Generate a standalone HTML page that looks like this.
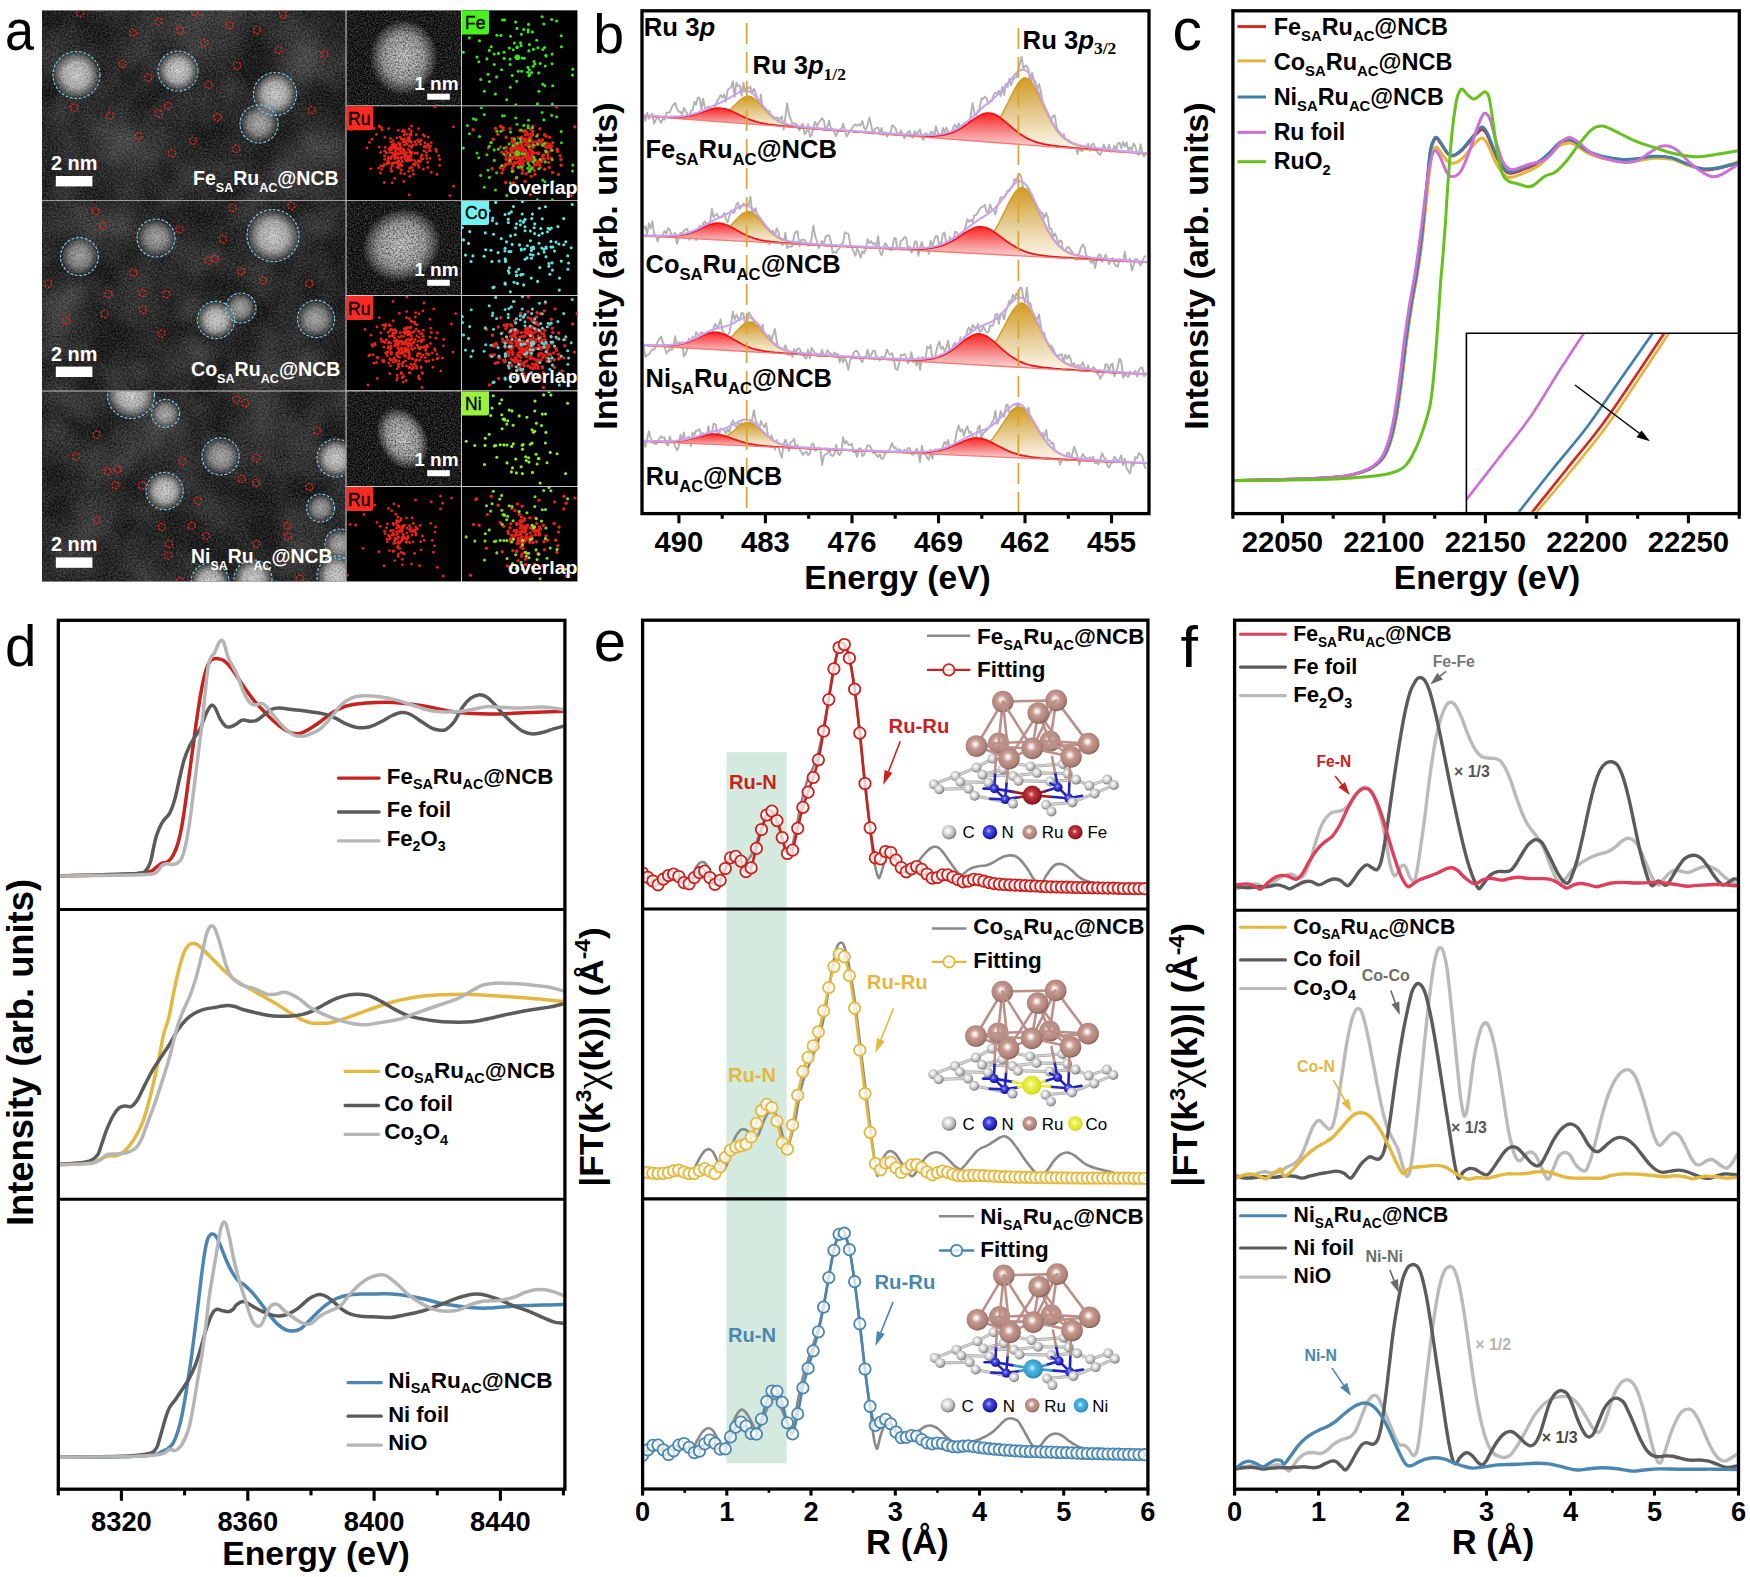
<!DOCTYPE html>
<html><head><meta charset="utf-8"><title>Figure</title>
<style>
html,body{margin:0;padding:0;background:#fff}
svg{display:block}
text{font-family:"Liberation Sans",Arial,sans-serif;white-space:pre}
.ser{font-family:"Liberation Serif","Times New Roman",serif}
</style></head><body>
<svg width="1750" height="1577" viewBox="0 0 1750 1577">
<rect width="1750" height="1577" fill="#fff"/>
<defs>
<filter id="stem" x="0" y="0" width="100%" height="100%" color-interpolation-filters="sRGB">
<feTurbulence type="fractalNoise" baseFrequency="0.55" numOctaves="2" seed="5" result="n1"/>
<feColorMatrix in="n1" type="matrix" values="0.34 0 0 0 -0.04  0.34 0 0 0 -0.04  0.34 0 0 0 -0.04  0 0 0 0 1" result="g1"/>
<feTurbulence type="fractalNoise" baseFrequency="0.025" numOctaves="2" seed="11" result="n2"/>
<feColorMatrix in="n2" type="matrix" values="0.24 0 0 0 -0.07  0.24 0 0 0 -0.07  0.24 0 0 0 -0.07  0 0 0 0 1" result="g2"/>
<feComposite in="g1" in2="g2" operator="arithmetic" k2="1" k3="1"/>
</filter>
<filter id="stem2" x="0" y="0" width="100%" height="100%" color-interpolation-filters="sRGB">
<feTurbulence type="fractalNoise" baseFrequency="0.7" numOctaves="2" seed="8" result="n1"/>
<feColorMatrix in="n1" type="matrix" values="0.6 0 0 0 -0.17  0.6 0 0 0 -0.17  0.6 0 0 0 -0.17  0 0 0 0 1"/>
</filter>
<filter id="speck" x="0" y="0" width="100%" height="100%" color-interpolation-filters="sRGB">
<feTurbulence type="fractalNoise" baseFrequency="0.6" numOctaves="1" seed="21" result="n1"/>
<feColorMatrix in="n1" type="matrix" values="0 0 0 0 0  0 0 0 0 0  0 0 0 0 0  2.4 0 0 0 -0.95"/>
</filter>
<filter id="bl1"><feGaussianBlur stdDeviation="0.45"/></filter>
<filter id="bl2"><feGaussianBlur stdDeviation="0.7"/></filter>
<filter id="bl6"><feGaussianBlur stdDeviation="5"/></filter>
<radialGradient id="blob"><stop offset="0" stop-color="#fff" stop-opacity="0.8"/><stop offset="0.55" stop-color="#fff" stop-opacity="0.64"/><stop offset="0.85" stop-color="#fff" stop-opacity="0.26"/><stop offset="1" stop-color="#fff" stop-opacity="0"/></radialGradient>
<radialGradient id="blobd"><stop offset="0" stop-color="#fff" stop-opacity="0.62"/><stop offset="0.55" stop-color="#fff" stop-opacity="0.45"/><stop offset="0.85" stop-color="#fff" stop-opacity="0.17"/><stop offset="1" stop-color="#fff" stop-opacity="0"/></radialGradient>
<radialGradient id="haze"><stop offset="0" stop-color="#fff" stop-opacity="0.13"/><stop offset="1" stop-color="#fff" stop-opacity="0"/></radialGradient>
<radialGradient id="part"><stop offset="0" stop-color="#fff" stop-opacity="0.78"/><stop offset="0.6" stop-color="#fff" stop-opacity="0.6"/><stop offset="0.85" stop-color="#fff" stop-opacity="0.25"/><stop offset="1" stop-color="#fff" stop-opacity="0"/></radialGradient>
<clipPath id="ca1"><rect x="42" y="10.4" width="303.5" height="189.8"/></clipPath>
<clipPath id="ca2"><rect x="42" y="201" width="303.5" height="189.6"/></clipPath>
<clipPath id="ca3"><rect x="42" y="391.6" width="303.5" height="189.8"/></clipPath>
</defs>
<rect x="42" y="10.4" width="535.4" height="571" fill="#c8c8c8"/>
<g clip-path="url(#ca1)">
<rect x="42" y="10.4" width="303.5" height="189.8" fill="#2c2c2c" filter="url(#stem)"/>
<circle cx="120" cy="150" r="60" fill="url(#haze)"/>
<circle cx="300" cy="60" r="40" fill="url(#haze)"/>
<circle cx="200" cy="30" r="50" fill="url(#haze)"/>
<circle cx="310" cy="170" r="50" fill="url(#haze)"/>
<circle cx="76.5" cy="75" r="23.5" fill="url(#blob)"/>
<circle cx="178" cy="71" r="20" fill="url(#blob)"/>
<circle cx="275" cy="94" r="21.5" fill="url(#blob)"/>
<circle cx="259" cy="124" r="19" fill="url(#blobd)"/>
<rect x="42" y="10.4" width="303.5" height="189.8" fill="#000" filter="url(#speck)" opacity="0.3"/>
<circle cx="76.5" cy="75" r="23.5" fill="none" stroke="#7fd0ee" stroke-width="1.15" stroke-dasharray="2.8 1.7"/>
<circle cx="178" cy="71" r="20" fill="none" stroke="#7fd0ee" stroke-width="1.15" stroke-dasharray="2.8 1.7"/>
<circle cx="275" cy="94" r="21.5" fill="none" stroke="#7fd0ee" stroke-width="1.15" stroke-dasharray="2.8 1.7"/>
<circle cx="259" cy="124" r="19" fill="none" stroke="#7fd0ee" stroke-width="1.15" stroke-dasharray="2.8 1.7"/>
<circle cx="80" cy="13" r="3.6" fill="none" stroke="#f0241c" stroke-width="1.25" stroke-dasharray="2.3 1.4"/>
<circle cx="195" cy="12.4" r="3.6" fill="none" stroke="#f0241c" stroke-width="1.25" stroke-dasharray="2.3 1.4"/>
<circle cx="283" cy="14.4" r="3.6" fill="none" stroke="#f0241c" stroke-width="1.25" stroke-dasharray="2.3 1.4"/>
<circle cx="158.4" cy="21.6" r="3.6" fill="none" stroke="#f0241c" stroke-width="1.25" stroke-dasharray="2.3 1.4"/>
<circle cx="180" cy="30.4" r="3.6" fill="none" stroke="#f0241c" stroke-width="1.25" stroke-dasharray="2.3 1.4"/>
<circle cx="229.4" cy="25.2" r="3.6" fill="none" stroke="#f0241c" stroke-width="1.25" stroke-dasharray="2.3 1.4"/>
<circle cx="257" cy="30" r="3.6" fill="none" stroke="#f0241c" stroke-width="1.25" stroke-dasharray="2.3 1.4"/>
<circle cx="133" cy="32.6" r="3.6" fill="none" stroke="#f0241c" stroke-width="1.25" stroke-dasharray="2.3 1.4"/>
<circle cx="204.4" cy="42.8" r="3.6" fill="none" stroke="#f0241c" stroke-width="1.25" stroke-dasharray="2.3 1.4"/>
<circle cx="278.6" cy="50" r="3.6" fill="none" stroke="#f0241c" stroke-width="1.25" stroke-dasharray="2.3 1.4"/>
<circle cx="324.2" cy="54.4" r="3.6" fill="none" stroke="#f0241c" stroke-width="1.25" stroke-dasharray="2.3 1.4"/>
<circle cx="122.4" cy="64" r="3.6" fill="none" stroke="#f0241c" stroke-width="1.25" stroke-dasharray="2.3 1.4"/>
<circle cx="237" cy="65.4" r="3.6" fill="none" stroke="#f0241c" stroke-width="1.25" stroke-dasharray="2.3 1.4"/>
<circle cx="148" cy="77.6" r="3.6" fill="none" stroke="#f0241c" stroke-width="1.25" stroke-dasharray="2.3 1.4"/>
<circle cx="208.6" cy="84.6" r="3.6" fill="none" stroke="#f0241c" stroke-width="1.25" stroke-dasharray="2.3 1.4"/>
<circle cx="74" cy="107.6" r="3.6" fill="none" stroke="#f0241c" stroke-width="1.25" stroke-dasharray="2.3 1.4"/>
<circle cx="110" cy="115.6" r="3.6" fill="none" stroke="#f0241c" stroke-width="1.25" stroke-dasharray="2.3 1.4"/>
<circle cx="168" cy="106" r="3.6" fill="none" stroke="#f0241c" stroke-width="1.25" stroke-dasharray="2.3 1.4"/>
<circle cx="158.2" cy="113.2" r="3.6" fill="none" stroke="#f0241c" stroke-width="1.25" stroke-dasharray="2.3 1.4"/>
<circle cx="217.4" cy="117.2" r="3.6" fill="none" stroke="#f0241c" stroke-width="1.25" stroke-dasharray="2.3 1.4"/>
<circle cx="311.6" cy="110" r="3.6" fill="none" stroke="#f0241c" stroke-width="1.25" stroke-dasharray="2.3 1.4"/>
<circle cx="138.6" cy="136" r="3.6" fill="none" stroke="#f0241c" stroke-width="1.25" stroke-dasharray="2.3 1.4"/>
<circle cx="193" cy="140.6" r="3.6" fill="none" stroke="#f0241c" stroke-width="1.25" stroke-dasharray="2.3 1.4"/>
<circle cx="172" cy="153" r="3.6" fill="none" stroke="#f0241c" stroke-width="1.25" stroke-dasharray="2.3 1.4"/>
<circle cx="236" cy="148.8" r="3.6" fill="none" stroke="#f0241c" stroke-width="1.25" stroke-dasharray="2.3 1.4"/>
</g>
<g clip-path="url(#ca2)">
<rect x="42" y="201" width="303.5" height="189.6" fill="#2c2c2c" filter="url(#stem)"/>
<circle cx="58" cy="305" r="35" fill="url(#haze)"/>
<circle cx="200" cy="355" r="25" fill="url(#haze)"/>
<circle cx="190" cy="310" r="18" fill="url(#haze)"/>
<circle cx="214" cy="255" r="14" fill="url(#haze)"/>
<circle cx="100" cy="230" r="40" fill="url(#haze)"/>
<circle cx="300" cy="370" r="40" fill="url(#haze)"/>
<circle cx="79.4" cy="256.6" r="19" fill="url(#blobd)"/>
<circle cx="156" cy="238" r="19" fill="url(#blobd)"/>
<circle cx="273" cy="235.6" r="26" fill="url(#blob)"/>
<circle cx="216" cy="320" r="18.6" fill="url(#blob)"/>
<circle cx="241" cy="308" r="15" fill="url(#blobd)"/>
<circle cx="316" cy="319" r="18.6" fill="url(#blobd)"/>
<rect x="42" y="201" width="303.5" height="189.6" fill="#000" filter="url(#speck)" opacity="0.3"/>
<circle cx="79.4" cy="256.6" r="19" fill="none" stroke="#7fd0ee" stroke-width="1.15" stroke-dasharray="2.8 1.7"/>
<circle cx="156" cy="238" r="19" fill="none" stroke="#7fd0ee" stroke-width="1.15" stroke-dasharray="2.8 1.7"/>
<circle cx="273" cy="235.6" r="26" fill="none" stroke="#7fd0ee" stroke-width="1.15" stroke-dasharray="2.8 1.7"/>
<circle cx="216" cy="320" r="18.6" fill="none" stroke="#7fd0ee" stroke-width="1.15" stroke-dasharray="2.8 1.7"/>
<circle cx="241" cy="308" r="15" fill="none" stroke="#7fd0ee" stroke-width="1.15" stroke-dasharray="2.8 1.7"/>
<circle cx="316" cy="319" r="18.6" fill="none" stroke="#7fd0ee" stroke-width="1.15" stroke-dasharray="2.8 1.7"/>
<circle cx="95.6" cy="211.4" r="3.6" fill="none" stroke="#f0241c" stroke-width="1.25" stroke-dasharray="2.3 1.4"/>
<circle cx="102.6" cy="225.4" r="3.6" fill="none" stroke="#f0241c" stroke-width="1.25" stroke-dasharray="2.3 1.4"/>
<circle cx="179.6" cy="229.4" r="3.6" fill="none" stroke="#f0241c" stroke-width="1.25" stroke-dasharray="2.3 1.4"/>
<circle cx="232.6" cy="207.8" r="3.6" fill="none" stroke="#f0241c" stroke-width="1.25" stroke-dasharray="2.3 1.4"/>
<circle cx="291.4" cy="206" r="3.6" fill="none" stroke="#f0241c" stroke-width="1.25" stroke-dasharray="2.3 1.4"/>
<circle cx="223" cy="239" r="3.6" fill="none" stroke="#f0241c" stroke-width="1.25" stroke-dasharray="2.3 1.4"/>
<circle cx="208.4" cy="260.4" r="3.6" fill="none" stroke="#f0241c" stroke-width="1.25" stroke-dasharray="2.3 1.4"/>
<circle cx="215" cy="258.6" r="3.6" fill="none" stroke="#f0241c" stroke-width="1.25" stroke-dasharray="2.3 1.4"/>
<circle cx="133.4" cy="272.6" r="3.6" fill="none" stroke="#f0241c" stroke-width="1.25" stroke-dasharray="2.3 1.4"/>
<circle cx="241.2" cy="271.2" r="3.6" fill="none" stroke="#f0241c" stroke-width="1.25" stroke-dasharray="2.3 1.4"/>
<circle cx="262.8" cy="280.4" r="3.6" fill="none" stroke="#f0241c" stroke-width="1.25" stroke-dasharray="2.3 1.4"/>
<circle cx="309.2" cy="283.4" r="3.6" fill="none" stroke="#f0241c" stroke-width="1.25" stroke-dasharray="2.3 1.4"/>
<circle cx="48.4" cy="283.4" r="3.6" fill="none" stroke="#f0241c" stroke-width="1.25" stroke-dasharray="2.3 1.4"/>
<circle cx="108.6" cy="294" r="3.6" fill="none" stroke="#f0241c" stroke-width="1.25" stroke-dasharray="2.3 1.4"/>
<circle cx="142.4" cy="293" r="3.6" fill="none" stroke="#f0241c" stroke-width="1.25" stroke-dasharray="2.3 1.4"/>
<circle cx="166.4" cy="294.2" r="3.6" fill="none" stroke="#f0241c" stroke-width="1.25" stroke-dasharray="2.3 1.4"/>
<circle cx="104.6" cy="314" r="3.6" fill="none" stroke="#f0241c" stroke-width="1.25" stroke-dasharray="2.3 1.4"/>
<circle cx="143" cy="309.6" r="3.6" fill="none" stroke="#f0241c" stroke-width="1.25" stroke-dasharray="2.3 1.4"/>
<circle cx="66.6" cy="320.8" r="3.6" fill="none" stroke="#f0241c" stroke-width="1.25" stroke-dasharray="2.3 1.4"/>
<circle cx="161.6" cy="333.6" r="3.6" fill="none" stroke="#f0241c" stroke-width="1.25" stroke-dasharray="2.3 1.4"/>
</g>
<g clip-path="url(#ca3)">
<rect x="42" y="391.6" width="303.5" height="189.8" fill="#2c2c2c" filter="url(#stem)"/>
<circle cx="150" cy="440" r="50" fill="url(#haze)"/>
<circle cx="90" cy="400" r="30" fill="url(#haze)"/>
<circle cx="260" cy="420" r="40" fill="url(#haze)"/>
<circle cx="300" cy="560" r="30" fill="url(#haze)"/>
<circle cx="80" cy="540" r="40" fill="url(#haze)"/>
<circle cx="131" cy="395" r="23.5" fill="url(#blob)"/>
<circle cx="165.6" cy="413.4" r="14" fill="url(#blobd)"/>
<circle cx="220.6" cy="456.4" r="18.6" fill="url(#blobd)"/>
<circle cx="164.6" cy="491" r="18.6" fill="url(#blob)"/>
<circle cx="336" cy="458" r="19" fill="url(#blob)"/>
<circle cx="320.6" cy="508" r="14" fill="url(#blobd)"/>
<circle cx="340" cy="544" r="15" fill="url(#blobd)"/>
<circle cx="210" cy="582" r="19" fill="url(#blob)"/>
<circle cx="253" cy="579" r="19" fill="url(#blob)"/>
<circle cx="337" cy="576" r="20" fill="url(#blob)"/>
<rect x="42" y="391.6" width="303.5" height="189.8" fill="#000" filter="url(#speck)" opacity="0.3"/>
<circle cx="131" cy="395" r="23.5" fill="none" stroke="#7fd0ee" stroke-width="1.15" stroke-dasharray="2.8 1.7"/>
<circle cx="165.6" cy="413.4" r="14" fill="none" stroke="#7fd0ee" stroke-width="1.15" stroke-dasharray="2.8 1.7"/>
<circle cx="220.6" cy="456.4" r="18.6" fill="none" stroke="#7fd0ee" stroke-width="1.15" stroke-dasharray="2.8 1.7"/>
<circle cx="164.6" cy="491" r="18.6" fill="none" stroke="#7fd0ee" stroke-width="1.15" stroke-dasharray="2.8 1.7"/>
<circle cx="336" cy="458" r="19" fill="none" stroke="#7fd0ee" stroke-width="1.15" stroke-dasharray="2.8 1.7"/>
<circle cx="320.6" cy="508" r="14" fill="none" stroke="#7fd0ee" stroke-width="1.15" stroke-dasharray="2.8 1.7"/>
<circle cx="340" cy="544" r="15" fill="none" stroke="#7fd0ee" stroke-width="1.15" stroke-dasharray="2.8 1.7"/>
<circle cx="210" cy="582" r="19" fill="none" stroke="#7fd0ee" stroke-width="1.15" stroke-dasharray="2.8 1.7"/>
<circle cx="253" cy="579" r="19" fill="none" stroke="#7fd0ee" stroke-width="1.15" stroke-dasharray="2.8 1.7"/>
<circle cx="337" cy="576" r="20" fill="none" stroke="#7fd0ee" stroke-width="1.15" stroke-dasharray="2.8 1.7"/>
<circle cx="236.4" cy="399.4" r="3.6" fill="none" stroke="#f0241c" stroke-width="1.25" stroke-dasharray="2.3 1.4"/>
<circle cx="245.2" cy="403" r="3.6" fill="none" stroke="#f0241c" stroke-width="1.25" stroke-dasharray="2.3 1.4"/>
<circle cx="96.6" cy="434.4" r="3.6" fill="none" stroke="#f0241c" stroke-width="1.25" stroke-dasharray="2.3 1.4"/>
<circle cx="316.8" cy="430.4" r="3.6" fill="none" stroke="#f0241c" stroke-width="1.25" stroke-dasharray="2.3 1.4"/>
<circle cx="76" cy="456.4" r="3.6" fill="none" stroke="#f0241c" stroke-width="1.25" stroke-dasharray="2.3 1.4"/>
<circle cx="182.4" cy="461.4" r="3.6" fill="none" stroke="#f0241c" stroke-width="1.25" stroke-dasharray="2.3 1.4"/>
<circle cx="256.2" cy="458" r="3.6" fill="none" stroke="#f0241c" stroke-width="1.25" stroke-dasharray="2.3 1.4"/>
<circle cx="107.6" cy="471" r="3.6" fill="none" stroke="#f0241c" stroke-width="1.25" stroke-dasharray="2.3 1.4"/>
<circle cx="117.2" cy="469.2" r="3.6" fill="none" stroke="#f0241c" stroke-width="1.25" stroke-dasharray="2.3 1.4"/>
<circle cx="115.4" cy="485.2" r="3.6" fill="none" stroke="#f0241c" stroke-width="1.25" stroke-dasharray="2.3 1.4"/>
<circle cx="142.2" cy="485.4" r="3.6" fill="none" stroke="#f0241c" stroke-width="1.25" stroke-dasharray="2.3 1.4"/>
<circle cx="241.6" cy="478.8" r="3.6" fill="none" stroke="#f0241c" stroke-width="1.25" stroke-dasharray="2.3 1.4"/>
<circle cx="256.2" cy="483" r="3.6" fill="none" stroke="#f0241c" stroke-width="1.25" stroke-dasharray="2.3 1.4"/>
<circle cx="309.4" cy="487" r="3.6" fill="none" stroke="#f0241c" stroke-width="1.25" stroke-dasharray="2.3 1.4"/>
<circle cx="198.2" cy="501.2" r="3.6" fill="none" stroke="#f0241c" stroke-width="1.25" stroke-dasharray="2.3 1.4"/>
<circle cx="96.6" cy="520.6" r="3.6" fill="none" stroke="#f0241c" stroke-width="1.25" stroke-dasharray="2.3 1.4"/>
<circle cx="161.8" cy="527" r="3.6" fill="none" stroke="#f0241c" stroke-width="1.25" stroke-dasharray="2.3 1.4"/>
<circle cx="191.8" cy="525.8" r="3.6" fill="none" stroke="#f0241c" stroke-width="1.25" stroke-dasharray="2.3 1.4"/>
<circle cx="206.2" cy="536" r="3.6" fill="none" stroke="#f0241c" stroke-width="1.25" stroke-dasharray="2.3 1.4"/>
<circle cx="287.6" cy="525.6" r="3.6" fill="none" stroke="#f0241c" stroke-width="1.25" stroke-dasharray="2.3 1.4"/>
<circle cx="287.6" cy="536" r="3.6" fill="none" stroke="#f0241c" stroke-width="1.25" stroke-dasharray="2.3 1.4"/>
<circle cx="168.8" cy="543.8" r="3.6" fill="none" stroke="#f0241c" stroke-width="1.25" stroke-dasharray="2.3 1.4"/>
<circle cx="256.4" cy="543.8" r="3.6" fill="none" stroke="#f0241c" stroke-width="1.25" stroke-dasharray="2.3 1.4"/>
<circle cx="168" cy="555.6" r="3.6" fill="none" stroke="#f0241c" stroke-width="1.25" stroke-dasharray="2.3 1.4"/>
<circle cx="300" cy="578.6" r="3.6" fill="none" stroke="#f0241c" stroke-width="1.25" stroke-dasharray="2.3 1.4"/>
<circle cx="180" cy="581" r="3.6" fill="none" stroke="#f0241c" stroke-width="1.25" stroke-dasharray="2.3 1.4"/>
</g>
<rect x="55.8" y="176" width="36.6" height="10.4" fill="#fff"/>
<text x="51" y="170" font-size="20" font-weight="bold" text-anchor="start" fill="#fff" textLength="46.4" lengthAdjust="spacingAndGlyphs">2 nm</text>
<text x="193" y="185" font-size="19.5" font-weight="bold" text-anchor="start" fill="#fff" textLength="145.6" lengthAdjust="spacingAndGlyphs">Fe<tspan font-size="12.5" dy="7">SA</tspan><tspan dy="-7">Ru</tspan><tspan font-size="12.5" dy="7">AC</tspan><tspan dy="-7">@NCB</tspan></text>
<rect x="55.8" y="366.6" width="36.6" height="10.4" fill="#fff"/>
<text x="51" y="360.6" font-size="20" font-weight="bold" text-anchor="start" fill="#fff" textLength="46.4" lengthAdjust="spacingAndGlyphs">2 nm</text>
<text x="191" y="375.6" font-size="19.5" font-weight="bold" text-anchor="start" fill="#fff" textLength="149.5" lengthAdjust="spacingAndGlyphs">Co<tspan font-size="12.5" dy="7">SA</tspan><tspan dy="-7">Ru</tspan><tspan font-size="12.5" dy="7">AC</tspan><tspan dy="-7">@NCB</tspan></text>
<rect x="55.8" y="557.4" width="36.6" height="10.4" fill="#fff"/>
<text x="51" y="550.6" font-size="20" font-weight="bold" text-anchor="start" fill="#fff" textLength="46.4" lengthAdjust="spacingAndGlyphs">2 nm</text>
<text x="191" y="562.7" font-size="19.5" font-weight="bold" text-anchor="start" fill="#fff" textLength="141.5" lengthAdjust="spacingAndGlyphs">Ni<tspan font-size="12.5" dy="7">SA</tspan><tspan dy="-7">Ru</tspan><tspan font-size="12.5" dy="7">AC</tspan><tspan dy="-7">@NCB</tspan></text>
<clipPath id="cs0a"><rect x="346.6" y="10.4" width="114.4" height="94.9"/></clipPath>
<clipPath id="cs0b"><rect x="462" y="10.4" width="115.4" height="94.9"/></clipPath>
<clipPath id="cs0c"><rect x="346.6" y="106.3" width="114.4" height="93.9"/></clipPath>
<clipPath id="cs0d"><rect x="462" y="106.3" width="115.4" height="93.9"/></clipPath>
<g clip-path="url(#cs0a)">
<rect x="346.6" y="10.4" width="114.4" height="94.9" fill="#222" filter="url(#stem2)"/>
<ellipse cx="403.6" cy="57.4" rx="34" ry="38" fill="url(#part)" transform="rotate(0 403.6 57.4)"/>
<rect x="346.6" y="10.4" width="114.4" height="94.9" fill="#000" filter="url(#speck)" opacity="0.6"/>
</g>
<rect x="427.2" y="93.7" width="22.6" height="6" fill="#fff"/>
<text x="414.3" y="89.8" font-size="19" font-weight="bold" text-anchor="start" fill="#fff" textLength="44.3" lengthAdjust="spacingAndGlyphs">1 nm</text>
<rect x="462" y="10.4" width="115.4" height="94.9" fill="#000"/>
<g clip-path="url(#cs0b)" fill="#38e61e" filter="url(#bl1)"><circle cx="538.8" cy="72.9" r="1.55"/><circle cx="528.5" cy="24.4" r="1.55"/><circle cx="521.3" cy="34.2" r="1.55"/><circle cx="532.4" cy="31.9" r="1.55"/><circle cx="545.3" cy="66" r="1.55"/><circle cx="572.8" cy="69.2" r="1.55"/><circle cx="542.8" cy="49.5" r="1.55"/><circle cx="510.3" cy="87.2" r="1.55"/><circle cx="527.9" cy="67.4" r="1.55"/><circle cx="531.6" cy="72.5" r="1.55"/><circle cx="484.3" cy="18.7" r="1.55"/><circle cx="537.4" cy="103.9" r="1.55"/><circle cx="479.5" cy="40.7" r="1.55"/><circle cx="529.4" cy="44.6" r="1.55"/><circle cx="517.3" cy="47.1" r="1.55"/><circle cx="546.1" cy="56.1" r="1.55"/><circle cx="528.2" cy="29.8" r="1.55"/><circle cx="538.9" cy="91.3" r="1.55"/><circle cx="537.9" cy="47.8" r="1.55"/><circle cx="494.3" cy="64.5" r="1.55"/><circle cx="533.4" cy="49.4" r="1.55"/><circle cx="469.4" cy="37.9" r="1.55"/><circle cx="496.9" cy="35.3" r="1.55"/><circle cx="528.1" cy="31.9" r="1.55"/><circle cx="516.7" cy="81.3" r="1.55"/><circle cx="504.1" cy="52.2" r="1.55"/><circle cx="536.7" cy="40.3" r="1.55"/><circle cx="486.9" cy="58.9" r="1.55"/><circle cx="542.1" cy="16.7" r="1.55"/><circle cx="514.3" cy="43" r="1.55"/><circle cx="551.7" cy="19.5" r="1.55"/><circle cx="515.7" cy="22.1" r="1.55"/><circle cx="498.4" cy="53.4" r="1.55"/><circle cx="513.2" cy="49.8" r="1.55"/><circle cx="504.4" cy="19.9" r="1.55"/><circle cx="542.8" cy="84.2" r="1.55"/><circle cx="521" cy="45.6" r="1.55"/><circle cx="552.1" cy="63.8" r="1.55"/><circle cx="527.7" cy="72.3" r="1.55"/><circle cx="500.9" cy="35.4" r="1.55"/><circle cx="523.8" cy="29.5" r="1.55"/><circle cx="522.2" cy="58.1" r="1.55"/><circle cx="534.9" cy="64" r="1.55"/><circle cx="489.3" cy="50.4" r="1.55"/><circle cx="529.6" cy="74.6" r="1.55"/><circle cx="544.5" cy="47.5" r="1.55"/><circle cx="517" cy="28.4" r="1.55"/><circle cx="510.5" cy="36.2" r="1.55"/><circle cx="491.2" cy="46.7" r="1.55"/><circle cx="544.9" cy="85.8" r="1.55"/><circle cx="528.8" cy="50.9" r="1.55"/><circle cx="529.3" cy="69.7" r="1.55"/><circle cx="534" cy="61.5" r="1.55"/><circle cx="516.9" cy="47.4" r="1.55"/><circle cx="572.5" cy="75.1" r="1.55"/><circle cx="501.6" cy="69.8" r="1.55"/><circle cx="504.1" cy="58.4" r="1.55"/><circle cx="510.1" cy="59.1" r="1.55"/><circle cx="509.3" cy="48.1" r="1.55"/><circle cx="533.2" cy="66.2" r="1.55"/><circle cx="480.7" cy="79.5" r="1.55"/><circle cx="473.5" cy="23" r="1.55"/><circle cx="510.1" cy="64.5" r="1.55"/><circle cx="520.5" cy="42.8" r="1.55"/><circle cx="545.9" cy="55.2" r="1.55"/><circle cx="521.7" cy="71.2" r="1.55"/><circle cx="506.7" cy="99.7" r="1.55"/><circle cx="552.1" cy="54.1" r="1.55"/><circle cx="524.3" cy="58.2" r="1.55"/><circle cx="540.2" cy="63.5" r="1.55"/><circle cx="467.3" cy="29.7" r="1.55"/><circle cx="543.8" cy="24" r="1.55"/><circle cx="561.2" cy="35.7" r="1.55"/><circle cx="463.3" cy="52.2" r="1.55"/><circle cx="481.3" cy="11.9" r="1.55"/><circle cx="494.1" cy="54" r="1.55"/><circle cx="484.3" cy="91.3" r="1.55"/><circle cx="496.6" cy="76.9" r="1.55"/><circle cx="502.5" cy="20" r="1.55"/><circle cx="512.2" cy="75.5" r="1.55"/><circle cx="518.2" cy="71.3" r="1.55"/><circle cx="476" cy="23.7" r="1.55"/><circle cx="477" cy="57.1" r="1.55"/><circle cx="561.4" cy="46.8" r="1.55"/><circle cx="556.7" cy="21" r="1.55"/><circle cx="488" cy="74.3" r="1.55"/><circle cx="552.7" cy="85.7" r="1.55"/><circle cx="478.8" cy="61.8" r="1.55"/><circle cx="489.4" cy="81.5" r="1.55"/><circle cx="528.9" cy="75.7" r="1.55"/><circle cx="552.4" cy="104" r="1.55"/><circle cx="515.8" cy="104.8" r="1.55"/><circle cx="495.4" cy="94.1" r="1.55"/><circle cx="517.3" cy="57.3" r="2.9"/></g>
<path d="M462 10.4 h27 v21.5 q0 2.5 -2.5 2.5 h-24.5 z" fill="#48f01e"/>
<text x="465" y="28.7" font-size="17.5" font-weight="normal" text-anchor="start" fill="#000" stroke="#000" stroke-width="0.35">Fe</text>
<rect x="346.6" y="106.3" width="114.4" height="93.9" fill="#000"/>
<g clip-path="url(#cs0c)" fill="#f0241a" filter="url(#bl1)"><circle cx="392.7" cy="146.7" r="1.4"/><circle cx="417" cy="153.4" r="1.4"/><circle cx="410.4" cy="141.5" r="1.4"/><circle cx="396" cy="149.7" r="1.4"/><circle cx="391.1" cy="158.6" r="1.4"/><circle cx="410.6" cy="160.5" r="1.4"/><circle cx="427.8" cy="167.4" r="1.4"/><circle cx="386.2" cy="153" r="1.4"/><circle cx="406.7" cy="134.3" r="1.4"/><circle cx="394.8" cy="178.3" r="1.4"/><circle cx="369.5" cy="142.4" r="1.4"/><circle cx="401.5" cy="164.8" r="1.4"/><circle cx="427.5" cy="162.4" r="1.4"/><circle cx="384.8" cy="137.3" r="1.4"/><circle cx="380.5" cy="173" r="1.4"/><circle cx="403.8" cy="130.4" r="1.4"/><circle cx="430" cy="158.3" r="1.4"/><circle cx="426.2" cy="147.6" r="1.4"/><circle cx="384.7" cy="159.3" r="1.4"/><circle cx="402.3" cy="161.5" r="1.4"/><circle cx="419.8" cy="142.1" r="1.4"/><circle cx="411.2" cy="146.8" r="1.4"/><circle cx="381" cy="165.8" r="1.4"/><circle cx="414.8" cy="165" r="1.4"/><circle cx="393.3" cy="155.9" r="1.4"/><circle cx="404" cy="135" r="1.4"/><circle cx="383.5" cy="165.6" r="1.4"/><circle cx="409.8" cy="152.5" r="1.4"/><circle cx="415.1" cy="153.1" r="1.4"/><circle cx="394.6" cy="156.9" r="1.4"/><circle cx="421.3" cy="158.5" r="1.4"/><circle cx="418" cy="164.7" r="1.4"/><circle cx="428.1" cy="144.3" r="1.4"/><circle cx="407.9" cy="160.7" r="1.4"/><circle cx="414.8" cy="141.7" r="1.4"/><circle cx="417.3" cy="152.9" r="1.4"/><circle cx="390.5" cy="147.5" r="1.4"/><circle cx="418" cy="160.9" r="1.4"/><circle cx="389.5" cy="152.3" r="1.4"/><circle cx="426.3" cy="152.4" r="1.4"/><circle cx="404.2" cy="154.5" r="1.4"/><circle cx="410.6" cy="157.1" r="1.4"/><circle cx="407.3" cy="156.3" r="1.4"/><circle cx="405.9" cy="142.7" r="1.4"/><circle cx="394.3" cy="162.9" r="1.4"/><circle cx="391.1" cy="157" r="1.4"/><circle cx="384.8" cy="151.2" r="1.4"/><circle cx="399" cy="167.6" r="1.4"/><circle cx="409.2" cy="160.3" r="1.4"/><circle cx="397.3" cy="163.3" r="1.4"/><circle cx="397.3" cy="167.3" r="1.4"/><circle cx="396.8" cy="137.9" r="1.4"/><circle cx="404.9" cy="154.4" r="1.4"/><circle cx="407" cy="160.6" r="1.4"/><circle cx="411.3" cy="130.9" r="1.4"/><circle cx="413.5" cy="174.2" r="1.4"/><circle cx="417.7" cy="139.9" r="1.4"/><circle cx="391.6" cy="148.7" r="1.4"/><circle cx="395.2" cy="146.8" r="1.4"/><circle cx="390.8" cy="168.5" r="1.4"/><circle cx="403.7" cy="181.4" r="1.4"/><circle cx="400.7" cy="158.7" r="1.4"/><circle cx="394.6" cy="147" r="1.4"/><circle cx="387.6" cy="161.1" r="1.4"/><circle cx="406.7" cy="161" r="1.4"/><circle cx="388.7" cy="128.7" r="1.4"/><circle cx="409.3" cy="156.5" r="1.4"/><circle cx="408.5" cy="157.3" r="1.4"/><circle cx="422.9" cy="158.8" r="1.4"/><circle cx="392" cy="152.8" r="1.4"/><circle cx="393.3" cy="162.8" r="1.4"/><circle cx="391.2" cy="171.2" r="1.4"/><circle cx="414.5" cy="160.6" r="1.4"/><circle cx="396.7" cy="154.8" r="1.4"/><circle cx="394.8" cy="156.8" r="1.4"/><circle cx="401.4" cy="148" r="1.4"/><circle cx="405.9" cy="159.8" r="1.4"/><circle cx="420.6" cy="161" r="1.4"/><circle cx="409.8" cy="176.4" r="1.4"/><circle cx="401" cy="153.4" r="1.4"/><circle cx="384.3" cy="182.5" r="1.4"/><circle cx="411.5" cy="126.1" r="1.4"/><circle cx="408.1" cy="158.3" r="1.4"/><circle cx="419" cy="167.4" r="1.4"/><circle cx="408.3" cy="149.5" r="1.4"/><circle cx="418.5" cy="160.8" r="1.4"/><circle cx="400.8" cy="165.5" r="1.4"/><circle cx="370.7" cy="168.8" r="1.4"/><circle cx="404.7" cy="173.8" r="1.4"/><circle cx="409.6" cy="168.2" r="1.4"/><circle cx="399.4" cy="153.8" r="1.4"/><circle cx="424.1" cy="146.9" r="1.4"/><circle cx="371.9" cy="139.2" r="1.4"/><circle cx="399.3" cy="149.4" r="1.4"/><circle cx="398.2" cy="160.8" r="1.4"/><circle cx="436.2" cy="151.4" r="1.4"/><circle cx="398.3" cy="130.3" r="1.4"/><circle cx="397.9" cy="153.5" r="1.4"/><circle cx="429.4" cy="150.6" r="1.4"/><circle cx="424.9" cy="142.9" r="1.4"/><circle cx="387.8" cy="163.3" r="1.4"/><circle cx="431.2" cy="172.4" r="1.4"/><circle cx="409.3" cy="145.8" r="1.4"/><circle cx="395.1" cy="147.9" r="1.4"/><circle cx="386.9" cy="163.7" r="1.4"/><circle cx="398.3" cy="166.6" r="1.4"/><circle cx="431.3" cy="142.6" r="1.4"/><circle cx="409.1" cy="129" r="1.4"/><circle cx="401.3" cy="170" r="1.4"/><circle cx="376.5" cy="134.3" r="1.4"/><circle cx="426.7" cy="158.4" r="1.4"/><circle cx="393" cy="140.7" r="1.4"/><circle cx="384.6" cy="156" r="1.4"/><circle cx="407.7" cy="140.4" r="1.4"/><circle cx="398.6" cy="142.8" r="1.4"/><circle cx="420.6" cy="144.3" r="1.4"/><circle cx="412.9" cy="145.3" r="1.4"/><circle cx="415.9" cy="144.2" r="1.4"/><circle cx="429.2" cy="147.7" r="1.4"/><circle cx="415.8" cy="162.8" r="1.4"/><circle cx="394.8" cy="158.7" r="1.4"/><circle cx="402.1" cy="157.4" r="1.4"/><circle cx="411.9" cy="152.5" r="1.4"/><circle cx="421.1" cy="139.9" r="1.4"/><circle cx="400.3" cy="163.4" r="1.4"/><circle cx="411.4" cy="142.3" r="1.4"/><circle cx="413.5" cy="164.1" r="1.4"/><circle cx="403.4" cy="153.1" r="1.4"/><circle cx="397.5" cy="148" r="1.4"/><circle cx="379.1" cy="147.1" r="1.4"/><circle cx="406.8" cy="144.2" r="1.4"/><circle cx="408.9" cy="141.1" r="1.4"/><circle cx="388.9" cy="162.5" r="1.4"/><circle cx="392.2" cy="164.1" r="1.4"/><circle cx="427.7" cy="145.4" r="1.4"/><circle cx="401.1" cy="157.7" r="1.4"/><circle cx="403.7" cy="150.3" r="1.4"/><circle cx="385.1" cy="147.4" r="1.4"/><circle cx="424.7" cy="146.1" r="1.4"/><circle cx="407.8" cy="138.1" r="1.4"/><circle cx="388.3" cy="157.4" r="1.4"/><circle cx="406.5" cy="152.7" r="1.4"/><circle cx="400.3" cy="145.5" r="1.4"/><circle cx="388.3" cy="158.8" r="1.4"/><circle cx="409" cy="157.8" r="1.4"/><circle cx="379.8" cy="127" r="1.4"/><circle cx="411.7" cy="159.8" r="1.4"/><circle cx="389.2" cy="149" r="1.4"/><circle cx="412.9" cy="170.5" r="1.4"/><circle cx="393.4" cy="145.3" r="1.4"/><circle cx="390" cy="150" r="1.4"/><circle cx="396.7" cy="162.4" r="1.4"/><circle cx="423.3" cy="169.2" r="1.4"/><circle cx="421.1" cy="156.1" r="1.4"/><circle cx="400.1" cy="137.2" r="1.4"/><circle cx="411.6" cy="167.5" r="1.4"/><circle cx="404.5" cy="139" r="1.4"/><circle cx="395.6" cy="146.3" r="1.4"/><circle cx="392.2" cy="182.9" r="1.4"/><circle cx="384.2" cy="164.5" r="1.4"/><circle cx="404.2" cy="151.5" r="1.4"/><circle cx="424" cy="151" r="1.4"/><circle cx="410.3" cy="168" r="1.4"/><circle cx="404.3" cy="145.1" r="1.4"/><circle cx="411.2" cy="154.8" r="1.4"/><circle cx="422.1" cy="154.9" r="1.4"/><circle cx="411.4" cy="153.2" r="1.4"/><circle cx="411.1" cy="133.5" r="1.4"/><circle cx="438.8" cy="155.7" r="1.4"/><circle cx="395.1" cy="147.7" r="1.4"/><circle cx="430.4" cy="150.6" r="1.4"/><circle cx="383" cy="166.3" r="1.4"/><circle cx="393.4" cy="144" r="1.4"/><circle cx="398.7" cy="164.7" r="1.4"/><circle cx="428.2" cy="137.2" r="1.4"/><circle cx="405.2" cy="141.7" r="1.4"/><circle cx="397.4" cy="157.8" r="1.4"/><circle cx="374" cy="128.5" r="1.4"/><circle cx="390.5" cy="138.4" r="1.4"/><circle cx="401.8" cy="165.6" r="1.4"/><circle cx="400" cy="150.5" r="1.4"/><circle cx="409.5" cy="139.8" r="1.4"/><circle cx="389.5" cy="163.1" r="1.4"/><circle cx="409.7" cy="134.4" r="1.4"/><circle cx="400" cy="148" r="1.4"/><circle cx="416.3" cy="144.5" r="1.4"/><circle cx="393.3" cy="153.6" r="1.4"/><circle cx="391.7" cy="171.1" r="1.4"/><circle cx="394.8" cy="148.6" r="1.4"/><circle cx="405.6" cy="155.3" r="1.4"/><circle cx="439.7" cy="165.3" r="1.4"/><circle cx="404.8" cy="132" r="1.4"/><circle cx="426.5" cy="155.4" r="1.4"/><circle cx="400.9" cy="173.2" r="1.4"/><circle cx="411" cy="135.1" r="1.4"/><circle cx="391.9" cy="144.8" r="1.4"/><circle cx="396" cy="145.5" r="1.4"/><circle cx="396.5" cy="157.8" r="1.4"/><circle cx="404.6" cy="156.8" r="1.4"/><circle cx="410.1" cy="151" r="1.4"/><circle cx="401.2" cy="138.8" r="1.4"/><circle cx="403.1" cy="139.7" r="1.4"/><circle cx="404" cy="150.2" r="1.4"/><circle cx="394.2" cy="143.6" r="1.4"/><circle cx="391.5" cy="149.6" r="1.4"/><circle cx="403.3" cy="139.7" r="1.4"/><circle cx="416.3" cy="134.7" r="1.4"/><circle cx="398" cy="158" r="1.4"/><circle cx="398.6" cy="143.9" r="1.4"/><circle cx="394.6" cy="155.4" r="1.4"/><circle cx="423.2" cy="134.7" r="1.4"/><circle cx="397.9" cy="154.1" r="1.4"/><circle cx="381.7" cy="169.3" r="1.4"/><circle cx="424.6" cy="136.2" r="1.4"/><circle cx="378.7" cy="167.9" r="1.4"/><circle cx="395.4" cy="153.3" r="1.4"/><circle cx="405.5" cy="158.7" r="1.4"/><circle cx="380.5" cy="152.3" r="1.4"/><circle cx="419.4" cy="161.7" r="1.4"/><circle cx="402.3" cy="131.4" r="1.4"/><circle cx="392.9" cy="147.5" r="1.4"/><circle cx="409.3" cy="137.5" r="1.4"/><circle cx="408.7" cy="141.4" r="1.4"/><circle cx="387.9" cy="161.9" r="1.4"/><circle cx="398.1" cy="148.8" r="1.4"/><circle cx="411.6" cy="147.3" r="1.4"/><circle cx="413.4" cy="164.5" r="1.4"/><circle cx="399" cy="161.1" r="1.4"/><circle cx="367" cy="147.9" r="1.4"/><circle cx="391.9" cy="165.9" r="1.4"/><circle cx="408.6" cy="171.3" r="1.4"/><circle cx="400.1" cy="143.6" r="1.4"/><circle cx="403.2" cy="142.1" r="1.4"/><circle cx="418.5" cy="128.7" r="1.4"/><circle cx="418.5" cy="141.6" r="1.4"/><circle cx="395.1" cy="151.6" r="1.4"/><circle cx="401.1" cy="151.7" r="1.4"/><circle cx="430.4" cy="146.1" r="1.4"/><circle cx="403.2" cy="149.3" r="1.4"/><circle cx="390.7" cy="141.8" r="1.4"/><circle cx="381.8" cy="130.1" r="1.4"/><circle cx="439.6" cy="159.4" r="1.4"/><circle cx="435.8" cy="149.3" r="1.4"/><circle cx="453.6" cy="186.2" r="1.4"/><circle cx="409.2" cy="194.8" r="1.4"/><circle cx="379.2" cy="126.2" r="1.4"/><circle cx="449.9" cy="195.6" r="1.4"/><circle cx="437" cy="174.4" r="1.4"/><circle cx="351.7" cy="129.7" r="1.4"/><circle cx="435.1" cy="106.9" r="1.4"/><circle cx="381.7" cy="127.8" r="1.4"/><circle cx="453.4" cy="126.9" r="1.4"/></g>
<path d="M346.6 106.3 h26.5 v21.5 q0 2.5 -2.5 2.5 h-24 z" fill="#fa2a22"/>
<text x="348.1" y="124.8" font-size="17.5" font-weight="normal" text-anchor="start" fill="#000" stroke="#000" stroke-width="0.35">Ru</text>
<rect x="462" y="106.3" width="115.4" height="93.9" fill="#000"/>
<g clip-path="url(#cs0d)" fill="#e8201a" filter="url(#bl2)"><circle cx="514.1" cy="146.7" r="1.7"/><circle cx="538.4" cy="153.4" r="1.7"/><circle cx="531.8" cy="141.5" r="1.7"/><circle cx="517.4" cy="149.7" r="1.7"/><circle cx="512.5" cy="158.6" r="1.7"/><circle cx="532" cy="160.5" r="1.7"/><circle cx="549.2" cy="167.4" r="1.7"/><circle cx="507.6" cy="153" r="1.7"/><circle cx="528.1" cy="134.3" r="1.7"/><circle cx="516.2" cy="178.3" r="1.7"/><circle cx="490.9" cy="142.4" r="1.7"/><circle cx="522.9" cy="164.8" r="1.7"/><circle cx="548.9" cy="162.4" r="1.7"/><circle cx="506.2" cy="137.3" r="1.7"/><circle cx="501.9" cy="173" r="1.7"/><circle cx="525.2" cy="130.4" r="1.7"/><circle cx="551.4" cy="158.3" r="1.7"/><circle cx="547.6" cy="147.6" r="1.7"/><circle cx="506.1" cy="159.3" r="1.7"/><circle cx="523.7" cy="161.5" r="1.7"/><circle cx="541.2" cy="142.1" r="1.7"/><circle cx="532.6" cy="146.8" r="1.7"/><circle cx="502.4" cy="165.8" r="1.7"/><circle cx="536.2" cy="165" r="1.7"/><circle cx="514.7" cy="155.9" r="1.7"/><circle cx="525.4" cy="135" r="1.7"/><circle cx="504.9" cy="165.6" r="1.7"/><circle cx="531.2" cy="152.5" r="1.7"/><circle cx="536.5" cy="153.1" r="1.7"/><circle cx="516" cy="156.9" r="1.7"/><circle cx="542.7" cy="158.5" r="1.7"/><circle cx="539.4" cy="164.7" r="1.7"/><circle cx="549.5" cy="144.3" r="1.7"/><circle cx="529.3" cy="160.7" r="1.7"/><circle cx="536.2" cy="141.7" r="1.7"/><circle cx="538.7" cy="152.9" r="1.7"/><circle cx="511.9" cy="147.5" r="1.7"/><circle cx="539.4" cy="160.9" r="1.7"/><circle cx="510.9" cy="152.3" r="1.7"/><circle cx="547.7" cy="152.4" r="1.7"/><circle cx="525.6" cy="154.5" r="1.7"/><circle cx="532" cy="157.1" r="1.7"/><circle cx="528.7" cy="156.3" r="1.7"/><circle cx="527.3" cy="142.7" r="1.7"/><circle cx="515.7" cy="162.9" r="1.7"/><circle cx="512.5" cy="157" r="1.7"/><circle cx="506.2" cy="151.2" r="1.7"/><circle cx="520.4" cy="167.6" r="1.7"/><circle cx="530.6" cy="160.3" r="1.7"/><circle cx="518.7" cy="163.3" r="1.7"/><circle cx="518.7" cy="167.3" r="1.7"/><circle cx="518.2" cy="137.9" r="1.7"/><circle cx="526.3" cy="154.4" r="1.7"/><circle cx="528.4" cy="160.6" r="1.7"/><circle cx="532.7" cy="130.9" r="1.7"/><circle cx="534.9" cy="174.2" r="1.7"/><circle cx="539.1" cy="139.9" r="1.7"/><circle cx="513" cy="148.7" r="1.7"/><circle cx="516.6" cy="146.8" r="1.7"/><circle cx="512.2" cy="168.5" r="1.7"/><circle cx="525.1" cy="181.4" r="1.7"/><circle cx="522.1" cy="158.7" r="1.7"/><circle cx="516" cy="147" r="1.7"/><circle cx="509" cy="161.1" r="1.7"/><circle cx="528.1" cy="161" r="1.7"/><circle cx="510.1" cy="128.7" r="1.7"/><circle cx="530.7" cy="156.5" r="1.7"/><circle cx="529.9" cy="157.3" r="1.7"/><circle cx="544.3" cy="158.8" r="1.7"/><circle cx="513.4" cy="152.8" r="1.7"/><circle cx="514.7" cy="162.8" r="1.7"/><circle cx="512.6" cy="171.2" r="1.7"/><circle cx="535.9" cy="160.6" r="1.7"/><circle cx="518.1" cy="154.8" r="1.7"/><circle cx="516.2" cy="156.8" r="1.7"/><circle cx="522.8" cy="148" r="1.7"/><circle cx="527.3" cy="159.8" r="1.7"/><circle cx="542" cy="161" r="1.7"/><circle cx="531.2" cy="176.4" r="1.7"/><circle cx="522.4" cy="153.4" r="1.7"/><circle cx="505.7" cy="182.5" r="1.7"/><circle cx="532.9" cy="126.1" r="1.7"/><circle cx="529.5" cy="158.3" r="1.7"/><circle cx="540.4" cy="167.4" r="1.7"/><circle cx="529.7" cy="149.5" r="1.7"/><circle cx="539.9" cy="160.8" r="1.7"/><circle cx="522.2" cy="165.5" r="1.7"/><circle cx="492.1" cy="168.8" r="1.7"/><circle cx="526.1" cy="173.8" r="1.7"/><circle cx="531" cy="168.2" r="1.7"/><circle cx="520.8" cy="153.8" r="1.7"/><circle cx="545.5" cy="146.9" r="1.7"/><circle cx="493.3" cy="139.2" r="1.7"/><circle cx="520.7" cy="149.4" r="1.7"/><circle cx="519.6" cy="160.8" r="1.7"/><circle cx="557.6" cy="151.4" r="1.7"/><circle cx="519.7" cy="130.3" r="1.7"/><circle cx="519.3" cy="153.5" r="1.7"/><circle cx="550.8" cy="150.6" r="1.7"/><circle cx="546.3" cy="142.9" r="1.7"/><circle cx="509.2" cy="163.3" r="1.7"/><circle cx="552.6" cy="172.4" r="1.7"/><circle cx="530.7" cy="145.8" r="1.7"/><circle cx="516.5" cy="147.9" r="1.7"/><circle cx="508.3" cy="163.7" r="1.7"/><circle cx="519.7" cy="166.6" r="1.7"/><circle cx="552.7" cy="142.6" r="1.7"/><circle cx="530.5" cy="129" r="1.7"/><circle cx="522.7" cy="170" r="1.7"/><circle cx="497.9" cy="134.3" r="1.7"/><circle cx="548.1" cy="158.4" r="1.7"/><circle cx="514.4" cy="140.7" r="1.7"/><circle cx="506" cy="156" r="1.7"/><circle cx="529.1" cy="140.4" r="1.7"/><circle cx="520" cy="142.8" r="1.7"/><circle cx="542" cy="144.3" r="1.7"/><circle cx="534.3" cy="145.3" r="1.7"/><circle cx="537.3" cy="144.2" r="1.7"/><circle cx="550.6" cy="147.7" r="1.7"/><circle cx="537.2" cy="162.8" r="1.7"/><circle cx="516.2" cy="158.7" r="1.7"/><circle cx="523.5" cy="157.4" r="1.7"/><circle cx="533.3" cy="152.5" r="1.7"/><circle cx="542.5" cy="139.9" r="1.7"/><circle cx="521.7" cy="163.4" r="1.7"/><circle cx="532.8" cy="142.3" r="1.7"/><circle cx="534.9" cy="164.1" r="1.7"/><circle cx="524.8" cy="153.1" r="1.7"/><circle cx="518.9" cy="148" r="1.7"/><circle cx="500.5" cy="147.1" r="1.7"/><circle cx="528.2" cy="144.2" r="1.7"/><circle cx="530.3" cy="141.1" r="1.7"/><circle cx="510.3" cy="162.5" r="1.7"/><circle cx="513.6" cy="164.1" r="1.7"/><circle cx="549.1" cy="145.4" r="1.7"/><circle cx="522.5" cy="157.7" r="1.7"/><circle cx="525.1" cy="150.3" r="1.7"/><circle cx="506.5" cy="147.4" r="1.7"/><circle cx="546.1" cy="146.1" r="1.7"/><circle cx="529.2" cy="138.1" r="1.7"/><circle cx="509.7" cy="157.4" r="1.7"/><circle cx="527.9" cy="152.7" r="1.7"/><circle cx="521.7" cy="145.5" r="1.7"/><circle cx="509.7" cy="158.8" r="1.7"/><circle cx="530.4" cy="157.8" r="1.7"/><circle cx="501.2" cy="127" r="1.7"/><circle cx="533.1" cy="159.8" r="1.7"/><circle cx="510.6" cy="149" r="1.7"/><circle cx="534.3" cy="170.5" r="1.7"/><circle cx="514.8" cy="145.3" r="1.7"/><circle cx="511.4" cy="150" r="1.7"/><circle cx="518.1" cy="162.4" r="1.7"/><circle cx="544.7" cy="169.2" r="1.7"/><circle cx="542.5" cy="156.1" r="1.7"/><circle cx="521.5" cy="137.2" r="1.7"/><circle cx="533" cy="167.5" r="1.7"/><circle cx="525.9" cy="139" r="1.7"/><circle cx="517" cy="146.3" r="1.7"/><circle cx="513.6" cy="182.9" r="1.7"/><circle cx="505.6" cy="164.5" r="1.7"/><circle cx="525.6" cy="151.5" r="1.7"/><circle cx="545.4" cy="151" r="1.7"/><circle cx="531.7" cy="168" r="1.7"/><circle cx="525.7" cy="145.1" r="1.7"/><circle cx="532.6" cy="154.8" r="1.7"/><circle cx="543.5" cy="154.9" r="1.7"/><circle cx="532.8" cy="153.2" r="1.7"/><circle cx="532.5" cy="133.5" r="1.7"/><circle cx="560.2" cy="155.7" r="1.7"/><circle cx="516.5" cy="147.7" r="1.7"/><circle cx="551.8" cy="150.6" r="1.7"/><circle cx="504.4" cy="166.3" r="1.7"/><circle cx="514.8" cy="144" r="1.7"/><circle cx="520.1" cy="164.7" r="1.7"/><circle cx="549.6" cy="137.2" r="1.7"/><circle cx="526.6" cy="141.7" r="1.7"/><circle cx="518.8" cy="157.8" r="1.7"/><circle cx="495.4" cy="128.5" r="1.7"/><circle cx="511.9" cy="138.4" r="1.7"/><circle cx="523.2" cy="165.6" r="1.7"/><circle cx="521.4" cy="150.5" r="1.7"/><circle cx="530.9" cy="139.8" r="1.7"/><circle cx="510.9" cy="163.1" r="1.7"/><circle cx="531.1" cy="134.4" r="1.7"/><circle cx="521.4" cy="148" r="1.7"/><circle cx="537.7" cy="144.5" r="1.7"/><circle cx="514.7" cy="153.6" r="1.7"/><circle cx="513.1" cy="171.1" r="1.7"/><circle cx="516.2" cy="148.6" r="1.7"/><circle cx="527" cy="155.3" r="1.7"/><circle cx="561.1" cy="165.3" r="1.7"/><circle cx="526.2" cy="132" r="1.7"/><circle cx="547.9" cy="155.4" r="1.7"/><circle cx="522.3" cy="173.2" r="1.7"/><circle cx="532.4" cy="135.1" r="1.7"/><circle cx="513.3" cy="144.8" r="1.7"/><circle cx="517.4" cy="145.5" r="1.7"/><circle cx="517.9" cy="157.8" r="1.7"/><circle cx="526" cy="156.8" r="1.7"/><circle cx="531.5" cy="151" r="1.7"/><circle cx="522.6" cy="138.8" r="1.7"/><circle cx="524.5" cy="139.7" r="1.7"/><circle cx="525.4" cy="150.2" r="1.7"/><circle cx="515.6" cy="143.6" r="1.7"/><circle cx="512.9" cy="149.6" r="1.7"/><circle cx="524.7" cy="139.7" r="1.7"/><circle cx="537.7" cy="134.7" r="1.7"/><circle cx="519.4" cy="158" r="1.7"/><circle cx="520" cy="143.9" r="1.7"/><circle cx="516" cy="155.4" r="1.7"/><circle cx="544.6" cy="134.7" r="1.7"/><circle cx="519.3" cy="154.1" r="1.7"/><circle cx="503.1" cy="169.3" r="1.7"/><circle cx="546" cy="136.2" r="1.7"/><circle cx="500.1" cy="167.9" r="1.7"/><circle cx="516.8" cy="153.3" r="1.7"/><circle cx="526.9" cy="158.7" r="1.7"/><circle cx="501.9" cy="152.3" r="1.7"/><circle cx="540.8" cy="161.7" r="1.7"/><circle cx="523.7" cy="131.4" r="1.7"/><circle cx="514.3" cy="147.5" r="1.7"/><circle cx="530.7" cy="137.5" r="1.7"/><circle cx="530.1" cy="141.4" r="1.7"/><circle cx="509.3" cy="161.9" r="1.7"/><circle cx="519.5" cy="148.8" r="1.7"/><circle cx="533" cy="147.3" r="1.7"/><circle cx="534.8" cy="164.5" r="1.7"/><circle cx="520.4" cy="161.1" r="1.7"/><circle cx="488.4" cy="147.9" r="1.7"/><circle cx="513.3" cy="165.9" r="1.7"/><circle cx="530" cy="171.3" r="1.7"/><circle cx="521.5" cy="143.6" r="1.7"/><circle cx="524.6" cy="142.1" r="1.7"/><circle cx="539.9" cy="128.7" r="1.7"/><circle cx="539.9" cy="141.6" r="1.7"/><circle cx="516.5" cy="151.6" r="1.7"/><circle cx="522.5" cy="151.7" r="1.7"/><circle cx="551.8" cy="146.1" r="1.7"/><circle cx="524.6" cy="149.3" r="1.7"/><circle cx="512.1" cy="141.8" r="1.7"/><circle cx="503.2" cy="130.1" r="1.7"/><circle cx="561" cy="159.4" r="1.7"/><circle cx="557.2" cy="149.3" r="1.7"/><circle cx="575" cy="186.2" r="1.7"/><circle cx="530.6" cy="194.8" r="1.7"/><circle cx="500.6" cy="126.2" r="1.7"/><circle cx="571.3" cy="195.6" r="1.7"/><circle cx="558.4" cy="174.4" r="1.7"/><circle cx="473.1" cy="129.7" r="1.7"/><circle cx="556.5" cy="106.9" r="1.7"/><circle cx="503.1" cy="127.8" r="1.7"/><circle cx="574.8" cy="126.9" r="1.7"/></g>
<g clip-path="url(#cs0d)" fill="#38e61e" filter="url(#bl1)" opacity="0.92"><circle cx="538.8" cy="168.8" r="1.55"/><circle cx="528.5" cy="120.3" r="1.55"/><circle cx="521.3" cy="130.1" r="1.55"/><circle cx="532.4" cy="127.8" r="1.55"/><circle cx="545.3" cy="161.9" r="1.55"/><circle cx="572.8" cy="165.1" r="1.55"/><circle cx="542.8" cy="145.4" r="1.55"/><circle cx="510.3" cy="183.1" r="1.55"/><circle cx="527.9" cy="163.3" r="1.55"/><circle cx="531.6" cy="168.4" r="1.55"/><circle cx="484.3" cy="114.6" r="1.55"/><circle cx="537.4" cy="199.8" r="1.55"/><circle cx="479.5" cy="136.6" r="1.55"/><circle cx="529.4" cy="140.5" r="1.55"/><circle cx="517.3" cy="143" r="1.55"/><circle cx="546.1" cy="152" r="1.55"/><circle cx="528.2" cy="125.7" r="1.55"/><circle cx="538.9" cy="187.2" r="1.55"/><circle cx="537.9" cy="143.7" r="1.55"/><circle cx="494.3" cy="160.4" r="1.55"/><circle cx="533.4" cy="145.3" r="1.55"/><circle cx="469.4" cy="133.8" r="1.55"/><circle cx="496.9" cy="131.2" r="1.55"/><circle cx="528.1" cy="127.8" r="1.55"/><circle cx="516.7" cy="177.2" r="1.55"/><circle cx="504.1" cy="148.1" r="1.55"/><circle cx="536.7" cy="136.2" r="1.55"/><circle cx="486.9" cy="154.8" r="1.55"/><circle cx="542.1" cy="112.6" r="1.55"/><circle cx="514.3" cy="138.9" r="1.55"/><circle cx="551.7" cy="115.4" r="1.55"/><circle cx="515.7" cy="118" r="1.55"/><circle cx="498.4" cy="149.3" r="1.55"/><circle cx="513.2" cy="145.7" r="1.55"/><circle cx="504.4" cy="115.8" r="1.55"/><circle cx="542.8" cy="180.1" r="1.55"/><circle cx="521" cy="141.5" r="1.55"/><circle cx="552.1" cy="159.7" r="1.55"/><circle cx="527.7" cy="168.2" r="1.55"/><circle cx="500.9" cy="131.3" r="1.55"/><circle cx="523.8" cy="125.4" r="1.55"/><circle cx="522.2" cy="154" r="1.55"/><circle cx="534.9" cy="159.9" r="1.55"/><circle cx="489.3" cy="146.3" r="1.55"/><circle cx="529.6" cy="170.5" r="1.55"/><circle cx="544.5" cy="143.4" r="1.55"/><circle cx="517" cy="124.3" r="1.55"/><circle cx="510.5" cy="132.1" r="1.55"/><circle cx="491.2" cy="142.6" r="1.55"/><circle cx="544.9" cy="181.7" r="1.55"/><circle cx="528.8" cy="146.8" r="1.55"/><circle cx="529.3" cy="165.6" r="1.55"/><circle cx="534" cy="157.4" r="1.55"/><circle cx="516.9" cy="143.3" r="1.55"/><circle cx="572.5" cy="171" r="1.55"/><circle cx="501.6" cy="165.7" r="1.55"/><circle cx="504.1" cy="154.3" r="1.55"/><circle cx="510.1" cy="155" r="1.55"/><circle cx="509.3" cy="144" r="1.55"/><circle cx="533.2" cy="162.1" r="1.55"/><circle cx="480.7" cy="175.4" r="1.55"/><circle cx="473.5" cy="118.9" r="1.55"/><circle cx="510.1" cy="160.4" r="1.55"/><circle cx="520.5" cy="138.7" r="1.55"/><circle cx="545.9" cy="151.1" r="1.55"/><circle cx="521.7" cy="167.1" r="1.55"/><circle cx="506.7" cy="195.6" r="1.55"/><circle cx="552.1" cy="150" r="1.55"/><circle cx="524.3" cy="154.1" r="1.55"/><circle cx="540.2" cy="159.4" r="1.55"/><circle cx="467.3" cy="125.6" r="1.55"/><circle cx="543.8" cy="119.9" r="1.55"/><circle cx="561.2" cy="131.6" r="1.55"/><circle cx="463.3" cy="148.1" r="1.55"/><circle cx="481.3" cy="107.8" r="1.55"/><circle cx="494.1" cy="149.9" r="1.55"/><circle cx="484.3" cy="187.2" r="1.55"/><circle cx="496.6" cy="172.8" r="1.55"/><circle cx="502.5" cy="115.9" r="1.55"/><circle cx="512.2" cy="171.4" r="1.55"/><circle cx="518.2" cy="167.2" r="1.55"/><circle cx="476" cy="119.6" r="1.55"/><circle cx="477" cy="153" r="1.55"/><circle cx="561.4" cy="142.7" r="1.55"/><circle cx="556.7" cy="116.9" r="1.55"/><circle cx="488" cy="170.2" r="1.55"/><circle cx="552.7" cy="181.6" r="1.55"/><circle cx="478.8" cy="157.7" r="1.55"/><circle cx="489.4" cy="177.4" r="1.55"/><circle cx="528.9" cy="171.6" r="1.55"/><circle cx="552.4" cy="199.9" r="1.55"/><circle cx="515.8" cy="200.7" r="1.55"/><circle cx="495.4" cy="190" r="1.55"/><circle cx="517.3" cy="153.2" r="2.9"/></g>
<text x="508" y="193.6" font-size="19.2" font-weight="bold" text-anchor="start" fill="#fff" textLength="69.5" lengthAdjust="spacingAndGlyphs">overlap</text>
<clipPath id="cs1a"><rect x="346.6" y="201" width="114.4" height="94"/></clipPath>
<clipPath id="cs1b"><rect x="462" y="201" width="115.4" height="94"/></clipPath>
<clipPath id="cs1c"><rect x="346.6" y="296" width="114.4" height="94.2"/></clipPath>
<clipPath id="cs1d"><rect x="462" y="296" width="115.4" height="94.2"/></clipPath>
<g clip-path="url(#cs1a)">
<rect x="346.6" y="201" width="114.4" height="94" fill="#222" filter="url(#stem2)"/>
<ellipse cx="401.6" cy="245" rx="40" ry="36" fill="url(#part)" transform="rotate(-25 401.6 245)"/>
<rect x="346.6" y="201" width="114.4" height="94" fill="#000" filter="url(#speck)" opacity="0.6"/>
</g>
<rect x="427.2" y="279.8" width="22.6" height="6" fill="#fff"/>
<text x="414.3" y="275.9" font-size="19" font-weight="bold" text-anchor="start" fill="#fff" textLength="44.3" lengthAdjust="spacingAndGlyphs">1 nm</text>
<rect x="462" y="201" width="115.4" height="94" fill="#000"/>
<g clip-path="url(#cs1b)" fill="#5fe6e0" filter="url(#bl1)"><circle cx="510.6" cy="235.9" r="1.55"/><circle cx="590.4" cy="232.2" r="1.55"/><circle cx="485.7" cy="249.7" r="1.55"/><circle cx="531.5" cy="258.2" r="1.55"/><circle cx="516.5" cy="275.8" r="1.55"/><circle cx="544.8" cy="299.9" r="1.55"/><circle cx="543.9" cy="249.2" r="1.55"/><circle cx="568.6" cy="263" r="1.55"/><circle cx="505.4" cy="261.5" r="1.55"/><circle cx="508.3" cy="270.8" r="1.55"/><circle cx="510.9" cy="251.5" r="1.55"/><circle cx="504.9" cy="251" r="1.55"/><circle cx="567.9" cy="269.3" r="1.55"/><circle cx="509" cy="213.6" r="1.55"/><circle cx="548.2" cy="228.2" r="1.55"/><circle cx="505.2" cy="258.9" r="1.55"/><circle cx="491.9" cy="261.5" r="1.55"/><circle cx="558.9" cy="244" r="1.55"/><circle cx="501.3" cy="238.6" r="1.55"/><circle cx="571.2" cy="247.7" r="1.55"/><circle cx="563.8" cy="244.7" r="1.55"/><circle cx="531.3" cy="247.8" r="1.55"/><circle cx="531.4" cy="250.4" r="1.55"/><circle cx="552.4" cy="270.1" r="1.55"/><circle cx="523.3" cy="222.3" r="1.55"/><circle cx="508.3" cy="222.6" r="1.55"/><circle cx="468.6" cy="243.4" r="1.55"/><circle cx="505.3" cy="284.2" r="1.55"/><circle cx="511.3" cy="211.9" r="1.55"/><circle cx="539" cy="243.3" r="1.55"/><circle cx="552.8" cy="247" r="1.55"/><circle cx="582.1" cy="228.1" r="1.55"/><circle cx="534.6" cy="233.6" r="1.55"/><circle cx="513.4" cy="206.5" r="1.55"/><circle cx="545.4" cy="206.7" r="1.55"/><circle cx="538.4" cy="253.7" r="1.55"/><circle cx="539.4" cy="208.3" r="1.55"/><circle cx="551.3" cy="228" r="1.55"/><circle cx="539" cy="235.3" r="1.55"/><circle cx="584.3" cy="230.8" r="1.55"/><circle cx="521.4" cy="250" r="1.55"/><circle cx="485.3" cy="232.9" r="1.55"/><circle cx="521.2" cy="249.1" r="1.55"/><circle cx="517.4" cy="283.4" r="1.55"/><circle cx="583.7" cy="270.9" r="1.55"/><circle cx="527" cy="257.9" r="1.55"/><circle cx="588.3" cy="283.1" r="1.55"/><circle cx="547.4" cy="231.8" r="1.55"/><circle cx="561.3" cy="261.1" r="1.55"/><circle cx="530.4" cy="240.8" r="1.55"/><circle cx="489.2" cy="210.8" r="1.55"/><circle cx="491.1" cy="250.3" r="1.55"/><circle cx="534.1" cy="227.7" r="1.55"/><circle cx="520.9" cy="275" r="1.55"/><circle cx="493.5" cy="234.2" r="1.55"/><circle cx="493" cy="287.6" r="1.55"/><circle cx="516.8" cy="275.2" r="1.55"/><circle cx="549.8" cy="229.3" r="1.55"/><circle cx="546" cy="248.2" r="1.55"/><circle cx="541.8" cy="248" r="1.55"/><circle cx="546" cy="256.8" r="1.55"/><circle cx="505.7" cy="260.5" r="1.55"/><circle cx="505.1" cy="214.5" r="1.55"/><circle cx="516.5" cy="223.7" r="1.55"/><circle cx="508.2" cy="219.3" r="1.55"/><circle cx="552" cy="262.9" r="1.55"/><circle cx="509.1" cy="273" r="1.55"/><circle cx="525" cy="226.7" r="1.55"/><circle cx="498.1" cy="252.6" r="1.55"/><circle cx="524.6" cy="249.1" r="1.55"/><circle cx="612.5" cy="264.2" r="1.55"/><circle cx="525.1" cy="219.4" r="1.55"/><circle cx="515.7" cy="227.9" r="1.55"/><circle cx="509.7" cy="190.7" r="1.55"/><circle cx="531.7" cy="218.6" r="1.55"/><circle cx="591.3" cy="237.9" r="1.55"/><circle cx="554.5" cy="251.1" r="1.55"/><circle cx="505.1" cy="248.2" r="1.55"/><circle cx="515.2" cy="234.8" r="1.55"/><circle cx="526" cy="199.6" r="1.55"/><circle cx="567.7" cy="255.7" r="1.55"/><circle cx="522.9" cy="274.2" r="1.55"/><circle cx="498.7" cy="186.8" r="1.55"/><circle cx="534.7" cy="223.9" r="1.55"/><circle cx="525" cy="230.7" r="1.55"/><circle cx="520.3" cy="220.7" r="1.55"/><circle cx="525" cy="259.2" r="1.55"/><circle cx="537.6" cy="281.4" r="1.55"/><circle cx="544.1" cy="252.1" r="1.55"/><circle cx="533" cy="255.1" r="1.55"/><circle cx="522.2" cy="214" r="1.55"/><circle cx="495.7" cy="202.4" r="1.55"/><circle cx="519.5" cy="244.9" r="1.55"/><circle cx="539.8" cy="267.6" r="1.55"/><circle cx="513.1" cy="194.9" r="1.55"/><circle cx="506.5" cy="241.9" r="1.55"/><circle cx="471.2" cy="214.7" r="1.55"/><circle cx="494.1" cy="287.1" r="1.55"/><circle cx="557.9" cy="226.6" r="1.55"/><circle cx="512.1" cy="244.4" r="1.55"/><circle cx="533.4" cy="247.1" r="1.55"/><circle cx="492.4" cy="220.6" r="1.55"/><circle cx="565.8" cy="241.8" r="1.55"/><circle cx="556" cy="242.1" r="1.55"/><circle cx="533.7" cy="248.7" r="1.55"/><circle cx="518.6" cy="269.3" r="1.55"/><circle cx="550.9" cy="241.4" r="1.55"/><circle cx="531.3" cy="278.1" r="1.55"/><circle cx="499.1" cy="261.1" r="1.55"/><circle cx="559.5" cy="278.1" r="1.55"/><circle cx="469.7" cy="231.6" r="1.55"/><circle cx="462.4" cy="227.6" r="1.55"/><circle cx="548.9" cy="266.2" r="1.55"/><circle cx="516.2" cy="271.8" r="1.55"/><circle cx="514" cy="282.3" r="1.55"/><circle cx="532.4" cy="214.1" r="1.55"/><circle cx="527.4" cy="245.8" r="1.55"/><circle cx="523.8" cy="221.2" r="1.55"/><circle cx="542.2" cy="218.8" r="1.55"/><circle cx="496.6" cy="223.5" r="1.55"/><circle cx="492.8" cy="218" r="1.55"/><circle cx="548.9" cy="263.6" r="1.55"/><circle cx="465.5" cy="255.1" r="1.55"/><circle cx="471" cy="261.5" r="1.55"/><circle cx="509" cy="251.6" r="1.55"/><circle cx="549.9" cy="274.2" r="1.55"/><circle cx="540.8" cy="228.6" r="1.55"/><circle cx="472.9" cy="255.9" r="1.55"/><circle cx="523.7" cy="284.9" r="1.55"/><circle cx="563.7" cy="218.6" r="1.55"/><circle cx="509.4" cy="267.8" r="1.55"/><circle cx="510.3" cy="291.8" r="1.55"/><circle cx="463.5" cy="239.9" r="1.55"/><circle cx="559.3" cy="290.1" r="1.55"/><circle cx="520.4" cy="224.7" r="1.55"/><circle cx="530.3" cy="231" r="1.55"/><circle cx="542.4" cy="233.2" r="1.55"/><circle cx="484.1" cy="256.2" r="1.55"/><circle cx="551" cy="247.1" r="1.55"/><circle cx="530.4" cy="254.6" r="1.55"/><circle cx="522.5" cy="201.6" r="1.55"/><circle cx="505" cy="283.1" r="1.55"/><circle cx="521" cy="274.6" r="1.55"/><circle cx="572.2" cy="204.5" r="1.55"/><circle cx="546" cy="247" r="1.55"/><circle cx="462.3" cy="221.6" r="1.55"/></g>
<path d="M462 201 h27 v21.5 q0 2.5 -2.5 2.5 h-24.5 z" fill="#72f2f2"/>
<text x="465" y="219.3" font-size="17.5" font-weight="normal" text-anchor="start" fill="#000" stroke="#000" stroke-width="0.35">Co</text>
<rect x="346.6" y="296" width="114.4" height="94.2" fill="#000"/>
<g clip-path="url(#cs1c)" fill="#f0241a" filter="url(#bl1)"><circle cx="383.7" cy="360.4" r="1.4"/><circle cx="388.5" cy="346.6" r="1.4"/><circle cx="406.5" cy="366" r="1.4"/><circle cx="403.4" cy="381.9" r="1.4"/><circle cx="406.2" cy="380.5" r="1.4"/><circle cx="417.6" cy="354.3" r="1.4"/><circle cx="371" cy="335.2" r="1.4"/><circle cx="411.6" cy="336.4" r="1.4"/><circle cx="385.4" cy="326.2" r="1.4"/><circle cx="416.8" cy="368.2" r="1.4"/><circle cx="418.9" cy="313.8" r="1.4"/><circle cx="409.1" cy="367.7" r="1.4"/><circle cx="369.7" cy="354.9" r="1.4"/><circle cx="404.9" cy="343.5" r="1.4"/><circle cx="429.9" cy="337.1" r="1.4"/><circle cx="396.7" cy="380.1" r="1.4"/><circle cx="422.5" cy="373.4" r="1.4"/><circle cx="402" cy="344.3" r="1.4"/><circle cx="409.3" cy="335.1" r="1.4"/><circle cx="412.4" cy="349.5" r="1.4"/><circle cx="418.2" cy="353.7" r="1.4"/><circle cx="397.1" cy="375.4" r="1.4"/><circle cx="399.5" cy="350.3" r="1.4"/><circle cx="427.3" cy="346.5" r="1.4"/><circle cx="433" cy="367.3" r="1.4"/><circle cx="404.7" cy="328.5" r="1.4"/><circle cx="394" cy="341.2" r="1.4"/><circle cx="414.9" cy="339.4" r="1.4"/><circle cx="416.3" cy="360" r="1.4"/><circle cx="430" cy="319.3" r="1.4"/><circle cx="396.8" cy="352.9" r="1.4"/><circle cx="397.9" cy="347.5" r="1.4"/><circle cx="396.3" cy="340.5" r="1.4"/><circle cx="397.2" cy="368.8" r="1.4"/><circle cx="423.6" cy="339.6" r="1.4"/><circle cx="397.5" cy="378.1" r="1.4"/><circle cx="389.4" cy="336.3" r="1.4"/><circle cx="382.3" cy="360.3" r="1.4"/><circle cx="400.8" cy="353.2" r="1.4"/><circle cx="396.7" cy="355.2" r="1.4"/><circle cx="408.5" cy="352.1" r="1.4"/><circle cx="401" cy="336.5" r="1.4"/><circle cx="418.5" cy="331.3" r="1.4"/><circle cx="416.2" cy="329.1" r="1.4"/><circle cx="429.1" cy="354.8" r="1.4"/><circle cx="419.4" cy="348.4" r="1.4"/><circle cx="414.2" cy="331.5" r="1.4"/><circle cx="419.2" cy="337.3" r="1.4"/><circle cx="406.7" cy="332.6" r="1.4"/><circle cx="393.3" cy="362.1" r="1.4"/><circle cx="391.2" cy="347.6" r="1.4"/><circle cx="408.2" cy="332.9" r="1.4"/><circle cx="420.9" cy="340.2" r="1.4"/><circle cx="373.8" cy="363.2" r="1.4"/><circle cx="390.5" cy="343.2" r="1.4"/><circle cx="391.3" cy="335.8" r="1.4"/><circle cx="414.9" cy="348.2" r="1.4"/><circle cx="399.3" cy="363.9" r="1.4"/><circle cx="390.1" cy="349.6" r="1.4"/><circle cx="390.5" cy="365.8" r="1.4"/><circle cx="398.8" cy="352.8" r="1.4"/><circle cx="411.8" cy="368.8" r="1.4"/><circle cx="399.3" cy="357.2" r="1.4"/><circle cx="407.3" cy="348.8" r="1.4"/><circle cx="408" cy="345.1" r="1.4"/><circle cx="404.6" cy="355.9" r="1.4"/><circle cx="401.3" cy="372.6" r="1.4"/><circle cx="438.3" cy="357.9" r="1.4"/><circle cx="388.2" cy="348" r="1.4"/><circle cx="374.8" cy="343.3" r="1.4"/><circle cx="413.1" cy="359.2" r="1.4"/><circle cx="413.1" cy="365.4" r="1.4"/><circle cx="409" cy="372.9" r="1.4"/><circle cx="365" cy="329.4" r="1.4"/><circle cx="423.1" cy="336.3" r="1.4"/><circle cx="418.5" cy="347.4" r="1.4"/><circle cx="396.2" cy="331.1" r="1.4"/><circle cx="398.1" cy="341.4" r="1.4"/><circle cx="417.4" cy="356" r="1.4"/><circle cx="403.6" cy="343.1" r="1.4"/><circle cx="407.6" cy="334.8" r="1.4"/><circle cx="395.9" cy="361.6" r="1.4"/><circle cx="397.3" cy="340.9" r="1.4"/><circle cx="389.1" cy="324.8" r="1.4"/><circle cx="389.7" cy="373.7" r="1.4"/><circle cx="414.8" cy="322.1" r="1.4"/><circle cx="386.4" cy="340" r="1.4"/><circle cx="421.2" cy="347.5" r="1.4"/><circle cx="443.4" cy="345.8" r="1.4"/><circle cx="442.5" cy="357.9" r="1.4"/><circle cx="411.5" cy="358.6" r="1.4"/><circle cx="409.3" cy="354.1" r="1.4"/><circle cx="384.3" cy="328.6" r="1.4"/><circle cx="388.8" cy="363" r="1.4"/><circle cx="395.6" cy="345.3" r="1.4"/><circle cx="425.7" cy="360.9" r="1.4"/><circle cx="368.9" cy="355.7" r="1.4"/><circle cx="402.4" cy="351.9" r="1.4"/><circle cx="423.3" cy="330.2" r="1.4"/><circle cx="417.3" cy="345.1" r="1.4"/><circle cx="411.2" cy="339.5" r="1.4"/><circle cx="418.8" cy="331.5" r="1.4"/><circle cx="403.1" cy="353.8" r="1.4"/><circle cx="383.6" cy="341.5" r="1.4"/><circle cx="372.6" cy="346.2" r="1.4"/><circle cx="408.6" cy="358.6" r="1.4"/><circle cx="411.5" cy="348.6" r="1.4"/><circle cx="415.1" cy="324" r="1.4"/><circle cx="403.8" cy="332.3" r="1.4"/><circle cx="395.6" cy="344.1" r="1.4"/><circle cx="426.7" cy="353.7" r="1.4"/><circle cx="416.2" cy="365.8" r="1.4"/><circle cx="408.4" cy="343.5" r="1.4"/><circle cx="402.2" cy="352.7" r="1.4"/><circle cx="418.7" cy="375.9" r="1.4"/><circle cx="393.1" cy="330" r="1.4"/><circle cx="389.8" cy="358.9" r="1.4"/><circle cx="394.7" cy="345.8" r="1.4"/><circle cx="405.4" cy="355.6" r="1.4"/><circle cx="398.8" cy="360.9" r="1.4"/><circle cx="397.9" cy="341.4" r="1.4"/><circle cx="398.6" cy="366.8" r="1.4"/><circle cx="399.2" cy="343" r="1.4"/><circle cx="385.6" cy="352.8" r="1.4"/><circle cx="411.6" cy="339.3" r="1.4"/><circle cx="415.7" cy="360.8" r="1.4"/><circle cx="406.1" cy="342.9" r="1.4"/><circle cx="398" cy="364.5" r="1.4"/><circle cx="402.3" cy="349.5" r="1.4"/><circle cx="422.1" cy="333.7" r="1.4"/><circle cx="405.2" cy="351.6" r="1.4"/><circle cx="402.2" cy="363.8" r="1.4"/><circle cx="393" cy="301.4" r="1.4"/><circle cx="423.7" cy="347.2" r="1.4"/><circle cx="407.6" cy="339.2" r="1.4"/><circle cx="403.6" cy="376.5" r="1.4"/><circle cx="382.8" cy="325.2" r="1.4"/><circle cx="410.2" cy="372.9" r="1.4"/><circle cx="416.8" cy="335.9" r="1.4"/><circle cx="434.6" cy="348.7" r="1.4"/><circle cx="412.6" cy="322" r="1.4"/><circle cx="391.1" cy="329.2" r="1.4"/><circle cx="408" cy="349.4" r="1.4"/><circle cx="420.6" cy="333.8" r="1.4"/><circle cx="388" cy="332.4" r="1.4"/><circle cx="413.6" cy="368" r="1.4"/><circle cx="431.4" cy="332.5" r="1.4"/><circle cx="398.5" cy="352.2" r="1.4"/><circle cx="396.6" cy="342.5" r="1.4"/><circle cx="433.7" cy="308.9" r="1.4"/><circle cx="387.5" cy="355.8" r="1.4"/><circle cx="421.9" cy="340.4" r="1.4"/><circle cx="385.5" cy="324.5" r="1.4"/><circle cx="375.2" cy="344.9" r="1.4"/><circle cx="425.6" cy="350.3" r="1.4"/><circle cx="412.7" cy="332.6" r="1.4"/><circle cx="401.7" cy="373.8" r="1.4"/><circle cx="403.4" cy="343.2" r="1.4"/><circle cx="432.2" cy="352.9" r="1.4"/><circle cx="425.8" cy="349.1" r="1.4"/><circle cx="377.2" cy="357.3" r="1.4"/><circle cx="421.1" cy="367.7" r="1.4"/><circle cx="385" cy="342.6" r="1.4"/><circle cx="396.8" cy="354.7" r="1.4"/><circle cx="401" cy="347.9" r="1.4"/><circle cx="391.4" cy="352.4" r="1.4"/><circle cx="373" cy="354.8" r="1.4"/><circle cx="410.3" cy="339.5" r="1.4"/><circle cx="393" cy="335.5" r="1.4"/><circle cx="405.1" cy="333.6" r="1.4"/><circle cx="395.6" cy="360.1" r="1.4"/><circle cx="398.3" cy="345" r="1.4"/><circle cx="381.1" cy="339" r="1.4"/><circle cx="390.1" cy="330.8" r="1.4"/><circle cx="391.3" cy="354.2" r="1.4"/><circle cx="378.2" cy="358" r="1.4"/><circle cx="372" cy="344.7" r="1.4"/><circle cx="419.5" cy="379.2" r="1.4"/><circle cx="411.5" cy="346" r="1.4"/><circle cx="403.2" cy="362.3" r="1.4"/><circle cx="381.6" cy="341.6" r="1.4"/><circle cx="407.7" cy="327.5" r="1.4"/><circle cx="428.9" cy="361" r="1.4"/><circle cx="402.2" cy="377.7" r="1.4"/><circle cx="400.8" cy="341.4" r="1.4"/><circle cx="376.4" cy="362.5" r="1.4"/><circle cx="389.1" cy="341.9" r="1.4"/><circle cx="435.8" cy="338.2" r="1.4"/><circle cx="405.4" cy="356.5" r="1.4"/><circle cx="410.2" cy="333.2" r="1.4"/><circle cx="405.5" cy="343.7" r="1.4"/><circle cx="408.8" cy="357.9" r="1.4"/><circle cx="399.3" cy="313.2" r="1.4"/><circle cx="405.2" cy="347.8" r="1.4"/><circle cx="406.6" cy="331.3" r="1.4"/><circle cx="395.6" cy="333.1" r="1.4"/><circle cx="405.4" cy="360.9" r="1.4"/><circle cx="409.5" cy="367.2" r="1.4"/><circle cx="406.2" cy="351.6" r="1.4"/><circle cx="430.9" cy="328.3" r="1.4"/><circle cx="426.6" cy="354.1" r="1.4"/><circle cx="397.9" cy="348.4" r="1.4"/><circle cx="407.2" cy="343.7" r="1.4"/><circle cx="409.2" cy="352.6" r="1.4"/><circle cx="408.3" cy="350.2" r="1.4"/><circle cx="393.5" cy="333.6" r="1.4"/><circle cx="396.7" cy="339.9" r="1.4"/><circle cx="413.1" cy="343" r="1.4"/><circle cx="397.9" cy="341.1" r="1.4"/><circle cx="424.9" cy="346.7" r="1.4"/><circle cx="419.4" cy="349.1" r="1.4"/><circle cx="393.6" cy="332.9" r="1.4"/><circle cx="417.1" cy="324.8" r="1.4"/><circle cx="383.9" cy="347.2" r="1.4"/><circle cx="403.8" cy="332.3" r="1.4"/><circle cx="426.4" cy="361.5" r="1.4"/><circle cx="409.4" cy="318.7" r="1.4"/><circle cx="421.3" cy="357.4" r="1.4"/><circle cx="383.3" cy="361.9" r="1.4"/><circle cx="404.5" cy="329.4" r="1.4"/><circle cx="427.4" cy="346.7" r="1.4"/><circle cx="379.3" cy="317.7" r="1.4"/><circle cx="393.3" cy="336.4" r="1.4"/><circle cx="443.7" cy="339.5" r="1.4"/><circle cx="401" cy="341.1" r="1.4"/><circle cx="376.9" cy="327" r="1.4"/><circle cx="403" cy="342.6" r="1.4"/><circle cx="402.6" cy="341.9" r="1.4"/><circle cx="415.2" cy="317" r="1.4"/><circle cx="422.8" cy="355.2" r="1.4"/><circle cx="407.2" cy="328.3" r="1.4"/><circle cx="411" cy="327.3" r="1.4"/><circle cx="386.4" cy="353.8" r="1.4"/><circle cx="422" cy="391.6" r="1.4"/><circle cx="398.1" cy="356.2" r="1.4"/><circle cx="418.7" cy="377.9" r="1.4"/><circle cx="396" cy="343.4" r="1.4"/><circle cx="390.3" cy="325.6" r="1.4"/><circle cx="380.7" cy="332.9" r="1.4"/><circle cx="435.2" cy="350.5" r="1.4"/><circle cx="410" cy="343.3" r="1.4"/><circle cx="420.2" cy="353.7" r="1.4"/><circle cx="388.5" cy="343.1" r="1.4"/><circle cx="393.8" cy="359" r="1.4"/><circle cx="394.8" cy="329.6" r="1.4"/><circle cx="388.2" cy="352.1" r="1.4"/><circle cx="410" cy="334.4" r="1.4"/><circle cx="405.1" cy="343.9" r="1.4"/><circle cx="422" cy="372.7" r="1.4"/><circle cx="393.3" cy="320.8" r="1.4"/><circle cx="387.2" cy="352.1" r="1.4"/><circle cx="392.9" cy="333.2" r="1.4"/><circle cx="410.6" cy="327.7" r="1.4"/><circle cx="394.3" cy="357.8" r="1.4"/><circle cx="401.3" cy="373.4" r="1.4"/><circle cx="409.5" cy="340.5" r="1.4"/><circle cx="430.5" cy="343.5" r="1.4"/><circle cx="421.4" cy="342" r="1.4"/><circle cx="406.4" cy="340.5" r="1.4"/><circle cx="421.1" cy="366.8" r="1.4"/><circle cx="383.7" cy="361.6" r="1.4"/><circle cx="401.8" cy="348.5" r="1.4"/><circle cx="409.5" cy="355.7" r="1.4"/><circle cx="414" cy="341.9" r="1.4"/><circle cx="405.9" cy="328.5" r="1.4"/><circle cx="411" cy="321.2" r="1.4"/><circle cx="402.7" cy="342.9" r="1.4"/><circle cx="425.2" cy="357.6" r="1.4"/><circle cx="419.5" cy="360.2" r="1.4"/><circle cx="394.6" cy="338.1" r="1.4"/><circle cx="391.3" cy="360.2" r="1.4"/><circle cx="402.7" cy="366.1" r="1.4"/><circle cx="405.6" cy="341.6" r="1.4"/><circle cx="408.7" cy="350.7" r="1.4"/><circle cx="406.6" cy="349.4" r="1.4"/><circle cx="428.2" cy="354.4" r="1.4"/><circle cx="415.7" cy="312.7" r="1.4"/><circle cx="417.8" cy="341.1" r="1.4"/><circle cx="423.8" cy="347.3" r="1.4"/><circle cx="411.2" cy="344.5" r="1.4"/><circle cx="408.6" cy="346.3" r="1.4"/><circle cx="399" cy="351.8" r="1.4"/><circle cx="410.9" cy="364.1" r="1.4"/><circle cx="391.1" cy="346.4" r="1.4"/><circle cx="404.6" cy="349.9" r="1.4"/><circle cx="398.7" cy="337.1" r="1.4"/><circle cx="414.8" cy="363.6" r="1.4"/><circle cx="408.6" cy="332.7" r="1.4"/><circle cx="409.3" cy="331.2" r="1.4"/><circle cx="426.9" cy="345.3" r="1.4"/><circle cx="403.5" cy="336.3" r="1.4"/><circle cx="440.8" cy="370.9" r="1.4"/><circle cx="437.4" cy="333" r="1.4"/><circle cx="455.7" cy="313.6" r="1.4"/><circle cx="437.1" cy="359" r="1.4"/><circle cx="368" cy="384.9" r="1.4"/><circle cx="423.9" cy="303" r="1.4"/><circle cx="432.9" cy="359.8" r="1.4"/><circle cx="406.9" cy="297.1" r="1.4"/><circle cx="422" cy="387.4" r="1.4"/><circle cx="451.3" cy="324" r="1.4"/><circle cx="422.9" cy="310.9" r="1.4"/><circle cx="406.5" cy="317.7" r="1.4"/><circle cx="406.6" cy="311.6" r="1.4"/><circle cx="400" cy="332.6" r="1.4"/><circle cx="377.2" cy="378.5" r="1.4"/><circle cx="453" cy="352.1" r="1.4"/><circle cx="437" cy="354.3" r="1.4"/></g>
<path d="M346.6 296 h26.5 v21.5 q0 2.5 -2.5 2.5 h-24 z" fill="#fa2a22"/>
<text x="348.1" y="314.5" font-size="17.5" font-weight="normal" text-anchor="start" fill="#000" stroke="#000" stroke-width="0.35">Ru</text>
<rect x="462" y="296" width="115.4" height="94.2" fill="#000"/>
<g clip-path="url(#cs1d)" fill="#e8201a" filter="url(#bl2)"><circle cx="505.1" cy="360.4" r="1.7"/><circle cx="509.9" cy="346.6" r="1.7"/><circle cx="527.9" cy="366" r="1.7"/><circle cx="524.8" cy="381.9" r="1.7"/><circle cx="527.6" cy="380.5" r="1.7"/><circle cx="539" cy="354.3" r="1.7"/><circle cx="492.4" cy="335.2" r="1.7"/><circle cx="533" cy="336.4" r="1.7"/><circle cx="506.8" cy="326.2" r="1.7"/><circle cx="538.2" cy="368.2" r="1.7"/><circle cx="540.3" cy="313.8" r="1.7"/><circle cx="530.5" cy="367.7" r="1.7"/><circle cx="491.1" cy="354.9" r="1.7"/><circle cx="526.3" cy="343.5" r="1.7"/><circle cx="551.3" cy="337.1" r="1.7"/><circle cx="518.1" cy="380.1" r="1.7"/><circle cx="543.9" cy="373.4" r="1.7"/><circle cx="523.4" cy="344.3" r="1.7"/><circle cx="530.7" cy="335.1" r="1.7"/><circle cx="533.8" cy="349.5" r="1.7"/><circle cx="539.6" cy="353.7" r="1.7"/><circle cx="518.5" cy="375.4" r="1.7"/><circle cx="520.9" cy="350.3" r="1.7"/><circle cx="548.7" cy="346.5" r="1.7"/><circle cx="554.4" cy="367.3" r="1.7"/><circle cx="526.1" cy="328.5" r="1.7"/><circle cx="515.4" cy="341.2" r="1.7"/><circle cx="536.3" cy="339.4" r="1.7"/><circle cx="537.7" cy="360" r="1.7"/><circle cx="551.4" cy="319.3" r="1.7"/><circle cx="518.2" cy="352.9" r="1.7"/><circle cx="519.3" cy="347.5" r="1.7"/><circle cx="517.7" cy="340.5" r="1.7"/><circle cx="518.6" cy="368.8" r="1.7"/><circle cx="545" cy="339.6" r="1.7"/><circle cx="518.9" cy="378.1" r="1.7"/><circle cx="510.8" cy="336.3" r="1.7"/><circle cx="503.7" cy="360.3" r="1.7"/><circle cx="522.2" cy="353.2" r="1.7"/><circle cx="518.1" cy="355.2" r="1.7"/><circle cx="529.9" cy="352.1" r="1.7"/><circle cx="522.4" cy="336.5" r="1.7"/><circle cx="539.9" cy="331.3" r="1.7"/><circle cx="537.6" cy="329.1" r="1.7"/><circle cx="550.5" cy="354.8" r="1.7"/><circle cx="540.8" cy="348.4" r="1.7"/><circle cx="535.6" cy="331.5" r="1.7"/><circle cx="540.6" cy="337.3" r="1.7"/><circle cx="528.1" cy="332.6" r="1.7"/><circle cx="514.7" cy="362.1" r="1.7"/><circle cx="512.6" cy="347.6" r="1.7"/><circle cx="529.6" cy="332.9" r="1.7"/><circle cx="542.3" cy="340.2" r="1.7"/><circle cx="495.2" cy="363.2" r="1.7"/><circle cx="511.9" cy="343.2" r="1.7"/><circle cx="512.7" cy="335.8" r="1.7"/><circle cx="536.3" cy="348.2" r="1.7"/><circle cx="520.7" cy="363.9" r="1.7"/><circle cx="511.5" cy="349.6" r="1.7"/><circle cx="511.9" cy="365.8" r="1.7"/><circle cx="520.2" cy="352.8" r="1.7"/><circle cx="533.2" cy="368.8" r="1.7"/><circle cx="520.7" cy="357.2" r="1.7"/><circle cx="528.7" cy="348.8" r="1.7"/><circle cx="529.4" cy="345.1" r="1.7"/><circle cx="526" cy="355.9" r="1.7"/><circle cx="522.7" cy="372.6" r="1.7"/><circle cx="559.7" cy="357.9" r="1.7"/><circle cx="509.6" cy="348" r="1.7"/><circle cx="496.2" cy="343.3" r="1.7"/><circle cx="534.5" cy="359.2" r="1.7"/><circle cx="534.5" cy="365.4" r="1.7"/><circle cx="530.4" cy="372.9" r="1.7"/><circle cx="486.4" cy="329.4" r="1.7"/><circle cx="544.5" cy="336.3" r="1.7"/><circle cx="539.9" cy="347.4" r="1.7"/><circle cx="517.6" cy="331.1" r="1.7"/><circle cx="519.5" cy="341.4" r="1.7"/><circle cx="538.8" cy="356" r="1.7"/><circle cx="525" cy="343.1" r="1.7"/><circle cx="529" cy="334.8" r="1.7"/><circle cx="517.3" cy="361.6" r="1.7"/><circle cx="518.7" cy="340.9" r="1.7"/><circle cx="510.5" cy="324.8" r="1.7"/><circle cx="511.1" cy="373.7" r="1.7"/><circle cx="536.2" cy="322.1" r="1.7"/><circle cx="507.8" cy="340" r="1.7"/><circle cx="542.6" cy="347.5" r="1.7"/><circle cx="564.8" cy="345.8" r="1.7"/><circle cx="563.9" cy="357.9" r="1.7"/><circle cx="532.9" cy="358.6" r="1.7"/><circle cx="530.7" cy="354.1" r="1.7"/><circle cx="505.7" cy="328.6" r="1.7"/><circle cx="510.2" cy="363" r="1.7"/><circle cx="517" cy="345.3" r="1.7"/><circle cx="547.1" cy="360.9" r="1.7"/><circle cx="490.3" cy="355.7" r="1.7"/><circle cx="523.8" cy="351.9" r="1.7"/><circle cx="544.7" cy="330.2" r="1.7"/><circle cx="538.7" cy="345.1" r="1.7"/><circle cx="532.6" cy="339.5" r="1.7"/><circle cx="540.2" cy="331.5" r="1.7"/><circle cx="524.5" cy="353.8" r="1.7"/><circle cx="505" cy="341.5" r="1.7"/><circle cx="494" cy="346.2" r="1.7"/><circle cx="530" cy="358.6" r="1.7"/><circle cx="532.9" cy="348.6" r="1.7"/><circle cx="536.5" cy="324" r="1.7"/><circle cx="525.2" cy="332.3" r="1.7"/><circle cx="517" cy="344.1" r="1.7"/><circle cx="548.1" cy="353.7" r="1.7"/><circle cx="537.6" cy="365.8" r="1.7"/><circle cx="529.8" cy="343.5" r="1.7"/><circle cx="523.6" cy="352.7" r="1.7"/><circle cx="540.1" cy="375.9" r="1.7"/><circle cx="514.5" cy="330" r="1.7"/><circle cx="511.2" cy="358.9" r="1.7"/><circle cx="516.1" cy="345.8" r="1.7"/><circle cx="526.8" cy="355.6" r="1.7"/><circle cx="520.2" cy="360.9" r="1.7"/><circle cx="519.3" cy="341.4" r="1.7"/><circle cx="520" cy="366.8" r="1.7"/><circle cx="520.6" cy="343" r="1.7"/><circle cx="507" cy="352.8" r="1.7"/><circle cx="533" cy="339.3" r="1.7"/><circle cx="537.1" cy="360.8" r="1.7"/><circle cx="527.5" cy="342.9" r="1.7"/><circle cx="519.4" cy="364.5" r="1.7"/><circle cx="523.7" cy="349.5" r="1.7"/><circle cx="543.5" cy="333.7" r="1.7"/><circle cx="526.6" cy="351.6" r="1.7"/><circle cx="523.6" cy="363.8" r="1.7"/><circle cx="514.4" cy="301.4" r="1.7"/><circle cx="545.1" cy="347.2" r="1.7"/><circle cx="529" cy="339.2" r="1.7"/><circle cx="525" cy="376.5" r="1.7"/><circle cx="504.2" cy="325.2" r="1.7"/><circle cx="531.6" cy="372.9" r="1.7"/><circle cx="538.2" cy="335.9" r="1.7"/><circle cx="556" cy="348.7" r="1.7"/><circle cx="534" cy="322" r="1.7"/><circle cx="512.5" cy="329.2" r="1.7"/><circle cx="529.4" cy="349.4" r="1.7"/><circle cx="542" cy="333.8" r="1.7"/><circle cx="509.4" cy="332.4" r="1.7"/><circle cx="535" cy="368" r="1.7"/><circle cx="552.8" cy="332.5" r="1.7"/><circle cx="519.9" cy="352.2" r="1.7"/><circle cx="518" cy="342.5" r="1.7"/><circle cx="555.1" cy="308.9" r="1.7"/><circle cx="508.9" cy="355.8" r="1.7"/><circle cx="543.3" cy="340.4" r="1.7"/><circle cx="506.9" cy="324.5" r="1.7"/><circle cx="496.6" cy="344.9" r="1.7"/><circle cx="547" cy="350.3" r="1.7"/><circle cx="534.1" cy="332.6" r="1.7"/><circle cx="523.1" cy="373.8" r="1.7"/><circle cx="524.8" cy="343.2" r="1.7"/><circle cx="553.6" cy="352.9" r="1.7"/><circle cx="547.2" cy="349.1" r="1.7"/><circle cx="498.6" cy="357.3" r="1.7"/><circle cx="542.5" cy="367.7" r="1.7"/><circle cx="506.4" cy="342.6" r="1.7"/><circle cx="518.2" cy="354.7" r="1.7"/><circle cx="522.4" cy="347.9" r="1.7"/><circle cx="512.8" cy="352.4" r="1.7"/><circle cx="494.4" cy="354.8" r="1.7"/><circle cx="531.7" cy="339.5" r="1.7"/><circle cx="514.4" cy="335.5" r="1.7"/><circle cx="526.5" cy="333.6" r="1.7"/><circle cx="517" cy="360.1" r="1.7"/><circle cx="519.7" cy="345" r="1.7"/><circle cx="502.5" cy="339" r="1.7"/><circle cx="511.5" cy="330.8" r="1.7"/><circle cx="512.7" cy="354.2" r="1.7"/><circle cx="499.6" cy="358" r="1.7"/><circle cx="493.4" cy="344.7" r="1.7"/><circle cx="540.9" cy="379.2" r="1.7"/><circle cx="532.9" cy="346" r="1.7"/><circle cx="524.6" cy="362.3" r="1.7"/><circle cx="503" cy="341.6" r="1.7"/><circle cx="529.1" cy="327.5" r="1.7"/><circle cx="550.3" cy="361" r="1.7"/><circle cx="523.6" cy="377.7" r="1.7"/><circle cx="522.2" cy="341.4" r="1.7"/><circle cx="497.8" cy="362.5" r="1.7"/><circle cx="510.5" cy="341.9" r="1.7"/><circle cx="557.2" cy="338.2" r="1.7"/><circle cx="526.8" cy="356.5" r="1.7"/><circle cx="531.6" cy="333.2" r="1.7"/><circle cx="526.9" cy="343.7" r="1.7"/><circle cx="530.2" cy="357.9" r="1.7"/><circle cx="520.7" cy="313.2" r="1.7"/><circle cx="526.6" cy="347.8" r="1.7"/><circle cx="528" cy="331.3" r="1.7"/><circle cx="517" cy="333.1" r="1.7"/><circle cx="526.8" cy="360.9" r="1.7"/><circle cx="530.9" cy="367.2" r="1.7"/><circle cx="527.6" cy="351.6" r="1.7"/><circle cx="552.3" cy="328.3" r="1.7"/><circle cx="548" cy="354.1" r="1.7"/><circle cx="519.3" cy="348.4" r="1.7"/><circle cx="528.6" cy="343.7" r="1.7"/><circle cx="530.6" cy="352.6" r="1.7"/><circle cx="529.7" cy="350.2" r="1.7"/><circle cx="514.9" cy="333.6" r="1.7"/><circle cx="518.1" cy="339.9" r="1.7"/><circle cx="534.5" cy="343" r="1.7"/><circle cx="519.3" cy="341.1" r="1.7"/><circle cx="546.3" cy="346.7" r="1.7"/><circle cx="540.8" cy="349.1" r="1.7"/><circle cx="515" cy="332.9" r="1.7"/><circle cx="538.5" cy="324.8" r="1.7"/><circle cx="505.3" cy="347.2" r="1.7"/><circle cx="525.2" cy="332.3" r="1.7"/><circle cx="547.8" cy="361.5" r="1.7"/><circle cx="530.8" cy="318.7" r="1.7"/><circle cx="542.7" cy="357.4" r="1.7"/><circle cx="504.7" cy="361.9" r="1.7"/><circle cx="525.9" cy="329.4" r="1.7"/><circle cx="548.8" cy="346.7" r="1.7"/><circle cx="500.7" cy="317.7" r="1.7"/><circle cx="514.7" cy="336.4" r="1.7"/><circle cx="565.1" cy="339.5" r="1.7"/><circle cx="522.4" cy="341.1" r="1.7"/><circle cx="498.3" cy="327" r="1.7"/><circle cx="524.4" cy="342.6" r="1.7"/><circle cx="524" cy="341.9" r="1.7"/><circle cx="536.6" cy="317" r="1.7"/><circle cx="544.2" cy="355.2" r="1.7"/><circle cx="528.6" cy="328.3" r="1.7"/><circle cx="532.4" cy="327.3" r="1.7"/><circle cx="507.8" cy="353.8" r="1.7"/><circle cx="543.4" cy="391.6" r="1.7"/><circle cx="519.5" cy="356.2" r="1.7"/><circle cx="540.1" cy="377.9" r="1.7"/><circle cx="517.4" cy="343.4" r="1.7"/><circle cx="511.7" cy="325.6" r="1.7"/><circle cx="502.1" cy="332.9" r="1.7"/><circle cx="556.6" cy="350.5" r="1.7"/><circle cx="531.4" cy="343.3" r="1.7"/><circle cx="541.6" cy="353.7" r="1.7"/><circle cx="509.9" cy="343.1" r="1.7"/><circle cx="515.2" cy="359" r="1.7"/><circle cx="516.2" cy="329.6" r="1.7"/><circle cx="509.6" cy="352.1" r="1.7"/><circle cx="531.4" cy="334.4" r="1.7"/><circle cx="526.5" cy="343.9" r="1.7"/><circle cx="543.4" cy="372.7" r="1.7"/><circle cx="514.7" cy="320.8" r="1.7"/><circle cx="508.6" cy="352.1" r="1.7"/><circle cx="514.3" cy="333.2" r="1.7"/><circle cx="532" cy="327.7" r="1.7"/><circle cx="515.7" cy="357.8" r="1.7"/><circle cx="522.7" cy="373.4" r="1.7"/><circle cx="530.9" cy="340.5" r="1.7"/><circle cx="551.9" cy="343.5" r="1.7"/><circle cx="542.8" cy="342" r="1.7"/><circle cx="527.8" cy="340.5" r="1.7"/><circle cx="542.5" cy="366.8" r="1.7"/><circle cx="505.1" cy="361.6" r="1.7"/><circle cx="523.2" cy="348.5" r="1.7"/><circle cx="530.9" cy="355.7" r="1.7"/><circle cx="535.4" cy="341.9" r="1.7"/><circle cx="527.3" cy="328.5" r="1.7"/><circle cx="532.4" cy="321.2" r="1.7"/><circle cx="524.1" cy="342.9" r="1.7"/><circle cx="546.6" cy="357.6" r="1.7"/><circle cx="540.9" cy="360.2" r="1.7"/><circle cx="516" cy="338.1" r="1.7"/><circle cx="512.7" cy="360.2" r="1.7"/><circle cx="524.1" cy="366.1" r="1.7"/><circle cx="527" cy="341.6" r="1.7"/><circle cx="530.1" cy="350.7" r="1.7"/><circle cx="528" cy="349.4" r="1.7"/><circle cx="549.6" cy="354.4" r="1.7"/><circle cx="537.1" cy="312.7" r="1.7"/><circle cx="539.2" cy="341.1" r="1.7"/><circle cx="545.2" cy="347.3" r="1.7"/><circle cx="532.6" cy="344.5" r="1.7"/><circle cx="530" cy="346.3" r="1.7"/><circle cx="520.4" cy="351.8" r="1.7"/><circle cx="532.3" cy="364.1" r="1.7"/><circle cx="512.5" cy="346.4" r="1.7"/><circle cx="526" cy="349.9" r="1.7"/><circle cx="520.1" cy="337.1" r="1.7"/><circle cx="536.2" cy="363.6" r="1.7"/><circle cx="530" cy="332.7" r="1.7"/><circle cx="530.7" cy="331.2" r="1.7"/><circle cx="548.3" cy="345.3" r="1.7"/><circle cx="524.9" cy="336.3" r="1.7"/><circle cx="562.2" cy="370.9" r="1.7"/><circle cx="558.8" cy="333" r="1.7"/><circle cx="577.1" cy="313.6" r="1.7"/><circle cx="558.5" cy="359" r="1.7"/><circle cx="489.4" cy="384.9" r="1.7"/><circle cx="545.3" cy="303" r="1.7"/><circle cx="554.3" cy="359.8" r="1.7"/><circle cx="528.3" cy="297.1" r="1.7"/><circle cx="543.4" cy="387.4" r="1.7"/><circle cx="572.7" cy="324" r="1.7"/><circle cx="544.3" cy="310.9" r="1.7"/><circle cx="527.9" cy="317.7" r="1.7"/><circle cx="528" cy="311.6" r="1.7"/><circle cx="521.4" cy="332.6" r="1.7"/><circle cx="498.6" cy="378.5" r="1.7"/><circle cx="574.4" cy="352.1" r="1.7"/><circle cx="558.4" cy="354.3" r="1.7"/></g>
<g clip-path="url(#cs1d)" fill="#5fe6e0" filter="url(#bl1)" opacity="0.92"><circle cx="510.6" cy="330.9" r="1.55"/><circle cx="590.4" cy="327.2" r="1.55"/><circle cx="485.7" cy="344.7" r="1.55"/><circle cx="531.5" cy="353.2" r="1.55"/><circle cx="516.5" cy="370.8" r="1.55"/><circle cx="544.8" cy="394.9" r="1.55"/><circle cx="543.9" cy="344.2" r="1.55"/><circle cx="568.6" cy="358" r="1.55"/><circle cx="505.4" cy="356.5" r="1.55"/><circle cx="508.3" cy="365.8" r="1.55"/><circle cx="510.9" cy="346.5" r="1.55"/><circle cx="504.9" cy="346" r="1.55"/><circle cx="567.9" cy="364.3" r="1.55"/><circle cx="509" cy="308.6" r="1.55"/><circle cx="548.2" cy="323.2" r="1.55"/><circle cx="505.2" cy="353.9" r="1.55"/><circle cx="491.9" cy="356.5" r="1.55"/><circle cx="558.9" cy="339" r="1.55"/><circle cx="501.3" cy="333.6" r="1.55"/><circle cx="571.2" cy="342.7" r="1.55"/><circle cx="563.8" cy="339.7" r="1.55"/><circle cx="531.3" cy="342.8" r="1.55"/><circle cx="531.4" cy="345.4" r="1.55"/><circle cx="552.4" cy="365.1" r="1.55"/><circle cx="523.3" cy="317.3" r="1.55"/><circle cx="508.3" cy="317.6" r="1.55"/><circle cx="468.6" cy="338.4" r="1.55"/><circle cx="505.3" cy="379.2" r="1.55"/><circle cx="511.3" cy="306.9" r="1.55"/><circle cx="539" cy="338.3" r="1.55"/><circle cx="552.8" cy="342" r="1.55"/><circle cx="582.1" cy="323.1" r="1.55"/><circle cx="534.6" cy="328.6" r="1.55"/><circle cx="513.4" cy="301.5" r="1.55"/><circle cx="545.4" cy="301.7" r="1.55"/><circle cx="538.4" cy="348.7" r="1.55"/><circle cx="539.4" cy="303.3" r="1.55"/><circle cx="551.3" cy="323" r="1.55"/><circle cx="539" cy="330.3" r="1.55"/><circle cx="584.3" cy="325.8" r="1.55"/><circle cx="521.4" cy="345" r="1.55"/><circle cx="485.3" cy="327.9" r="1.55"/><circle cx="521.2" cy="344.1" r="1.55"/><circle cx="517.4" cy="378.4" r="1.55"/><circle cx="583.7" cy="365.9" r="1.55"/><circle cx="527" cy="352.9" r="1.55"/><circle cx="588.3" cy="378.1" r="1.55"/><circle cx="547.4" cy="326.8" r="1.55"/><circle cx="561.3" cy="356.1" r="1.55"/><circle cx="530.4" cy="335.8" r="1.55"/><circle cx="489.2" cy="305.8" r="1.55"/><circle cx="491.1" cy="345.3" r="1.55"/><circle cx="534.1" cy="322.7" r="1.55"/><circle cx="520.9" cy="370" r="1.55"/><circle cx="493.5" cy="329.2" r="1.55"/><circle cx="493" cy="382.6" r="1.55"/><circle cx="516.8" cy="370.2" r="1.55"/><circle cx="549.8" cy="324.3" r="1.55"/><circle cx="546" cy="343.2" r="1.55"/><circle cx="541.8" cy="343" r="1.55"/><circle cx="546" cy="351.8" r="1.55"/><circle cx="505.7" cy="355.5" r="1.55"/><circle cx="505.1" cy="309.5" r="1.55"/><circle cx="516.5" cy="318.7" r="1.55"/><circle cx="508.2" cy="314.3" r="1.55"/><circle cx="552" cy="357.9" r="1.55"/><circle cx="509.1" cy="368" r="1.55"/><circle cx="525" cy="321.7" r="1.55"/><circle cx="498.1" cy="347.6" r="1.55"/><circle cx="524.6" cy="344.1" r="1.55"/><circle cx="612.5" cy="359.2" r="1.55"/><circle cx="525.1" cy="314.4" r="1.55"/><circle cx="515.7" cy="322.9" r="1.55"/><circle cx="509.7" cy="285.7" r="1.55"/><circle cx="531.7" cy="313.6" r="1.55"/><circle cx="591.3" cy="332.9" r="1.55"/><circle cx="554.5" cy="346.1" r="1.55"/><circle cx="505.1" cy="343.2" r="1.55"/><circle cx="515.2" cy="329.8" r="1.55"/><circle cx="526" cy="294.6" r="1.55"/><circle cx="567.7" cy="350.7" r="1.55"/><circle cx="522.9" cy="369.2" r="1.55"/><circle cx="498.7" cy="281.8" r="1.55"/><circle cx="534.7" cy="318.9" r="1.55"/><circle cx="525" cy="325.7" r="1.55"/><circle cx="520.3" cy="315.7" r="1.55"/><circle cx="525" cy="354.2" r="1.55"/><circle cx="537.6" cy="376.4" r="1.55"/><circle cx="544.1" cy="347.1" r="1.55"/><circle cx="533" cy="350.1" r="1.55"/><circle cx="522.2" cy="309" r="1.55"/><circle cx="495.7" cy="297.4" r="1.55"/><circle cx="519.5" cy="339.9" r="1.55"/><circle cx="539.8" cy="362.6" r="1.55"/><circle cx="513.1" cy="289.9" r="1.55"/><circle cx="506.5" cy="336.9" r="1.55"/><circle cx="471.2" cy="309.7" r="1.55"/><circle cx="494.1" cy="382.1" r="1.55"/><circle cx="557.9" cy="321.6" r="1.55"/><circle cx="512.1" cy="339.4" r="1.55"/><circle cx="533.4" cy="342.1" r="1.55"/><circle cx="492.4" cy="315.6" r="1.55"/><circle cx="565.8" cy="336.8" r="1.55"/><circle cx="556" cy="337.1" r="1.55"/><circle cx="533.7" cy="343.7" r="1.55"/><circle cx="518.6" cy="364.3" r="1.55"/><circle cx="550.9" cy="336.4" r="1.55"/><circle cx="531.3" cy="373.1" r="1.55"/><circle cx="499.1" cy="356.1" r="1.55"/><circle cx="559.5" cy="373.1" r="1.55"/><circle cx="469.7" cy="326.6" r="1.55"/><circle cx="462.4" cy="322.6" r="1.55"/><circle cx="548.9" cy="361.2" r="1.55"/><circle cx="516.2" cy="366.8" r="1.55"/><circle cx="514" cy="377.3" r="1.55"/><circle cx="532.4" cy="309.1" r="1.55"/><circle cx="527.4" cy="340.8" r="1.55"/><circle cx="523.8" cy="316.2" r="1.55"/><circle cx="542.2" cy="313.8" r="1.55"/><circle cx="496.6" cy="318.5" r="1.55"/><circle cx="492.8" cy="313" r="1.55"/><circle cx="548.9" cy="358.6" r="1.55"/><circle cx="465.5" cy="350.1" r="1.55"/><circle cx="471" cy="356.5" r="1.55"/><circle cx="509" cy="346.6" r="1.55"/><circle cx="549.9" cy="369.2" r="1.55"/><circle cx="540.8" cy="323.6" r="1.55"/><circle cx="472.9" cy="350.9" r="1.55"/><circle cx="523.7" cy="379.9" r="1.55"/><circle cx="563.7" cy="313.6" r="1.55"/><circle cx="509.4" cy="362.8" r="1.55"/><circle cx="510.3" cy="386.8" r="1.55"/><circle cx="463.5" cy="334.9" r="1.55"/><circle cx="559.3" cy="385.1" r="1.55"/><circle cx="520.4" cy="319.7" r="1.55"/><circle cx="530.3" cy="326" r="1.55"/><circle cx="542.4" cy="328.2" r="1.55"/><circle cx="484.1" cy="351.2" r="1.55"/><circle cx="551" cy="342.1" r="1.55"/><circle cx="530.4" cy="349.6" r="1.55"/><circle cx="522.5" cy="296.6" r="1.55"/><circle cx="505" cy="378.1" r="1.55"/><circle cx="521" cy="369.6" r="1.55"/><circle cx="572.2" cy="299.5" r="1.55"/><circle cx="546" cy="342" r="1.55"/><circle cx="462.3" cy="316.6" r="1.55"/></g>
<text x="508" y="383.3" font-size="19.2" font-weight="bold" text-anchor="start" fill="#fff" textLength="69.5" lengthAdjust="spacingAndGlyphs">overlap</text>
<clipPath id="cs2a"><rect x="346.6" y="391.4" width="114.4" height="94.6"/></clipPath>
<clipPath id="cs2b"><rect x="462" y="391.4" width="115.4" height="94.6"/></clipPath>
<clipPath id="cs2c"><rect x="346.6" y="487" width="114.4" height="94.4"/></clipPath>
<clipPath id="cs2d"><rect x="462" y="487" width="115.4" height="94.4"/></clipPath>
<g clip-path="url(#cs2a)">
<rect x="346.6" y="391.4" width="114.4" height="94.6" fill="#222" filter="url(#stem2)"/>
<ellipse cx="402.6" cy="438.4" rx="24" ry="33" fill="url(#part)" transform="rotate(-28 402.6 438.4)"/>
<rect x="346.6" y="391.4" width="114.4" height="94.6" fill="#000" filter="url(#speck)" opacity="0.6"/>
</g>
<rect x="427.2" y="470.2" width="22.6" height="6" fill="#fff"/>
<text x="414.3" y="466.3" font-size="19" font-weight="bold" text-anchor="start" fill="#fff" textLength="44.3" lengthAdjust="spacingAndGlyphs">1 nm</text>
<rect x="462" y="391.4" width="115.4" height="94.6" fill="#000"/>
<g clip-path="url(#cs2b)" fill="#8cf02a" filter="url(#bl1)"><circle cx="538.4" cy="458.6" r="1.55"/><circle cx="537.1" cy="464" r="1.55"/><circle cx="506.8" cy="424.1" r="1.55"/><circle cx="503.1" cy="419" r="1.55"/><circle cx="545.4" cy="443" r="1.55"/><circle cx="504.5" cy="419.9" r="1.55"/><circle cx="545.5" cy="414" r="1.55"/><circle cx="511.8" cy="446.4" r="1.55"/><circle cx="547" cy="462.7" r="1.55"/><circle cx="512" cy="410.9" r="1.55"/><circle cx="500.2" cy="444.8" r="1.55"/><circle cx="526.3" cy="460.6" r="1.55"/><circle cx="538.9" cy="458.5" r="1.55"/><circle cx="501.8" cy="414.7" r="1.55"/><circle cx="522.2" cy="445.2" r="1.55"/><circle cx="507" cy="462.9" r="1.55"/><circle cx="489.2" cy="434.3" r="1.55"/><circle cx="503.9" cy="444.9" r="1.55"/><circle cx="532" cy="429.8" r="1.55"/><circle cx="529" cy="462.1" r="1.55"/><circle cx="507.7" cy="420.7" r="1.55"/><circle cx="502.1" cy="428.7" r="1.55"/><circle cx="501.7" cy="399.8" r="1.55"/><circle cx="534.8" cy="411" r="1.55"/><circle cx="474.8" cy="445.5" r="1.55"/><circle cx="495.8" cy="445.5" r="1.55"/><circle cx="542.3" cy="414.1" r="1.55"/><circle cx="496.8" cy="457.3" r="1.55"/><circle cx="486.5" cy="410.2" r="1.55"/><circle cx="504.5" cy="419.1" r="1.55"/><circle cx="545.9" cy="432.4" r="1.55"/><circle cx="484.5" cy="464.5" r="1.55"/><circle cx="533.4" cy="432.2" r="1.55"/><circle cx="557.1" cy="453.8" r="1.55"/><circle cx="536.4" cy="423.2" r="1.55"/><circle cx="521.1" cy="466.8" r="1.55"/><circle cx="534.7" cy="431.3" r="1.55"/><circle cx="494.4" cy="445.9" r="1.55"/><circle cx="525.7" cy="456.8" r="1.55"/><circle cx="536.1" cy="454.3" r="1.55"/><circle cx="523" cy="444.5" r="1.55"/><circle cx="513.3" cy="443.7" r="1.55"/><circle cx="530.3" cy="444.2" r="1.55"/><circle cx="506.9" cy="445" r="1.55"/><circle cx="519.2" cy="415.9" r="1.55"/><circle cx="522.5" cy="449.3" r="1.55"/><circle cx="512.5" cy="467.9" r="1.55"/><circle cx="528.6" cy="457.7" r="1.55"/><circle cx="535" cy="401.1" r="1.55"/><circle cx="485" cy="445.4" r="1.55"/><circle cx="513.1" cy="425.2" r="1.55"/><circle cx="532.1" cy="443.1" r="1.55"/><circle cx="526.9" cy="417.2" r="1.55"/><circle cx="549.1" cy="391.8" r="1.55"/><circle cx="541.5" cy="425.5" r="1.55"/><circle cx="550.2" cy="452.4" r="1.55"/><circle cx="509.2" cy="410.1" r="1.55"/><circle cx="540.1" cy="483.1" r="1.55"/><circle cx="511.4" cy="471.9" r="1.55"/><circle cx="466.2" cy="441.3" r="1.55"/><circle cx="485.3" cy="438.2" r="1.55"/><circle cx="532.5" cy="472.4" r="1.55"/><circle cx="522.4" cy="473.6" r="1.55"/><circle cx="499.7" cy="403.5" r="1.55"/><circle cx="515.7" cy="459.1" r="1.55"/><circle cx="543.7" cy="394.9" r="1.55"/><circle cx="490.7" cy="415.5" r="1.55"/><circle cx="516.4" cy="472.9" r="1.55"/><circle cx="493.3" cy="395.7" r="1.55"/><circle cx="565.6" cy="473.6" r="1.55"/><circle cx="550.9" cy="395.1" r="1.55"/><circle cx="492.1" cy="408.1" r="1.55"/><circle cx="567.6" cy="403.2" r="1.55"/></g>
<path d="M462 391.4 h27 v21.5 q0 2.5 -2.5 2.5 h-24.5 z" fill="#9af03a"/>
<text x="465" y="409.7" font-size="17.5" font-weight="normal" text-anchor="start" fill="#000" stroke="#000" stroke-width="0.35">Ni</text>
<rect x="346.6" y="487" width="114.4" height="94.4" fill="#000"/>
<g clip-path="url(#cs2c)" fill="#f0241a" filter="url(#bl1)"><circle cx="412.9" cy="531.4" r="1.4"/><circle cx="393.5" cy="530.4" r="1.4"/><circle cx="403.5" cy="536.4" r="1.4"/><circle cx="394.5" cy="540.7" r="1.4"/><circle cx="403.8" cy="525.5" r="1.4"/><circle cx="406.7" cy="533.1" r="1.4"/><circle cx="401.5" cy="532.1" r="1.4"/><circle cx="403.4" cy="538.9" r="1.4"/><circle cx="415.3" cy="532" r="1.4"/><circle cx="386.6" cy="527.7" r="1.4"/><circle cx="410.5" cy="531.3" r="1.4"/><circle cx="407.1" cy="528" r="1.4"/><circle cx="398" cy="516.9" r="1.4"/><circle cx="393.7" cy="543.6" r="1.4"/><circle cx="402.1" cy="529.9" r="1.4"/><circle cx="403" cy="527.7" r="1.4"/><circle cx="401" cy="540.8" r="1.4"/><circle cx="398.2" cy="556.2" r="1.4"/><circle cx="387.3" cy="541.6" r="1.4"/><circle cx="406.8" cy="539.4" r="1.4"/><circle cx="412.2" cy="534.8" r="1.4"/><circle cx="412.4" cy="530.5" r="1.4"/><circle cx="401.6" cy="528.4" r="1.4"/><circle cx="408.2" cy="536.5" r="1.4"/><circle cx="415.2" cy="529.7" r="1.4"/><circle cx="415.9" cy="527" r="1.4"/><circle cx="402.2" cy="540.2" r="1.4"/><circle cx="399" cy="530.6" r="1.4"/><circle cx="392.1" cy="535.2" r="1.4"/><circle cx="402.2" cy="559.3" r="1.4"/><circle cx="420.6" cy="541.7" r="1.4"/><circle cx="424.2" cy="540.3" r="1.4"/><circle cx="398.5" cy="536.9" r="1.4"/><circle cx="393.1" cy="523.5" r="1.4"/><circle cx="394.9" cy="540.5" r="1.4"/><circle cx="399.2" cy="527.4" r="1.4"/><circle cx="397.6" cy="547.6" r="1.4"/><circle cx="387.1" cy="538.9" r="1.4"/><circle cx="389.7" cy="539.1" r="1.4"/><circle cx="396.6" cy="532" r="1.4"/><circle cx="395.4" cy="543.1" r="1.4"/><circle cx="389.5" cy="536.5" r="1.4"/><circle cx="396.6" cy="521" r="1.4"/><circle cx="403.3" cy="553.1" r="1.4"/><circle cx="409.5" cy="529.4" r="1.4"/><circle cx="410.5" cy="527.8" r="1.4"/><circle cx="402.2" cy="537.4" r="1.4"/><circle cx="397.6" cy="520.6" r="1.4"/><circle cx="397.8" cy="525.6" r="1.4"/><circle cx="403.2" cy="534.4" r="1.4"/><circle cx="393.5" cy="524.6" r="1.4"/><circle cx="417.3" cy="529" r="1.4"/><circle cx="380.2" cy="526.3" r="1.4"/><circle cx="422.5" cy="535.9" r="1.4"/><circle cx="393.1" cy="533.1" r="1.4"/><circle cx="396.7" cy="528.1" r="1.4"/><circle cx="385.1" cy="533.6" r="1.4"/><circle cx="395.8" cy="514.4" r="1.4"/><circle cx="397.2" cy="534.3" r="1.4"/><circle cx="388.5" cy="535.3" r="1.4"/><circle cx="398.1" cy="546.2" r="1.4"/><circle cx="398.8" cy="526" r="1.4"/><circle cx="416" cy="534" r="1.4"/><circle cx="394.7" cy="560.6" r="1.4"/><circle cx="415.8" cy="535.1" r="1.4"/><circle cx="387.4" cy="523.8" r="1.4"/><circle cx="412.2" cy="517.9" r="1.4"/><circle cx="400.7" cy="520.2" r="1.4"/><circle cx="401.2" cy="518.6" r="1.4"/><circle cx="394.4" cy="535.1" r="1.4"/><circle cx="406.7" cy="542.3" r="1.4"/><circle cx="384.5" cy="531.2" r="1.4"/><circle cx="403.7" cy="553.9" r="1.4"/><circle cx="404.1" cy="525.3" r="1.4"/><circle cx="391.7" cy="510.7" r="1.4"/><circle cx="413.3" cy="523.4" r="1.4"/><circle cx="398.3" cy="542" r="1.4"/><circle cx="397.2" cy="538.8" r="1.4"/><circle cx="387.2" cy="539.2" r="1.4"/><circle cx="401.9" cy="526.3" r="1.4"/><circle cx="396.5" cy="523.4" r="1.4"/><circle cx="407.7" cy="538" r="1.4"/><circle cx="402.5" cy="537.9" r="1.4"/><circle cx="398" cy="521.5" r="1.4"/><circle cx="389.4" cy="550.6" r="1.4"/><circle cx="398" cy="537.4" r="1.4"/><circle cx="394.7" cy="538.3" r="1.4"/><circle cx="406.1" cy="542" r="1.4"/><circle cx="399.1" cy="521.3" r="1.4"/><circle cx="413" cy="541.8" r="1.4"/><circle cx="399.4" cy="531.6" r="1.4"/><circle cx="399.7" cy="548.6" r="1.4"/><circle cx="406.4" cy="517.9" r="1.4"/><circle cx="393.7" cy="551" r="1.4"/><circle cx="390.5" cy="531" r="1.4"/><circle cx="400.7" cy="542.1" r="1.4"/><circle cx="405.4" cy="537.9" r="1.4"/><circle cx="401.6" cy="530.1" r="1.4"/><circle cx="397.8" cy="525.6" r="1.4"/><circle cx="398.7" cy="543.4" r="1.4"/><circle cx="440.6" cy="496.2" r="1.4"/><circle cx="420.1" cy="525.3" r="1.4"/><circle cx="409.5" cy="525.6" r="1.4"/><circle cx="393" cy="551.4" r="1.4"/><circle cx="442.7" cy="503.2" r="1.4"/><circle cx="434.5" cy="545.8" r="1.4"/><circle cx="401.2" cy="552.4" r="1.4"/><circle cx="433.4" cy="552.2" r="1.4"/><circle cx="402.2" cy="564.8" r="1.4"/><circle cx="435" cy="532.1" r="1.4"/><circle cx="363.9" cy="514.6" r="1.4"/><circle cx="376.9" cy="522.4" r="1.4"/><circle cx="451.5" cy="498.1" r="1.4"/><circle cx="432.3" cy="540.3" r="1.4"/><circle cx="378.9" cy="551.7" r="1.4"/><circle cx="388.5" cy="508.4" r="1.4"/><circle cx="421.2" cy="549.8" r="1.4"/><circle cx="435.6" cy="527" r="1.4"/><circle cx="411.4" cy="564.1" r="1.4"/><circle cx="440.4" cy="508.9" r="1.4"/><circle cx="398.7" cy="506.2" r="1.4"/><circle cx="352.5" cy="499.6" r="1.4"/><circle cx="430.7" cy="523.4" r="1.4"/><circle cx="384" cy="565.9" r="1.4"/><circle cx="443.2" cy="576" r="1.4"/><circle cx="367.9" cy="496.3" r="1.4"/><circle cx="355.7" cy="525.2" r="1.4"/><circle cx="437.3" cy="567.4" r="1.4"/><circle cx="419.6" cy="565.7" r="1.4"/><circle cx="415.5" cy="500.2" r="1.4"/><circle cx="353.1" cy="498.8" r="1.4"/><circle cx="363" cy="548.3" r="1.4"/><circle cx="409.6" cy="542.5" r="1.4"/><circle cx="398.5" cy="554" r="1.4"/><circle cx="414.6" cy="553.5" r="1.4"/><circle cx="390.3" cy="537.7" r="1.4"/><circle cx="347.2" cy="575.2" r="1.4"/><circle cx="393.9" cy="503.9" r="1.4"/><circle cx="431.2" cy="501.9" r="1.4"/><circle cx="374.7" cy="505.2" r="1.4"/><circle cx="350.1" cy="524.4" r="1.4"/><circle cx="391.2" cy="530.7" r="1.4"/></g>
<path d="M346.6 487 h26.5 v21.5 q0 2.5 -2.5 2.5 h-24 z" fill="#fa2a22"/>
<text x="348.1" y="505.5" font-size="17.5" font-weight="normal" text-anchor="start" fill="#000" stroke="#000" stroke-width="0.35">Ru</text>
<rect x="462" y="487" width="115.4" height="94.4" fill="#000"/>
<g clip-path="url(#cs2d)" fill="#e8201a" filter="url(#bl2)"><circle cx="536.3" cy="531.4" r="1.7"/><circle cx="516.9" cy="530.4" r="1.7"/><circle cx="526.9" cy="536.4" r="1.7"/><circle cx="517.9" cy="540.7" r="1.7"/><circle cx="527.2" cy="525.5" r="1.7"/><circle cx="530.1" cy="533.1" r="1.7"/><circle cx="524.9" cy="532.1" r="1.7"/><circle cx="526.8" cy="538.9" r="1.7"/><circle cx="538.7" cy="532" r="1.7"/><circle cx="510" cy="527.7" r="1.7"/><circle cx="533.9" cy="531.3" r="1.7"/><circle cx="530.5" cy="528" r="1.7"/><circle cx="521.4" cy="516.9" r="1.7"/><circle cx="517.1" cy="543.6" r="1.7"/><circle cx="525.5" cy="529.9" r="1.7"/><circle cx="526.4" cy="527.7" r="1.7"/><circle cx="524.4" cy="540.8" r="1.7"/><circle cx="521.6" cy="556.2" r="1.7"/><circle cx="510.7" cy="541.6" r="1.7"/><circle cx="530.2" cy="539.4" r="1.7"/><circle cx="535.6" cy="534.8" r="1.7"/><circle cx="535.8" cy="530.5" r="1.7"/><circle cx="525" cy="528.4" r="1.7"/><circle cx="531.6" cy="536.5" r="1.7"/><circle cx="538.6" cy="529.7" r="1.7"/><circle cx="539.3" cy="527" r="1.7"/><circle cx="525.6" cy="540.2" r="1.7"/><circle cx="522.4" cy="530.6" r="1.7"/><circle cx="515.5" cy="535.2" r="1.7"/><circle cx="525.6" cy="559.3" r="1.7"/><circle cx="544" cy="541.7" r="1.7"/><circle cx="547.6" cy="540.3" r="1.7"/><circle cx="521.9" cy="536.9" r="1.7"/><circle cx="516.5" cy="523.5" r="1.7"/><circle cx="518.3" cy="540.5" r="1.7"/><circle cx="522.6" cy="527.4" r="1.7"/><circle cx="521" cy="547.6" r="1.7"/><circle cx="510.5" cy="538.9" r="1.7"/><circle cx="513.1" cy="539.1" r="1.7"/><circle cx="520" cy="532" r="1.7"/><circle cx="518.8" cy="543.1" r="1.7"/><circle cx="512.9" cy="536.5" r="1.7"/><circle cx="520" cy="521" r="1.7"/><circle cx="526.7" cy="553.1" r="1.7"/><circle cx="532.9" cy="529.4" r="1.7"/><circle cx="533.9" cy="527.8" r="1.7"/><circle cx="525.6" cy="537.4" r="1.7"/><circle cx="521" cy="520.6" r="1.7"/><circle cx="521.2" cy="525.6" r="1.7"/><circle cx="526.6" cy="534.4" r="1.7"/><circle cx="516.9" cy="524.6" r="1.7"/><circle cx="540.7" cy="529" r="1.7"/><circle cx="503.6" cy="526.3" r="1.7"/><circle cx="545.9" cy="535.9" r="1.7"/><circle cx="516.5" cy="533.1" r="1.7"/><circle cx="520.1" cy="528.1" r="1.7"/><circle cx="508.5" cy="533.6" r="1.7"/><circle cx="519.2" cy="514.4" r="1.7"/><circle cx="520.6" cy="534.3" r="1.7"/><circle cx="511.9" cy="535.3" r="1.7"/><circle cx="521.5" cy="546.2" r="1.7"/><circle cx="522.2" cy="526" r="1.7"/><circle cx="539.4" cy="534" r="1.7"/><circle cx="518.1" cy="560.6" r="1.7"/><circle cx="539.2" cy="535.1" r="1.7"/><circle cx="510.8" cy="523.8" r="1.7"/><circle cx="535.6" cy="517.9" r="1.7"/><circle cx="524.1" cy="520.2" r="1.7"/><circle cx="524.6" cy="518.6" r="1.7"/><circle cx="517.8" cy="535.1" r="1.7"/><circle cx="530.1" cy="542.3" r="1.7"/><circle cx="507.9" cy="531.2" r="1.7"/><circle cx="527.1" cy="553.9" r="1.7"/><circle cx="527.5" cy="525.3" r="1.7"/><circle cx="515.1" cy="510.7" r="1.7"/><circle cx="536.7" cy="523.4" r="1.7"/><circle cx="521.7" cy="542" r="1.7"/><circle cx="520.6" cy="538.8" r="1.7"/><circle cx="510.6" cy="539.2" r="1.7"/><circle cx="525.3" cy="526.3" r="1.7"/><circle cx="519.9" cy="523.4" r="1.7"/><circle cx="531.1" cy="538" r="1.7"/><circle cx="525.9" cy="537.9" r="1.7"/><circle cx="521.4" cy="521.5" r="1.7"/><circle cx="512.8" cy="550.6" r="1.7"/><circle cx="521.4" cy="537.4" r="1.7"/><circle cx="518.1" cy="538.3" r="1.7"/><circle cx="529.5" cy="542" r="1.7"/><circle cx="522.5" cy="521.3" r="1.7"/><circle cx="536.4" cy="541.8" r="1.7"/><circle cx="522.8" cy="531.6" r="1.7"/><circle cx="523.1" cy="548.6" r="1.7"/><circle cx="529.8" cy="517.9" r="1.7"/><circle cx="517.1" cy="551" r="1.7"/><circle cx="513.9" cy="531" r="1.7"/><circle cx="524.1" cy="542.1" r="1.7"/><circle cx="528.8" cy="537.9" r="1.7"/><circle cx="525" cy="530.1" r="1.7"/><circle cx="521.2" cy="525.6" r="1.7"/><circle cx="522.1" cy="543.4" r="1.7"/><circle cx="564" cy="496.2" r="1.7"/><circle cx="543.5" cy="525.3" r="1.7"/><circle cx="532.9" cy="525.6" r="1.7"/><circle cx="516.4" cy="551.4" r="1.7"/><circle cx="566.1" cy="503.2" r="1.7"/><circle cx="557.9" cy="545.8" r="1.7"/><circle cx="524.6" cy="552.4" r="1.7"/><circle cx="556.8" cy="552.2" r="1.7"/><circle cx="525.6" cy="564.8" r="1.7"/><circle cx="558.4" cy="532.1" r="1.7"/><circle cx="487.3" cy="514.6" r="1.7"/><circle cx="500.3" cy="522.4" r="1.7"/><circle cx="574.9" cy="498.1" r="1.7"/><circle cx="555.7" cy="540.3" r="1.7"/><circle cx="502.3" cy="551.7" r="1.7"/><circle cx="511.9" cy="508.4" r="1.7"/><circle cx="544.6" cy="549.8" r="1.7"/><circle cx="559" cy="527" r="1.7"/><circle cx="534.8" cy="564.1" r="1.7"/><circle cx="563.8" cy="508.9" r="1.7"/><circle cx="522.1" cy="506.2" r="1.7"/><circle cx="475.9" cy="499.6" r="1.7"/><circle cx="554.1" cy="523.4" r="1.7"/><circle cx="507.4" cy="565.9" r="1.7"/><circle cx="566.6" cy="576" r="1.7"/><circle cx="491.3" cy="496.3" r="1.7"/><circle cx="479.1" cy="525.2" r="1.7"/><circle cx="560.7" cy="567.4" r="1.7"/><circle cx="543" cy="565.7" r="1.7"/><circle cx="538.9" cy="500.2" r="1.7"/><circle cx="476.5" cy="498.8" r="1.7"/><circle cx="486.4" cy="548.3" r="1.7"/><circle cx="533" cy="542.5" r="1.7"/><circle cx="521.9" cy="554" r="1.7"/><circle cx="538" cy="553.5" r="1.7"/><circle cx="513.7" cy="537.7" r="1.7"/><circle cx="470.6" cy="575.2" r="1.7"/><circle cx="517.3" cy="503.9" r="1.7"/><circle cx="554.6" cy="501.9" r="1.7"/><circle cx="498.1" cy="505.2" r="1.7"/><circle cx="473.5" cy="524.4" r="1.7"/><circle cx="514.6" cy="530.7" r="1.7"/></g>
<g clip-path="url(#cs2d)" fill="#8cf02a" filter="url(#bl1)" opacity="0.92"><circle cx="538.4" cy="554.2" r="1.55"/><circle cx="537.1" cy="559.6" r="1.55"/><circle cx="506.8" cy="519.7" r="1.55"/><circle cx="503.1" cy="514.6" r="1.55"/><circle cx="545.4" cy="538.6" r="1.55"/><circle cx="504.5" cy="515.5" r="1.55"/><circle cx="545.5" cy="509.6" r="1.55"/><circle cx="511.8" cy="542" r="1.55"/><circle cx="547" cy="558.3" r="1.55"/><circle cx="512" cy="506.5" r="1.55"/><circle cx="500.2" cy="540.4" r="1.55"/><circle cx="526.3" cy="556.2" r="1.55"/><circle cx="538.9" cy="554.1" r="1.55"/><circle cx="501.8" cy="510.3" r="1.55"/><circle cx="522.2" cy="540.8" r="1.55"/><circle cx="507" cy="558.5" r="1.55"/><circle cx="489.2" cy="529.9" r="1.55"/><circle cx="503.9" cy="540.5" r="1.55"/><circle cx="532" cy="525.4" r="1.55"/><circle cx="529" cy="557.7" r="1.55"/><circle cx="507.7" cy="516.3" r="1.55"/><circle cx="502.1" cy="524.3" r="1.55"/><circle cx="501.7" cy="495.4" r="1.55"/><circle cx="534.8" cy="506.6" r="1.55"/><circle cx="474.8" cy="541.1" r="1.55"/><circle cx="495.8" cy="541.1" r="1.55"/><circle cx="542.3" cy="509.7" r="1.55"/><circle cx="496.8" cy="552.9" r="1.55"/><circle cx="486.5" cy="505.8" r="1.55"/><circle cx="504.5" cy="514.7" r="1.55"/><circle cx="545.9" cy="528" r="1.55"/><circle cx="484.5" cy="560.1" r="1.55"/><circle cx="533.4" cy="527.8" r="1.55"/><circle cx="557.1" cy="549.4" r="1.55"/><circle cx="536.4" cy="518.8" r="1.55"/><circle cx="521.1" cy="562.4" r="1.55"/><circle cx="534.7" cy="526.9" r="1.55"/><circle cx="494.4" cy="541.5" r="1.55"/><circle cx="525.7" cy="552.4" r="1.55"/><circle cx="536.1" cy="549.9" r="1.55"/><circle cx="523" cy="540.1" r="1.55"/><circle cx="513.3" cy="539.3" r="1.55"/><circle cx="530.3" cy="539.8" r="1.55"/><circle cx="506.9" cy="540.6" r="1.55"/><circle cx="519.2" cy="511.5" r="1.55"/><circle cx="522.5" cy="544.9" r="1.55"/><circle cx="512.5" cy="563.5" r="1.55"/><circle cx="528.6" cy="553.3" r="1.55"/><circle cx="535" cy="496.7" r="1.55"/><circle cx="485" cy="541" r="1.55"/><circle cx="513.1" cy="520.8" r="1.55"/><circle cx="532.1" cy="538.7" r="1.55"/><circle cx="526.9" cy="512.8" r="1.55"/><circle cx="549.1" cy="487.4" r="1.55"/><circle cx="541.5" cy="521.1" r="1.55"/><circle cx="550.2" cy="548" r="1.55"/><circle cx="509.2" cy="505.7" r="1.55"/><circle cx="540.1" cy="578.7" r="1.55"/><circle cx="511.4" cy="567.5" r="1.55"/><circle cx="466.2" cy="536.9" r="1.55"/><circle cx="485.3" cy="533.8" r="1.55"/><circle cx="532.5" cy="568" r="1.55"/><circle cx="522.4" cy="569.2" r="1.55"/><circle cx="499.7" cy="499.1" r="1.55"/><circle cx="515.7" cy="554.7" r="1.55"/><circle cx="543.7" cy="490.5" r="1.55"/><circle cx="490.7" cy="511.1" r="1.55"/><circle cx="516.4" cy="568.5" r="1.55"/><circle cx="493.3" cy="491.3" r="1.55"/><circle cx="565.6" cy="569.2" r="1.55"/><circle cx="550.9" cy="490.7" r="1.55"/><circle cx="492.1" cy="503.7" r="1.55"/><circle cx="567.6" cy="498.8" r="1.55"/></g>
<text x="508" y="574.3" font-size="19.2" font-weight="bold" text-anchor="start" fill="#fff" textLength="69.5" lengthAdjust="spacingAndGlyphs">overlap</text>
<text x="4.9" y="49.7" font-size="57" font-weight="normal" text-anchor="start" fill="#000" textLength="29" lengthAdjust="spacingAndGlyphs">a</text>
<defs>
<linearGradient id="gR" x1="0" y1="0" x2="0" y2="1"><stop offset="0" stop-color="#ff2424"/><stop offset="0.5" stop-color="#f78e8e"/><stop offset="1" stop-color="#fdf0f0"/></linearGradient>
<linearGradient id="gG" x1="0" y1="0" x2="0" y2="1"><stop offset="0" stop-color="#d19a20"/><stop offset="0.5" stop-color="#e6cd96"/><stop offset="1" stop-color="#fffdf8"/></linearGradient>
<clipPath id="cb"><rect x="643.6" y="12.4" width="503.8" height="499.4"/></clipPath>
</defs>
<g clip-path="url(#cb)" fill="none" stroke-linejoin="round">
<path d="M643.6 114.8 L645.4 120.7 L647.1 112.9 L648.9 118.7 L650.6 115.4 L652.4 113.9 L654.1 123.7 L655.9 119.8 L657.6 117.1 L659.4 119.6 L661.1 122.7 L662.9 118.6 L664.6 119.7 L666.4 112.8 L668.1 112.6 L669.9 112.2 L671.6 107.7 L673.4 104.8 L675.1 102.9 L676.9 108.6 L678.6 111.5 L680.4 112 L682.1 113.9 L683.9 107.9 L685.6 111.1 L687.4 113.9 L689.1 117.4 L690.9 111 L692.6 110.1 L694.4 101.6 L696.1 104.7 L697.9 97.6 L699.6 97.8 L701.4 109.6 L703.1 98.6 L704.9 107.7 L706.6 109 L708.4 106.2 L710.1 108.1 L711.9 108.9 L713.6 111.2 L715.4 105.7 L717.1 101.1 L718.9 98.5 L720.6 95 L722.4 97.5 L724.1 94.6 L725.9 101.7 L727.6 90.2 L729.4 88.3 L731.1 87.5 L732.9 81.1 L734.6 96.8 L736.4 82.6 L738.1 85.9 L739.9 85.8 L741.6 95.9 L743.4 82.8 L745.1 91.5 L746.9 87 L748.6 88.2 L750.4 86.8 L752.1 93.4 L753.9 88.7 L755.6 92.9 L757.4 98 L759.1 108.7 L760.9 94.4 L762.6 108.1 L764.4 112.6 L766.1 109 L767.9 112.2 L769.6 110.9 L771.4 121.3 L773.1 119.9 L774.9 117.9 L776.6 117.6 L778.4 118.1 L780.1 118.9 L781.9 116.3 L783.6 129.6 L785.4 116.8 L787.1 103.1 L788.9 113.9 L790.6 118.9 L792.4 123.7 L794.1 123.3 L795.9 123.5 L797.6 126.1 L799.4 130.4 L801.1 125.6 L802.9 123.9 L804.6 134.4 L806.4 132.4 L808.1 124.3 L809.9 136.7 L811.6 134.9 L813.4 127.6 L815.1 121.7 L816.9 126.1 L818.6 122.8 L820.4 120.3 L822.1 118.1 L823.9 121 L825.6 130.1 L827.4 126.9 L829.1 120.6 L830.9 128.1 L832.6 128.6 L834.4 132.7 L836.1 136.3 L837.9 131.4 L839.6 129.4 L841.4 129.1 L843.1 123.7 L844.9 130.1 L846.6 136.4 L848.4 133.5 L850.1 130.4 L851.9 128.9 L853.6 125.8 L855.4 124.4 L857.1 125.7 L858.9 124.3 L860.6 125.7 L862.4 120.9 L864.1 128 L865.9 129.9 L867.6 125 L869.4 117.4 L871.1 125 L872.9 133.9 L874.6 129.1 L876.4 128.2 L878.1 127.5 L879.9 133 L881.6 128.1 L883.4 135.1 L885.1 132.1 L886.9 136.7 L888.6 134.5 L890.4 132.4 L892.1 125.4 L893.9 126.2 L895.6 128.6 L897.4 134.2 L899.1 134.8 L900.9 130.6 L902.6 134 L904.4 138.4 L906.1 135 L907.9 132.1 L909.6 131.1 L911.4 136.4 L913.1 137.6 L914.9 131.1 L916.6 134.5 L918.4 131.9 L920.1 129.5 L921.9 137.9 L923.6 139.8 L925.4 133.2 L927.1 134 L928.9 136.5 L930.6 132 L932.4 132.5 L934.1 136.4 L935.9 126.3 L937.6 131.8 L939.4 136.1 L941.1 136.7 L942.9 128 L944.6 131.8 L946.4 127.5 L948.1 132.2 L949.9 134.1 L951.6 132.7 L953.4 126.9 L955.1 124.6 L956.9 130 L958.6 123.4 L960.4 126.5 L962.1 127.3 L963.9 123.1 L965.6 133.3 L967.4 125.9 L969.1 131.7 L970.9 113.5 L972.6 103.3 L974.4 113.4 L976.1 115.3 L977.9 110.8 L979.6 109.1 L981.4 98.5 L983.1 99.1 L984.9 96.5 L986.6 98.5 L988.4 103.8 L990.1 101.5 L991.9 101.1 L993.6 95 L995.4 92.6 L997.1 93.3 L998.9 90.7 L1000.6 96 L1002.4 87 L1004.1 95.1 L1005.9 83.7 L1007.6 87.2 L1009.4 78.7 L1011.1 85.3 L1012.9 79.8 L1014.6 77.6 L1016.4 77.3 L1018.1 69.9 L1019.9 64.1 L1021.6 56.6 L1023.4 69.1 L1025.1 66 L1026.8 66 L1028.6 69.9 L1030.3 83 L1032.1 72.8 L1033.8 79.7 L1035.6 81.9 L1037.3 89.6 L1039.1 84.2 L1040.8 90.8 L1042.6 102 L1044.3 112.7 L1046.1 119.9 L1047.8 113.4 L1049.6 116.7 L1051.3 119.2 L1053.1 115.9 L1054.8 115.5 L1056.6 127.3 L1058.3 131.3 L1060.1 132.3 L1061.8 140.2 L1063.6 133.9 L1065.3 139.1 L1067.1 139.6 L1068.8 140 L1070.6 143.3 L1072.3 143.7 L1074.1 144.6 L1075.8 145.4 L1077.6 154 L1079.3 147.3 L1081.1 150.9 L1082.8 150.7 L1084.6 146.3 L1086.3 149.9 L1088.1 143.7 L1089.8 150.8 L1091.6 144.7 L1093.3 143.6 L1095.1 147.1 L1096.8 151.3 L1098.6 153.6 L1100.3 154.7 L1102.1 150 L1103.8 144.4 L1105.6 149.2 L1107.3 150.3 L1109.1 144.9 L1110.8 151.8 L1112.6 151.3 L1114.3 145.6 L1116.1 149.9 L1117.8 143.4 L1119.6 142.7 L1121.3 148.6 L1123.1 142 L1124.8 146.8 L1126.6 142.3 L1128.3 150.4 L1130.1 147.2 L1131.8 150.1 L1133.6 143.5 L1135.3 146.1 L1137.1 153.6 L1138.8 154.7 L1140.6 144.3 L1142.3 152.9 L1144.1 156.7 L1145.8 152.4" stroke="#b2b2b2" stroke-width="1.9"/>
<path d="M651.3 116.3 L653.5 116.5 L655.6 116.6 L657.8 116.8 L660 116.9 L662.1 117.1 L664.3 117.2 L666.5 117.4 L668.6 117.5 L670.8 117.7 L673 117.8 L675.1 118 L677.3 118.1 L679.5 118.2 L681.6 118.4 L683.8 118.5 L686 118.6 L688.1 118.7 L690.3 118.9 L692.5 119 L694.6 119.1 L696.8 119.2 L699 119.2 L701.1 119.3 L703.3 119.3 L705.5 119.2 L707.6 119.2 L709.8 119 L712 118.7 L714.1 118.3 L716.3 117.8 L718.5 117.1 L720.6 116.2 L722.8 115.1 L725 113.7 L727.1 112.1 L729.3 110.4 L731.5 108.4 L733.6 106.3 L735.8 104.2 L738 102 L740.1 100.1 L742.3 98.4 L744.5 97.1 L746.6 96.3 L748.8 96.1 L751 96.6 L753.1 97.7 L755.3 99.3 L757.5 101.4 L759.6 103.7 L761.8 106.1 L764 108.6 L766.1 111 L768.3 113.3 L770.5 115.4 L772.6 117.3 L774.8 119 L777 120.4 L779.1 121.7 L781.3 122.7 L783.5 123.6 L785.6 124.3 L787.8 124.9 L790 125.4 L792.1 125.8 L794.3 126.1 L796.5 126.5 L798.6 126.7 L800.8 127 L803 127.2 L805.1 127.5 L807.3 127.7 L809.5 127.9 L811.6 128.1 L813.8 128.3 L816 128.5 L818.1 128.7 L820.3 128.9 L822.5 129.1 L824.6 129.3 L826.8 129.4 L829 129.6 L831.1 129.8 L833.3 130 L835.5 130.2 L837.6 130.3 L839.8 130.5 L842 130.7 L844.1 130.9 L846.3 131 L846.3 131.3 L651.3 116.6 Z" fill="url(#gG)" stroke="none"/>
<path d="M651.3 116.3 L653.5 116.5 L655.6 116.6 L657.8 116.8 L660 116.9 L662.1 117.1 L664.3 117.2 L666.5 117.4 L668.6 117.5 L670.8 117.7 L673 117.8 L675.1 118 L677.3 118.1 L679.5 118.2 L681.6 118.4 L683.8 118.5 L686 118.6 L688.1 118.7 L690.3 118.9 L692.5 119 L694.6 119.1 L696.8 119.2 L699 119.2 L701.1 119.3 L703.3 119.3 L705.5 119.2 L707.6 119.2 L709.8 119 L712 118.7 L714.1 118.3 L716.3 117.8 L718.5 117.1 L720.6 116.2 L722.8 115.1 L725 113.7 L727.1 112.1 L729.3 110.4 L731.5 108.4 L733.6 106.3 L735.8 104.2 L738 102 L740.1 100.1 L742.3 98.4 L744.5 97.1 L746.6 96.3 L748.8 96.1 L751 96.6 L753.1 97.7 L755.3 99.3 L757.5 101.4 L759.6 103.7 L761.8 106.1 L764 108.6 L766.1 111 L768.3 113.3 L770.5 115.4 L772.6 117.3 L774.8 119 L777 120.4 L779.1 121.7 L781.3 122.7 L783.5 123.6 L785.6 124.3 L787.8 124.9 L790 125.4 L792.1 125.8 L794.3 126.1 L796.5 126.5 L798.6 126.7 L800.8 127 L803 127.2 L805.1 127.5 L807.3 127.7 L809.5 127.9 L811.6 128.1 L813.8 128.3 L816 128.5 L818.1 128.7 L820.3 128.9 L822.5 129.1 L824.6 129.3 L826.8 129.4 L829 129.6 L831.1 129.8 L833.3 130 L835.5 130.2 L837.6 130.3 L839.8 130.5 L842 130.7 L844.1 130.9 L846.3 131" stroke="#d19a20" stroke-width="1.4"/>
<path d="M908.6 135.4 L911.2 135.6 L913.8 135.7 L916.4 135.9 L919 136.1 L921.6 136.2 L924.2 136.4 L926.8 136.5 L929.4 136.7 L932 136.8 L934.6 137 L937.2 137.1 L939.8 137.3 L942.4 137.4 L945 137.5 L947.6 137.6 L950.2 137.7 L952.8 137.8 L955.4 137.9 L958 138 L960.6 138 L963.2 138 L965.8 138 L968.4 137.9 L971 137.8 L973.6 137.5 L976.2 137.1 L978.8 136.4 L981.4 135.6 L984 134.5 L986.6 133 L989.2 131.1 L991.8 128.7 L994.4 125.8 L997 122.4 L999.6 118.4 L1002.2 113.9 L1004.8 108.9 L1007.4 103.7 L1010 98.3 L1012.6 93 L1015.2 88.1 L1017.8 83.8 L1020.4 80.5 L1023 78.4 L1025.6 77.8 L1028.2 78.8 L1030.8 81.2 L1033.4 85 L1036 89.7 L1038.6 95 L1041.2 100.7 L1043.8 106.5 L1046.4 112.1 L1049 117.4 L1051.6 122.3 L1054.2 126.7 L1056.8 130.5 L1059.4 133.8 L1062 136.6 L1064.6 138.9 L1067.2 140.7 L1069.8 142.3 L1072.4 143.5 L1075 144.5 L1077.6 145.3 L1080.2 146 L1082.8 146.6 L1085.4 147 L1088 147.5 L1090.6 147.8 L1093.2 148.2 L1095.8 148.5 L1098.4 148.8 L1101 149.1 L1103.6 149.4 L1106.2 149.7 L1108.8 149.9 L1111.4 150.2 L1114 150.5 L1116.6 150.7 L1119.2 151 L1121.8 151.2 L1124.4 151.4 L1127 151.7 L1129.6 151.9 L1132.2 152.1 L1134.8 152.4 L1137.4 152.6 L1140 152.8 L1142.6 153 L1142.6 153.6 L908.6 136 Z" fill="url(#gG)" stroke="none"/>
<path d="M908.6 135.4 L911.2 135.6 L913.8 135.7 L916.4 135.9 L919 136.1 L921.6 136.2 L924.2 136.4 L926.8 136.5 L929.4 136.7 L932 136.8 L934.6 137 L937.2 137.1 L939.8 137.3 L942.4 137.4 L945 137.5 L947.6 137.6 L950.2 137.7 L952.8 137.8 L955.4 137.9 L958 138 L960.6 138 L963.2 138 L965.8 138 L968.4 137.9 L971 137.8 L973.6 137.5 L976.2 137.1 L978.8 136.4 L981.4 135.6 L984 134.5 L986.6 133 L989.2 131.1 L991.8 128.7 L994.4 125.8 L997 122.4 L999.6 118.4 L1002.2 113.9 L1004.8 108.9 L1007.4 103.7 L1010 98.3 L1012.6 93 L1015.2 88.1 L1017.8 83.8 L1020.4 80.5 L1023 78.4 L1025.6 77.8 L1028.2 78.8 L1030.8 81.2 L1033.4 85 L1036 89.7 L1038.6 95 L1041.2 100.7 L1043.8 106.5 L1046.4 112.1 L1049 117.4 L1051.6 122.3 L1054.2 126.7 L1056.8 130.5 L1059.4 133.8 L1062 136.6 L1064.6 138.9 L1067.2 140.7 L1069.8 142.3 L1072.4 143.5 L1075 144.5 L1077.6 145.3 L1080.2 146 L1082.8 146.6 L1085.4 147 L1088 147.5 L1090.6 147.8 L1093.2 148.2 L1095.8 148.5 L1098.4 148.8 L1101 149.1 L1103.6 149.4 L1106.2 149.7 L1108.8 149.9 L1111.4 150.2 L1114 150.5 L1116.6 150.7 L1119.2 151 L1121.8 151.2 L1124.4 151.4 L1127 151.7 L1129.6 151.9 L1132.2 152.1 L1134.8 152.4 L1137.4 152.6 L1140 152.8 L1142.6 153" stroke="#d19a20" stroke-width="1.4"/>
<path d="M643.6 115.7 L645.8 115.9 L648.1 116 L650.3 116.1 L652.5 116.3 L654.8 116.4 L657 116.6 L659.2 116.7 L661.4 116.8 L663.7 116.9 L665.9 117 L668.1 117.1 L670.4 117.1 L672.6 117.1 L674.8 117.1 L677 117 L679.3 116.9 L681.5 116.8 L683.7 116.5 L686 116.3 L688.2 115.9 L690.4 115.5 L692.7 115 L694.9 114.4 L697.1 113.7 L699.4 113 L701.6 112.3 L703.8 111.6 L706 110.8 L708.3 110.1 L710.5 109.5 L712.7 108.9 L715 108.5 L717.2 108.2 L719.4 108.2 L721.6 108.3 L723.9 108.7 L726.1 109.2 L728.3 109.9 L730.6 110.8 L732.8 111.7 L735 112.8 L737.3 113.9 L739.5 115 L741.7 116 L744 117.1 L746.2 118.1 L748.4 119 L750.6 119.9 L752.9 120.6 L755.1 121.4 L757.3 122 L759.6 122.6 L761.8 123.1 L764 123.5 L766.2 123.9 L768.5 124.3 L770.7 124.6 L772.9 124.9 L775.2 125.2 L777.4 125.5 L779.6 125.7 L781.9 125.9 L784.1 126.1 L786.3 126.3 L788.5 126.5 L790.8 126.7 L793 126.9 L795.2 127.1 L797.5 127.3 L799.7 127.5 L801.9 127.7 L804.2 127.9 L806.4 128 L808.6 128.2 L810.8 128.4 L813.1 128.6 L815.3 128.7 L817.5 128.9 L819.8 129.1 L822 129.3 L824.2 129.5 L826.5 129.6 L828.7 129.8 L830.9 130 L833.1 130.2 L835.4 130.3 L837.6 130.5 L839.8 130.7 L842.1 130.8 L844.3 131 L844.3 131.1 L643.6 116 Z" fill="url(#gR)" stroke="none"/>
<path d="M643.6 115.7 L645.8 115.9 L648.1 116 L650.3 116.1 L652.5 116.3 L654.8 116.4 L657 116.6 L659.2 116.7 L661.4 116.8 L663.7 116.9 L665.9 117 L668.1 117.1 L670.4 117.1 L672.6 117.1 L674.8 117.1 L677 117 L679.3 116.9 L681.5 116.8 L683.7 116.5 L686 116.3 L688.2 115.9 L690.4 115.5 L692.7 115 L694.9 114.4 L697.1 113.7 L699.4 113 L701.6 112.3 L703.8 111.6 L706 110.8 L708.3 110.1 L710.5 109.5 L712.7 108.9 L715 108.5 L717.2 108.2 L719.4 108.2 L721.6 108.3 L723.9 108.7 L726.1 109.2 L728.3 109.9 L730.6 110.8 L732.8 111.7 L735 112.8 L737.3 113.9 L739.5 115 L741.7 116 L744 117.1 L746.2 118.1 L748.4 119 L750.6 119.9 L752.9 120.6 L755.1 121.4 L757.3 122 L759.6 122.6 L761.8 123.1 L764 123.5 L766.2 123.9 L768.5 124.3 L770.7 124.6 L772.9 124.9 L775.2 125.2 L777.4 125.5 L779.6 125.7 L781.9 125.9 L784.1 126.1 L786.3 126.3 L788.5 126.5 L790.8 126.7 L793 126.9 L795.2 127.1 L797.5 127.3 L799.7 127.5 L801.9 127.7 L804.2 127.9 L806.4 128 L808.6 128.2 L810.8 128.4 L813.1 128.6 L815.3 128.7 L817.5 128.9 L819.8 129.1 L822 129.3 L824.2 129.5 L826.5 129.6 L828.7 129.8 L830.9 130 L833.1 130.2 L835.4 130.3 L837.6 130.5 L839.8 130.7 L842.1 130.8 L844.3 131" stroke="#f21414" stroke-width="1.8"/>
<path d="M853 131.5 L856 131.8 L859.1 132 L862.1 132.2 L865.1 132.4 L868.2 132.6 L871.2 132.8 L874.2 133 L877.3 133.2 L880.3 133.5 L883.3 133.7 L886.4 133.9 L889.4 134.1 L892.4 134.3 L895.5 134.5 L898.5 134.7 L901.5 134.9 L904.6 135 L907.6 135.2 L910.6 135.4 L913.7 135.6 L916.7 135.7 L919.7 135.8 L922.8 135.9 L925.8 136 L928.8 136 L931.9 136 L934.9 135.9 L937.9 135.7 L941 135.3 L944 134.8 L947 134.1 L950.1 133.2 L953.1 132.1 L956.1 130.8 L959.2 129.2 L962.2 127.4 L965.2 125.4 L968.3 123.3 L971.3 121.1 L974.3 119 L977.4 117 L980.4 115.2 L983.4 113.9 L986.5 113.2 L989.5 113.1 L992.5 113.7 L995.6 114.9 L998.6 116.6 L1001.6 118.8 L1004.7 121.2 L1007.7 123.9 L1010.7 126.5 L1013.8 129.1 L1016.8 131.5 L1019.8 133.8 L1022.9 135.8 L1025.9 137.6 L1028.9 139.2 L1032 140.5 L1035 141.7 L1038 142.6 L1041.1 143.4 L1044.1 144.1 L1047.1 144.7 L1050.2 145.2 L1053.2 145.6 L1056.2 146 L1059.3 146.4 L1062.3 146.7 L1065.3 147 L1068.4 147.3 L1071.4 147.6 L1074.4 147.9 L1077.5 148.1 L1080.5 148.4 L1083.5 148.7 L1086.6 148.9 L1089.6 149.2 L1092.6 149.4 L1095.7 149.7 L1098.7 149.9 L1101.7 150.2 L1104.8 150.4 L1107.8 150.7 L1110.8 150.9 L1113.9 151.2 L1116.9 151.4 L1119.9 151.6 L1123 151.9 L1126 152.1 L1126 152.4 L853 131.8 Z" fill="url(#gR)" stroke="none"/>
<path d="M853 131.5 L856 131.8 L859.1 132 L862.1 132.2 L865.1 132.4 L868.2 132.6 L871.2 132.8 L874.2 133 L877.3 133.2 L880.3 133.5 L883.3 133.7 L886.4 133.9 L889.4 134.1 L892.4 134.3 L895.5 134.5 L898.5 134.7 L901.5 134.9 L904.6 135 L907.6 135.2 L910.6 135.4 L913.7 135.6 L916.7 135.7 L919.7 135.8 L922.8 135.9 L925.8 136 L928.8 136 L931.9 136 L934.9 135.9 L937.9 135.7 L941 135.3 L944 134.8 L947 134.1 L950.1 133.2 L953.1 132.1 L956.1 130.8 L959.2 129.2 L962.2 127.4 L965.2 125.4 L968.3 123.3 L971.3 121.1 L974.3 119 L977.4 117 L980.4 115.2 L983.4 113.9 L986.5 113.2 L989.5 113.1 L992.5 113.7 L995.6 114.9 L998.6 116.6 L1001.6 118.8 L1004.7 121.2 L1007.7 123.9 L1010.7 126.5 L1013.8 129.1 L1016.8 131.5 L1019.8 133.8 L1022.9 135.8 L1025.9 137.6 L1028.9 139.2 L1032 140.5 L1035 141.7 L1038 142.6 L1041.1 143.4 L1044.1 144.1 L1047.1 144.7 L1050.2 145.2 L1053.2 145.6 L1056.2 146 L1059.3 146.4 L1062.3 146.7 L1065.3 147 L1068.4 147.3 L1071.4 147.6 L1074.4 147.9 L1077.5 148.1 L1080.5 148.4 L1083.5 148.7 L1086.6 148.9 L1089.6 149.2 L1092.6 149.4 L1095.7 149.7 L1098.7 149.9 L1101.7 150.2 L1104.8 150.4 L1107.8 150.7 L1110.8 150.9 L1113.9 151.2 L1116.9 151.4 L1119.9 151.6 L1123 151.9 L1126 152.1" stroke="#f21414" stroke-width="1.8"/>
<path d="M643.6 116 L1147.4 154" stroke="#f27a7a" stroke-width="1.3"/>
<path d="M643.6 115.4 L645.6 115.5 L647.6 115.6 L649.6 115.8 L651.6 115.9 L653.6 116 L655.6 116.1 L657.6 116.2 L659.6 116.3 L661.6 116.4 L663.6 116.5 L665.6 116.5 L667.6 116.6 L669.6 116.6 L671.6 116.6 L673.6 116.6 L675.6 116.5 L677.6 116.4 L679.6 116.3 L681.6 116.1 L683.6 115.9 L685.6 115.6 L687.6 115.3 L689.6 114.9 L691.6 114.4 L693.6 113.8 L695.6 113.2 L697.6 112.6 L699.6 111.8 L701.6 111.1 L703.6 110.2 L705.6 109.4 L707.6 108.5 L709.6 107.6 L711.6 106.7 L713.6 105.7 L715.6 104.8 L717.6 103.9 L719.6 102.9 L721.6 102 L723.6 101 L725.6 100 L727.6 98.9 L729.6 97.8 L731.6 96.7 L733.6 95.5 L735.6 94.3 L737.6 93.2 L739.6 92.1 L741.6 91.3 L743.6 90.7 L745.6 90.5 L747.6 90.8 L749.6 91.5 L751.6 92.7 L753.6 94.4 L755.6 96.5 L757.6 98.8 L759.6 101.3 L761.6 103.8 L763.6 106.4 L765.6 108.8 L767.6 111.2 L769.6 113.3 L771.6 115.3 L773.6 117.1 L775.6 118.6 L777.6 119.9 L779.6 121.1 L781.6 122.1 L783.6 122.9 L785.6 123.6 L787.6 124.1 L789.6 124.6 L791.6 125.1 L793.6 125.4 L795.6 125.7 L797.6 126 L799.6 126.3 L801.6 126.5 L803.6 126.7 L805.6 127 L807.6 127.2 L809.6 127.4 L811.6 127.5 L813.6 127.7 L815.6 127.9 L817.6 128.1 L819.6 128.3 L821.6 128.4 L823.6 128.6 L825.6 128.8 L827.6 128.9 L829.6 129.1 L831.6 129.3 L833.6 129.4 L835.6 129.6 L837.6 129.8 L839.6 129.9 L841.6 130.1 L843.6 130.2 L845.6 130.4 L847.6 130.5 L849.6 130.7 L851.6 130.8 L853.6 131 L855.6 131.1 L857.6 131.3 L859.6 131.4 L861.6 131.6 L863.6 131.7 L865.6 131.8 L867.6 132 L869.6 132.1 L871.6 132.3 L873.6 132.4 L875.6 132.5 L877.6 132.7 L879.6 132.8 L881.6 132.9 L883.6 133.1 L885.6 133.2 L887.6 133.3 L889.6 133.5 L891.6 133.6 L893.6 133.7 L895.6 133.8 L897.6 133.9 L899.6 134.1 L901.6 134.2 L903.6 134.3 L905.6 134.4 L907.6 134.5 L909.6 134.6 L911.6 134.7 L913.6 134.8 L915.6 134.8 L917.6 134.9 L919.6 135 L921.6 135 L923.6 135.1 L925.6 135.1 L927.6 135.1 L929.6 135 L931.6 135 L933.6 134.9 L935.6 134.7 L937.6 134.6 L939.6 134.3 L941.6 134 L943.6 133.6 L945.6 133.1 L947.6 132.6 L949.6 131.9 L951.6 131.2 L953.6 130.3 L955.6 129.3 L957.6 128.3 L959.6 127.1 L961.6 125.7 L963.6 124.3 L965.6 122.8 L967.6 121.2 L969.6 119.5 L971.6 117.8 L973.6 116 L975.6 114.1 L977.6 112.3 L979.6 110.5 L981.6 108.6 L983.6 106.8 L985.6 105.1 L987.6 103.4 L989.6 101.7 L991.6 100 L993.6 98.3 L995.6 96.5 L997.6 94.7 L999.6 92.7 L1001.6 90.7 L1003.6 88.4 L1005.6 86 L1007.6 83.5 L1009.6 81 L1011.6 78.5 L1013.6 76 L1015.6 73.8 L1017.6 72 L1019.6 70.6 L1021.6 69.8 L1023.6 69.7 L1025.6 70.4 L1027.6 71.9 L1029.6 74.3 L1031.6 77.3 L1033.6 81 L1035.6 85.1 L1037.6 89.6 L1039.6 94.3 L1041.6 99.1 L1043.6 103.8 L1045.6 108.4 L1047.6 112.8 L1049.6 117 L1051.6 120.9 L1053.6 124.4 L1055.6 127.6 L1057.6 130.5 L1059.6 133 L1061.6 135.2 L1063.6 137.1 L1065.6 138.8 L1067.6 140.2 L1069.6 141.4 L1071.6 142.4 L1073.6 143.3 L1075.6 144 L1077.6 144.7 L1079.6 145.2 L1081.6 145.7 L1083.6 146.1 L1085.6 146.5 L1087.6 146.9 L1089.6 147.2 L1091.6 147.5 L1093.6 147.8 L1095.6 148 L1097.6 148.3 L1099.6 148.5 L1101.6 148.8 L1103.6 149 L1105.6 149.2 L1107.6 149.4 L1109.6 149.7 L1111.6 149.9 L1113.6 150.1 L1115.6 150.3 L1117.6 150.5 L1119.6 150.7 L1121.6 150.9 L1123.6 151.1 L1125.6 151.3 L1127.6 151.4 L1129.6 151.6 L1131.6 151.8 L1133.6 152 L1135.6 152.2 L1137.6 152.4 L1139.6 152.5 L1141.6 152.7 L1143.6 152.9 L1145.6 153.1 L1147.4 153.2" stroke="#c9a2f2" stroke-width="2"/>
<path d="M643.6 228.6 L645.4 226.3 L647.1 234 L648.9 223.3 L650.6 228.8 L652.4 221.2 L654.1 233.9 L655.9 235.3 L657.6 241.5 L659.4 235.4 L661.1 236.9 L662.9 234.4 L664.6 231 L666.4 233.7 L668.1 228.2 L669.9 230 L671.6 235.8 L673.4 235.3 L675.1 232.7 L676.9 243.9 L678.6 238.5 L680.4 232.8 L682.1 233.7 L683.9 230.5 L685.6 229.5 L687.4 228.9 L689.1 239.7 L690.9 234.6 L692.6 232.6 L694.4 233.7 L696.1 240.2 L697.9 231.9 L699.6 225.7 L701.4 237.3 L703.1 223.1 L704.9 221.4 L706.6 225.1 L708.4 233.9 L710.1 221.9 L711.9 208.9 L713.6 217.3 L715.4 215 L717.1 214.1 L718.9 217.4 L720.6 217.3 L722.4 217.1 L724.1 213.1 L725.9 219.1 L727.6 222.3 L729.4 216.1 L731.1 210.4 L732.9 213 L734.6 212.4 L736.4 204.2 L738.1 202.8 L739.9 209 L741.6 206 L743.4 203.4 L745.1 204.8 L746.9 204.6 L748.6 205.1 L750.4 196.8 L752.1 211.6 L753.9 212 L755.6 208.2 L757.4 216.7 L759.1 218.6 L760.9 219.4 L762.6 226 L764.4 236 L766.1 233.5 L767.9 238.5 L769.6 244.4 L771.4 232.8 L773.1 230.7 L774.9 236.7 L776.6 228.1 L778.4 231.7 L780.1 241.2 L781.9 244.7 L783.6 244.4 L785.4 232.6 L787.1 248 L788.9 246.4 L790.6 246.9 L792.4 246 L794.1 235.1 L795.9 231.7 L797.6 231.3 L799.4 246.2 L801.1 239.9 L802.9 239.9 L804.6 239.9 L806.4 244 L808.1 245.6 L809.9 245.2 L811.6 237.8 L813.4 225.5 L815.1 235.9 L816.9 241.1 L818.6 248.2 L820.4 245 L822.1 241.2 L823.9 244.5 L825.6 236.6 L827.4 235.5 L829.1 235.3 L830.9 241.4 L832.6 252.9 L834.4 251.8 L836.1 253.1 L837.9 249.4 L839.6 248 L841.4 244 L843.1 243 L844.9 232.3 L846.6 233.4 L848.4 233.6 L850.1 243.9 L851.9 247.7 L853.6 251.8 L855.4 255.7 L857.1 248.5 L858.9 251.9 L860.6 257.8 L862.4 251.1 L864.1 253.3 L865.9 248.4 L867.6 239.3 L869.4 243.5 L871.1 240.9 L872.9 244.3 L874.6 243.1 L876.4 246.4 L878.1 236.1 L879.9 251.8 L881.6 255.4 L883.4 248.8 L885.1 243.2 L886.9 245.1 L888.6 249.3 L890.4 249.9 L892.1 250.2 L893.9 238.9 L895.6 237.9 L897.4 249.4 L899.1 249.3 L900.9 240.8 L902.6 240.1 L904.4 237 L906.1 237.7 L907.9 248.6 L909.6 246.8 L911.4 252.5 L913.1 250.5 L914.9 241.4 L916.6 241.4 L918.4 255.7 L920.1 247.2 L921.9 241.9 L923.6 250.6 L925.4 248.8 L927.1 247.5 L928.9 253.9 L930.6 240.9 L932.4 245.5 L934.1 240.1 L935.9 235.8 L937.6 236.4 L939.4 246 L941.1 243.6 L942.9 233.9 L944.6 232.6 L946.4 244.5 L948.1 246.8 L949.9 237 L951.6 249.2 L953.4 240.4 L955.1 231.7 L956.9 232.3 L958.6 237.1 L960.4 241.9 L962.1 240.4 L963.9 231.9 L965.6 226.6 L967.4 219.1 L969.1 221.7 L970.9 219.7 L972.6 222.1 L974.4 215.1 L976.1 215 L977.9 212.5 L979.6 209.2 L981.4 207.2 L983.1 206.5 L984.9 204.8 L986.6 212 L988.4 212.2 L990.1 204.6 L991.9 209.3 L993.6 209.5 L995.4 214.3 L997.1 207.3 L998.9 202.8 L1000.6 197.3 L1002.4 197.4 L1004.1 198 L1005.9 195.3 L1007.6 190.6 L1009.4 191.3 L1011.1 188.1 L1012.9 186.4 L1014.6 179 L1016.4 180.7 L1018.1 175.4 L1019.9 173.8 L1021.6 178.4 L1023.4 190.8 L1025.1 192.1 L1026.8 189.2 L1028.6 188.7 L1030.3 196.1 L1032.1 203.4 L1033.8 208.1 L1035.6 205.5 L1037.3 208.4 L1039.1 209.4 L1040.8 212.3 L1042.6 212.9 L1044.3 218.1 L1046.1 213 L1047.8 217.2 L1049.6 228.7 L1051.3 228.7 L1053.1 237.3 L1054.8 233.4 L1056.6 237.2 L1058.3 243.7 L1060.1 240.4 L1061.8 241.2 L1063.6 257.9 L1065.3 250.5 L1067.1 247.5 L1068.8 247.2 L1070.6 250.4 L1072.3 251.9 L1074.1 257.8 L1075.8 259.7 L1077.6 254.9 L1079.3 253.2 L1081.1 247.4 L1082.8 244.5 L1084.6 247.1 L1086.3 255.6 L1088.1 256.5 L1089.8 260.4 L1091.6 263 L1093.3 258.8 L1095.1 268.1 L1096.8 259.5 L1098.6 255.2 L1100.3 254.4 L1102.1 261.8 L1103.8 258.9 L1105.6 254.7 L1107.3 258.7 L1109.1 264 L1110.8 260.4 L1112.6 258.1 L1114.3 263.7 L1116.1 265.8 L1117.8 266.7 L1119.6 258.7 L1121.3 260.4 L1123.1 261.6 L1124.8 251.6 L1126.6 261.9 L1128.3 261.1 L1130.1 258.7 L1131.8 270.5 L1133.6 265.4 L1135.3 259 L1137.1 259.4 L1138.8 262.7 L1140.6 265.5 L1142.3 262.5 L1144.1 257.3 L1145.8 255.8" stroke="#b2b2b2" stroke-width="1.9"/>
<path d="M650.9 236.1 L653.1 236.2 L655.2 236.3 L657.4 236.4 L659.6 236.5 L661.7 236.6 L663.9 236.7 L666.1 236.8 L668.2 236.9 L670.4 237 L672.6 237.1 L674.7 237.2 L676.9 237.3 L679.1 237.4 L681.2 237.4 L683.4 237.5 L685.6 237.6 L687.7 237.7 L689.9 237.7 L692.1 237.8 L694.2 237.8 L696.4 237.9 L698.6 237.9 L700.7 237.9 L702.9 237.8 L705.1 237.7 L707.2 237.6 L709.4 237.3 L711.6 237 L713.7 236.5 L715.9 235.8 L718.1 235 L720.2 234 L722.4 232.7 L724.6 231.2 L726.7 229.4 L728.9 227.4 L731.1 225.3 L733.2 222.9 L735.4 220.6 L737.6 218.2 L739.7 216 L741.9 214.1 L744.1 212.7 L746.2 211.8 L748.4 211.5 L750.6 212 L752.7 213.1 L754.9 214.8 L757.1 216.9 L759.2 219.4 L761.4 221.9 L763.6 224.5 L765.7 227.1 L767.9 229.5 L770.1 231.7 L772.2 233.7 L774.4 235.4 L776.6 236.9 L778.7 238.2 L780.9 239.3 L783.1 240.1 L785.2 240.8 L787.4 241.4 L789.6 241.9 L791.7 242.3 L793.9 242.6 L796.1 242.9 L798.2 243.1 L800.4 243.4 L802.6 243.6 L804.7 243.7 L806.9 243.9 L809.1 244.1 L811.2 244.2 L813.4 244.4 L815.6 244.5 L817.7 244.7 L819.9 244.8 L822.1 245 L824.2 245.1 L826.4 245.2 L828.6 245.4 L830.7 245.5 L832.9 245.6 L835.1 245.8 L837.2 245.9 L839.4 246 L841.6 246.2 L843.7 246.3 L845.9 246.4 L845.9 246.7 L650.9 236.4 Z" fill="url(#gG)" stroke="none"/>
<path d="M650.9 236.1 L653.1 236.2 L655.2 236.3 L657.4 236.4 L659.6 236.5 L661.7 236.6 L663.9 236.7 L666.1 236.8 L668.2 236.9 L670.4 237 L672.6 237.1 L674.7 237.2 L676.9 237.3 L679.1 237.4 L681.2 237.4 L683.4 237.5 L685.6 237.6 L687.7 237.7 L689.9 237.7 L692.1 237.8 L694.2 237.8 L696.4 237.9 L698.6 237.9 L700.7 237.9 L702.9 237.8 L705.1 237.7 L707.2 237.6 L709.4 237.3 L711.6 237 L713.7 236.5 L715.9 235.8 L718.1 235 L720.2 234 L722.4 232.7 L724.6 231.2 L726.7 229.4 L728.9 227.4 L731.1 225.3 L733.2 222.9 L735.4 220.6 L737.6 218.2 L739.7 216 L741.9 214.1 L744.1 212.7 L746.2 211.8 L748.4 211.5 L750.6 212 L752.7 213.1 L754.9 214.8 L757.1 216.9 L759.2 219.4 L761.4 221.9 L763.6 224.5 L765.7 227.1 L767.9 229.5 L770.1 231.7 L772.2 233.7 L774.4 235.4 L776.6 236.9 L778.7 238.2 L780.9 239.3 L783.1 240.1 L785.2 240.8 L787.4 241.4 L789.6 241.9 L791.7 242.3 L793.9 242.6 L796.1 242.9 L798.2 243.1 L800.4 243.4 L802.6 243.6 L804.7 243.7 L806.9 243.9 L809.1 244.1 L811.2 244.2 L813.4 244.4 L815.6 244.5 L817.7 244.7 L819.9 244.8 L822.1 245 L824.2 245.1 L826.4 245.2 L828.6 245.4 L830.7 245.5 L832.9 245.6 L835.1 245.8 L837.2 245.9 L839.4 246 L841.6 246.2 L843.7 246.3 L845.9 246.4" stroke="#d19a20" stroke-width="1.4"/>
<path d="M901.8 249 L904.4 249.1 L907.1 249.2 L909.8 249.4 L912.4 249.5 L915.1 249.6 L917.8 249.7 L920.5 249.8 L923.1 249.9 L925.8 250 L928.5 250.1 L931.1 250.1 L933.8 250.2 L936.5 250.3 L939.2 250.4 L941.8 250.4 L944.5 250.5 L947.2 250.5 L949.9 250.5 L952.5 250.6 L955.2 250.5 L957.9 250.5 L960.5 250.4 L963.2 250.2 L965.9 250 L968.6 249.7 L971.2 249.2 L973.9 248.5 L976.6 247.6 L979.2 246.4 L981.9 244.8 L984.6 242.8 L987.3 240.3 L989.9 237.2 L992.6 233.7 L995.3 229.5 L998 224.9 L1000.6 219.8 L1003.3 214.4 L1006 208.8 L1008.6 203.3 L1011.3 198.2 L1014 193.8 L1016.7 190.3 L1019.3 188.1 L1022 187.5 L1024.7 188.4 L1027.3 190.9 L1030 194.6 L1032.7 199.3 L1035.4 204.7 L1038 210.5 L1040.7 216.3 L1043.4 222 L1046 227.4 L1048.7 232.4 L1051.4 236.8 L1054.1 240.6 L1056.7 243.9 L1059.4 246.7 L1062.1 249 L1064.8 250.9 L1067.4 252.4 L1070.1 253.6 L1072.8 254.5 L1075.4 255.3 L1078.1 255.9 L1080.8 256.5 L1083.5 256.9 L1086.1 257.3 L1088.8 257.6 L1091.5 257.9 L1094.2 258.2 L1096.8 258.4 L1099.5 258.7 L1102.2 258.9 L1104.8 259.1 L1107.5 259.3 L1110.2 259.5 L1112.9 259.7 L1115.5 259.9 L1118.2 260.1 L1120.9 260.3 L1123.5 260.5 L1126.2 260.7 L1128.9 260.9 L1131.6 261 L1134.2 261.2 L1136.9 261.4 L1139.6 261.6 L1142.2 261.7 L1142.2 262.3 L901.8 249.6 Z" fill="url(#gG)" stroke="none"/>
<path d="M901.8 249 L904.4 249.1 L907.1 249.2 L909.8 249.4 L912.4 249.5 L915.1 249.6 L917.8 249.7 L920.5 249.8 L923.1 249.9 L925.8 250 L928.5 250.1 L931.1 250.1 L933.8 250.2 L936.5 250.3 L939.2 250.4 L941.8 250.4 L944.5 250.5 L947.2 250.5 L949.9 250.5 L952.5 250.6 L955.2 250.5 L957.9 250.5 L960.5 250.4 L963.2 250.2 L965.9 250 L968.6 249.7 L971.2 249.2 L973.9 248.5 L976.6 247.6 L979.2 246.4 L981.9 244.8 L984.6 242.8 L987.3 240.3 L989.9 237.2 L992.6 233.7 L995.3 229.5 L998 224.9 L1000.6 219.8 L1003.3 214.4 L1006 208.8 L1008.6 203.3 L1011.3 198.2 L1014 193.8 L1016.7 190.3 L1019.3 188.1 L1022 187.5 L1024.7 188.4 L1027.3 190.9 L1030 194.6 L1032.7 199.3 L1035.4 204.7 L1038 210.5 L1040.7 216.3 L1043.4 222 L1046 227.4 L1048.7 232.4 L1051.4 236.8 L1054.1 240.6 L1056.7 243.9 L1059.4 246.7 L1062.1 249 L1064.8 250.9 L1067.4 252.4 L1070.1 253.6 L1072.8 254.5 L1075.4 255.3 L1078.1 255.9 L1080.8 256.5 L1083.5 256.9 L1086.1 257.3 L1088.8 257.6 L1091.5 257.9 L1094.2 258.2 L1096.8 258.4 L1099.5 258.7 L1102.2 258.9 L1104.8 259.1 L1107.5 259.3 L1110.2 259.5 L1112.9 259.7 L1115.5 259.9 L1118.2 260.1 L1120.9 260.3 L1123.5 260.5 L1126.2 260.7 L1128.9 260.9 L1131.6 261 L1134.2 261.2 L1136.9 261.4 L1139.6 261.6 L1142.2 261.7" stroke="#d19a20" stroke-width="1.4"/>
<path d="M643.6 235.6 L645.8 235.7 L648 235.8 L650.2 235.9 L652.4 236 L654.6 236 L656.9 236.1 L659.1 236.2 L661.3 236.2 L663.5 236.2 L665.7 236.2 L667.9 236.2 L670.1 236.1 L672.3 236 L674.5 235.9 L676.7 235.7 L678.9 235.4 L681.2 235.1 L683.4 234.7 L685.6 234.2 L687.8 233.6 L690 232.9 L692.2 232.1 L694.4 231.3 L696.6 230.4 L698.8 229.4 L701 228.4 L703.2 227.4 L705.4 226.4 L707.7 225.5 L709.9 224.7 L712.1 224 L714.3 223.5 L716.5 223.2 L718.7 223.2 L720.9 223.4 L723.1 223.9 L725.3 224.5 L727.5 225.4 L729.7 226.5 L732 227.6 L734.2 228.8 L736.4 230.1 L738.6 231.3 L740.8 232.5 L743 233.7 L745.2 234.8 L747.4 235.8 L749.6 236.7 L751.8 237.5 L754 238.3 L756.3 239 L758.5 239.5 L760.7 240.1 L762.9 240.5 L765.1 240.9 L767.3 241.2 L769.5 241.5 L771.7 241.8 L773.9 242 L776.1 242.2 L778.3 242.4 L780.6 242.6 L782.8 242.8 L785 243 L787.2 243.1 L789.4 243.3 L791.6 243.4 L793.8 243.5 L796 243.7 L798.2 243.8 L800.4 243.9 L802.6 244.1 L804.8 244.2 L807.1 244.3 L809.3 244.5 L811.5 244.6 L813.7 244.7 L815.9 244.9 L818.1 245 L820.3 245.1 L822.5 245.2 L824.7 245.4 L826.9 245.5 L829.1 245.6 L831.4 245.7 L833.6 245.9 L835.8 246 L838 246.1 L840.2 246.2 L842.4 246.3 L842.4 246.5 L643.6 236 Z" fill="url(#gR)" stroke="none"/>
<path d="M643.6 235.6 L645.8 235.7 L648 235.8 L650.2 235.9 L652.4 236 L654.6 236 L656.9 236.1 L659.1 236.2 L661.3 236.2 L663.5 236.2 L665.7 236.2 L667.9 236.2 L670.1 236.1 L672.3 236 L674.5 235.9 L676.7 235.7 L678.9 235.4 L681.2 235.1 L683.4 234.7 L685.6 234.2 L687.8 233.6 L690 232.9 L692.2 232.1 L694.4 231.3 L696.6 230.4 L698.8 229.4 L701 228.4 L703.2 227.4 L705.4 226.4 L707.7 225.5 L709.9 224.7 L712.1 224 L714.3 223.5 L716.5 223.2 L718.7 223.2 L720.9 223.4 L723.1 223.9 L725.3 224.5 L727.5 225.4 L729.7 226.5 L732 227.6 L734.2 228.8 L736.4 230.1 L738.6 231.3 L740.8 232.5 L743 233.7 L745.2 234.8 L747.4 235.8 L749.6 236.7 L751.8 237.5 L754 238.3 L756.3 239 L758.5 239.5 L760.7 240.1 L762.9 240.5 L765.1 240.9 L767.3 241.2 L769.5 241.5 L771.7 241.8 L773.9 242 L776.1 242.2 L778.3 242.4 L780.6 242.6 L782.8 242.8 L785 243 L787.2 243.1 L789.4 243.3 L791.6 243.4 L793.8 243.5 L796 243.7 L798.2 243.8 L800.4 243.9 L802.6 244.1 L804.8 244.2 L807.1 244.3 L809.3 244.5 L811.5 244.6 L813.7 244.7 L815.9 244.9 L818.1 245 L820.3 245.1 L822.5 245.2 L824.7 245.4 L826.9 245.5 L829.1 245.6 L831.4 245.7 L833.6 245.9 L835.8 246 L838 246.1 L840.2 246.2 L842.4 246.3" stroke="#f21414" stroke-width="1.8"/>
<path d="M838.4 246 L841.6 246.2 L844.8 246.4 L847.9 246.5 L851.1 246.7 L854.3 246.8 L857.5 247 L860.6 247.1 L863.8 247.3 L867 247.4 L870.2 247.6 L873.4 247.7 L876.5 247.9 L879.7 248 L882.9 248.1 L886.1 248.3 L889.2 248.4 L892.4 248.5 L895.6 248.7 L898.8 248.8 L902 248.9 L905.1 249 L908.3 249.1 L911.5 249.1 L914.7 249.1 L917.8 249.1 L921 249 L924.2 248.9 L927.4 248.6 L930.6 248.2 L933.7 247.7 L936.9 247.1 L940.1 246.2 L943.3 245.1 L946.4 243.8 L949.6 242.3 L952.8 240.6 L956 238.7 L959.2 236.6 L962.3 234.6 L965.5 232.5 L968.7 230.6 L971.9 229 L975 227.7 L978.2 227 L981.4 226.8 L984.6 227.3 L987.8 228.4 L990.9 230 L994.1 232 L997.3 234.2 L1000.5 236.6 L1003.6 239 L1006.8 241.4 L1010 243.6 L1013.2 245.6 L1016.4 247.5 L1019.5 249.1 L1022.7 250.5 L1025.9 251.8 L1029.1 252.8 L1032.2 253.6 L1035.4 254.3 L1038.6 254.9 L1041.8 255.4 L1045 255.8 L1048.1 256.2 L1051.3 256.5 L1054.5 256.8 L1057.7 257 L1060.8 257.3 L1064 257.5 L1067.2 257.7 L1070.4 257.9 L1073.6 258.1 L1076.7 258.3 L1079.9 258.5 L1083.1 258.7 L1086.3 258.9 L1089.4 259.1 L1092.6 259.3 L1095.8 259.5 L1099 259.7 L1102.2 259.9 L1105.3 260.1 L1108.5 260.2 L1111.7 260.4 L1114.9 260.6 L1118 260.8 L1121.2 261 L1124.4 261.1 L1124.4 261.4 L838.4 246.3 Z" fill="url(#gR)" stroke="none"/>
<path d="M838.4 246 L841.6 246.2 L844.8 246.4 L847.9 246.5 L851.1 246.7 L854.3 246.8 L857.5 247 L860.6 247.1 L863.8 247.3 L867 247.4 L870.2 247.6 L873.4 247.7 L876.5 247.9 L879.7 248 L882.9 248.1 L886.1 248.3 L889.2 248.4 L892.4 248.5 L895.6 248.7 L898.8 248.8 L902 248.9 L905.1 249 L908.3 249.1 L911.5 249.1 L914.7 249.1 L917.8 249.1 L921 249 L924.2 248.9 L927.4 248.6 L930.6 248.2 L933.7 247.7 L936.9 247.1 L940.1 246.2 L943.3 245.1 L946.4 243.8 L949.6 242.3 L952.8 240.6 L956 238.7 L959.2 236.6 L962.3 234.6 L965.5 232.5 L968.7 230.6 L971.9 229 L975 227.7 L978.2 227 L981.4 226.8 L984.6 227.3 L987.8 228.4 L990.9 230 L994.1 232 L997.3 234.2 L1000.5 236.6 L1003.6 239 L1006.8 241.4 L1010 243.6 L1013.2 245.6 L1016.4 247.5 L1019.5 249.1 L1022.7 250.5 L1025.9 251.8 L1029.1 252.8 L1032.2 253.6 L1035.4 254.3 L1038.6 254.9 L1041.8 255.4 L1045 255.8 L1048.1 256.2 L1051.3 256.5 L1054.5 256.8 L1057.7 257 L1060.8 257.3 L1064 257.5 L1067.2 257.7 L1070.4 257.9 L1073.6 258.1 L1076.7 258.3 L1079.9 258.5 L1083.1 258.7 L1086.3 258.9 L1089.4 259.1 L1092.6 259.3 L1095.8 259.5 L1099 259.7 L1102.2 259.9 L1105.3 260.1 L1108.5 260.2 L1111.7 260.4 L1114.9 260.6 L1118 260.8 L1121.2 261 L1124.4 261.1" stroke="#f21414" stroke-width="1.8"/>
<path d="M643.6 236 L1147.4 262.6" stroke="#f27a7a" stroke-width="1.3"/>
<path d="M643.6 235.3 L645.6 235.3 L647.6 235.4 L649.6 235.5 L651.6 235.5 L653.6 235.6 L655.6 235.7 L657.6 235.7 L659.6 235.7 L661.6 235.7 L663.6 235.7 L665.6 235.7 L667.6 235.7 L669.6 235.6 L671.6 235.5 L673.6 235.4 L675.6 235.2 L677.6 235 L679.6 234.7 L681.6 234.3 L683.6 233.9 L685.6 233.4 L687.6 232.8 L689.6 232.2 L691.6 231.4 L693.6 230.6 L695.6 229.8 L697.6 228.8 L699.6 227.8 L701.6 226.8 L703.6 225.7 L705.6 224.6 L707.6 223.5 L709.6 222.4 L711.6 221.3 L713.6 220.3 L715.6 219.2 L717.6 218.3 L719.6 217.3 L721.6 216.4 L723.6 215.5 L725.6 214.5 L727.6 213.5 L729.6 212.4 L731.6 211.3 L733.6 210.1 L735.6 208.9 L737.6 207.8 L739.6 206.7 L741.6 205.9 L743.6 205.4 L745.6 205.3 L747.6 205.7 L749.6 206.6 L751.6 208 L753.6 209.9 L755.6 212.1 L757.6 214.6 L759.6 217.2 L761.6 220 L763.6 222.6 L765.6 225.2 L767.6 227.7 L769.6 229.9 L771.6 231.9 L773.6 233.7 L775.6 235.3 L777.6 236.6 L779.6 237.7 L781.6 238.7 L783.6 239.5 L785.6 240.2 L787.6 240.7 L789.6 241.2 L791.6 241.5 L793.6 241.9 L795.6 242.1 L797.6 242.4 L799.6 242.6 L801.6 242.8 L803.6 243 L805.6 243.2 L807.6 243.3 L809.6 243.5 L811.6 243.6 L813.6 243.8 L815.6 243.9 L817.6 244 L819.6 244.2 L821.6 244.3 L823.6 244.4 L825.6 244.6 L827.6 244.7 L829.6 244.8 L831.6 244.9 L833.6 245 L835.6 245.1 L837.6 245.3 L839.6 245.4 L841.6 245.5 L843.6 245.6 L845.6 245.7 L847.6 245.8 L849.6 245.9 L851.6 246 L853.6 246.1 L855.6 246.2 L857.6 246.3 L859.6 246.4 L861.6 246.5 L863.6 246.6 L865.6 246.7 L867.6 246.8 L869.6 246.9 L871.6 247 L873.6 247.1 L875.6 247.2 L877.6 247.2 L879.6 247.3 L881.6 247.4 L883.6 247.5 L885.6 247.6 L887.6 247.6 L889.6 247.7 L891.6 247.8 L893.6 247.9 L895.6 247.9 L897.6 248 L899.6 248 L901.6 248.1 L903.6 248.1 L905.6 248.2 L907.6 248.2 L909.6 248.2 L911.6 248.2 L913.6 248.2 L915.6 248.2 L917.6 248.2 L919.6 248.1 L921.6 248 L923.6 247.9 L925.6 247.7 L927.6 247.5 L929.6 247.2 L931.6 246.9 L933.6 246.5 L935.6 246.1 L937.6 245.6 L939.6 245 L941.6 244.3 L943.6 243.5 L945.6 242.6 L947.6 241.6 L949.6 240.6 L951.6 239.4 L953.6 238.2 L955.6 236.9 L957.6 235.5 L959.6 234 L961.6 232.5 L963.6 231 L965.6 229.4 L967.6 227.9 L969.6 226.3 L971.6 224.8 L973.6 223.3 L975.6 221.9 L977.6 220.5 L979.6 219.2 L981.6 217.9 L983.6 216.6 L985.6 215.3 L987.6 214 L989.6 212.6 L991.6 211 L993.6 209.3 L995.6 207.3 L997.6 205.2 L999.6 202.8 L1001.6 200.3 L1003.6 197.6 L1005.6 194.9 L1007.6 192.1 L1009.6 189.4 L1011.6 186.9 L1013.6 184.7 L1015.6 182.9 L1017.6 181.7 L1019.6 181.2 L1021.6 181.5 L1023.6 182.6 L1025.6 184.5 L1027.6 187.2 L1029.6 190.4 L1031.6 194.2 L1033.6 198.4 L1035.6 202.9 L1037.6 207.4 L1039.6 212 L1041.6 216.6 L1043.6 221 L1045.6 225.2 L1047.6 229.1 L1049.6 232.7 L1051.6 236 L1053.6 239 L1055.6 241.7 L1057.6 244 L1059.6 246.1 L1061.6 247.8 L1063.6 249.4 L1065.6 250.7 L1067.6 251.8 L1069.6 252.7 L1071.6 253.5 L1073.6 254.2 L1075.6 254.8 L1077.6 255.3 L1079.6 255.7 L1081.6 256.1 L1083.6 256.4 L1085.6 256.7 L1087.6 257 L1089.6 257.2 L1091.6 257.5 L1093.6 257.7 L1095.6 257.9 L1097.6 258.1 L1099.6 258.3 L1101.6 258.5 L1103.6 258.6 L1105.6 258.8 L1107.6 259 L1109.6 259.2 L1111.6 259.3 L1113.6 259.5 L1115.6 259.6 L1117.6 259.8 L1119.6 259.9 L1121.6 260.1 L1123.6 260.2 L1125.6 260.4 L1127.6 260.5 L1129.6 260.6 L1131.6 260.8 L1133.6 260.9 L1135.6 261.1 L1137.6 261.2 L1139.6 261.3 L1141.6 261.5 L1143.6 261.6 L1145.6 261.7 L1147.4 261.8" stroke="#c9a2f2" stroke-width="2"/>
<path d="M643.6 345.5 L645.4 356.8 L647.1 355 L648.9 354.3 L650.6 351.8 L652.4 349.4 L654.1 349.8 L655.9 346.7 L657.6 342 L659.4 339.1 L661.1 336.5 L662.9 342.4 L664.6 346.6 L666.4 353.7 L668.1 351.3 L669.9 349.1 L671.6 349.9 L673.4 346.9 L675.1 336.2 L676.9 345.6 L678.6 342.3 L680.4 343.9 L682.1 341.9 L683.9 356.4 L685.6 353.9 L687.4 348.8 L689.1 338.5 L690.9 343.5 L692.6 336.4 L694.4 342.9 L696.1 332.2 L697.9 333.9 L699.6 339.2 L701.4 332.3 L703.1 333.4 L704.9 333.7 L706.6 337.3 L708.4 331.4 L710.1 334.2 L711.9 341.9 L713.6 327.4 L715.4 323.8 L717.1 328.4 L718.9 324.8 L720.6 319.4 L722.4 330.7 L724.1 333.1 L725.9 334.7 L727.6 334.9 L729.4 332.8 L731.1 323.7 L732.9 311.4 L734.6 319.7 L736.4 314.9 L738.1 317.9 L739.9 320.4 L741.6 312.8 L743.4 313.7 L745.1 324.3 L746.9 324.2 L748.6 312.4 L750.4 314.7 L752.1 317.4 L753.9 322.3 L755.6 326.5 L757.4 325.4 L759.1 325.3 L760.9 332.1 L762.6 324.9 L764.4 335.8 L766.1 337.9 L767.9 335.8 L769.6 335.5 L771.4 340.4 L773.1 334.9 L774.9 328.9 L776.6 340.4 L778.4 351.6 L780.1 349.1 L781.9 349.4 L783.6 349.5 L785.4 345.2 L787.1 350.3 L788.9 354.9 L790.6 353.2 L792.4 356.9 L794.1 349.2 L795.9 352.2 L797.6 348.6 L799.4 348.4 L801.1 352.2 L802.9 353.4 L804.6 357.5 L806.4 358.5 L808.1 349.8 L809.9 358.3 L811.6 347.9 L813.4 350.6 L815.1 353.9 L816.9 353.4 L818.6 356.2 L820.4 355.1 L822.1 349.7 L823.9 356.2 L825.6 354.9 L827.4 350.1 L829.1 352.8 L830.9 353.6 L832.6 355.8 L834.4 352.4 L836.1 354.6 L837.9 353.9 L839.6 362.4 L841.4 356.6 L843.1 362.2 L844.9 358 L846.6 362.2 L848.4 369.9 L850.1 360.2 L851.9 358.4 L853.6 352.6 L855.4 350.9 L857.1 351 L858.9 354.3 L860.6 359.9 L862.4 362.3 L864.1 356.7 L865.9 357.3 L867.6 349.7 L869.4 356.4 L871.1 355.4 L872.9 350.9 L874.6 350.6 L876.4 356.9 L878.1 357.5 L879.9 360.5 L881.6 356.5 L883.4 357.7 L885.1 356.4 L886.9 349.5 L888.6 353.1 L890.4 354.9 L892.1 353.1 L893.9 359.5 L895.6 369 L897.4 369.8 L899.1 363.5 L900.9 354.8 L902.6 355.7 L904.4 353.9 L906.1 356.9 L907.9 363.4 L909.6 360.2 L911.4 352.1 L913.1 362 L914.9 360.1 L916.6 365.6 L918.4 357.1 L920.1 369.8 L921.9 357.2 L923.6 358.1 L925.4 361.7 L927.1 346.6 L928.9 348.4 L930.6 345.1 L932.4 359.6 L934.1 360.9 L935.9 353.1 L937.6 345.4 L939.4 341.6 L941.1 348.8 L942.9 346.8 L944.6 351.1 L946.4 348 L948.1 340.4 L949.9 353.4 L951.6 352 L953.4 344.9 L955.1 342.6 L956.9 348.9 L958.6 348.4 L960.4 337.3 L962.1 344.6 L963.9 336.9 L965.6 338.4 L967.4 329.6 L969.1 327.4 L970.9 332.8 L972.6 324.9 L974.4 326.9 L976.1 328.8 L977.9 324 L979.6 331.7 L981.4 330.9 L983.1 326.3 L984.9 329.4 L986.6 332.2 L988.4 332.4 L990.1 325.4 L991.9 326.2 L993.6 323.9 L995.4 314.9 L997.1 313.7 L998.9 323.9 L1000.6 313.7 L1002.4 314.3 L1004.1 319.3 L1005.9 310.3 L1007.6 306.8 L1009.4 300.6 L1011.1 302.9 L1012.9 294.6 L1014.6 298.3 L1016.4 293.2 L1018.1 296.4 L1019.9 287.9 L1021.6 287.6 L1023.4 298 L1025.1 302.1 L1026.8 287.5 L1028.6 304.8 L1030.3 303 L1032.1 312.4 L1033.8 319.3 L1035.6 318.8 L1037.3 319.5 L1039.1 314.5 L1040.8 325.9 L1042.6 339.8 L1044.3 332.8 L1046.1 343 L1047.8 347.4 L1049.6 351.9 L1051.3 345.5 L1053.1 348.6 L1054.8 352.9 L1056.6 363 L1058.3 355.5 L1060.1 355 L1061.8 354.2 L1063.6 362.5 L1065.3 354.8 L1067.1 358.5 L1068.8 355.2 L1070.6 358.8 L1072.3 366 L1074.1 363.2 L1075.8 368.2 L1077.6 365 L1079.3 365.8 L1081.1 365.8 L1082.8 362.4 L1084.6 367.3 L1086.3 370.8 L1088.1 365.5 L1089.8 370.4 L1091.6 369.9 L1093.3 367.1 L1095.1 368.8 L1096.8 373 L1098.6 374.5 L1100.3 378.9 L1102.1 375 L1103.8 373.2 L1105.6 364.1 L1107.3 364.7 L1109.1 370.6 L1110.8 365 L1112.6 363.5 L1114.3 376.3 L1116.1 372.8 L1117.8 366.4 L1119.6 358.6 L1121.3 361.2 L1123.1 377.9 L1124.8 374.2 L1126.6 375.7 L1128.3 376.7 L1130.1 371.6 L1131.8 373.5 L1133.6 372.9 L1135.3 370.9 L1137.1 376.6 L1138.8 370.2 L1140.6 367.8 L1142.3 367.3 L1144.1 376.2 L1145.8 372" stroke="#b2b2b2" stroke-width="1.9"/>
<path d="M652.5 345.8 L654.7 345.9 L656.8 346 L659 346.1 L661.2 346.2 L663.3 346.3 L665.5 346.4 L667.7 346.5 L669.8 346.6 L672 346.7 L674.2 346.8 L676.3 346.9 L678.5 347 L680.7 347.1 L682.8 347.2 L685 347.3 L687.2 347.4 L689.3 347.5 L691.5 347.6 L693.7 347.6 L695.8 347.7 L698 347.7 L700.2 347.8 L702.3 347.8 L704.5 347.7 L706.7 347.6 L708.8 347.5 L711 347.3 L713.2 346.9 L715.3 346.5 L717.5 345.8 L719.7 345 L721.8 344 L724 342.8 L726.2 341.3 L728.3 339.5 L730.5 337.6 L732.7 335.4 L734.8 333.1 L737 330.8 L739.2 328.5 L741.3 326.3 L743.5 324.4 L745.7 323 L747.8 322.1 L750 321.9 L752.2 322.4 L754.3 323.5 L756.5 325.2 L758.7 327.3 L760.8 329.7 L763 332.3 L765.2 334.9 L767.3 337.4 L769.5 339.8 L771.7 342.1 L773.8 344 L776 345.8 L778.2 347.3 L780.3 348.6 L782.5 349.6 L784.7 350.5 L786.8 351.2 L789 351.8 L791.2 352.3 L793.3 352.7 L795.5 353 L797.7 353.3 L799.8 353.6 L802 353.8 L804.2 354 L806.3 354.2 L808.5 354.4 L810.7 354.6 L812.8 354.7 L815 354.9 L817.2 355.1 L819.3 355.2 L821.5 355.4 L823.7 355.5 L825.8 355.7 L828 355.8 L830.2 356 L832.3 356.1 L834.5 356.3 L836.7 356.4 L838.8 356.5 L841 356.7 L843.2 356.8 L845.3 357 L847.5 357.1 L847.5 357.4 L652.5 346 Z" fill="url(#gG)" stroke="none"/>
<path d="M652.5 345.8 L654.7 345.9 L656.8 346 L659 346.1 L661.2 346.2 L663.3 346.3 L665.5 346.4 L667.7 346.5 L669.8 346.6 L672 346.7 L674.2 346.8 L676.3 346.9 L678.5 347 L680.7 347.1 L682.8 347.2 L685 347.3 L687.2 347.4 L689.3 347.5 L691.5 347.6 L693.7 347.6 L695.8 347.7 L698 347.7 L700.2 347.8 L702.3 347.8 L704.5 347.7 L706.7 347.6 L708.8 347.5 L711 347.3 L713.2 346.9 L715.3 346.5 L717.5 345.8 L719.7 345 L721.8 344 L724 342.8 L726.2 341.3 L728.3 339.5 L730.5 337.6 L732.7 335.4 L734.8 333.1 L737 330.8 L739.2 328.5 L741.3 326.3 L743.5 324.4 L745.7 323 L747.8 322.1 L750 321.9 L752.2 322.4 L754.3 323.5 L756.5 325.2 L758.7 327.3 L760.8 329.7 L763 332.3 L765.2 334.9 L767.3 337.4 L769.5 339.8 L771.7 342.1 L773.8 344 L776 345.8 L778.2 347.3 L780.3 348.6 L782.5 349.6 L784.7 350.5 L786.8 351.2 L789 351.8 L791.2 352.3 L793.3 352.7 L795.5 353 L797.7 353.3 L799.8 353.6 L802 353.8 L804.2 354 L806.3 354.2 L808.5 354.4 L810.7 354.6 L812.8 354.7 L815 354.9 L817.2 355.1 L819.3 355.2 L821.5 355.4 L823.7 355.5 L825.8 355.7 L828 355.8 L830.2 356 L832.3 356.1 L834.5 356.3 L836.7 356.4 L838.8 356.5 L841 356.7 L843.2 356.8 L845.3 357 L847.5 357.1" stroke="#d19a20" stroke-width="1.4"/>
<path d="M901.8 359.9 L904.4 360.1 L907.1 360.2 L909.8 360.3 L912.4 360.4 L915.1 360.6 L917.8 360.7 L920.5 360.8 L923.1 360.9 L925.8 361 L928.5 361.1 L931.1 361.2 L933.8 361.3 L936.5 361.4 L939.2 361.5 L941.8 361.6 L944.5 361.7 L947.2 361.7 L949.9 361.8 L952.5 361.8 L955.2 361.8 L957.9 361.8 L960.5 361.7 L963.2 361.6 L965.9 361.4 L968.6 361.1 L971.2 360.7 L973.9 360.1 L976.6 359.2 L979.2 358.1 L981.9 356.6 L984.6 354.7 L987.3 352.4 L989.9 349.6 L992.6 346.3 L995.3 342.4 L998 338 L1000.6 333.2 L1003.3 328.2 L1006 323 L1008.6 317.8 L1011.3 313 L1014 308.9 L1016.7 305.6 L1019.3 303.6 L1022 303 L1024.7 303.9 L1027.3 306.2 L1030 309.8 L1032.7 314.3 L1035.4 319.4 L1038 324.8 L1040.7 330.3 L1043.4 335.7 L1046 340.8 L1048.7 345.5 L1051.4 349.7 L1054.1 353.3 L1056.7 356.5 L1059.4 359.1 L1062.1 361.3 L1064.8 363.1 L1067.4 364.5 L1070.1 365.6 L1072.8 366.6 L1075.4 367.3 L1078.1 367.9 L1080.8 368.4 L1083.5 368.9 L1086.1 369.3 L1088.8 369.6 L1091.5 369.9 L1094.2 370.2 L1096.8 370.4 L1099.5 370.7 L1102.2 370.9 L1104.8 371.2 L1107.5 371.4 L1110.2 371.6 L1112.9 371.8 L1115.5 372 L1118.2 372.2 L1120.9 372.4 L1123.5 372.6 L1126.2 372.8 L1128.9 373 L1131.6 373.2 L1134.2 373.4 L1136.9 373.6 L1139.6 373.7 L1142.2 373.9 L1142.2 374.5 L901.8 360.5 Z" fill="url(#gG)" stroke="none"/>
<path d="M901.8 359.9 L904.4 360.1 L907.1 360.2 L909.8 360.3 L912.4 360.4 L915.1 360.6 L917.8 360.7 L920.5 360.8 L923.1 360.9 L925.8 361 L928.5 361.1 L931.1 361.2 L933.8 361.3 L936.5 361.4 L939.2 361.5 L941.8 361.6 L944.5 361.7 L947.2 361.7 L949.9 361.8 L952.5 361.8 L955.2 361.8 L957.9 361.8 L960.5 361.7 L963.2 361.6 L965.9 361.4 L968.6 361.1 L971.2 360.7 L973.9 360.1 L976.6 359.2 L979.2 358.1 L981.9 356.6 L984.6 354.7 L987.3 352.4 L989.9 349.6 L992.6 346.3 L995.3 342.4 L998 338 L1000.6 333.2 L1003.3 328.2 L1006 323 L1008.6 317.8 L1011.3 313 L1014 308.9 L1016.7 305.6 L1019.3 303.6 L1022 303 L1024.7 303.9 L1027.3 306.2 L1030 309.8 L1032.7 314.3 L1035.4 319.4 L1038 324.8 L1040.7 330.3 L1043.4 335.7 L1046 340.8 L1048.7 345.5 L1051.4 349.7 L1054.1 353.3 L1056.7 356.5 L1059.4 359.1 L1062.1 361.3 L1064.8 363.1 L1067.4 364.5 L1070.1 365.6 L1072.8 366.6 L1075.4 367.3 L1078.1 367.9 L1080.8 368.4 L1083.5 368.9 L1086.1 369.3 L1088.8 369.6 L1091.5 369.9 L1094.2 370.2 L1096.8 370.4 L1099.5 370.7 L1102.2 370.9 L1104.8 371.2 L1107.5 371.4 L1110.2 371.6 L1112.9 371.8 L1115.5 372 L1118.2 372.2 L1120.9 372.4 L1123.5 372.6 L1126.2 372.8 L1128.9 373 L1131.6 373.2 L1134.2 373.4 L1136.9 373.6 L1139.6 373.7 L1142.2 373.9" stroke="#d19a20" stroke-width="1.4"/>
<path d="M643.6 345.1 L645.8 345.2 L648 345.3 L650.1 345.3 L652.3 345.4 L654.5 345.5 L656.7 345.6 L658.9 345.6 L661 345.6 L663.2 345.6 L665.4 345.6 L667.6 345.6 L669.7 345.5 L671.9 345.3 L674.1 345.1 L676.3 344.9 L678.5 344.5 L680.6 344.1 L682.8 343.6 L685 343 L687.2 342.3 L689.4 341.5 L691.5 340.7 L693.7 339.8 L695.9 338.8 L698.1 337.8 L700.3 336.8 L702.4 335.8 L704.6 334.8 L706.8 334 L709 333.2 L711.1 332.7 L713.3 332.4 L715.5 332.3 L717.7 332.5 L719.9 332.9 L722 333.6 L724.2 334.4 L726.4 335.4 L728.6 336.6 L730.8 337.8 L732.9 339.1 L735.1 340.3 L737.3 341.6 L739.5 342.8 L741.7 344 L743.8 345 L746 346 L748.2 346.9 L750.4 347.8 L752.5 348.5 L754.7 349.1 L756.9 349.7 L759.1 350.2 L761.3 350.6 L763.4 351 L765.6 351.3 L767.8 351.6 L770 351.9 L772.2 352.1 L774.3 352.4 L776.5 352.6 L778.7 352.7 L780.9 352.9 L783 353.1 L785.2 353.3 L787.4 353.4 L789.6 353.6 L791.8 353.7 L793.9 353.9 L796.1 354 L798.3 354.2 L800.5 354.3 L802.7 354.4 L804.8 354.6 L807 354.7 L809.2 354.9 L811.4 355 L813.6 355.1 L815.7 355.3 L817.9 355.4 L820.1 355.5 L822.3 355.7 L824.4 355.8 L826.6 356 L828.8 356.1 L831 356.2 L833.2 356.4 L835.3 356.5 L837.5 356.6 L839.7 356.7 L839.7 356.9 L643.6 345.5 Z" fill="url(#gR)" stroke="none"/>
<path d="M643.6 345.1 L645.8 345.2 L648 345.3 L650.1 345.3 L652.3 345.4 L654.5 345.5 L656.7 345.6 L658.9 345.6 L661 345.6 L663.2 345.6 L665.4 345.6 L667.6 345.6 L669.7 345.5 L671.9 345.3 L674.1 345.1 L676.3 344.9 L678.5 344.5 L680.6 344.1 L682.8 343.6 L685 343 L687.2 342.3 L689.4 341.5 L691.5 340.7 L693.7 339.8 L695.9 338.8 L698.1 337.8 L700.3 336.8 L702.4 335.8 L704.6 334.8 L706.8 334 L709 333.2 L711.1 332.7 L713.3 332.4 L715.5 332.3 L717.7 332.5 L719.9 332.9 L722 333.6 L724.2 334.4 L726.4 335.4 L728.6 336.6 L730.8 337.8 L732.9 339.1 L735.1 340.3 L737.3 341.6 L739.5 342.8 L741.7 344 L743.8 345 L746 346 L748.2 346.9 L750.4 347.8 L752.5 348.5 L754.7 349.1 L756.9 349.7 L759.1 350.2 L761.3 350.6 L763.4 351 L765.6 351.3 L767.8 351.6 L770 351.9 L772.2 352.1 L774.3 352.4 L776.5 352.6 L778.7 352.7 L780.9 352.9 L783 353.1 L785.2 353.3 L787.4 353.4 L789.6 353.6 L791.8 353.7 L793.9 353.9 L796.1 354 L798.3 354.2 L800.5 354.3 L802.7 354.4 L804.8 354.6 L807 354.7 L809.2 354.9 L811.4 355 L813.6 355.1 L815.7 355.3 L817.9 355.4 L820.1 355.5 L822.3 355.7 L824.4 355.8 L826.6 356 L828.8 356.1 L831 356.2 L833.2 356.4 L835.3 356.5 L837.5 356.6 L839.7 356.7" stroke="#f21414" stroke-width="1.8"/>
<path d="M843 356.8 L846 357 L849.1 357.1 L852.1 357.3 L855.1 357.5 L858.2 357.6 L861.2 357.8 L864.2 357.9 L867.3 358.1 L870.3 358.3 L873.3 358.4 L876.4 358.6 L879.4 358.7 L882.4 358.9 L885.5 359 L888.5 359.1 L891.5 359.3 L894.6 359.4 L897.6 359.5 L900.6 359.7 L903.7 359.8 L906.7 359.8 L909.7 359.9 L912.8 360 L915.8 360 L918.8 359.9 L921.9 359.8 L924.9 359.6 L927.9 359.3 L931 358.9 L934 358.3 L937 357.5 L940.1 356.5 L943.1 355.2 L946.1 353.7 L949.2 351.9 L952.2 349.9 L955.2 347.8 L958.3 345.4 L961.3 343 L964.3 340.6 L967.4 338.4 L970.4 336.5 L973.4 335.1 L976.5 334.2 L979.5 334 L982.5 334.6 L985.6 335.8 L988.6 337.6 L991.6 339.9 L994.7 342.4 L997.7 345.1 L1000.7 347.9 L1003.8 350.6 L1006.8 353.1 L1009.8 355.5 L1012.9 357.6 L1015.9 359.4 L1018.9 361.1 L1022 362.4 L1025 363.6 L1028 364.5 L1031.1 365.3 L1034.1 366 L1037.1 366.5 L1040.2 367 L1043.2 367.4 L1046.2 367.7 L1049.3 368 L1052.3 368.3 L1055.3 368.6 L1058.4 368.8 L1061.4 369.1 L1064.4 369.3 L1067.5 369.5 L1070.5 369.7 L1073.5 369.9 L1076.6 370.2 L1079.6 370.4 L1082.6 370.6 L1085.7 370.8 L1088.7 371 L1091.7 371.2 L1094.8 371.4 L1097.8 371.6 L1100.8 371.7 L1103.9 371.9 L1106.9 372.1 L1109.9 372.3 L1113 372.5 L1116 372.7 L1116 373 L843 357.1 Z" fill="url(#gR)" stroke="none"/>
<path d="M843 356.8 L846 357 L849.1 357.1 L852.1 357.3 L855.1 357.5 L858.2 357.6 L861.2 357.8 L864.2 357.9 L867.3 358.1 L870.3 358.3 L873.3 358.4 L876.4 358.6 L879.4 358.7 L882.4 358.9 L885.5 359 L888.5 359.1 L891.5 359.3 L894.6 359.4 L897.6 359.5 L900.6 359.7 L903.7 359.8 L906.7 359.8 L909.7 359.9 L912.8 360 L915.8 360 L918.8 359.9 L921.9 359.8 L924.9 359.6 L927.9 359.3 L931 358.9 L934 358.3 L937 357.5 L940.1 356.5 L943.1 355.2 L946.1 353.7 L949.2 351.9 L952.2 349.9 L955.2 347.8 L958.3 345.4 L961.3 343 L964.3 340.6 L967.4 338.4 L970.4 336.5 L973.4 335.1 L976.5 334.2 L979.5 334 L982.5 334.6 L985.6 335.8 L988.6 337.6 L991.6 339.9 L994.7 342.4 L997.7 345.1 L1000.7 347.9 L1003.8 350.6 L1006.8 353.1 L1009.8 355.5 L1012.9 357.6 L1015.9 359.4 L1018.9 361.1 L1022 362.4 L1025 363.6 L1028 364.5 L1031.1 365.3 L1034.1 366 L1037.1 366.5 L1040.2 367 L1043.2 367.4 L1046.2 367.7 L1049.3 368 L1052.3 368.3 L1055.3 368.6 L1058.4 368.8 L1061.4 369.1 L1064.4 369.3 L1067.5 369.5 L1070.5 369.7 L1073.5 369.9 L1076.6 370.2 L1079.6 370.4 L1082.6 370.6 L1085.7 370.8 L1088.7 371 L1091.7 371.2 L1094.8 371.4 L1097.8 371.6 L1100.8 371.7 L1103.9 371.9 L1106.9 372.1 L1109.9 372.3 L1113 372.5 L1116 372.7" stroke="#f21414" stroke-width="1.8"/>
<path d="M643.6 345.5 L1147.4 374.8" stroke="#f27a7a" stroke-width="1.3"/>
<path d="M643.6 344.7 L645.6 344.8 L647.6 344.9 L649.6 345 L651.6 345 L653.6 345.1 L655.6 345.1 L657.6 345.2 L659.6 345.2 L661.6 345.2 L663.6 345.2 L665.6 345.2 L667.6 345.1 L669.6 345 L671.6 344.8 L673.6 344.6 L675.6 344.4 L677.6 344.1 L679.6 343.7 L681.6 343.2 L683.6 342.7 L685.6 342.1 L687.6 341.4 L689.6 340.7 L691.6 339.8 L693.6 338.9 L695.6 338 L697.6 337 L699.6 335.9 L701.6 334.9 L703.6 333.8 L705.6 332.8 L707.6 331.9 L709.6 331 L711.6 330.2 L713.6 329.5 L715.6 328.8 L717.6 328.3 L719.6 327.8 L721.6 327.3 L723.6 326.8 L725.6 326.3 L727.6 325.6 L729.6 324.9 L731.6 324 L733.6 323 L735.6 321.9 L737.6 320.7 L739.6 319.6 L741.6 318.6 L743.6 317.8 L745.6 317.2 L747.6 317.1 L749.6 317.5 L751.6 318.4 L753.6 319.7 L755.6 321.5 L757.6 323.7 L759.6 326.1 L761.6 328.7 L763.6 331.3 L765.6 333.9 L767.6 336.4 L769.6 338.7 L771.6 340.9 L773.6 342.8 L775.6 344.5 L777.6 346 L779.6 347.3 L781.6 348.4 L783.6 349.3 L785.6 350.1 L787.6 350.7 L789.6 351.2 L791.6 351.7 L793.6 352 L795.6 352.4 L797.6 352.6 L799.6 352.9 L801.6 353.1 L803.6 353.3 L805.6 353.5 L807.6 353.7 L809.6 353.8 L811.6 354 L813.6 354.2 L815.6 354.3 L817.6 354.5 L819.6 354.6 L821.6 354.7 L823.6 354.9 L825.6 355 L827.6 355.2 L829.6 355.3 L831.6 355.4 L833.6 355.5 L835.6 355.7 L837.6 355.8 L839.6 355.9 L841.6 356 L843.6 356.2 L845.6 356.3 L847.6 356.4 L849.6 356.5 L851.6 356.6 L853.6 356.7 L855.6 356.8 L857.6 357 L859.6 357.1 L861.6 357.2 L863.6 357.3 L865.6 357.4 L867.6 357.5 L869.6 357.6 L871.6 357.7 L873.6 357.8 L875.6 357.9 L877.6 358 L879.6 358.1 L881.6 358.2 L883.6 358.3 L885.6 358.3 L887.6 358.4 L889.6 358.5 L891.6 358.6 L893.6 358.7 L895.6 358.7 L897.6 358.8 L899.6 358.9 L901.6 358.9 L903.6 359 L905.6 359 L907.6 359.1 L909.6 359.1 L911.6 359.1 L913.6 359.1 L915.6 359.1 L917.6 359 L919.6 359 L921.6 358.9 L923.6 358.7 L925.6 358.5 L927.6 358.3 L929.6 358 L931.6 357.6 L933.6 357.2 L935.6 356.7 L937.6 356.1 L939.6 355.3 L941.6 354.5 L943.6 353.6 L945.6 352.5 L947.6 351.3 L949.6 350 L951.6 348.6 L953.6 347.1 L955.6 345.5 L957.6 343.9 L959.6 342.1 L961.6 340.4 L963.6 338.6 L965.6 336.8 L967.6 335.1 L969.6 333.4 L971.6 331.8 L973.6 330.4 L975.6 329.1 L977.6 327.9 L979.6 326.8 L981.6 325.9 L983.6 325.1 L985.6 324.3 L987.6 323.5 L989.6 322.6 L991.6 321.6 L993.6 320.4 L995.6 319.1 L997.6 317.5 L999.6 315.7 L1001.6 313.7 L1003.6 311.5 L1005.6 309.2 L1007.6 306.8 L1009.6 304.5 L1011.6 302.3 L1013.6 300.4 L1015.6 298.8 L1017.6 297.8 L1019.6 297.4 L1021.6 297.7 L1023.6 298.8 L1025.6 300.6 L1027.6 303 L1029.6 306.1 L1031.6 309.7 L1033.6 313.6 L1035.6 317.8 L1037.6 322.1 L1039.6 326.4 L1041.6 330.6 L1043.6 334.8 L1045.6 338.7 L1047.6 342.4 L1049.6 345.8 L1051.6 348.9 L1053.6 351.8 L1055.6 354.3 L1057.6 356.5 L1059.6 358.4 L1061.6 360.1 L1063.6 361.6 L1065.6 362.8 L1067.6 363.9 L1069.6 364.8 L1071.6 365.6 L1073.6 366.2 L1075.6 366.8 L1077.6 367.3 L1079.6 367.7 L1081.6 368.1 L1083.6 368.4 L1085.6 368.7 L1087.6 369 L1089.6 369.2 L1091.6 369.5 L1093.6 369.7 L1095.6 369.9 L1097.6 370.1 L1099.6 370.3 L1101.6 370.5 L1103.6 370.7 L1105.6 370.9 L1107.6 371 L1109.6 371.2 L1111.6 371.4 L1113.6 371.5 L1115.6 371.7 L1117.6 371.9 L1119.6 372 L1121.6 372.2 L1123.6 372.3 L1125.6 372.5 L1127.6 372.6 L1129.6 372.8 L1131.6 372.9 L1133.6 373.1 L1135.6 373.2 L1137.6 373.4 L1139.6 373.5 L1141.6 373.7 L1143.6 373.8 L1145.6 373.9 L1147.4 374.1" stroke="#c9a2f2" stroke-width="2"/>
<path d="M643.6 439.5 L645.4 447 L647.1 439.4 L648.9 431.2 L650.6 437.5 L652.4 442.2 L654.1 443.1 L655.9 444.3 L657.6 441.8 L659.4 438.4 L661.1 436.2 L662.9 437.8 L664.6 437.7 L666.4 444 L668.1 445.3 L669.9 436.8 L671.6 442.4 L673.4 441.4 L675.1 446.3 L676.9 450.3 L678.6 447.4 L680.4 434.7 L682.1 440.6 L683.9 432.4 L685.6 443.6 L687.4 437.7 L689.1 437 L690.9 446.2 L692.6 432.7 L694.4 435 L696.1 430.4 L697.9 430.8 L699.6 429.2 L701.4 435.4 L703.1 433.1 L704.9 435 L706.6 436.9 L708.4 426.1 L710.1 436.1 L711.9 432.4 L713.6 423.6 L715.4 424.3 L717.1 431.8 L718.9 435.6 L720.6 428.8 L722.4 429.3 L724.1 429.8 L725.9 433.6 L727.6 429.2 L729.4 432.1 L731.1 423.9 L732.9 420.4 L734.6 425.1 L736.4 427 L738.1 423.5 L739.9 424.7 L741.6 423 L743.4 424.8 L745.1 427.4 L746.9 425.6 L748.6 426.6 L750.4 421.6 L752.1 419.2 L753.9 410.1 L755.6 420.4 L757.4 424.2 L759.1 429.3 L760.9 420.9 L762.6 424.8 L764.4 427.2 L766.1 423.1 L767.9 435.3 L769.6 443.1 L771.4 435.1 L773.1 440.5 L774.9 449.7 L776.6 440 L778.4 446.8 L780.1 453.1 L781.9 457.6 L783.6 444.1 L785.4 439.7 L787.1 444.1 L788.9 451.1 L790.6 442.3 L792.4 441 L794.1 438.7 L795.9 448.6 L797.6 445 L799.4 449 L801.1 451.3 L802.9 454.9 L804.6 452.9 L806.4 451.7 L808.1 455.2 L809.9 453.5 L811.6 444.3 L813.4 443.7 L815.1 450.6 L816.9 450 L818.6 447.4 L820.4 449.2 L822.1 465.1 L823.9 455.8 L825.6 454.3 L827.4 453.5 L829.1 449.7 L830.9 455.2 L832.6 456 L834.4 454.2 L836.1 444.8 L837.9 453.5 L839.6 455 L841.4 451.6 L843.1 437.2 L844.9 443.8 L846.6 441.1 L848.4 444.7 L850.1 445 L851.9 443.7 L853.6 452.1 L855.4 451.6 L857.1 456.9 L858.9 448.5 L860.6 448.5 L862.4 456.3 L864.1 454.7 L865.9 448.8 L867.6 445.4 L869.4 445.4 L871.1 447.9 L872.9 452.9 L874.6 452.5 L876.4 455.3 L878.1 457.1 L879.9 454.3 L881.6 458.9 L883.4 458.3 L885.1 453.5 L886.9 451.5 L888.6 451.3 L890.4 447.7 L892.1 443.1 L893.9 447.9 L895.6 447.4 L897.4 452.6 L899.1 449.1 L900.9 451 L902.6 452.4 L904.4 449.7 L906.1 451.8 L907.9 448.2 L909.6 448.1 L911.4 454.1 L913.1 454.7 L914.9 453.1 L916.6 448.5 L918.4 453.7 L920.1 462.4 L921.9 445.7 L923.6 454.1 L925.4 453.6 L927.1 457.7 L928.9 459.8 L930.6 449.8 L932.4 458.8 L934.1 451.2 L935.9 449.2 L937.6 452.4 L939.4 450.1 L941.1 450.6 L942.9 446.6 L944.6 441.9 L946.4 444.6 L948.1 440 L949.9 449.5 L951.6 447.9 L953.4 452.5 L955.1 441 L956.9 431.2 L958.6 425.3 L960.4 431.5 L962.1 429.3 L963.9 435.9 L965.6 429.4 L967.4 426.4 L969.1 432.7 L970.9 431.8 L972.6 436.3 L974.4 438.5 L976.1 436.9 L977.9 428 L979.6 425.4 L981.4 439.3 L983.1 432.8 L984.9 432 L986.6 430.4 L988.4 428.3 L990.1 426 L991.9 422.3 L993.6 420.1 L995.4 410.9 L997.1 423.9 L998.9 420 L1000.6 411.2 L1002.4 415.2 L1004.1 416.6 L1005.9 405.8 L1007.6 404.5 L1009.4 412.9 L1011.1 411.2 L1012.9 409.4 L1014.6 411 L1016.4 406.1 L1018.1 403.2 L1019.9 411.7 L1021.6 407.6 L1023.4 407.2 L1025.1 411.8 L1026.8 412.2 L1028.6 407.7 L1030.3 422.7 L1032.1 421.4 L1033.8 431.8 L1035.6 431.7 L1037.3 426.4 L1039.1 437.7 L1040.8 435.8 L1042.6 433 L1044.3 437.2 L1046.1 429.9 L1047.8 440.2 L1049.6 440.3 L1051.3 443.6 L1053.1 442.8 L1054.8 450.8 L1056.6 453.5 L1058.3 458.7 L1060.1 464.5 L1061.8 460.6 L1063.6 458.3 L1065.3 458.6 L1067.1 453.5 L1068.8 452.8 L1070.6 459 L1072.3 454.1 L1074.1 446.7 L1075.8 451.3 L1077.6 456.5 L1079.3 464.9 L1081.1 458 L1082.8 453.9 L1084.6 457.3 L1086.3 457.6 L1088.1 459.8 L1089.8 457.2 L1091.6 459.5 L1093.3 456.8 L1095.1 463.4 L1096.8 462.9 L1098.6 464.2 L1100.3 459.9 L1102.1 453.2 L1103.8 457.3 L1105.6 458.9 L1107.3 465.3 L1109.1 467.6 L1110.8 463.8 L1112.6 462.1 L1114.3 456.7 L1116.1 459 L1117.8 461.4 L1119.6 459.4 L1121.3 455.3 L1123.1 465.1 L1124.8 458.7 L1126.6 468.5 L1128.3 470.7 L1130.1 473.5 L1131.8 463.1 L1133.6 465.7 L1135.3 457 L1137.1 458.2 L1138.8 453.1 L1140.6 454.7 L1142.3 456.6 L1144.1 464.7 L1145.8 469" stroke="#b2b2b2" stroke-width="1.9"/>
<path d="M650.7 441.5 L652.9 441.6 L655 441.7 L657.2 441.8 L659.4 441.8 L661.5 441.9 L663.7 442 L665.9 442.1 L668 442.2 L670.2 442.2 L672.4 442.3 L674.5 442.4 L676.7 442.5 L678.9 442.5 L681 442.6 L683.2 442.7 L685.4 442.7 L687.5 442.8 L689.7 442.9 L691.9 442.9 L694 443 L696.2 443 L698.4 443 L700.5 443 L702.7 443 L704.9 442.9 L707 442.8 L709.2 442.6 L711.4 442.3 L713.5 441.9 L715.7 441.4 L717.9 440.8 L720 440 L722.2 439 L724.4 437.8 L726.5 436.4 L728.7 434.9 L730.9 433.1 L733 431.3 L735.2 429.5 L737.4 427.6 L739.5 425.9 L741.7 424.4 L743.9 423.3 L746 422.6 L748.2 422.4 L750.4 422.8 L752.5 423.6 L754.7 425 L756.9 426.7 L759 428.6 L761.2 430.6 L763.4 432.7 L765.5 434.7 L767.7 436.6 L769.9 438.3 L772 439.9 L774.2 441.3 L776.4 442.4 L778.5 443.4 L780.7 444.3 L782.9 445 L785 445.5 L787.2 446 L789.4 446.4 L791.5 446.7 L793.7 446.9 L795.9 447.2 L798 447.4 L800.2 447.5 L802.4 447.7 L804.5 447.9 L806.7 448 L808.9 448.1 L811 448.3 L813.2 448.4 L815.4 448.5 L817.5 448.6 L819.7 448.7 L821.9 448.9 L824 449 L826.2 449.1 L828.4 449.2 L830.5 449.3 L832.7 449.4 L834.9 449.5 L837 449.6 L839.2 449.7 L841.4 449.8 L843.5 450 L845.7 450.1 L845.7 450.3 L650.7 441.7 Z" fill="url(#gG)" stroke="none"/>
<path d="M650.7 441.5 L652.9 441.6 L655 441.7 L657.2 441.8 L659.4 441.8 L661.5 441.9 L663.7 442 L665.9 442.1 L668 442.2 L670.2 442.2 L672.4 442.3 L674.5 442.4 L676.7 442.5 L678.9 442.5 L681 442.6 L683.2 442.7 L685.4 442.7 L687.5 442.8 L689.7 442.9 L691.9 442.9 L694 443 L696.2 443 L698.4 443 L700.5 443 L702.7 443 L704.9 442.9 L707 442.8 L709.2 442.6 L711.4 442.3 L713.5 441.9 L715.7 441.4 L717.9 440.8 L720 440 L722.2 439 L724.4 437.8 L726.5 436.4 L728.7 434.9 L730.9 433.1 L733 431.3 L735.2 429.5 L737.4 427.6 L739.5 425.9 L741.7 424.4 L743.9 423.3 L746 422.6 L748.2 422.4 L750.4 422.8 L752.5 423.6 L754.7 425 L756.9 426.7 L759 428.6 L761.2 430.6 L763.4 432.7 L765.5 434.7 L767.7 436.6 L769.9 438.3 L772 439.9 L774.2 441.3 L776.4 442.4 L778.5 443.4 L780.7 444.3 L782.9 445 L785 445.5 L787.2 446 L789.4 446.4 L791.5 446.7 L793.7 446.9 L795.9 447.2 L798 447.4 L800.2 447.5 L802.4 447.7 L804.5 447.9 L806.7 448 L808.9 448.1 L811 448.3 L813.2 448.4 L815.4 448.5 L817.5 448.6 L819.7 448.7 L821.9 448.9 L824 449 L826.2 449.1 L828.4 449.2 L830.5 449.3 L832.7 449.4 L834.9 449.5 L837 449.6 L839.2 449.7 L841.4 449.8 L843.5 450 L845.7 450.1" stroke="#d19a20" stroke-width="1.4"/>
<path d="M902 452.3 L904.6 452.4 L907.2 452.5 L909.8 452.6 L912.4 452.7 L915 452.7 L917.6 452.8 L920.2 452.9 L922.8 453 L925.4 453.1 L928 453.1 L930.6 453.2 L933.2 453.3 L935.8 453.4 L938.4 453.4 L941 453.5 L943.6 453.5 L946.2 453.6 L948.8 453.6 L951.4 453.6 L954 453.6 L956.6 453.6 L959.2 453.5 L961.8 453.4 L964.4 453.2 L967 453 L969.6 452.6 L972.2 452.1 L974.8 451.5 L977.4 450.6 L980 449.4 L982.6 447.9 L985.2 446.1 L987.8 443.9 L990.4 441.2 L993 438.2 L995.6 434.7 L998.2 430.9 L1000.8 426.9 L1003.4 422.8 L1006 418.8 L1008.6 415 L1011.2 411.7 L1013.8 409.1 L1016.4 407.5 L1019 407.1 L1021.6 407.8 L1024.2 409.6 L1026.8 412.4 L1029.4 415.9 L1032 419.9 L1034.6 424.2 L1037.2 428.5 L1039.8 432.8 L1042.4 436.8 L1045 440.4 L1047.6 443.7 L1050.2 446.6 L1052.8 449.1 L1055.4 451.1 L1058 452.8 L1060.6 454.2 L1063.2 455.4 L1065.8 456.3 L1068.4 457 L1071 457.6 L1073.6 458 L1076.2 458.4 L1078.8 458.8 L1081.4 459 L1084 459.3 L1086.6 459.5 L1089.2 459.7 L1091.8 459.9 L1094.4 460.1 L1097 460.3 L1099.6 460.5 L1102.2 460.6 L1104.8 460.8 L1107.4 461 L1110 461.1 L1112.6 461.3 L1115.2 461.4 L1117.8 461.6 L1120.4 461.7 L1123 461.9 L1125.6 462 L1128.2 462.1 L1130.8 462.3 L1133.4 462.4 L1136 462.5 L1136 463 L902 452.7 Z" fill="url(#gG)" stroke="none"/>
<path d="M902 452.3 L904.6 452.4 L907.2 452.5 L909.8 452.6 L912.4 452.7 L915 452.7 L917.6 452.8 L920.2 452.9 L922.8 453 L925.4 453.1 L928 453.1 L930.6 453.2 L933.2 453.3 L935.8 453.4 L938.4 453.4 L941 453.5 L943.6 453.5 L946.2 453.6 L948.8 453.6 L951.4 453.6 L954 453.6 L956.6 453.6 L959.2 453.5 L961.8 453.4 L964.4 453.2 L967 453 L969.6 452.6 L972.2 452.1 L974.8 451.5 L977.4 450.6 L980 449.4 L982.6 447.9 L985.2 446.1 L987.8 443.9 L990.4 441.2 L993 438.2 L995.6 434.7 L998.2 430.9 L1000.8 426.9 L1003.4 422.8 L1006 418.8 L1008.6 415 L1011.2 411.7 L1013.8 409.1 L1016.4 407.5 L1019 407.1 L1021.6 407.8 L1024.2 409.6 L1026.8 412.4 L1029.4 415.9 L1032 419.9 L1034.6 424.2 L1037.2 428.5 L1039.8 432.8 L1042.4 436.8 L1045 440.4 L1047.6 443.7 L1050.2 446.6 L1052.8 449.1 L1055.4 451.1 L1058 452.8 L1060.6 454.2 L1063.2 455.4 L1065.8 456.3 L1068.4 457 L1071 457.6 L1073.6 458 L1076.2 458.4 L1078.8 458.8 L1081.4 459 L1084 459.3 L1086.6 459.5 L1089.2 459.7 L1091.8 459.9 L1094.4 460.1 L1097 460.3 L1099.6 460.5 L1102.2 460.6 L1104.8 460.8 L1107.4 461 L1110 461.1 L1112.6 461.3 L1115.2 461.4 L1117.8 461.6 L1120.4 461.7 L1123 461.9 L1125.6 462 L1128.2 462.1 L1130.8 462.3 L1133.4 462.4 L1136 462.5" stroke="#d19a20" stroke-width="1.4"/>
<path d="M643.6 441.1 L645.8 441.2 L647.9 441.3 L650.1 441.4 L652.3 441.4 L654.4 441.5 L656.6 441.5 L658.8 441.6 L660.9 441.6 L663.1 441.6 L665.3 441.6 L667.4 441.6 L669.6 441.5 L671.8 441.5 L673.9 441.3 L676.1 441.2 L678.2 441 L680.4 440.7 L682.6 440.4 L684.7 440.1 L686.9 439.7 L689.1 439.2 L691.2 438.7 L693.4 438.2 L695.6 437.6 L697.7 437 L699.9 436.4 L702.1 435.8 L704.2 435.3 L706.4 434.9 L708.6 434.5 L710.7 434.2 L712.9 434.1 L715.1 434.1 L717.2 434.3 L719.4 434.6 L721.6 435.1 L723.7 435.6 L725.9 436.3 L728.1 437 L730.2 437.8 L732.4 438.6 L734.6 439.3 L736.7 440.1 L738.9 440.8 L741 441.5 L743.2 442.2 L745.4 442.8 L747.5 443.3 L749.7 443.8 L751.9 444.2 L754 444.6 L756.2 445 L758.4 445.3 L760.5 445.5 L762.7 445.8 L764.9 446 L767 446.2 L769.2 446.4 L771.4 446.5 L773.5 446.7 L775.7 446.8 L777.9 446.9 L780 447.1 L782.2 447.2 L784.4 447.3 L786.5 447.4 L788.7 447.5 L790.9 447.6 L793 447.7 L795.2 447.8 L797.4 447.9 L799.5 448 L801.7 448.2 L803.9 448.3 L806 448.4 L808.2 448.5 L810.3 448.6 L812.5 448.7 L814.7 448.8 L816.8 448.9 L819 449 L821.2 449.1 L823.3 449.2 L825.5 449.3 L827.7 449.4 L829.8 449.5 L832 449.6 L834.2 449.7 L836.3 449.8 L838.5 449.9 L838.5 449.9 L643.6 441.4 Z" fill="url(#gR)" stroke="none"/>
<path d="M643.6 441.1 L645.8 441.2 L647.9 441.3 L650.1 441.4 L652.3 441.4 L654.4 441.5 L656.6 441.5 L658.8 441.6 L660.9 441.6 L663.1 441.6 L665.3 441.6 L667.4 441.6 L669.6 441.5 L671.8 441.5 L673.9 441.3 L676.1 441.2 L678.2 441 L680.4 440.7 L682.6 440.4 L684.7 440.1 L686.9 439.7 L689.1 439.2 L691.2 438.7 L693.4 438.2 L695.6 437.6 L697.7 437 L699.9 436.4 L702.1 435.8 L704.2 435.3 L706.4 434.9 L708.6 434.5 L710.7 434.2 L712.9 434.1 L715.1 434.1 L717.2 434.3 L719.4 434.6 L721.6 435.1 L723.7 435.6 L725.9 436.3 L728.1 437 L730.2 437.8 L732.4 438.6 L734.6 439.3 L736.7 440.1 L738.9 440.8 L741 441.5 L743.2 442.2 L745.4 442.8 L747.5 443.3 L749.7 443.8 L751.9 444.2 L754 444.6 L756.2 445 L758.4 445.3 L760.5 445.5 L762.7 445.8 L764.9 446 L767 446.2 L769.2 446.4 L771.4 446.5 L773.5 446.7 L775.7 446.8 L777.9 446.9 L780 447.1 L782.2 447.2 L784.4 447.3 L786.5 447.4 L788.7 447.5 L790.9 447.6 L793 447.7 L795.2 447.8 L797.4 447.9 L799.5 448 L801.7 448.2 L803.9 448.3 L806 448.4 L808.2 448.5 L810.3 448.6 L812.5 448.7 L814.7 448.8 L816.8 448.9 L819 449 L821.2 449.1 L823.3 449.2 L825.5 449.3 L827.7 449.4 L829.8 449.5 L832 449.6 L834.2 449.7 L836.3 449.8 L838.5 449.9" stroke="#f21414" stroke-width="1.8"/>
<path d="M841.1 449.9 L844.1 450 L847.2 450.2 L850.2 450.3 L853.2 450.4 L856.3 450.5 L859.3 450.7 L862.3 450.8 L865.4 450.9 L868.4 451 L871.4 451.1 L874.5 451.3 L877.5 451.4 L880.5 451.5 L883.6 451.6 L886.6 451.7 L889.6 451.8 L892.7 451.9 L895.7 452 L898.7 452.1 L901.8 452.2 L904.8 452.3 L907.8 452.4 L910.9 452.4 L913.9 452.5 L916.9 452.5 L920 452.4 L923 452.4 L926 452.2 L929.1 452 L932.1 451.7 L935.1 451.2 L938.2 450.7 L941.2 450 L944.2 449.1 L947.3 448.1 L950.3 447 L953.3 445.8 L956.4 444.4 L959.4 443.1 L962.4 441.7 L965.5 440.5 L968.5 439.4 L971.5 438.6 L974.6 438.1 L977.6 438.1 L980.6 438.4 L983.7 439.1 L986.7 440.2 L989.7 441.6 L992.8 443.1 L995.8 444.7 L998.8 446.3 L1001.9 447.9 L1004.9 449.4 L1007.9 450.8 L1011 452.1 L1014 453.2 L1017 454.1 L1020.1 455 L1023.1 455.7 L1026.1 456.2 L1029.2 456.7 L1032.2 457.1 L1035.2 457.5 L1038.3 457.8 L1041.3 458.1 L1044.3 458.3 L1047.4 458.5 L1050.4 458.7 L1053.4 458.9 L1056.5 459 L1059.5 459.2 L1062.5 459.4 L1065.6 459.5 L1068.6 459.7 L1071.6 459.8 L1074.7 460 L1077.7 460.2 L1080.7 460.3 L1083.8 460.4 L1086.8 460.6 L1089.8 460.7 L1092.9 460.9 L1095.9 461 L1098.9 461.2 L1102 461.3 L1105 461.5 L1108 461.6 L1111.1 461.7 L1114.1 461.9 L1114.1 462 L841.1 450.1 Z" fill="url(#gR)" stroke="none"/>
<path d="M841.1 449.9 L844.1 450 L847.2 450.2 L850.2 450.3 L853.2 450.4 L856.3 450.5 L859.3 450.7 L862.3 450.8 L865.4 450.9 L868.4 451 L871.4 451.1 L874.5 451.3 L877.5 451.4 L880.5 451.5 L883.6 451.6 L886.6 451.7 L889.6 451.8 L892.7 451.9 L895.7 452 L898.7 452.1 L901.8 452.2 L904.8 452.3 L907.8 452.4 L910.9 452.4 L913.9 452.5 L916.9 452.5 L920 452.4 L923 452.4 L926 452.2 L929.1 452 L932.1 451.7 L935.1 451.2 L938.2 450.7 L941.2 450 L944.2 449.1 L947.3 448.1 L950.3 447 L953.3 445.8 L956.4 444.4 L959.4 443.1 L962.4 441.7 L965.5 440.5 L968.5 439.4 L971.5 438.6 L974.6 438.1 L977.6 438.1 L980.6 438.4 L983.7 439.1 L986.7 440.2 L989.7 441.6 L992.8 443.1 L995.8 444.7 L998.8 446.3 L1001.9 447.9 L1004.9 449.4 L1007.9 450.8 L1011 452.1 L1014 453.2 L1017 454.1 L1020.1 455 L1023.1 455.7 L1026.1 456.2 L1029.2 456.7 L1032.2 457.1 L1035.2 457.5 L1038.3 457.8 L1041.3 458.1 L1044.3 458.3 L1047.4 458.5 L1050.4 458.7 L1053.4 458.9 L1056.5 459 L1059.5 459.2 L1062.5 459.4 L1065.6 459.5 L1068.6 459.7 L1071.6 459.8 L1074.7 460 L1077.7 460.2 L1080.7 460.3 L1083.8 460.4 L1086.8 460.6 L1089.8 460.7 L1092.9 460.9 L1095.9 461 L1098.9 461.2 L1102 461.3 L1105 461.5 L1108 461.6 L1111.1 461.7 L1114.1 461.9" stroke="#f21414" stroke-width="1.8"/>
<path d="M643.6 441.4 L1147.4 463.5" stroke="#f27a7a" stroke-width="1.3"/>
<path d="M643.6 440.9 L645.6 440.9 L647.6 441 L649.6 441.1 L651.6 441.1 L653.6 441.2 L655.6 441.2 L657.6 441.2 L659.6 441.3 L661.6 441.3 L663.6 441.3 L665.6 441.2 L667.6 441.2 L669.6 441.1 L671.6 441 L673.6 440.9 L675.6 440.8 L677.6 440.6 L679.6 440.3 L681.6 440 L683.6 439.7 L685.6 439.3 L687.6 438.9 L689.6 438.4 L691.6 437.9 L693.6 437.4 L695.6 436.8 L697.6 436.2 L699.6 435.5 L701.6 434.9 L703.6 434.3 L705.6 433.6 L707.6 433 L709.6 432.5 L711.6 431.9 L713.6 431.4 L715.6 430.9 L717.6 430.5 L719.6 430 L721.6 429.4 L723.6 428.8 L725.6 428.1 L727.6 427.3 L729.6 426.4 L731.6 425.4 L733.6 424.4 L735.6 423.2 L737.6 422.2 L739.6 421.2 L741.6 420.3 L743.6 419.7 L745.6 419.5 L747.6 419.6 L749.6 420.1 L751.6 421.1 L753.6 422.4 L755.6 424.1 L757.6 425.9 L759.6 427.9 L761.6 429.9 L763.6 431.9 L765.6 433.9 L767.6 435.7 L769.6 437.4 L771.6 438.9 L773.6 440.3 L775.6 441.5 L777.6 442.5 L779.6 443.4 L781.6 444.1 L783.6 444.7 L785.6 445.2 L787.6 445.6 L789.6 446 L791.6 446.3 L793.6 446.5 L795.6 446.7 L797.6 446.9 L799.6 447.1 L801.6 447.2 L803.6 447.4 L805.6 447.5 L807.6 447.6 L809.6 447.8 L811.6 447.9 L813.6 448 L815.6 448.1 L817.6 448.2 L819.6 448.3 L821.6 448.4 L823.6 448.5 L825.6 448.6 L827.6 448.7 L829.6 448.8 L831.6 448.9 L833.6 449 L835.6 449.1 L837.6 449.2 L839.6 449.3 L841.6 449.4 L843.6 449.5 L845.6 449.6 L847.6 449.7 L849.6 449.8 L851.6 449.8 L853.6 449.9 L855.6 450 L857.6 450.1 L859.6 450.2 L861.6 450.3 L863.6 450.3 L865.6 450.4 L867.6 450.5 L869.6 450.6 L871.6 450.7 L873.6 450.7 L875.6 450.8 L877.6 450.9 L879.6 451 L881.6 451 L883.6 451.1 L885.6 451.2 L887.6 451.2 L889.6 451.3 L891.6 451.4 L893.6 451.4 L895.6 451.5 L897.6 451.5 L899.6 451.6 L901.6 451.6 L903.6 451.7 L905.6 451.7 L907.6 451.8 L909.6 451.8 L911.6 451.8 L913.6 451.8 L915.6 451.8 L917.6 451.8 L919.6 451.7 L921.6 451.7 L923.6 451.6 L925.6 451.4 L927.6 451.3 L929.6 451.1 L931.6 450.8 L933.6 450.6 L935.6 450.2 L937.6 449.8 L939.6 449.3 L941.6 448.8 L943.6 448.2 L945.6 447.5 L947.6 446.8 L949.6 446 L951.6 445.1 L953.6 444.2 L955.6 443.2 L957.6 442.2 L959.6 441.2 L961.6 440.1 L963.6 439 L965.6 438 L967.6 437 L969.6 436 L971.6 435 L973.6 434.1 L975.6 433.3 L977.6 432.4 L979.6 431.6 L981.6 430.8 L983.6 430 L985.6 429.1 L987.6 428.1 L989.6 426.9 L991.6 425.6 L993.6 424.1 L995.6 422.4 L997.6 420.5 L999.6 418.5 L1001.6 416.3 L1003.6 414.1 L1005.6 411.8 L1007.6 409.6 L1009.6 407.7 L1011.6 406 L1013.6 404.7 L1015.6 403.9 L1017.6 403.6 L1019.6 404 L1021.6 405.1 L1023.6 406.7 L1025.6 408.9 L1027.6 411.6 L1029.6 414.6 L1031.6 417.9 L1033.6 421.3 L1035.6 424.8 L1037.6 428.2 L1039.6 431.6 L1041.6 434.8 L1043.6 437.8 L1045.6 440.5 L1047.6 443.1 L1049.6 445.4 L1051.6 447.4 L1053.6 449.2 L1055.6 450.8 L1057.6 452.1 L1059.6 453.3 L1061.6 454.3 L1063.6 455.1 L1065.6 455.8 L1067.6 456.4 L1069.6 456.9 L1071.6 457.3 L1073.6 457.7 L1075.6 458 L1077.6 458.3 L1079.6 458.5 L1081.6 458.8 L1083.6 459 L1085.6 459.2 L1087.6 459.3 L1089.6 459.5 L1091.6 459.7 L1093.6 459.8 L1095.6 460 L1097.6 460.1 L1099.6 460.3 L1101.6 460.4 L1103.6 460.5 L1105.6 460.7 L1107.6 460.8 L1109.6 460.9 L1111.6 461 L1113.6 461.2 L1115.6 461.3 L1117.6 461.4 L1119.6 461.5 L1121.6 461.6 L1123.6 461.7 L1125.6 461.8 L1127.6 462 L1129.6 462.1 L1131.6 462.2 L1133.6 462.3 L1135.6 462.4 L1137.6 462.5 L1139.6 462.6 L1141.6 462.7 L1143.6 462.8 L1145.6 462.9 L1147.4 463" stroke="#c9a2f2" stroke-width="2"/>
</g>
<path d="M746.7 23 V512" stroke="#d9a336" stroke-width="1.7" stroke-dasharray="21 8" fill="none"/>
<path d="M1018.4 28 V512" stroke="#d9a336" stroke-width="1.7" stroke-dasharray="21 8" fill="none"/>
<rect x="642" y="10.8" width="507" height="502.8" fill="none" stroke="#000" stroke-width="3.3"/>
<path d="M678.9 513 V523.3" stroke="#000" stroke-width="3.1"/>
<text x="678.9" y="552.3" font-size="29.3" font-weight="bold" text-anchor="middle" fill="#000" >490</text>
<path d="M765.4 513 V523.3" stroke="#000" stroke-width="3.1"/>
<text x="765.4" y="552.3" font-size="29.3" font-weight="bold" text-anchor="middle" fill="#000" >483</text>
<path d="M852 513 V523.3" stroke="#000" stroke-width="3.1"/>
<text x="852" y="552.3" font-size="29.3" font-weight="bold" text-anchor="middle" fill="#000" >476</text>
<path d="M938.5 513 V523.3" stroke="#000" stroke-width="3.1"/>
<text x="938.5" y="552.3" font-size="29.3" font-weight="bold" text-anchor="middle" fill="#000" >469</text>
<path d="M1025 513 V523.3" stroke="#000" stroke-width="3.1"/>
<text x="1025" y="552.3" font-size="29.3" font-weight="bold" text-anchor="middle" fill="#000" >462</text>
<path d="M1111.5 513 V523.3" stroke="#000" stroke-width="3.1"/>
<text x="1111.5" y="552.3" font-size="29.3" font-weight="bold" text-anchor="middle" fill="#000" >455</text>
<path d="M722.2 513 V518.8" stroke="#000" stroke-width="3.1"/>
<path d="M808.7 513 V518.8" stroke="#000" stroke-width="3.1"/>
<path d="M895.2 513 V518.8" stroke="#000" stroke-width="3.1"/>
<path d="M981.8 513 V518.8" stroke="#000" stroke-width="3.1"/>
<path d="M1068.3 513 V518.8" stroke="#000" stroke-width="3.1"/>
<text x="897.5" y="588.5" font-size="33.6" font-weight="bold" text-anchor="middle" fill="#000" textLength="186.5" lengthAdjust="spacingAndGlyphs">Energy (eV)</text>
<text transform="translate(617.3 266.1) rotate(-90)" font-size="33.6" font-weight="bold" text-anchor="middle" textLength="327.5" lengthAdjust="spacingAndGlyphs">Intensity (arb. units)</text>
<text x="643.8" y="35.5" font-size="25.7" font-weight="bold" text-anchor="start" fill="#000" >Ru 3<tspan font-style="italic">p</tspan></text>
<text x="752.5" y="74" font-size="25.6" font-weight="bold" text-anchor="start" fill="#000" >Ru 3<tspan font-style="italic">p</tspan><tspan class="ser" font-size="17.5" dy="5.5">1/2</tspan></text>
<text x="1022.6" y="48.6" font-size="25.7" font-weight="bold" text-anchor="start" fill="#000" >Ru 3<tspan font-style="italic">p</tspan><tspan class="ser" font-size="17.5" dy="5.5">3/2</tspan></text>
<text x="645.5" y="158" font-size="26" font-weight="bold" text-anchor="start" fill="#000" textLength="191.4" lengthAdjust="spacingAndGlyphs">Fe<tspan font-size="17" dy="6.5">SA</tspan><tspan dy="-6.5">Ru</tspan><tspan font-size="17" dy="6.5">AC</tspan><tspan dy="-6.5">@NCB</tspan></text>
<text x="645.5" y="273.2" font-size="26" font-weight="bold" text-anchor="start" fill="#000" textLength="195.2" lengthAdjust="spacingAndGlyphs">Co<tspan font-size="17" dy="6.5">SA</tspan><tspan dy="-6.5">Ru</tspan><tspan font-size="17" dy="6.5">AC</tspan><tspan dy="-6.5">@NCB</tspan></text>
<text x="645.5" y="387.4" font-size="26" font-weight="bold" text-anchor="start" fill="#000" textLength="186.5" lengthAdjust="spacingAndGlyphs">Ni<tspan font-size="17" dy="6.5">SA</tspan><tspan dy="-6.5">Ru</tspan><tspan font-size="17" dy="6.5">AC</tspan><tspan dy="-6.5">@NCB</tspan></text>
<text x="645.8" y="485.4" font-size="26" font-weight="bold" text-anchor="start" fill="#000" textLength="136.3" lengthAdjust="spacingAndGlyphs">Ru<tspan font-size="17" dy="6.5">AC</tspan><tspan dy="-6.5">@NCB</tspan></text>
<text x="593.2" y="52.8" font-size="55.5" font-weight="normal" text-anchor="start" fill="#000" >b</text>
<defs><clipPath id="cc"><rect x="1234.6" y="12.4" width="503" height="499.4"/></clipPath><clipPath id="cci"><rect x="1466.4" y="333.2" width="271.2" height="178.6"/></clipPath></defs>
<g clip-path="url(#cc)" fill="none" stroke-width="3" stroke-linejoin="round" stroke-linecap="round">
<path d="M1234.2 480.6 C1246.7 480.3 1290.5 479.5 1308.9 478.8 C1327.4 478.1 1335.7 477.4 1344.7 476.2 C1353.6 475 1357.8 473.3 1362.7 471.7 C1367.6 470.1 1370.4 468.8 1373.8 466.4 C1377.3 464 1380.6 461.8 1383.4 457.5 C1386.3 453.2 1388.6 447.2 1390.7 440.6 C1392.8 434 1394.2 427.4 1396 417.6 C1397.8 407.8 1399.5 395.3 1401.3 382 C1403.1 368.7 1404.9 351 1406.7 337.7 C1408.5 324.4 1410.2 313.1 1412 302.1 C1413.8 291.2 1415.7 282.4 1417.3 272 C1418.9 261.6 1420.5 250.7 1421.8 240 C1423.1 229.3 1423.6 222.1 1425 208 C1426.4 193.9 1428.7 166.6 1430 155.6 C1431.3 144.6 1432 145.1 1433.1 142.2 C1434.2 139.3 1435.2 137.9 1436.6 138.2 C1438 138.5 1439.4 141.6 1441.3 144.2 C1443.2 146.8 1445.6 151.7 1447.7 153.6 C1449.8 155.5 1451.5 156.3 1454 155.6 C1456.5 154.9 1459.3 152.6 1462.5 149.6 C1465.7 146.6 1470.2 140.8 1473 137.6 C1475.8 134.4 1477.7 132 1479.4 130.7 C1481.1 129.4 1481.6 128.7 1483 129.6 C1484.4 130.5 1485.6 131.5 1487.8 136 C1490 140.5 1493.5 150.8 1496.3 156.4 C1499.1 162.1 1502.2 167.1 1504.7 169.9 C1507.2 172.7 1507.8 173.3 1511 173.2 C1514.2 173.1 1519.2 171 1523.8 169.2 C1528.4 167.4 1534.4 165.2 1538.6 162.6 C1542.8 160 1545.6 157 1549.1 153.8 C1552.6 150.6 1556.5 145.5 1559.7 143.2 C1562.9 140.9 1565.7 140.3 1568.2 140.1 C1570.7 139.9 1571.3 140.1 1574.5 142 C1577.7 143.9 1582.6 148.9 1587.2 151.3 C1591.8 153.7 1596 155.2 1602 156.6 C1608 158 1616.8 159.5 1623.1 159.8 C1629.4 160.2 1634.7 159.2 1640 158.7 C1645.3 158.2 1649.5 156.7 1654.8 156.6 C1660.1 156.5 1666.4 157 1671.7 158.3 C1677 159.6 1681.2 162.5 1686.5 164.4 C1691.8 166.3 1698.2 169 1703.5 169.7 C1708.8 170.4 1712.3 169.6 1718.3 168.4 C1724.3 167.2 1735.9 163.7 1739.4 162.8" stroke="#d42a1e"/>
<path d="M1234.2 480.6 C1246.7 480.3 1290.6 479.5 1309 478.8 C1327.4 478.1 1335.7 477.4 1344.7 476.2 C1353.7 475 1358 473.3 1362.9 471.7 C1367.7 470.1 1370.6 468.8 1374.1 466.4 C1377.6 464 1381 461.8 1383.8 457.5 C1386.7 453.2 1389 447.2 1391.1 440.6 C1393.2 434 1394.6 427.4 1396.4 417.6 C1398.2 407.8 1399.9 395.3 1401.7 382 C1403.5 368.7 1405.3 351 1407.1 337.7 C1408.9 324.4 1410.6 313.1 1412.4 302.1 C1414.2 291.2 1416.1 282.4 1417.7 272 C1419.3 261.6 1420.9 250.7 1422.2 240 C1423.5 229.3 1424.1 221.6 1425.6 208 C1427.1 194.4 1429.8 168.2 1431.2 158.5 C1432.6 148.8 1432.9 151.4 1433.8 149.5 C1434.7 147.6 1435.3 146.5 1436.6 147.1 C1437.8 147.7 1439.4 150.6 1441.3 153 C1443.2 155.4 1445.6 159.8 1447.7 161.5 C1449.8 163.2 1451.5 163.7 1454 163.2 C1456.5 162.7 1459.3 161.2 1462.5 158.3 C1465.7 155.4 1470.2 148.8 1473 145.6 C1475.8 142.4 1477.7 140.5 1479.4 139.3 C1481.1 138.1 1481.6 137.3 1483 138.2 C1484.4 139.1 1485.6 140.4 1487.8 144.6 C1490 148.8 1493.5 158.5 1496.3 163.6 C1499.1 168.7 1502.2 172.9 1504.7 175.2 C1507.2 177.5 1507.8 177.7 1511 177.3 C1514.2 177 1519.2 175 1523.8 173.1 C1528.4 171.2 1534.4 168.5 1538.6 165.7 C1542.8 162.9 1545.6 159.5 1549.1 156.2 C1552.6 152.8 1556.5 147.8 1559.7 145.6 C1562.9 143.4 1565.7 143.3 1568.2 143.1 C1570.7 142.9 1571.3 142.9 1574.5 144.6 C1577.7 146.2 1582.6 150.7 1587.2 153 C1591.8 155.3 1596 156.9 1602 158.3 C1608 159.7 1616.8 161.2 1623.1 161.5 C1629.4 161.8 1634.7 160.9 1640 160.4 C1645.3 159.9 1649.5 158.5 1654.8 158.3 C1660.1 158.1 1666.4 158.3 1671.7 159.4 C1677 160.5 1681.2 163.1 1686.5 164.7 C1691.8 166.3 1698.2 168.4 1703.5 168.9 C1708.8 169.4 1712.3 168.6 1718.3 167.4 C1724.3 166.2 1735.9 162.5 1739.4 161.5" stroke="#e6b43e"/>
<path d="M1234.2 480.6 C1246.7 480.3 1290.5 479.5 1308.9 478.8 C1327.3 478.1 1335.6 477.4 1344.6 476.2 C1353.5 475 1357.7 473.3 1362.6 471.7 C1367.4 470.1 1370.2 468.8 1373.6 466.4 C1377 464 1380.3 461.8 1383.1 457.5 C1385.9 453.2 1388.2 447.2 1390.3 440.6 C1392.4 434 1393.8 427.4 1395.6 417.6 C1397.4 407.8 1399.1 395.3 1400.9 382 C1402.7 368.7 1404.5 351 1406.3 337.7 C1408.1 324.4 1409.8 313.1 1411.6 302.1 C1413.4 291.2 1415.3 282.4 1416.9 272 C1418.5 261.6 1420.1 250.7 1421.4 240 C1422.7 229.3 1423.2 222.2 1424.6 208 C1426 193.8 1428.3 166.2 1429.7 155.1 C1431.1 144 1431.8 144.4 1432.9 141.4 C1434 138.4 1435 136.8 1436.4 137.2 C1437.8 137.5 1439.4 140.9 1441.3 143.5 C1443.2 146.1 1445.6 151.1 1447.7 153 C1449.8 154.9 1451.5 155.8 1454 155.1 C1456.5 154.4 1459.3 152 1462.5 148.8 C1465.7 145.6 1470.2 139.4 1473 136.1 C1475.8 132.8 1477.7 130.2 1479.4 128.7 C1481.1 127.2 1481.6 126.3 1483 127.2 C1484.4 128.1 1485.6 129.3 1487.8 134 C1490 138.7 1493.5 149.3 1496.3 155.1 C1499.1 160.9 1502.2 166.1 1504.7 168.9 C1507.2 171.7 1507.8 172.2 1511 172 C1514.2 171.8 1519.2 169.6 1523.8 167.8 C1528.4 166.1 1534.4 164 1538.6 161.5 C1542.8 159 1545.6 156.2 1549.1 153 C1552.6 149.8 1556.5 144.8 1559.7 142.5 C1562.9 140.2 1565.7 139.5 1568.2 139.3 C1570.7 139.1 1571.3 139.5 1574.5 141.4 C1577.7 143.3 1582.6 148.4 1587.2 150.9 C1591.8 153.4 1596 154.8 1602 156.2 C1608 157.6 1616.8 159.1 1623.1 159.4 C1629.4 159.8 1634.7 158.8 1640 158.3 C1645.3 157.8 1649.5 156.3 1654.8 156.2 C1660.1 156.1 1666.4 156.5 1671.7 157.7 C1677 158.9 1681.2 161.7 1686.5 163.6 C1691.8 165.5 1698.2 168.2 1703.5 168.9 C1708.8 169.6 1712.3 168.9 1718.3 167.8 C1724.3 166.7 1735.9 163.4 1739.4 162.5" stroke="#3f7fa8"/>
<path d="M1234.2 480.6 C1246.6 480.3 1290.5 479.5 1308.8 478.8 C1327.1 478.1 1335.4 477.4 1344.3 476.2 C1353.2 475 1357.3 473.3 1362 471.7 C1366.7 470.1 1369.4 468.8 1372.7 466.4 C1376 464 1378.9 461.8 1381.6 457.5 C1384.3 453.2 1386.6 447.2 1388.7 440.6 C1390.8 434 1392.2 427.4 1394 417.6 C1395.8 407.8 1397.5 395.3 1399.3 382 C1401.1 368.7 1402.9 351 1404.7 337.7 C1406.5 324.4 1408.2 313.1 1410 302.1 C1411.8 291.2 1413.7 282.4 1415.3 272 C1416.9 261.6 1418.6 248.6 1419.8 240 C1421 231.4 1421 231 1422.3 220.7 C1423.6 210.4 1426 189.2 1427.6 178.4 C1429.2 167.7 1430.5 160.8 1431.8 156.2 C1433.1 151.5 1434 150.3 1435.4 150.5 C1436.8 150.7 1438.4 153.7 1440.3 157.3 C1442.2 160.9 1444.7 168.8 1446.6 172 C1448.5 175.2 1449.6 176.7 1451.9 176.7 C1454.2 176.7 1457.5 175.9 1460.3 172 C1463.1 168.1 1466 160.4 1468.8 153 C1471.6 145.6 1475 134 1477.3 127.7 C1479.6 121.4 1481.1 117.8 1482.5 115.4 C1483.9 113 1484.5 112.7 1485.7 113.3 C1487 113.9 1488.2 114.3 1490 119.2 C1491.8 124.1 1494.2 135.4 1496.3 142.5 C1498.4 149.6 1500.5 157.1 1502.6 161.5 C1504.7 165.9 1506.9 167.6 1509 168.9 C1511.1 170.2 1512.1 170 1515.3 169.3 C1518.5 168.6 1523.8 166 1528 164.7 C1532.2 163.4 1537.2 162.9 1540.7 161.5 C1544.2 160.1 1545.9 159.2 1549.1 156.2 C1552.3 153.2 1556.9 146.4 1559.7 143.5 C1562.5 140.6 1564.1 139.5 1566 138.6 C1567.9 137.7 1569.2 137.2 1571.3 137.8 C1573.4 138.5 1575.3 140 1578.7 142.5 C1582.1 145 1586.5 150.2 1591.4 153 C1596.3 155.8 1602.7 157.8 1608.3 159.4 C1613.9 161 1620.3 162.3 1625.2 162.5 C1630.1 162.7 1633.7 162.2 1637.9 160.4 C1642.1 158.7 1646.7 154.3 1650.6 152 C1654.5 149.7 1658 147.2 1661.2 146.3 C1664.4 145.4 1666.8 145.5 1669.6 146.3 C1672.4 147.1 1674.5 148 1678 150.9 C1681.5 153.8 1686.2 159.7 1690.8 163.6 C1695.4 167.5 1701.7 172 1705.6 174.2 C1709.5 176.4 1711.2 176.7 1714 176.7 C1716.8 176.7 1718.3 176.4 1722.5 174.2 C1726.7 172 1736.6 165.4 1739.4 163.6" stroke="#cc70d6"/>
<path d="M1234.2 480.6 C1243.7 480.5 1272.7 480.4 1291 480 C1309.3 479.6 1329.5 479.3 1344.3 478.5 C1359.1 477.7 1370.9 476.6 1379.8 475.3 C1388.7 474 1393.2 472.6 1397.6 470.8 C1402 469 1403.5 468.2 1406.4 464.6 C1409.4 461.1 1412.3 455.9 1415.3 449.5 C1418.3 443.1 1421.7 434.1 1424.2 426.4 C1426.7 418.7 1428.8 412.3 1430.4 403.4 C1432 394.5 1432.8 385.6 1434 373.2 C1435.2 360.8 1436.4 343.7 1437.5 328.8 C1438.6 313.9 1439.6 296.3 1440.5 284 C1441.4 271.7 1442.2 265.3 1443 255 C1443.8 244.7 1444.7 233.3 1445.5 222 C1446.3 210.7 1446.6 201.7 1447.7 187 C1448.8 172.3 1450.5 148.1 1451.9 134 C1453.3 119.9 1454.9 109.3 1456.1 102.3 C1457.3 95.2 1458.2 93.9 1459.3 91.7 C1460.4 89.5 1461.1 88.7 1462.5 89.2 C1463.9 89.7 1465.8 93.2 1467.7 94.9 C1469.6 96.6 1472 99.1 1474.1 99.1 C1476.2 99.1 1478.6 96.1 1480.4 94.9 C1482.2 93.7 1483.7 91.4 1485.1 91.7 C1486.5 92 1487.8 93.1 1488.9 97 C1490.1 100.9 1490.6 106 1492 115 C1493.4 124 1495.5 141 1497.3 150.9 C1499.1 160.8 1500.6 169.1 1502.6 174.2 C1504.5 179.3 1506.5 180 1509 181.6 C1511.5 183.2 1514.2 182.8 1517.4 183.7 C1520.6 184.6 1525.2 186.6 1528 186.8 C1530.8 187 1531.5 186.4 1534.3 184.7 C1537.1 182.9 1541.4 178.4 1544.9 176.3 C1548.4 174.2 1552 174.5 1555.5 172 C1559 169.5 1562.1 166.1 1566 161.5 C1569.9 156.9 1574.5 149.9 1578.7 144.6 C1582.9 139.3 1587.5 132.9 1591.4 129.8 C1595.3 126.7 1598.5 126 1602 126 C1605.5 126 1607.3 127.4 1612.6 129.8 C1617.9 132.2 1626.7 137.3 1633.7 140.3 C1640.7 143.3 1647.8 145.4 1654.8 147.7 C1661.8 150 1669 152.5 1676 154 C1683 155.5 1690 156.8 1697 156.8 C1704 156.8 1711.2 155.1 1718.3 154 C1725.4 152.9 1735.9 151.1 1739.4 150.5" stroke="#65c21c"/>
</g>
<rect x="1466.4" y="333.2" width="280" height="190" fill="#fff" stroke="none" clip-path="url(#cc)"/>
<g clip-path="url(#cci)" fill="none" stroke-width="2.7">
<path d="M1465 501.5 C1470.5 494.4 1487.1 473.1 1498 459 C1508.9 444.9 1520.5 431 1530.5 416.7 C1540.5 402.4 1548.8 387.4 1558 373 C1567.2 358.6 1581.3 337.2 1586 330" stroke="#cc70d6"/>
<path d="M1516.8 514.6 C1522.7 507.2 1540.2 484.7 1552 470 C1563.8 455.3 1576.3 441.2 1587.6 426.2 C1598.9 411.2 1608.9 395.9 1620 380 C1631.1 364.1 1648.6 339.2 1654.3 331" stroke="#3f7fa8"/>
<path d="M1530.2 514.6 C1536.2 507.2 1554.2 484.7 1566 470 C1577.8 455.3 1589.8 441.2 1601 426.2 C1612.2 411.2 1622.2 395.9 1633 380 C1643.8 364.1 1660.2 339.2 1665.7 331" stroke="#d42a1e"/>
<path d="M1534.7 514.6 C1540.8 507.3 1559 485.7 1571 471 C1583 456.3 1595.4 441.4 1606.6 426.2 C1617.8 411 1627.4 395.9 1638 380 C1648.6 364.1 1664.9 339.2 1670.3 331" stroke="#e6b43e"/>
</g>
<path d="M1466.4 512 V333.2 H1738" fill="none" stroke="#000" stroke-width="1.6"/>
<path d="M1575 385 L1643 436" stroke="#000" stroke-width="1.5" fill="none"/>
<path d="M1650 441.2 L1636.5 437.2 L1641.6 430.4 Z" fill="#000"/>
<rect x="1232.9" y="10.8" width="506.4" height="502.8" fill="none" stroke="#000" stroke-width="3.3"/>
<path d="M1282.4 513 V523.3" stroke="#000" stroke-width="3.1"/>
<text x="1282.4" y="552.3" font-size="29.3" font-weight="bold" text-anchor="middle" fill="#000" >22050</text>
<path d="M1383.9 513 V523.3" stroke="#000" stroke-width="3.1"/>
<text x="1383.9" y="552.3" font-size="29.3" font-weight="bold" text-anchor="middle" fill="#000" >22100</text>
<path d="M1485.4 513 V523.3" stroke="#000" stroke-width="3.1"/>
<text x="1485.4" y="552.3" font-size="29.3" font-weight="bold" text-anchor="middle" fill="#000" >22150</text>
<path d="M1586.9 513 V523.3" stroke="#000" stroke-width="3.1"/>
<text x="1586.9" y="552.3" font-size="29.3" font-weight="bold" text-anchor="middle" fill="#000" >22200</text>
<path d="M1688.4 513 V523.3" stroke="#000" stroke-width="3.1"/>
<text x="1688.4" y="552.3" font-size="29.3" font-weight="bold" text-anchor="middle" fill="#000" >22250</text>
<path d="M1232.9 513 V518.8" stroke="#000" stroke-width="3.1"/>
<path d="M1333.2 513 V518.8" stroke="#000" stroke-width="3.1"/>
<path d="M1434.7 513 V518.8" stroke="#000" stroke-width="3.1"/>
<path d="M1536.2 513 V518.8" stroke="#000" stroke-width="3.1"/>
<path d="M1637.7 513 V518.8" stroke="#000" stroke-width="3.1"/>
<path d="M1739.2 513 V518.8" stroke="#000" stroke-width="3.1"/>
<text x="1487" y="588.5" font-size="33.6" font-weight="bold" text-anchor="middle" fill="#000" textLength="186.5" lengthAdjust="spacingAndGlyphs">Energy (eV)</text>
<text transform="translate(1207.8 266.1) rotate(-90)" font-size="33.6" font-weight="bold" text-anchor="middle" textLength="327.5" lengthAdjust="spacingAndGlyphs">Intensity (arb. units)</text>
<path d="M1237.5 26.6 H1266" stroke="#d42a1e" stroke-width="3" fill="none"/>
<text x="1273.7" y="35" font-size="23.7" font-weight="bold" text-anchor="start" fill="#000" textLength="174.3" lengthAdjust="spacingAndGlyphs">Fe<tspan font-size="15" dy="6">SA</tspan><tspan dy="-6">Ru</tspan><tspan font-size="15" dy="6">AC</tspan><tspan dy="-6">@NCB</tspan></text>
<path d="M1237.5 60.9 H1266" stroke="#e6b43e" stroke-width="3" fill="none"/>
<text x="1273.7" y="69.6" font-size="23.7" font-weight="bold" text-anchor="start" fill="#000" textLength="178.8" lengthAdjust="spacingAndGlyphs">Co<tspan font-size="15" dy="6">SA</tspan><tspan dy="-6">Ru</tspan><tspan font-size="15" dy="6">AC</tspan><tspan dy="-6">@NCB</tspan></text>
<path d="M1237.5 97 H1266" stroke="#3f7fa8" stroke-width="3" fill="none"/>
<text x="1273.7" y="104.6" font-size="23.7" font-weight="bold" text-anchor="start" fill="#000" textLength="170.1" lengthAdjust="spacingAndGlyphs">Ni<tspan font-size="15" dy="6">SA</tspan><tspan dy="-6">Ru</tspan><tspan font-size="15" dy="6">AC</tspan><tspan dy="-6">@NCB</tspan></text>
<path d="M1237.5 132.4 H1266" stroke="#cc70d6" stroke-width="3" fill="none"/>
<text x="1273.7" y="140" font-size="23.7" font-weight="bold" text-anchor="start" fill="#000" textLength="71.5" lengthAdjust="spacingAndGlyphs">Ru foil</text>
<path d="M1237.5 161.7 H1266" stroke="#65c21c" stroke-width="3" fill="none"/>
<text x="1273.7" y="169.3" font-size="23.7" font-weight="bold" text-anchor="start" fill="#000" textLength="57" lengthAdjust="spacingAndGlyphs">RuO<tspan font-size="15" dy="6">2</tspan></text>
<text x="1172.4" y="50.4" font-size="59" font-weight="normal" text-anchor="start" fill="#000" >c</text>
<defs><clipPath id="cd"><rect x="59.9" y="621.9" width="403.4" height="866"/><rect x="59.9" y="621.9" width="503.4" height="866"/></clipPath></defs>
<g clip-path="url(#cd)" fill="none" stroke-width="3.5" stroke-linejoin="round" stroke-linecap="round">
<path d="M59.9 875.9 C71.1 875.6 112.3 874.9 127.2 874.2 C142.1 873.5 144.8 872.9 149.5 871.8 C154.2 870.7 153.6 869.1 155.6 867.7 C157.6 866.3 159.7 864.3 161.7 863.3 C163.7 862.3 165.9 863 167.8 861.7 C169.7 860.4 171.2 858.7 172.9 855.6 C174.6 852.5 176.4 848.5 177.9 843.4 C179.4 838.3 180.7 832.6 182 825.2 C183.3 817.8 184.7 808.3 186 798.8 C187.3 789.3 188.7 778.5 190.1 768.4 C191.5 758.2 192.8 747.7 194.2 737.9 C195.5 728.1 196.8 718.3 198.2 709.5 C199.5 700.7 201 692 202.3 685.2 C203.7 678.5 205 673 206.3 669 C207.7 665 209.1 662.6 210.4 660.9 C211.8 659.2 213.1 659.1 214.4 658.8 C215.8 658.4 217 658.5 218.5 658.8 C220 659.1 221.9 659.4 223.6 660.4 C225.3 661.4 226.8 662.8 228.6 664.9 C230.4 667 232.3 669.6 234.7 673 C237.1 676.4 239.8 680.8 242.8 685.2 C245.9 689.6 249.6 695.2 253 699.4 C256.4 703.6 259.7 707 263.1 710.5 C266.5 714 269.9 717.7 273.3 720.7 C276.7 723.8 280.4 726.8 283.4 728.8 C286.4 730.8 288.8 732.1 291.5 732.9 C294.2 733.7 296.8 734 299.6 733.5 C302.4 733 304.7 731.8 308.1 729.8 C311.6 727.8 316.2 724.6 320.3 721.7 C324.4 718.8 328.4 715.1 332.5 712.6 C336.6 710.1 340.6 708 344.6 706.5 C348.7 705 351.4 704.6 356.8 703.9 C362.2 703.2 371 702.6 377.1 702.4 C383.2 702.1 387.2 702 393.3 702.4 C399.4 702.8 407.2 703.6 413.6 704.5 C420 705.4 425.4 706.3 431.8 707.5 C438.2 708.7 445.3 710.6 452.1 711.6 C458.9 712.6 465.3 713.2 472.4 713.6 C479.5 714 486.2 714.1 494.7 714 C503.1 713.9 515 713.1 523.1 712.8 C531.2 712.5 536.7 712.3 543.4 712 C550.1 711.7 560 711.3 563.3 711.2" stroke="#c9211d"/>
<path d="M59.9 875.9 C72.8 875.5 123.1 874.2 137.4 873.4 C145.5 872.5 143.3 872.8 145.5 870.8 C147.7 868.8 149.2 865.6 150.5 861.7 C151.8 857.8 152.6 851.9 153.6 847.5 C154.6 843.1 155.4 839 156.6 835.3 C157.8 831.6 159.3 827.9 160.7 825.2 C162 822.5 163.2 821.1 164.7 819.1 C166.2 817.1 168.1 816.4 169.8 813 C171.5 809.6 173.2 804.9 174.9 798.8 C176.6 792.7 178.5 782.9 180 776.5 C181.5 770.1 182.5 765.1 184 760.2 C185.5 755.3 187.4 750.8 189.1 747.1 C190.8 743.4 192.3 741 194.2 737.9 C196 734.8 198.3 732.5 200.2 728.8 C202 725.1 203.8 719.1 205.3 715.6 C206.8 712.1 208.2 709.2 209.4 707.5 C210.6 705.8 211.4 704.9 212.4 705.1 C213.4 705.3 214.2 706.1 215.5 708.5 C216.8 710.9 218.8 716.8 220.5 719.7 C222.2 722.7 223.9 725 225.6 726.2 C227.3 727.4 228.8 727.2 230.7 726.8 C232.6 726.4 234.8 724.8 236.8 723.7 C238.8 722.6 240.4 720.5 242.8 720.1 C245.2 719.7 248.6 721.3 251 721.3 C253.4 721.3 255 721 257 720.1 C259 719.2 260.7 717.4 263.1 715.6 C265.5 713.8 268.5 710.8 271.2 709.5 C273.9 708.2 276 708.1 279.4 708.1 C282.8 708.1 287.8 709.1 291.5 709.5 C295.2 709.9 298.2 710.1 301.7 710.5 C305.1 710.9 308.1 711.3 312.2 712 C316.3 712.7 322.3 713.5 326.4 714.6 C330.4 715.7 333.1 717.1 336.5 718.7 C339.9 720.3 343.3 722.7 346.7 724.1 C350.1 725.5 353.1 726.9 356.8 727.4 C360.5 727.9 364.9 728 369 727 C373.1 726 377.4 723.5 381.1 721.7 C384.8 719.9 387.9 717.5 391.3 716 C394.7 714.5 398.4 712.9 401.4 712.6 C404.4 712.3 406.1 712.5 409.5 714 C412.9 715.5 418 719.3 421.7 721.7 C425.4 724.1 428.8 726.8 431.8 728.2 C434.9 729.6 437.6 730 440 730.2 C442.4 730.4 443.6 730.8 446 729.4 C448.4 728 451.5 725.4 454.2 721.7 C456.9 718.1 459.6 711.4 462.3 707.5 C465 703.6 467.7 700.5 470.4 698.4 C473.1 696.3 475.8 695.1 478.5 694.9 C481.2 694.7 483.9 695.4 486.6 697 C489.3 698.6 492 701.7 494.7 704.5 C497.4 707.3 499.8 710.4 502.8 713.6 C505.9 716.8 509.6 720.7 513 723.7 C516.4 726.7 519.7 729.7 523.1 731.4 C526.5 733.1 529.9 733.8 533.3 733.9 C536.7 734 540 733.1 543.4 732.3 C546.8 731.4 550.2 729.8 553.5 728.8 C556.8 727.8 561.7 726.6 563.3 726.2" stroke="#5b5b5b"/>
<path d="M59.9 875.9 C73.5 875.7 125.5 875.3 141.4 874.8 C155.6 874.3 152.2 874.3 155.6 872.8 C159 871.3 159.8 867.2 161.7 865.7 C163.6 864.2 165.1 863.9 166.8 863.7 C168.5 863.5 170 864.9 171.8 864.7 C173.7 864.5 176.2 863.9 177.9 862.7 C179.6 861.5 180.7 860.8 182 857.6 C183.3 854.4 184.7 849.8 186 843.4 C187.3 837 188.7 828.6 190.1 819.1 C191.5 809.6 192.8 797.4 194.2 786.6 C195.5 775.8 196.8 765 198.2 754.2 C199.5 743.4 201.1 732.2 202.3 721.7 C203.5 711.2 204.3 700.8 205.3 691.3 C206.3 681.8 207.4 670.6 208.4 664.9 C209.4 659.1 210.4 658.8 211.4 656.8 C212.4 654.8 213.2 655.3 214.4 653.1 C215.6 650.9 217.3 645.8 218.5 643.6 C219.7 641.5 220.6 640.2 221.5 640.2 C222.4 640.2 223.2 641 224.2 643.6 C225.2 646.2 226.3 652.3 227.6 655.8 C228.8 659.3 230.2 661.5 231.7 664.5 C233.2 667.5 235 669.7 236.8 674 C238.7 678.3 240.8 685.7 242.8 690.3 C244.8 694.9 246.9 698.9 248.9 701.4 C250.9 703.9 252.8 704.8 255 705.1 C257.2 705.4 260.1 703 262.1 703.4 C264.1 703.8 265 705.1 267.2 707.5 C269.4 709.9 272.3 714.1 275.3 717.6 C278.3 721.1 282.3 725.9 285.4 728.8 C288.4 731.7 290.9 733.6 293.6 734.9 C296.3 736.1 299.3 736.3 301.7 736.3 C304.1 736.3 305 736.1 308.1 734.9 C311.2 733.6 316.2 732 320.3 728.8 C324.4 725.6 329.1 719.5 332.5 715.6 C335.9 711.7 337.6 708.4 340.6 705.5 C343.6 702.6 347 700 350.7 698.4 C354.4 696.8 357.8 695.9 362.9 695.7 C368 695.5 375.4 696.2 381.1 697 C386.9 697.8 392 699 397.4 700.4 C402.8 701.8 408.2 703.8 413.6 705.5 C419 707.2 424.4 709.4 429.8 710.5 C435.2 711.6 440.6 711.9 446 712 C451.4 712.1 457.2 711.8 462.3 711.2 C467.4 710.6 472.1 709.3 476.5 708.5 C480.9 707.7 484.2 706.7 488.6 706.5 C493 706.3 497.1 707.3 502.8 707.5 C508.6 707.7 516.3 708 523.1 707.9 C529.9 707.8 536.7 706.8 543.4 707.1 C550.1 707.4 560 709.1 563.3 709.5" stroke="#b5b5b5"/>
<path d="M59.9 1164.7 C65 1164.5 83.9 1164.3 90.7 1163.3 C97.5 1162.3 97.9 1159.8 100.9 1158.6 C104 1157.4 106.3 1156.5 109 1156 C111.7 1155.5 114.4 1156.5 117.1 1155.6 C119.8 1154.7 122.5 1153 125.2 1150.5 C127.9 1148 130.6 1144.6 133.3 1140.4 C136 1136.2 139 1130.8 141.4 1125.2 C143.8 1119.6 145.5 1114 147.5 1106.9 C149.5 1099.8 151.6 1091.4 153.6 1082.6 C155.6 1073.8 158 1062.3 159.7 1054.2 C161.4 1046.1 162.2 1040 163.7 1033.9 C165.2 1027.8 167.1 1024.7 168.8 1017.6 C170.5 1010.5 172.2 999.4 173.9 991.3 C175.6 983.2 177.3 975.4 179 969 C180.7 962.6 182.5 956.6 184 952.7 C185.5 948.8 186.8 947.1 188.1 945.6 C189.4 944.1 190.6 943.8 192.1 943.6 C193.6 943.4 195.5 943.8 197.2 944.6 C198.9 945.5 200.4 947 202.3 948.7 C204.2 950.4 206 952.4 208.4 954.8 C210.8 957.2 213.5 959.9 216.5 962.9 C219.5 965.9 223.2 970 226.6 973 C230 976 233.1 978.6 236.8 981.1 C240.5 983.6 244.5 985.7 248.9 988.2 C253.3 990.7 258.4 993.6 263.1 996.3 C267.8 999 272.6 1001.6 277.3 1004.5 C282 1007.4 287.4 1011.1 291.5 1013.6 C295.6 1016.1 298.6 1018.2 301.7 1019.7 C304.8 1021.2 307 1022.1 310.1 1022.7 C313.2 1023.3 316.9 1023.3 320.3 1023.3 C323.7 1023.3 326.3 1023.5 330.4 1022.7 C334.4 1021.9 339.5 1020.4 344.6 1018.7 C349.7 1017 354.8 1014.8 360.9 1012.6 C367 1010.4 374.4 1007.6 381.1 1005.5 C387.9 1003.4 394.6 1001.3 401.4 999.8 C408.2 998.3 414.9 997.1 421.7 996.3 C428.5 995.4 435.2 995 442 994.7 C448.8 994.4 455.5 994.3 462.3 994.3 C469.1 994.3 475.9 994.6 482.6 994.9 C489.4 995.2 496.1 995.8 502.8 996.3 C509.6 996.8 516.3 997.3 523.1 997.8 C529.9 998.3 536.7 998.8 543.4 999.4 C550.1 1000 560 1001.1 563.3 1001.4" stroke="#e3b83f"/>
<path d="M59.9 1164.1 C63.3 1163.9 75.5 1163.3 80.6 1162.7 C85.7 1162.1 87.8 1161.9 90.7 1160.6 C93.6 1159.2 95.9 1157.5 97.8 1154.6 C99.7 1151.7 100.4 1147.6 101.9 1143.4 C103.4 1139.2 105.1 1133.8 106.9 1129.2 C108.8 1124.6 111 1119.5 113 1116 C115 1112.5 117.1 1109.6 119.1 1107.9 C121.1 1106.2 123.2 1106.1 125.2 1105.9 C127.2 1105.7 129.3 1107.5 131.3 1106.5 C133.3 1105.5 135 1103.6 137.4 1099.8 C139.8 1096 142.8 1088.8 145.5 1083.6 C148.2 1078.4 150.9 1073 153.6 1068.4 C156.3 1063.8 159 1060.3 161.7 1056.2 C164.4 1052.1 167.1 1048.4 169.8 1044 C172.5 1039.6 175.2 1033.8 177.9 1029.8 C180.6 1025.8 183.3 1022.4 186 1019.7 C188.7 1017 191.5 1015.2 194.2 1013.6 C196.9 1012 198.9 1010.9 202.3 1009.9 C205.7 1008.9 210.4 1008.2 214.4 1007.5 C218.4 1006.8 223.2 1005.7 226.6 1005.5 C230 1005.3 232 1005.8 234.7 1006.5 C237.4 1007.2 239.4 1008.5 242.8 1009.5 C246.2 1010.5 250.9 1011.6 255 1012.6 C259.1 1013.6 263.1 1014.6 267.2 1015.2 C271.3 1015.8 275.3 1016.1 279.4 1016.2 C283.4 1016.3 287.8 1016.3 291.5 1016 C295.2 1015.7 298.2 1015.4 301.7 1014.6 C305.1 1013.8 308.4 1012.9 312.2 1011.2 C316 1009.5 320.2 1006.6 324.3 1004.5 C328.4 1002.4 332.4 1000 336.5 998.4 C340.6 996.8 345 995.6 348.7 994.9 C352.4 994.2 355.4 994.2 358.8 994.3 C362.2 994.4 365.3 994.5 369 995.7 C372.7 996.9 377.1 999.3 381.1 1001.4 C385.2 1003.5 389.2 1006.3 393.3 1008.5 C397.4 1010.7 401.4 1013 405.5 1014.6 C409.6 1016.2 412.9 1017.1 417.6 1018.1 C422.3 1019.1 428.5 1020 433.9 1020.7 C439.3 1021.4 444.7 1021.9 450.1 1022.1 C455.5 1022.3 461.6 1022.3 466.3 1022.1 C471 1021.9 473.8 1021.5 478.5 1020.7 C483.2 1019.9 488.9 1018.5 494.7 1017.2 C500.4 1016 506.6 1014.5 513 1013.2 C519.4 1011.9 527.2 1010.5 533.3 1009.5 C539.4 1008.5 544.5 1008 549.5 1007.1 C554.5 1006.2 561 1004.4 563.3 1003.9" stroke="#5b5b5b"/>
<path d="M59.9 1164.7 C65 1164.5 83.9 1164.2 90.7 1163.3 C97.5 1162.4 98.2 1161 100.9 1159.6 C103.6 1158.1 104.2 1155.5 106.9 1154.6 C109.6 1153.7 113.7 1154.3 117.1 1154 C120.5 1153.7 124.2 1153.4 127.2 1152.5 C130.2 1151.6 132.9 1150.7 135.3 1148.5 C137.7 1146.3 139.4 1143.6 141.4 1139.4 C143.4 1135.2 145.5 1128.5 147.5 1123.1 C149.5 1117.7 151.2 1113.7 153.6 1106.9 C156 1100.2 159 1091 161.7 1082.6 C164.4 1074.1 167.4 1064.7 169.8 1056.2 C172.2 1047.7 173.9 1038.9 175.9 1031.8 C177.9 1024.7 179.6 1019.7 182 1013.6 C184.4 1007.5 187.7 1001.4 190.1 995.3 C192.5 989.2 194.2 984.2 196.2 977.1 C198.2 970 200.6 959.8 202.3 952.7 C204 945.6 205.1 938.7 206.3 934.5 C207.5 930.3 208.5 928.8 209.4 927.4 C210.3 926 211.1 925.8 212 926 C212.9 926.2 213.7 926.3 214.8 928.4 C215.9 930.5 217.2 934.5 218.5 938.5 C219.8 942.5 221.2 948 222.6 952.7 C223.9 957.4 225.1 962.8 226.6 966.9 C228.1 971 229.7 974.4 231.7 977.1 C233.7 979.8 236.6 981.7 238.8 983.2 C241 984.7 242.5 985.4 244.9 986.2 C247.3 987 250.3 987.3 253 988.2 C255.7 989.1 258.7 990.7 261.1 991.7 C263.5 992.7 264.8 993.9 267.2 994.3 C269.6 994.7 272.6 994.6 275.3 994.3 C278 994 280.7 992.3 283.4 992.3 C286.1 992.3 288.7 993.1 291.5 994.3 C294.3 995.5 296.9 997.2 300 999.4 C303.1 1001.6 306.1 1005 310.1 1007.5 C314.2 1010 319.2 1012.4 324.3 1014.6 C329.4 1016.8 335.5 1019.1 340.6 1020.7 C345.7 1022.3 350.4 1023.4 354.8 1024.1 C359.2 1024.8 361.8 1025.1 366.9 1024.7 C372 1024.3 379.4 1022.7 385.2 1021.7 C390.9 1020.7 396 1020.2 401.4 1018.7 C406.8 1017.2 411.5 1014.8 417.6 1012.6 C423.7 1010.4 431.1 1007.9 437.9 1005.5 C444.7 1003.1 452.4 1000.9 458.2 998.4 C463.9 995.9 468.3 992.5 472.4 990.3 C476.5 988.1 478.9 986.4 482.6 985.2 C486.3 984 489.6 983.5 494.7 983.2 C499.8 982.9 506.6 983.3 513 983.6 C519.4 983.9 527.2 984.6 533.3 985.2 C539.4 985.8 544.5 986.2 549.5 987.2 C554.5 988.2 561 990.3 563.3 990.9" stroke="#b5b5b5"/>
<path d="M59.9 1457.3 C70.1 1457.2 105.5 1457.1 121.1 1456.7 C136.7 1456.3 146.8 1455.5 153.6 1454.7 C160.4 1453.9 159.3 1452.7 161.7 1451.7 C164.1 1450.7 165.9 1450 167.8 1448.6 C169.7 1447.2 171.2 1446.4 172.9 1443.5 C174.6 1440.6 176.4 1436.1 177.9 1431.4 C179.4 1426.7 180.7 1421.6 182 1415.2 C183.3 1408.8 184.7 1400.9 186 1392.8 C187.3 1384.7 188.7 1376 190.1 1366.5 C191.5 1357 192.8 1346.5 194.2 1336 C195.5 1325.5 197 1313.4 198.2 1303.6 C199.4 1293.8 200.3 1285.3 201.3 1277.2 C202.3 1269.1 203.3 1261.2 204.3 1254.9 C205.3 1248.7 206.4 1243.1 207.4 1239.7 C208.4 1236.3 209.4 1235.5 210.4 1234.6 C211.4 1233.7 212.4 1233.8 213.4 1234.2 C214.4 1234.6 215.3 1235.2 216.5 1237.1 C217.7 1239 218.8 1241.8 220.5 1245.8 C222.2 1249.8 224.6 1256.4 226.6 1261 C228.6 1265.6 230.7 1269.8 232.7 1273.2 C234.7 1276.6 236.8 1279.3 238.8 1281.3 C240.8 1283.3 242.5 1283.3 244.9 1285.3 C247.3 1287.3 250.3 1290.4 253 1293.4 C255.7 1296.5 258.4 1300 261.1 1303.6 C263.8 1307.1 266.5 1311.3 269.2 1314.7 C271.9 1318.1 274.6 1321.4 277.3 1323.9 C280 1326.4 282.9 1328.4 285.4 1329.6 C287.9 1330.8 290 1331.1 292.5 1331 C295 1330.9 297.7 1330.4 300.3 1328.9 C302.9 1327.4 305.5 1324.3 308.1 1321.8 C310.8 1319.3 313.1 1316.6 316.2 1313.7 C319.2 1310.8 323 1307.1 326.4 1304.6 C329.8 1302.1 333.1 1300 336.5 1298.5 C339.9 1297 342.6 1296.2 346.7 1295.5 C350.8 1294.8 355.8 1294.4 360.9 1294.1 C366 1293.8 372 1293.9 377.1 1293.9 C382.2 1293.9 386.6 1293.6 391.3 1293.9 C396 1294.2 400.4 1294.7 405.5 1295.5 C410.6 1296.3 416.3 1297.3 421.7 1298.5 C427.1 1299.7 432.5 1301.4 437.9 1302.6 C443.3 1303.8 448.8 1304.8 454.2 1305.6 C459.6 1306.4 465 1307.2 470.4 1307.6 C475.8 1308 481.2 1308.2 486.6 1308.1 C492 1308 496.7 1307.4 502.8 1307 C508.9 1306.6 516.3 1305.9 523.1 1305.6 C529.9 1305.3 536.7 1305.2 543.4 1305 C550.1 1304.8 560 1304.7 563.3 1304.6" stroke="#4a86b0"/>
<path d="M59.9 1457.3 C70.1 1457.1 106.8 1456.8 121.1 1456.3 C135.4 1455.8 140.1 1455.1 145.5 1454.3 C150.9 1453.5 151.6 1453.2 153.6 1451.7 C155.6 1450.2 156.2 1449 157.6 1445.6 C158.9 1442.2 160.3 1436.1 161.7 1431.4 C163.1 1426.7 164.5 1421.3 165.8 1417.2 C167.2 1413.1 168.1 1410 169.8 1407 C171.5 1404 173.9 1401.8 175.9 1398.9 C177.9 1396 179.8 1393.2 182 1389.8 C184.2 1386.4 186.9 1382.6 189.1 1378.6 C191.3 1374.5 193.3 1370.2 195.2 1365.5 C197 1360.8 198.5 1355.8 200.2 1350.2 C201.9 1344.6 203.8 1337.1 205.3 1332 C206.8 1326.9 208.1 1323.2 209.4 1319.8 C210.8 1316.4 212.1 1313.5 213.4 1311.7 C214.8 1310 216 1309.5 217.5 1309.3 C219 1309.1 220.8 1310.3 222.6 1310.7 C224.4 1311.1 226.9 1311.9 228.6 1311.7 C230.3 1311.5 231.3 1310.9 232.7 1309.7 C234.1 1308.5 235.1 1305.9 236.8 1304.6 C238.5 1303.2 240.8 1301.7 242.8 1301.6 C244.8 1301.5 246.5 1302.8 248.9 1304 C251.3 1305.2 254.3 1307.2 257 1308.7 C259.7 1310.2 262.5 1311.6 265.2 1312.7 C267.9 1313.8 270.6 1314.9 273.3 1315.4 C276 1315.9 278.7 1316.2 281.4 1315.8 C284.1 1315.4 286.8 1314.5 289.5 1313.3 C292.2 1312.1 294.5 1311 297.6 1308.7 C300.7 1306.4 305.2 1301.7 308.1 1299.5 C311 1297.3 313.2 1296.3 315.2 1295.5 C317.2 1294.7 318.4 1294.3 320.3 1294.5 C322.2 1294.7 324 1295.2 326.4 1296.5 C328.8 1297.8 331.8 1300.4 334.5 1302.6 C337.2 1304.8 339.9 1307.8 342.6 1309.7 C345.3 1311.6 347.6 1313 350.7 1314.1 C353.8 1315.2 356.5 1315.7 360.9 1316.2 C365.3 1316.7 372 1316.8 377.1 1317 C382.2 1317.2 386.6 1317.8 391.3 1317.4 C396 1317 400.4 1315.7 405.5 1314.7 C410.6 1313.7 416.3 1312.8 421.7 1311.3 C427.1 1309.8 432.5 1307.6 437.9 1305.6 C443.3 1303.6 449.5 1300.8 454.2 1299.1 C458.9 1297.4 462.6 1296.3 466.3 1295.5 C470 1294.7 473.1 1294.1 476.5 1294.1 C479.9 1294.1 482.9 1294.6 486.6 1295.5 C490.3 1296.4 494.4 1297.8 498.8 1299.5 C503.2 1301.2 508.3 1303.7 513 1305.6 C517.7 1307.5 522.5 1308.8 527.2 1310.7 C531.9 1312.6 537 1315 541.4 1316.8 C545.8 1318.6 549.9 1320.7 553.5 1321.8 C557.1 1322.9 561.7 1323 563.3 1323.3" stroke="#5b5b5b"/>
<path d="M59.9 1457.3 C70.1 1457.2 105.5 1457 121.1 1456.7 C136.7 1456.4 146.5 1455.9 153.6 1455.3 C160.7 1454.7 161 1454.3 163.7 1453.3 C166.4 1452.3 167.9 1449.7 169.8 1449.2 C171.7 1448.8 173.2 1450.9 174.9 1450.6 C176.6 1450.3 178.3 1449.2 180 1447.2 C181.7 1445.2 183.5 1441.8 185 1438.5 C186.5 1435.2 187.7 1432.5 189.1 1427.3 C190.5 1422 191.8 1414.4 193.2 1407 C194.5 1399.6 195.7 1391.8 197.2 1382.7 C198.7 1373.6 200.8 1362.5 202.3 1352.3 C203.8 1342.1 205.1 1331.3 206.3 1321.8 C207.5 1312.3 208.2 1304 209.4 1295.5 C210.6 1287 212.1 1279.2 213.4 1271.1 C214.8 1263 216.3 1253.7 217.5 1246.8 C218.7 1239.9 219.7 1233.5 220.5 1229.6 C221.3 1225.7 222 1224.8 222.6 1223.5 C223.2 1222.2 223.6 1221.6 224.2 1221.8 C224.8 1222 225.3 1221.7 226.2 1224.5 C227.1 1227.3 228.4 1233 229.7 1238.7 C230.9 1244.5 232.2 1252.2 233.7 1259 C235.2 1265.8 237.1 1273.1 238.8 1279.2 C240.5 1285.3 242.2 1290.1 243.9 1295.5 C245.6 1300.9 247.4 1307.3 248.9 1311.7 C250.4 1316.1 251.7 1319.4 253 1321.8 C254.3 1324.2 255.7 1325.4 257 1325.9 C258.4 1326.4 259.7 1326.4 261.1 1324.9 C262.5 1323.4 263.7 1319.8 265.2 1316.8 C266.7 1313.8 268.6 1308.7 270.2 1306.6 C271.8 1304.5 273.4 1304.2 274.9 1304 C276.4 1303.8 277.6 1304.3 279.4 1305.6 C281.1 1306.9 283 1309.7 285.4 1311.7 C287.8 1313.7 291.2 1316.1 293.6 1317.8 C296 1319.5 297.9 1320.7 300 1321.8 C302.1 1322.9 304.1 1324.1 306.1 1324.3 C308.1 1324.5 309.8 1324.3 312.2 1322.9 C314.6 1321.5 317.3 1317.8 320.3 1315.8 C323.3 1313.8 327 1312.4 330.4 1310.7 C333.8 1309 337.2 1308.5 340.6 1305.6 C344 1302.7 347.3 1297.1 350.7 1293.4 C354.1 1289.7 357.5 1286 360.9 1283.3 C364.3 1280.6 367.6 1278.6 371 1277.2 C374.4 1275.8 378.4 1275 381.1 1274.8 C383.8 1274.6 384.5 1274.6 387.2 1276.2 C389.9 1277.8 393.7 1281.1 397.4 1284.3 C401.1 1287.5 405.4 1292.3 409.5 1295.5 C413.6 1298.7 417.6 1301.3 421.7 1303.6 C425.8 1305.9 429.8 1308 433.9 1309.3 C437.9 1310.6 441.9 1311.2 446 1311.3 C450.1 1311.4 454.1 1311.2 458.2 1310.1 C462.3 1309 466.3 1306.1 470.4 1304.6 C474.5 1303.1 477.9 1301.9 482.6 1301.2 C487.3 1300.5 493.7 1301.1 498.8 1300.5 C503.9 1299.9 508.6 1298.8 513 1297.5 C517.4 1296.2 521.5 1293.7 525.2 1292.4 C528.9 1291.1 531.9 1290.2 535.3 1289.8 C538.7 1289.4 542 1289.4 545.4 1289.8 C548.8 1290.2 552.6 1291.5 555.6 1292.4 C558.6 1293.4 562 1295 563.3 1295.5" stroke="#b5b5b5"/>
</g>
<rect x="58.3" y="620.3" width="506.6" height="868.9" fill="none" stroke="#000" stroke-width="3.3"/>
<path d="M58.3 909.5 H564.9 M58.3 1199.3 H564.9" stroke="#000" stroke-width="3.1" fill="none"/>
<path d="M121.4 1489 V1500.8" stroke="#000" stroke-width="3.1"/>
<text x="121.4" y="1530.5" font-size="27.3" font-weight="bold" text-anchor="middle" fill="#000" >8320</text>
<path d="M247.8 1489 V1500.8" stroke="#000" stroke-width="3.1"/>
<text x="247.8" y="1530.5" font-size="27.3" font-weight="bold" text-anchor="middle" fill="#000" >8360</text>
<path d="M374.1 1489 V1500.8" stroke="#000" stroke-width="3.1"/>
<text x="374.1" y="1530.5" font-size="27.3" font-weight="bold" text-anchor="middle" fill="#000" >8400</text>
<path d="M500.4 1489 V1500.8" stroke="#000" stroke-width="3.1"/>
<text x="500.4" y="1530.5" font-size="27.3" font-weight="bold" text-anchor="middle" fill="#000" >8440</text>
<path d="M58.3 1489 V1495.4" stroke="#000" stroke-width="3.1"/>
<path d="M184.6 1489 V1495.4" stroke="#000" stroke-width="3.1"/>
<path d="M311 1489 V1495.4" stroke="#000" stroke-width="3.1"/>
<path d="M437.3 1489 V1495.4" stroke="#000" stroke-width="3.1"/>
<path d="M563.4 1489 V1495.4" stroke="#000" stroke-width="3.1"/>
<text x="316" y="1564.8" font-size="33.7" font-weight="bold" text-anchor="middle" fill="#000" textLength="187.5" lengthAdjust="spacingAndGlyphs">Energy (eV)</text>
<text transform="translate(33.3 1052.5) rotate(-90)" font-size="36" font-weight="bold" text-anchor="middle" textLength="347" lengthAdjust="spacingAndGlyphs">Intensity (arb. units)</text>
<path d="M338.5 778.1 H379.1" stroke="#c9211d" stroke-width="3.3" stroke-linecap="round" fill="none"/>
<text x="386.8" y="783.6" font-size="22.6" font-weight="bold" text-anchor="start" fill="#000" textLength="166.7" lengthAdjust="spacingAndGlyphs">Fe<tspan font-size="14.5" dy="5.6">SA</tspan><tspan dy="-5.6">Ru</tspan><tspan font-size="14.5" dy="5.6">AC</tspan><tspan dy="-5.6">@NCB</tspan></text>
<path d="M338.5 812 H379.1" stroke="#5b5b5b" stroke-width="3.3" stroke-linecap="round" fill="none"/>
<text x="386.8" y="817" font-size="22.6" font-weight="bold" text-anchor="start" fill="#000" textLength="64.3" lengthAdjust="spacingAndGlyphs">Fe foil</text>
<path d="M338.5 840.8 H379.1" stroke="#b5b5b5" stroke-width="3.3" stroke-linecap="round" fill="none"/>
<text x="386.8" y="845.8" font-size="22.6" font-weight="bold" text-anchor="start" fill="#000" textLength="58.8" lengthAdjust="spacingAndGlyphs">Fe<tspan font-size="14.5" dy="5.6">2</tspan><tspan dy="-5.6">O</tspan><tspan font-size="14.5" dy="5.6">3</tspan></text>
<path d="M345.2 1071.4 H378.5" stroke="#e3b83f" stroke-width="3.3" stroke-linecap="round" fill="none"/>
<text x="384.2" y="1077.5" font-size="22.6" font-weight="bold" text-anchor="start" fill="#000" textLength="171" lengthAdjust="spacingAndGlyphs">Co<tspan font-size="14.5" dy="5.6">SA</tspan><tspan dy="-5.6">Ru</tspan><tspan font-size="14.5" dy="5.6">AC</tspan><tspan dy="-5.6">@NCB</tspan></text>
<path d="M345.2 1105.5 H378.5" stroke="#5b5b5b" stroke-width="3.3" stroke-linecap="round" fill="none"/>
<text x="384.2" y="1111" font-size="22.6" font-weight="bold" text-anchor="start" fill="#000" textLength="68.6" lengthAdjust="spacingAndGlyphs">Co foil</text>
<path d="M345.2 1134.3 H378.5" stroke="#b5b5b5" stroke-width="3.3" stroke-linecap="round" fill="none"/>
<text x="384.2" y="1139.4" font-size="22.6" font-weight="bold" text-anchor="start" fill="#000" textLength="63.9" lengthAdjust="spacingAndGlyphs">Co<tspan font-size="14.5" dy="5.6">3</tspan><tspan dy="-5.6">O</tspan><tspan font-size="14.5" dy="5.6">4</tspan></text>
<path d="M348.1 1382.7 H381.2" stroke="#4a86b0" stroke-width="3.3" stroke-linecap="round" fill="none"/>
<text x="388.2" y="1387.8" font-size="22.6" font-weight="bold" text-anchor="start" fill="#000" textLength="164.3" lengthAdjust="spacingAndGlyphs">Ni<tspan font-size="14.5" dy="5.6">SA</tspan><tspan dy="-5.6">Ru</tspan><tspan font-size="14.5" dy="5.6">AC</tspan><tspan dy="-5.6">@NCB</tspan></text>
<path d="M348.1 1416.2 H381.2" stroke="#5b5b5b" stroke-width="3.3" stroke-linecap="round" fill="none"/>
<text x="388.2" y="1421.6" font-size="22.6" font-weight="bold" text-anchor="start" fill="#000" textLength="60.9" lengthAdjust="spacingAndGlyphs">Ni foil</text>
<path d="M348.1 1445.2 H381.2" stroke="#b5b5b5" stroke-width="3.3" stroke-linecap="round" fill="none"/>
<text x="388.2" y="1450.2" font-size="22.6" font-weight="bold" text-anchor="start" fill="#000" textLength="39.1" lengthAdjust="spacingAndGlyphs">NiO</text>
<text x="5" y="666.4" font-size="56.5" font-weight="normal" text-anchor="start" fill="#000" >d</text>
<defs>
<radialGradient id="gC" cx="0.42" cy="0.4" r="0.62"><stop offset="0" stop-color="#fff"/><stop offset="0.3" stop-color="#e6e6e6"/><stop offset="0.7" stop-color="#b4b4b4"/><stop offset="1" stop-color="#6a6a6a"/></radialGradient>
<radialGradient id="gN" cx="0.42" cy="0.4" r="0.62"><stop offset="0" stop-color="#b4b4ff"/><stop offset="0.3" stop-color="#4a4ae6"/><stop offset="0.75" stop-color="#2020b8"/><stop offset="1" stop-color="#0c0c6a"/></radialGradient>
<radialGradient id="gRu" cx="0.45" cy="0.42" r="0.62"><stop offset="0" stop-color="#fff"/><stop offset="0.12" stop-color="#f6e8e4"/><stop offset="0.35" stop-color="#c69a90"/><stop offset="0.8" stop-color="#a97e74"/><stop offset="1" stop-color="#6e4c44"/></radialGradient>
<radialGradient id="gFe" cx="0.45" cy="0.45" r="0.62"><stop offset="0" stop-color="#ffd6d6"/><stop offset="0.25" stop-color="#c63a42"/><stop offset="0.75" stop-color="#941a22"/><stop offset="1" stop-color="#520a10"/></radialGradient>
<radialGradient id="gCo" cx="0.45" cy="0.45" r="0.62"><stop offset="0" stop-color="#ffffd8"/><stop offset="0.3" stop-color="#eef24a"/><stop offset="0.8" stop-color="#d8de26"/><stop offset="1" stop-color="#9aa010"/></radialGradient>
<radialGradient id="gNi" cx="0.45" cy="0.45" r="0.62"><stop offset="0" stop-color="#c8f6ff"/><stop offset="0.3" stop-color="#4ab8e6"/><stop offset="0.8" stop-color="#3494c2"/><stop offset="1" stop-color="#1c5a80"/></radialGradient>
<clipPath id="ce"><rect x="644.2" y="621.8" width="502.1" height="865.4"/></clipPath></defs>
<rect x="726.4" y="752.1" width="60.2" height="711.2" fill="#d4eadf"/>
<g clip-path="url(#ce)">
<path d="M642.6 873 C643.2 873.5 644.7 875.1 646.2 876.3 C647.8 877.5 650 878.7 651.9 880.1 C653.8 881.5 655.9 884.9 657.6 884.9 C659.3 884.9 660.7 881.5 662.3 880.1 C663.9 878.7 665.4 877.3 667.1 876.3 C668.9 875.3 670.9 874 672.8 874 C674.7 874 676.8 875 678.5 876.3 C680.2 877.6 681.7 880.6 683.3 882 C684.9 883.4 686.4 885.5 688 884.5 C689.6 883.5 691.5 879.1 693 876 C694.5 872.9 695.6 868.3 697 866 C698.4 863.7 699.8 862.3 701.3 862 C702.8 861.7 704.4 861.7 706 864 C707.6 866.3 709.3 872.7 711 876 C712.7 879.3 714.4 883.5 716 884 C717.6 884.5 719 881.5 720.5 879 C722 876.5 723.6 872.4 725.1 869.1 C726.6 865.8 727.6 861.3 729.3 859.2 C730.9 857.1 733.2 856.1 735 856.3 C736.8 856.4 738.6 859 740.3 860.1 C742 861.2 743.6 863.1 745 863 C746.4 862.9 747.2 861 748.5 859.2 C749.8 857.4 751.4 855.5 753 852 C754.6 848.5 756.3 842.7 758 838 C759.7 833.3 761.3 827.8 763 824 C764.7 820.2 766.4 816.9 768 815 C769.6 813.1 770.9 811.3 772.5 812.5 C774.1 813.7 775.8 817.4 777.5 822 C779.2 826.6 780.9 834.8 782.5 840 C784.1 845.2 785.6 851.2 787 853 C788.4 854.8 789.5 855 791 851 C792.5 847 794.3 836.8 796 829 C797.7 821.2 799.2 811.7 801 804 C802.8 796.3 804.7 788.7 806.5 783 C808.3 777.3 810.1 774.8 812 770 C813.9 765.2 816.1 761 818 754 C819.9 747 821.7 737.5 823.5 728 C825.3 718.5 827.1 707.2 828.8 697 C830.5 686.8 832.2 675.3 833.9 667 C835.6 658.7 837.2 650.8 838.9 647 C840.6 643.2 842.3 642.4 844 644.2 C845.7 646 847.5 650.2 849.3 657.6 C851 665 852.8 676.1 854.5 688.4 C856.2 700.7 857.9 716.2 859.6 731.4 C861.3 746.5 862.8 763.8 864.5 779.3 C866.2 794.8 868.2 811.8 869.7 824.6 C871.2 837.4 872.2 848.4 873.3 856.3 C874.4 864.2 875.5 868.4 876.5 872 C877.5 875.6 878.2 878.2 879 878.2 C879.8 878.2 880.5 874.9 881.5 872 C882.5 869.1 883.5 864.2 884.7 861 C886 857.8 887.5 853.5 889 853 C890.5 852.5 892.1 855.7 894 858 C895.9 860.3 898.5 864.6 900.5 866.8 C902.5 869 904 870.6 905.8 871 C907.6 871.4 909.5 870.1 911.2 869.1 C912.9 868.1 914.4 866.9 916 865 C917.6 863.1 919.2 860.2 921 858 C922.8 855.8 924.9 853.3 926.6 851.6 C928.3 849.9 929.6 848.8 931 848 C932.4 847.2 933.8 846.8 935.1 846.8 C936.4 846.8 937.5 846.9 939 848 C940.5 849.1 942 850.8 944 853.5 C946 856.2 949.2 861.1 951.3 864 C953.4 866.9 954.9 869.2 956.5 871 C958.1 872.8 959.5 874.6 960.8 875 C962 875.4 962.8 874.3 964 873.5 C965.2 872.7 966.3 871 968 870 C969.7 869 972.1 867.9 974.1 867.2 C976.1 866.5 978.1 866.3 980 866 C981.9 865.7 983.7 865.9 985.5 865.5 C987.3 865.1 989.1 864.4 991 863.5 C992.9 862.6 994.8 861.3 997 860.1 C999.2 858.9 1001.8 857.3 1004 856.5 C1006.2 855.7 1008.5 855.5 1010.3 855.4 C1012.1 855.3 1013.4 855.3 1015 856 C1016.6 856.7 1017.9 857.4 1020 859.5 C1022.1 861.6 1025.2 865.6 1027.4 868.7 C1029.6 871.8 1031.4 875.6 1033 878 C1034.6 880.4 1035.5 882.2 1037 883 C1038.5 883.8 1040.5 884.2 1042 883 C1043.5 881.8 1044.3 878.5 1046 876 C1047.7 873.5 1050.4 869.6 1052.1 867.7 C1053.8 865.8 1054.7 865.1 1056 864.5 C1057.3 863.9 1058.5 863.9 1059.7 863.9 C1061 863.9 1062.2 864.3 1063.5 864.8 C1064.8 865.3 1065.9 865.8 1067.3 866.8 C1068.7 867.8 1070.4 869.1 1072 870.5 C1073.6 871.9 1074.8 873.8 1076.9 875.4 C1079 877 1081 878.7 1084.5 880.1 C1088 881.5 1093.2 882.8 1097.8 883.9 C1102.4 885 1106.6 885.8 1112 886.5 C1117.4 887.2 1124 887.6 1130 888 C1136 888.4 1144.9 888.6 1147.9 888.7" fill="none" stroke="#8a8a8a" stroke-width="2.6" stroke-linejoin="round"/>
<path d="M642.6 1172 C643.2 1172.1 643.9 1172.2 646.2 1172.4 C648.5 1172.7 653.1 1173.4 656.6 1173.5 C660.1 1173.6 663.6 1173.6 667.1 1173 C670.6 1172.4 674.6 1170.2 677.6 1170.1 C680.6 1170 682.8 1172 685.2 1172.4 C687.6 1172.8 690.2 1173.7 692 1172.5 C693.8 1171.3 694.6 1167.6 696 1165 C697.4 1162.4 699 1159.1 700.4 1156.8 C701.8 1154.5 703.2 1152.3 704.5 1151 C705.8 1149.7 706.9 1149.4 708 1149.2 C709.1 1149 710 1149.4 711 1150 C712 1150.6 712.7 1151.3 713.7 1153 C714.7 1154.7 715.9 1157.7 717 1160 C718.1 1162.3 719.3 1165.4 720.5 1167 C721.7 1168.6 722.8 1170.2 724 1169.5 C725.2 1168.8 726 1167.3 727.5 1163 C729 1158.7 731.3 1148 732.7 1143.5 C734.1 1139 734.9 1138.1 736 1136 C737.1 1133.9 738.4 1132.2 739.4 1131.1 C740.4 1130 741.2 1129.8 742 1129.5 C742.8 1129.2 743.3 1129 744.1 1129.2 C744.9 1129.4 746 1129.9 747 1130.5 C748 1131.1 748.8 1132.2 749.8 1133 C750.8 1133.8 751.7 1135 753 1135.5 C754.3 1136 756.3 1136.7 757.5 1135.9 C758.7 1135.2 759 1133.2 760 1131 C761 1128.8 762.2 1125.1 763.2 1122.6 C764.2 1120.1 765 1117.8 766 1116 C767 1114.2 768 1113 768.9 1112.1 C769.8 1111.2 770.7 1110.9 771.5 1110.8 C772.3 1110.7 772.8 1110.4 773.6 1111.2 C774.4 1112 775.5 1113.6 776.5 1115.5 C777.5 1117.4 778.4 1119.7 779.3 1122.6 C780.2 1125.5 781 1129.2 782 1133 C783 1136.8 784.2 1143 785 1145.4 C785.8 1147.8 786.4 1147.5 787 1147.5 C787.6 1147.5 788 1147.8 788.8 1145.4 C789.6 1143 790.9 1137.4 792 1133 C793.1 1128.6 794.4 1124 795.5 1118.8 C796.6 1113.6 797.5 1107.1 798.5 1102 C799.5 1096.9 800.1 1092.8 801.2 1088.3 C802.3 1083.8 803.7 1078.8 805 1075 C806.3 1071.2 807.4 1069 808.8 1065.5 C810.2 1062 811.9 1058.1 813.5 1054 C815.1 1049.9 816.9 1045.5 818.3 1040.8 C819.7 1036.1 820.7 1031.7 822 1026 C823.3 1020.3 824.3 1015.5 825.9 1006.5 C827.5 997.5 829.9 982 831.6 972.3 C833.4 962.6 835 953.4 836.4 948.5 C837.8 943.6 838.9 943.3 840.2 942.8 C841.5 942.3 842.6 942.1 844 945.7 C845.4 949.4 847 955.8 848.8 964.7 C850.5 973.6 852.6 985.6 854.5 998.9 C856.4 1012.2 858.3 1029.1 860.2 1044.6 C862.1 1060.1 864 1076.6 865.9 1092.1 C867.8 1107.6 870.1 1126 871.6 1137.8 C873.1 1149.6 874 1156.7 875 1163 C876 1169.3 876.5 1175 877.3 1175.8 C878.1 1176.6 879 1170.8 880 1168 C881 1165.2 881.9 1161.2 883 1158.7 C884.1 1156.2 885.4 1154.3 886.5 1153 C887.6 1151.7 888.6 1151.3 889.7 1151.1 C890.8 1150.9 891.9 1151.4 893 1152 C894.1 1152.6 895.1 1153.5 896.3 1154.9 C897.5 1156.3 898.7 1158.6 900 1160.5 C901.3 1162.4 902.6 1164.4 903.9 1166.3 C905.1 1168.2 906.2 1170.3 907.5 1172 C908.8 1173.7 910.2 1175.8 911.4 1176.2 C912.6 1176.6 913.5 1175.5 914.5 1174.5 C915.5 1173.5 916 1171.8 917.1 1170.1 C918.2 1168.3 919.7 1165.9 921 1164 C922.3 1162.1 923.5 1160.2 924.7 1158.7 C926 1157.2 927.2 1156 928.5 1155 C929.8 1154 931 1153.5 932.3 1153 C933.5 1152.5 934.7 1152.3 936 1152.3 C937.3 1152.3 938.6 1152.5 939.9 1153 C941.1 1153.5 942.2 1154 943.5 1155 C944.8 1156 946.2 1157.5 947.5 1158.7 C948.8 1160 950 1161.2 951.3 1162.5 C952.6 1163.8 953.7 1165.2 955.1 1166.3 C956.5 1167.4 958.6 1169 959.9 1169.2 C961.2 1169.4 961.9 1168.5 963 1167.5 C964.1 1166.5 965.2 1165.1 966.5 1163.5 C967.8 1161.9 969.4 1159.9 971 1158 C972.6 1156.1 974.4 1153.6 976 1152 C977.6 1150.4 978.9 1149.5 980.5 1148.5 C982.1 1147.5 983.9 1147.1 985.5 1146.3 C987.1 1145.5 988.4 1144.8 990 1143.8 C991.6 1142.8 993.4 1141.6 995.1 1140.6 C996.8 1139.5 998.6 1138.2 1000 1137.5 C1001.4 1136.8 1002.4 1136.4 1003.6 1136.3 C1004.8 1136.2 1005.9 1136.4 1007 1137 C1008.1 1137.6 1009.1 1138.5 1010.3 1139.7 C1011.5 1140.9 1012.7 1142.4 1014 1144 C1015.3 1145.6 1016 1146.4 1017.9 1149.2 C1019.8 1152 1023 1157.1 1025.5 1160.6 C1028 1164.1 1031.2 1167.9 1033.1 1170.1 C1035 1172.3 1035.7 1173.1 1037 1174 C1038.3 1174.9 1039.8 1175.6 1041 1175.5 C1042.2 1175.4 1043.4 1174.4 1044.5 1173.5 C1045.6 1172.6 1046.3 1171.5 1047.4 1170.1 C1048.5 1168.7 1049.9 1166.6 1051 1165 C1052.1 1163.4 1052.8 1162 1054 1160.6 C1055.2 1159.2 1056.7 1157.6 1058 1156.5 C1059.3 1155.4 1060.5 1154.6 1061.6 1154 C1062.7 1153.4 1063.5 1153.1 1064.5 1152.9 C1065.5 1152.7 1066.2 1152.5 1067.3 1152.6 C1068.4 1152.7 1069.7 1153 1071 1153.6 C1072.3 1154.1 1073.6 1154.9 1075 1155.9 C1076.4 1156.9 1077.9 1158.2 1079.5 1159.5 C1081.1 1160.8 1082.8 1162.4 1084.5 1163.5 C1086.2 1164.6 1088.1 1165.5 1090 1166.3 C1091.9 1167.1 1093 1167.4 1095.9 1168.2 C1098.8 1169 1103.3 1170 1107.3 1171.1 C1111.3 1172.1 1115.4 1173.4 1120 1174.5 C1124.6 1175.6 1130.3 1176.9 1135 1177.5 C1139.7 1178.1 1145.8 1178.2 1147.9 1178.3" fill="none" stroke="#8a8a8a" stroke-width="2.6" stroke-linejoin="round"/>
<path d="M642.6 1455.4 C643.4 1454.6 645.6 1452.2 647.1 1450.6 C648.6 1449 650.1 1446.8 651.9 1445.8 C653.6 1444.8 655.9 1444.4 657.6 1444.9 C659.3 1445.4 660.6 1447.1 662.3 1448.7 C663.9 1450.3 665.8 1453.9 667.5 1454.4 C669.2 1454.9 671.1 1453 672.8 1451.6 C674.5 1450.2 676.1 1447.2 677.9 1445.8 C679.6 1444.4 681.5 1443.2 683.3 1443.4 C685.1 1443.6 686.9 1446.2 688.6 1446.8 C690.3 1447.4 692 1448.1 693.5 1447 C695 1445.9 696.2 1442.2 697.5 1440 C698.8 1437.8 700 1435.2 701.3 1433.5 C702.5 1431.8 703.9 1430.4 705 1429.5 C706.1 1428.6 707 1428.3 708 1428.2 C709 1428.1 710 1428.4 711 1429 C712 1429.6 712.7 1430.2 713.7 1431.6 C714.7 1433 715.9 1435.4 717 1437.5 C718.1 1439.6 719.3 1442.5 720.5 1444 C721.7 1445.5 722.8 1447.2 724 1446.5 C725.2 1445.8 726.4 1443.1 727.5 1440 C728.6 1436.9 729.6 1431.3 730.8 1427.8 C732 1424.3 733.4 1421.4 734.5 1419 C735.6 1416.6 736.6 1414.9 737.5 1413.5 C738.4 1412.1 739.2 1411.1 740 1410.5 C740.8 1409.9 741.4 1409.5 742.2 1409.7 C743 1409.9 744 1410.5 745 1411.5 C746 1412.5 746.8 1413.7 747.9 1415.4 C749 1417.2 750.4 1419.9 751.5 1422 C752.6 1424.1 753.6 1426.6 754.6 1427.8 C755.6 1429 756.4 1429.6 757.5 1429 C758.6 1428.4 760.2 1426 761.3 1424 C762.4 1422 763 1419.5 764 1417 C765 1414.5 766 1411.2 767 1408.8 C768 1406.4 769 1404.1 770 1402.5 C771 1400.9 771.9 1399.8 772.7 1399.2 C773.5 1398.6 774.2 1398.8 775 1399 C775.8 1399.2 776.6 1399.2 777.4 1400.2 C778.2 1401.2 779 1402.9 780 1405 C781 1407.1 782.1 1410.1 783.1 1412.6 C784.1 1415.1 785 1417.8 786 1420 C787 1422.2 788 1424.5 788.8 1425.9 C789.6 1427.3 790.3 1428.2 791 1428.5 C791.7 1428.8 792.5 1429.9 793.2 1427.8 C794 1425.7 794.8 1420.1 795.5 1416 C796.2 1411.9 796.3 1409 797.4 1403 C798.5 1397 800.2 1387.8 802.1 1380.2 C804 1372.6 806.9 1363.5 808.8 1357.4 C810.7 1351.3 811.9 1348.2 813.5 1343.5 C815.1 1338.8 816.6 1335.2 818.3 1328.9 C820 1322.6 821.8 1314.2 823.5 1305.6 C825.2 1297 826.9 1286.7 828.6 1277.5 C830.3 1268.3 832 1257.6 833.7 1250.3 C835.4 1243 837.2 1236.6 838.9 1233.7 C840.6 1230.8 842.3 1230.2 844 1232.8 C845.7 1235.3 847.5 1241 849.3 1249 C851 1257 852.8 1268.7 854.5 1280.9 C856.2 1293.1 857.9 1307.9 859.6 1322.2 C861.3 1336.5 863.3 1354.9 864.7 1366.9 C866.1 1378.9 867 1386.7 868 1394 C869 1401.3 869.9 1405 870.6 1410.7 C871.4 1416.4 871.9 1422.9 872.5 1428 C873.1 1433.1 873.7 1437.6 874.4 1441.1 C875.1 1444.5 876.2 1448.2 876.9 1448.7 C877.6 1449.2 878 1445.9 878.5 1444 C879 1442.1 879.4 1439.6 880.1 1437.3 C880.8 1435 881.7 1432.1 882.5 1430 C883.3 1427.9 883.6 1426.1 884.9 1424.9 C886.2 1423.7 888.5 1422 890.2 1423 C892 1424 893.7 1428.8 895.4 1431.2 C897.1 1433.6 898.8 1435.9 900.5 1437.3 C902.2 1438.7 904 1439.2 905.8 1439.5 C907.6 1439.8 909.9 1439.7 911.5 1439 C913.1 1438.3 914 1436.7 915.2 1435.4 C916.5 1434.1 917.7 1432.3 919 1431 C920.3 1429.7 921.5 1428.6 922.8 1427.8 C924 1427 925.2 1426.4 926.5 1426 C927.8 1425.6 929.1 1425.4 930.4 1425.5 C931.6 1425.6 932.7 1426 934 1426.5 C935.3 1427 936.7 1427.7 938 1428.7 C939.3 1429.7 940.7 1431.2 942 1432.5 C943.3 1433.8 944.4 1435.1 945.6 1436.3 C946.9 1437.5 948.2 1438.5 949.5 1439.5 C950.8 1440.5 951.5 1441.2 953.2 1442 C955 1442.8 957.7 1444.2 960 1444.5 C962.3 1444.8 964.6 1444.1 967 1443.5 C969.4 1442.9 972.1 1441.8 974.1 1441.1 C976.1 1440.4 977.4 1440.1 979 1439.5 C980.6 1438.9 982.1 1438 983.6 1437.3 C985.1 1436.5 986.4 1436 988 1435 C989.6 1434 991.5 1432.9 993.2 1431.6 C994.9 1430.3 996.4 1428.6 998 1427 C999.6 1425.4 1001.3 1423.4 1002.7 1422.1 C1004.1 1420.8 1005.2 1419.9 1006.5 1419.3 C1007.8 1418.7 1009 1418.3 1010.3 1418.3 C1011.5 1418.2 1012.7 1418.5 1014 1419 C1015.3 1419.5 1016.6 1419.8 1017.9 1421.1 C1019.1 1422.3 1020.2 1424.4 1021.5 1426.5 C1022.8 1428.6 1024.2 1431.2 1025.5 1433.5 C1026.8 1435.8 1027.9 1438.1 1029 1440 C1030.1 1441.9 1030.9 1443.6 1032.1 1444.9 C1033.3 1446.2 1034.6 1447.9 1036 1448 C1037.4 1448.1 1039.4 1446.7 1040.7 1445.5 C1042 1444.3 1042.9 1442.4 1044 1441 C1045.1 1439.6 1046.2 1438.3 1047.4 1437.3 C1048.6 1436.3 1049.7 1435.4 1051 1434.8 C1052.3 1434.2 1053.8 1433.7 1055 1433.5 C1056.2 1433.3 1057.4 1433.6 1058.5 1433.9 C1059.6 1434.2 1060.4 1434.7 1061.6 1435.4 C1062.8 1436.1 1064.2 1437 1065.5 1438 C1066.8 1439 1067.3 1439.8 1069.2 1441.1 C1071.1 1442.4 1074.3 1444.5 1076.9 1445.8 C1079.5 1447.1 1081.2 1447.9 1085 1449 C1088.8 1450.1 1094.2 1451.7 1100 1452.5 C1105.8 1453.3 1112 1453.6 1120 1454 C1128 1454.4 1143.2 1454.7 1147.9 1454.8" fill="none" stroke="#8a8a8a" stroke-width="2.6" stroke-linejoin="round"/>
<path d="M642.6 873 C643.2 873.5 644.7 875.1 646.2 876.3 C647.8 877.5 650 878.7 651.9 880.1 C653.8 881.5 655.9 884.9 657.6 884.9 C659.3 884.9 660.7 881.5 662.3 880.1 C663.9 878.7 665.4 877.3 667.1 876.3 C668.9 875.3 670.9 874 672.8 874 C674.7 874 676.8 875 678.5 876.3 C680.2 877.6 681.7 880.6 683.3 882 C684.9 883.4 686.3 885.1 688 884.5 C689.7 883.9 692 880 693.7 878.2 C695.5 876.4 696.9 874.8 698.5 873.5 C700.1 872.2 701.6 870.5 703.2 870.6 C704.8 870.8 706.2 872.2 708 874.4 C709.8 876.6 711.8 882.7 713.7 883.9 C715.6 885.1 717.5 884.1 719.4 881.6 C721.3 879.1 723.5 872.8 725.1 869.1 C726.8 865.4 727.6 861.3 729.3 859.2 C730.9 857.1 733.2 856.1 735 856.3 C736.8 856.4 738.7 857.7 740.3 860.1 C741.9 862.5 743.1 868.9 744.7 870.6 C746.4 872.3 748.4 873.4 750.2 870.2 C752 867 753.7 858 755.5 851.6 C757.3 845.2 759.1 837.5 760.9 831.6 C762.6 825.7 764.3 819.9 766 816.4 C767.7 812.9 769.4 810.2 771.1 810.7 C772.9 811.2 774.8 815.1 776.5 819.2 C778.2 823.3 779.9 829.9 781.6 835.4 C783.3 840.9 784.9 849.9 786.6 852.5 C788.4 855.1 790.3 855 792.1 851.2 C793.9 847.4 795.7 836.8 797.4 829.7 C799.1 822.6 800.8 815 802.5 808.8 C804.2 802.6 806.1 797.7 807.9 792.6 C809.6 787.5 811.3 783.7 813 778.3 C814.7 772.9 816.5 768.1 818.3 760.3 C820 752.5 821.8 741.9 823.5 731.7 C825.2 721.6 827.1 709.9 828.8 699.4 C830.5 688.9 832.2 677.6 833.9 669 C835.6 660.4 837.2 652.1 838.9 648 C840.6 643.9 842.3 642.6 844 644.2 C845.7 645.8 847.5 650.2 849.3 657.6 C851 665 852.8 676.1 854.5 688.4 C856.2 700.7 857.9 716.2 859.6 731.4 C861.3 746.5 862.8 763.8 864.5 779.3 C866.2 794.8 868 811.8 869.7 824.6 C871.4 837.4 873.1 850.5 874.8 856.3 C876.4 862.1 877.9 860.3 879.6 859.6 C881.3 858.9 883.1 853.3 884.9 852 C886.7 850.7 888.5 850.8 890.2 852 C892 853.2 893.7 856.7 895.4 859.2 C897.1 861.7 898.8 864.7 900.5 866.8 C902.2 868.9 904 871.4 905.8 871.8 C907.6 872.2 909.5 870 911.2 869.1 C913 868.2 914.7 866.6 916.3 866.5 C917.9 866.4 919.3 867.5 921 868.7 C922.7 869.9 924.5 871.9 926.4 873.5 C928.3 875.1 930.4 877.6 932.3 878.2 C934.2 878.8 936.1 877.9 938 877.3 C939.9 876.7 941.8 874.7 943.7 874.4 C945.6 874.1 947.5 874.8 949.4 875.4 C951.3 876 952.6 877.1 955.1 878.2 C957.6 879.3 961.4 881.8 964.6 882 C967.8 882.2 970.9 879.4 974.1 879.2 C977.3 879.1 980.4 880.4 983.6 881.1 C986.8 881.8 988.4 882.9 993.2 883.5 C998 884.1 1005.9 884.5 1012.2 884.9 C1018.5 885.3 1024.9 885.5 1031.2 885.8 C1037.5 886.1 1043.9 886.5 1050.2 886.8 C1056.5 887 1062.9 887.1 1069.2 887.3 C1075.5 887.4 1082 887.6 1088.3 887.7 C1094.6 887.8 1101 888 1107.3 888.1 C1113.6 888.2 1119.5 888.4 1126.3 888.5 C1133.1 888.6 1144.3 888.7 1147.9 888.7" fill="none" stroke="#c9211d" stroke-width="2.6" stroke-linejoin="round"/>
<g fill="#fff" fill-opacity="0.74" stroke="#c9211d" stroke-width="1.8"><circle cx="642.6" cy="873" r="5.7"/><circle cx="647.8" cy="877.4" r="5.7"/><circle cx="652.9" cy="881" r="5.7"/><circle cx="658.1" cy="884.8" r="5.7"/><circle cx="663.3" cy="879.2" r="5.7"/><circle cx="668.5" cy="875.5" r="5.7"/><circle cx="673.6" cy="874.1" r="5.7"/><circle cx="678.8" cy="876.5" r="5.7"/><circle cx="684" cy="882.6" r="5.7"/><circle cx="689.1" cy="883.8" r="5.7"/><circle cx="694.3" cy="877.6" r="5.7"/><circle cx="699.5" cy="872.7" r="5.7"/><circle cx="704.7" cy="871.1" r="5.7"/><circle cx="709.8" cy="877.5" r="5.7"/><circle cx="715" cy="884.4" r="5.7"/><circle cx="720.2" cy="880.4" r="5.7"/><circle cx="725.3" cy="868.5" r="5.7"/><circle cx="730.5" cy="857.9" r="5.7"/><circle cx="735.7" cy="856.4" r="5.7"/><circle cx="740.9" cy="861.1" r="5.7"/><circle cx="746" cy="871.7" r="5.7"/><circle cx="751.2" cy="867.9" r="5.7"/><circle cx="756.4" cy="848.4" r="5.7"/><circle cx="761.5" cy="829.5" r="5.7"/><circle cx="766.7" cy="815" r="5.7"/><circle cx="771.9" cy="811.1" r="5.7"/><circle cx="777" cy="820.6" r="5.7"/><circle cx="782.2" cy="837.6" r="5.7"/><circle cx="787.4" cy="853.5" r="5.7"/><circle cx="792.6" cy="850.1" r="5.7"/><circle cx="797.7" cy="828.3" r="5.7"/><circle cx="802.9" cy="807.4" r="5.7"/><circle cx="808.1" cy="792.1" r="5.7"/><circle cx="813.2" cy="777.5" r="5.7"/><circle cx="818.4" cy="759.8" r="5.7"/><circle cx="823.6" cy="731.2" r="5.7"/><circle cx="828.8" cy="699.6" r="5.7"/><circle cx="833.9" cy="668.8" r="5.7"/><circle cx="839.1" cy="647.5" r="5.7"/><circle cx="844.3" cy="644.5" r="5.7"/><circle cx="849.4" cy="658.2" r="5.7"/><circle cx="854.6" cy="689.2" r="5.7"/><circle cx="859.8" cy="733.1" r="5.7"/><circle cx="865" cy="783.5" r="5.7"/><circle cx="870.1" cy="827.8" r="5.7"/><circle cx="875.3" cy="857.8" r="5.7"/><circle cx="880.5" cy="858.9" r="5.7"/><circle cx="885.6" cy="851.5" r="5.7"/><circle cx="890.8" cy="852.5" r="5.7"/><circle cx="896" cy="860.1" r="5.7"/><circle cx="901.2" cy="867.6" r="5.7"/><circle cx="906.3" cy="871.8" r="5.7"/><circle cx="911.5" cy="868.9" r="5.7"/><circle cx="916.7" cy="866.5" r="5.7"/><circle cx="921.8" cy="869.3" r="5.7"/><circle cx="927" cy="874" r="5.7"/><circle cx="932.2" cy="878.2" r="5.7"/><circle cx="937.4" cy="877.5" r="5.7"/><circle cx="942.5" cy="874.8" r="5.7"/><circle cx="947.7" cy="874.8" r="5.7"/><circle cx="952.9" cy="877.1" r="5.7"/><circle cx="958" cy="879.6" r="5.7"/><circle cx="963.2" cy="881.8" r="5.7"/><circle cx="968.4" cy="881.1" r="5.7"/><circle cx="973.6" cy="879.3" r="5.7"/><circle cx="978.7" cy="879.8" r="5.7"/><circle cx="983.9" cy="881.2" r="5.7"/><circle cx="989.1" cy="882.6" r="5.7"/><circle cx="994.2" cy="883.6" r="5.7"/><circle cx="999.4" cy="884.1" r="5.7"/><circle cx="1004.6" cy="884.5" r="5.7"/><circle cx="1009.7" cy="884.8" r="5.7"/><circle cx="1014.9" cy="885.1" r="5.7"/><circle cx="1020.1" cy="885.3" r="5.7"/><circle cx="1025.3" cy="885.5" r="5.7"/><circle cx="1030.4" cy="885.8" r="5.7"/><circle cx="1035.6" cy="886" r="5.7"/><circle cx="1040.8" cy="886.3" r="5.7"/><circle cx="1045.9" cy="886.6" r="5.7"/><circle cx="1051.1" cy="886.8" r="5.7"/><circle cx="1056.3" cy="887" r="5.7"/><circle cx="1061.5" cy="887.1" r="5.7"/><circle cx="1066.6" cy="887.2" r="5.7"/><circle cx="1071.8" cy="887.4" r="5.7"/><circle cx="1077" cy="887.5" r="5.7"/><circle cx="1082.1" cy="887.6" r="5.7"/><circle cx="1087.3" cy="887.7" r="5.7"/><circle cx="1092.5" cy="887.8" r="5.7"/><circle cx="1097.7" cy="887.9" r="5.7"/><circle cx="1102.8" cy="888" r="5.7"/><circle cx="1108" cy="888.1" r="5.7"/><circle cx="1113.2" cy="888.2" r="5.7"/><circle cx="1118.3" cy="888.3" r="5.7"/><circle cx="1123.5" cy="888.5" r="5.7"/><circle cx="1128.7" cy="888.5" r="5.7"/><circle cx="1133.9" cy="888.6" r="5.7"/><circle cx="1139" cy="888.6" r="5.7"/><circle cx="1144.2" cy="888.7" r="5.7"/></g>
<path d="M642.6 1172 C643.2 1172.1 643.9 1172.2 646.2 1172.4 C648.5 1172.7 653.1 1173.4 656.6 1173.5 C660.1 1173.6 663.6 1173.6 667.1 1173 C670.6 1172.4 674.6 1170.2 677.6 1170.1 C680.6 1170 682.7 1171.8 685.2 1172.4 C687.7 1173 690.6 1174.1 692.8 1173.9 C695 1173.7 696.6 1172 698.5 1171.1 C700.4 1170.2 702.3 1168.6 704.2 1168.6 C706.1 1168.6 708.2 1170.2 709.9 1171.1 C711.6 1172 713 1174.4 714.6 1173.9 C716.2 1173.4 717.8 1170.7 719.4 1168.2 C721 1165.7 722.8 1161.6 724.5 1158.7 C726.2 1155.8 728.1 1152.6 729.9 1150.7 C731.7 1148.8 733.5 1148.1 735.2 1147.3 C736.9 1146.5 738.5 1146.5 740.3 1146 C742 1145.5 744 1145.8 745.7 1144.4 C747.5 1143 749.1 1141.1 750.8 1137.8 C752.5 1134.5 754.1 1128.9 755.9 1124.5 C757.6 1120.1 759.6 1114.5 761.3 1111.2 C763 1107.9 764.5 1105.2 766.2 1104.5 C767.9 1103.8 769.9 1104.6 771.7 1107.3 C773.5 1110 775.2 1115 776.9 1120.7 C778.6 1126.4 780.1 1136.7 781.8 1141.6 C783.5 1146.5 785.1 1152.6 786.9 1150.1 C788.6 1147.6 790.5 1135.3 792.3 1126.4 C794 1117.5 795.7 1105.8 797.4 1096.9 C799.1 1088 800.8 1079.6 802.5 1073.1 C804.2 1066.6 806.1 1062.3 807.9 1057.9 C809.6 1053.5 811.3 1050.8 813 1046.5 C814.7 1042.2 816.5 1038.1 818.3 1032.2 C820 1026.3 821.8 1018.8 823.5 1011.3 C825.2 1003.8 827.1 995 828.8 987.5 C830.5 980 832.2 972.1 833.9 966.6 C835.6 961.1 837.5 955.8 839.2 954.2 C841 952.6 842.6 953.3 844.4 957.1 C846.1 960.9 848 968.3 849.7 977 C851.4 985.7 853.1 997.2 854.8 1009.4 C856.5 1021.6 858.1 1036.3 859.8 1050.3 C861.5 1064.2 863.2 1079.5 864.9 1093.1 C866.6 1106.7 868.4 1120.5 870.1 1132.1 C871.8 1143.7 873.4 1156.2 875 1162.5 C876.6 1168.8 878 1169.9 879.6 1170.1 C881.2 1170.3 883.1 1164.8 884.9 1163.5 C886.7 1162.2 888.5 1161.4 890.2 1162 C892 1162.6 893.7 1165.5 895.4 1167.3 C897.1 1169 898.8 1172.2 900.5 1172.5 C902.2 1172.8 904 1170.5 905.8 1169.2 C907.6 1168 909.5 1165.8 911.2 1165 C913 1164.2 914.6 1164.1 916.3 1164.5 C918 1164.9 919.6 1166.1 921.3 1167.3 C923 1168.5 924.8 1170.3 926.6 1171.6 C928.4 1172.9 930 1174.8 931.9 1174.9 C933.8 1175 936 1173 938 1172.4 C940 1171.8 941.8 1171 943.7 1171.1 C945.6 1171.2 946.9 1172.2 949.4 1173 C951.9 1173.8 954.8 1175.4 958.9 1175.8 C963 1176.2 968.4 1175.3 974.1 1175.4 C979.8 1175.5 986.9 1175.9 993.2 1176.2 C999.6 1176.5 1002.7 1176.8 1012.2 1177 C1021.7 1177.2 1037.5 1177.5 1050.2 1177.7 C1062.9 1177.9 1072 1178 1088.3 1178.1 C1104.6 1178.2 1138 1178.3 1147.9 1178.3" fill="none" stroke="#e3b83f" stroke-width="2.6" stroke-linejoin="round"/>
<g fill="#fff" fill-opacity="0.74" stroke="#e3b83f" stroke-width="1.8"><circle cx="642.6" cy="1172" r="5.7"/><circle cx="647.8" cy="1172.6" r="5.7"/><circle cx="652.9" cy="1173.2" r="5.7"/><circle cx="658.1" cy="1173.5" r="5.7"/><circle cx="663.3" cy="1173.4" r="5.7"/><circle cx="668.5" cy="1172.7" r="5.7"/><circle cx="673.6" cy="1170.9" r="5.7"/><circle cx="678.8" cy="1170.2" r="5.7"/><circle cx="684" cy="1172" r="5.7"/><circle cx="689.1" cy="1173.5" r="5.7"/><circle cx="694.3" cy="1173.5" r="5.7"/><circle cx="699.5" cy="1170.6" r="5.7"/><circle cx="704.7" cy="1168.6" r="5.7"/><circle cx="709.8" cy="1171.1" r="5.7"/><circle cx="715" cy="1173.7" r="5.7"/><circle cx="720.2" cy="1166.9" r="5.7"/><circle cx="725.3" cy="1157.3" r="5.7"/><circle cx="730.5" cy="1150.1" r="5.7"/><circle cx="735.7" cy="1147.1" r="5.7"/><circle cx="740.9" cy="1145.9" r="5.7"/><circle cx="746" cy="1144.1" r="5.7"/><circle cx="751.2" cy="1137" r="5.7"/><circle cx="756.4" cy="1123.3" r="5.7"/><circle cx="761.5" cy="1110.7" r="5.7"/><circle cx="766.7" cy="1104.3" r="5.7"/><circle cx="771.9" cy="1107.6" r="5.7"/><circle cx="777" cy="1121.2" r="5.7"/><circle cx="782.2" cy="1142.8" r="5.7"/><circle cx="787.4" cy="1149.2" r="5.7"/><circle cx="792.6" cy="1125" r="5.7"/><circle cx="797.7" cy="1095.2" r="5.7"/><circle cx="802.9" cy="1071.6" r="5.7"/><circle cx="808.1" cy="1057.5" r="5.7"/><circle cx="813.2" cy="1045.9" r="5.7"/><circle cx="818.4" cy="1031.8" r="5.7"/><circle cx="823.6" cy="1010.9" r="5.7"/><circle cx="828.8" cy="987.7" r="5.7"/><circle cx="833.9" cy="966.5" r="5.7"/><circle cx="839.1" cy="954.3" r="5.7"/><circle cx="844.3" cy="956.8" r="5.7"/><circle cx="849.4" cy="975.7" r="5.7"/><circle cx="854.6" cy="1008.1" r="5.7"/><circle cx="859.8" cy="1050.2" r="5.7"/><circle cx="865" cy="1093.6" r="5.7"/><circle cx="870.1" cy="1132.3" r="5.7"/><circle cx="875.3" cy="1163.6" r="5.7"/><circle cx="880.5" cy="1169.8" r="5.7"/><circle cx="885.6" cy="1163" r="5.7"/><circle cx="890.8" cy="1162.3" r="5.7"/><circle cx="896" cy="1167.9" r="5.7"/><circle cx="901.2" cy="1172.5" r="5.7"/><circle cx="906.3" cy="1168.8" r="5.7"/><circle cx="911.5" cy="1164.9" r="5.7"/><circle cx="916.7" cy="1164.6" r="5.7"/><circle cx="921.8" cy="1167.7" r="5.7"/><circle cx="927" cy="1171.9" r="5.7"/><circle cx="932.2" cy="1174.9" r="5.7"/><circle cx="937.4" cy="1172.6" r="5.7"/><circle cx="942.5" cy="1171.1" r="5.7"/><circle cx="947.7" cy="1172.4" r="5.7"/><circle cx="952.9" cy="1174.2" r="5.7"/><circle cx="958" cy="1175.7" r="5.7"/><circle cx="963.2" cy="1175.9" r="5.7"/><circle cx="968.4" cy="1175.6" r="5.7"/><circle cx="973.6" cy="1175.4" r="5.7"/><circle cx="978.7" cy="1175.5" r="5.7"/><circle cx="983.9" cy="1175.7" r="5.7"/><circle cx="989.1" cy="1176" r="5.7"/><circle cx="994.2" cy="1176.2" r="5.7"/><circle cx="999.4" cy="1176.5" r="5.7"/><circle cx="1004.6" cy="1176.7" r="5.7"/><circle cx="1009.7" cy="1176.9" r="5.7"/><circle cx="1014.9" cy="1177.1" r="5.7"/><circle cx="1020.1" cy="1177.2" r="5.7"/><circle cx="1025.3" cy="1177.3" r="5.7"/><circle cx="1030.4" cy="1177.4" r="5.7"/><circle cx="1035.6" cy="1177.5" r="5.7"/><circle cx="1040.8" cy="1177.6" r="5.7"/><circle cx="1045.9" cy="1177.6" r="5.7"/><circle cx="1051.1" cy="1177.7" r="5.7"/><circle cx="1056.3" cy="1177.8" r="5.7"/><circle cx="1061.5" cy="1177.9" r="5.7"/><circle cx="1066.6" cy="1177.9" r="5.7"/><circle cx="1071.8" cy="1178" r="5.7"/><circle cx="1077" cy="1178" r="5.7"/><circle cx="1082.1" cy="1178.1" r="5.7"/><circle cx="1087.3" cy="1178.1" r="5.7"/><circle cx="1092.5" cy="1178.1" r="5.7"/><circle cx="1097.7" cy="1178.1" r="5.7"/><circle cx="1102.8" cy="1178.2" r="5.7"/><circle cx="1108" cy="1178.2" r="5.7"/><circle cx="1113.2" cy="1178.2" r="5.7"/><circle cx="1118.3" cy="1178.2" r="5.7"/><circle cx="1123.5" cy="1178.2" r="5.7"/><circle cx="1128.7" cy="1178.2" r="5.7"/><circle cx="1133.9" cy="1178.3" r="5.7"/><circle cx="1139" cy="1178.3" r="5.7"/><circle cx="1144.2" cy="1178.3" r="5.7"/></g>
<path d="M642.6 1455.4 C643.4 1454.6 645.6 1452.2 647.1 1450.6 C648.6 1449 650.1 1446.8 651.9 1445.8 C653.6 1444.8 655.9 1444.4 657.6 1444.9 C659.3 1445.4 660.6 1447.1 662.3 1448.7 C663.9 1450.3 665.8 1453.9 667.5 1454.4 C669.2 1454.9 671.1 1453 672.8 1451.6 C674.5 1450.2 676.1 1447.2 677.9 1445.8 C679.6 1444.4 681.5 1443.2 683.3 1443.4 C685.1 1443.6 686.9 1445.3 688.6 1446.8 C690.3 1448.3 692 1451.7 693.7 1452.5 C695.4 1453.3 697.2 1452.9 698.9 1451.6 C700.6 1450.3 702.1 1446.8 703.8 1444.9 C705.5 1443 707.2 1440.6 708.9 1440.1 C710.5 1439.6 712 1440.6 713.7 1442 C715.5 1443.4 717.6 1447.4 719.4 1448.7 C721.2 1450 723 1451.5 724.7 1449.7 C726.5 1448 728.1 1441.9 729.9 1438.2 C731.6 1434.5 733.5 1430.5 735.2 1427.8 C736.9 1425.1 738.6 1422.6 740.3 1422.1 C741.9 1421.6 743.5 1423.2 745.1 1424.9 C746.8 1426.6 748.5 1430.8 750.2 1432.5 C751.9 1434.2 753.7 1437.3 755.5 1435.4 C757.3 1433.5 759.1 1426.5 760.9 1421.1 C762.7 1415.7 764.5 1407.9 766.2 1403 C767.9 1398.1 769.6 1393.6 771.3 1391.6 C773 1389.5 774.8 1389.1 776.5 1390.7 C778.2 1392.3 780.1 1396 781.8 1401.1 C783.5 1406.2 785.2 1415.5 786.9 1421.1 C788.6 1426.6 790.4 1435.4 792.1 1434.4 C793.9 1433.5 795.7 1422.9 797.4 1415.4 C799.1 1408 800.8 1397.5 802.5 1389.7 C804.2 1381.9 806.1 1375.1 807.9 1368.8 C809.6 1362.5 811.3 1357.8 813 1351.7 C814.7 1345.6 816.5 1339.7 818.3 1332.3 C820 1324.9 821.8 1316.6 823.5 1307.6 C825.2 1298.6 826.9 1287.9 828.6 1278.5 C830.3 1269.1 832 1258.6 833.7 1251.3 C835.4 1244 837.2 1237.8 838.9 1234.7 C840.6 1231.6 842.3 1230.4 844 1232.8 C845.7 1235.2 847.5 1241 849.3 1249 C851 1257 852.8 1268.7 854.5 1280.9 C856.2 1293.1 857.9 1307.9 859.6 1322.2 C861.3 1336.5 863 1353.1 864.7 1366.9 C866.4 1380.7 868.2 1395.3 869.9 1405 C871.6 1414.7 873.4 1421.9 875 1424.9 C876.6 1427.9 878.1 1423.8 879.8 1422.8 C881.4 1421.8 883.2 1419.2 884.9 1419.2 C886.6 1419.2 888.5 1421 890.2 1423 C892 1425 893.7 1428.8 895.4 1431.2 C897.1 1433.6 898.8 1436.2 900.5 1437.3 C902.2 1438.3 904 1437.8 905.8 1437.5 C907.6 1437.2 909.5 1435.8 911.2 1435.6 C913 1435.3 914.6 1435.4 916.3 1436 C918 1436.6 919.6 1438.1 921.3 1439.2 C923 1440.3 924.8 1441.8 926.6 1442.6 C928.4 1443.4 930.4 1443.8 932.3 1443.9 C934.2 1444 936.1 1443 938 1443 C939.9 1443 941.5 1443.3 943.7 1443.9 C945.9 1444.5 948.8 1445.9 951.3 1446.4 C953.8 1446.9 956.4 1446.9 958.9 1446.8 C961.4 1446.7 964 1445.8 966.5 1445.8 C969 1445.8 969.6 1446.2 974.1 1446.8 C978.6 1447.3 986.9 1448.5 993.2 1449.1 C999.6 1449.7 1005.9 1450.2 1012.2 1450.6 C1018.5 1451 1024.9 1451.3 1031.2 1451.6 C1037.5 1451.8 1040.7 1451.8 1050.2 1452.1 C1059.7 1452.4 1072 1453 1088.3 1453.5 C1104.6 1454 1138 1454.6 1147.9 1454.8" fill="none" stroke="#4a86b0" stroke-width="2.6" stroke-linejoin="round"/>
<g fill="#fff" fill-opacity="0.74" stroke="#4a86b0" stroke-width="1.8"><circle cx="642.6" cy="1455.4" r="5.7"/><circle cx="647.8" cy="1449.9" r="5.7"/><circle cx="652.9" cy="1445.3" r="5.7"/><circle cx="658.1" cy="1445.1" r="5.7"/><circle cx="663.3" cy="1449.8" r="5.7"/><circle cx="668.5" cy="1454.5" r="5.7"/><circle cx="673.6" cy="1450.8" r="5.7"/><circle cx="678.8" cy="1445.1" r="5.7"/><circle cx="684" cy="1443.5" r="5.7"/><circle cx="689.1" cy="1447.3" r="5.7"/><circle cx="694.3" cy="1452.7" r="5.7"/><circle cx="699.5" cy="1451.1" r="5.7"/><circle cx="704.7" cy="1443.9" r="5.7"/><circle cx="709.8" cy="1440" r="5.7"/><circle cx="715" cy="1443.4" r="5.7"/><circle cx="720.2" cy="1449.2" r="5.7"/><circle cx="725.3" cy="1448.9" r="5.7"/><circle cx="730.5" cy="1436.9" r="5.7"/><circle cx="735.7" cy="1427.1" r="5.7"/><circle cx="740.9" cy="1422" r="5.7"/><circle cx="746" cy="1426.1" r="5.7"/><circle cx="751.2" cy="1433.6" r="5.7"/><circle cx="756.4" cy="1434.1" r="5.7"/><circle cx="761.5" cy="1419.1" r="5.7"/><circle cx="766.7" cy="1401.6" r="5.7"/><circle cx="771.9" cy="1391" r="5.7"/><circle cx="777" cy="1391.3" r="5.7"/><circle cx="782.2" cy="1402.4" r="5.7"/><circle cx="787.4" cy="1422.8" r="5.7"/><circle cx="792.6" cy="1433.9" r="5.7"/><circle cx="797.7" cy="1413.9" r="5.7"/><circle cx="802.9" cy="1387.9" r="5.7"/><circle cx="808.1" cy="1368.2" r="5.7"/><circle cx="813.2" cy="1350.8" r="5.7"/><circle cx="818.4" cy="1331.8" r="5.7"/><circle cx="823.6" cy="1307.1" r="5.7"/><circle cx="828.8" cy="1277.6" r="5.7"/><circle cx="833.9" cy="1250.3" r="5.7"/><circle cx="839.1" cy="1234.3" r="5.7"/><circle cx="844.3" cy="1233.2" r="5.7"/><circle cx="849.4" cy="1249.7" r="5.7"/><circle cx="854.6" cy="1281.7" r="5.7"/><circle cx="859.8" cy="1323.8" r="5.7"/><circle cx="865" cy="1369" r="5.7"/><circle cx="870.1" cy="1406.3" r="5.7"/><circle cx="875.3" cy="1425.4" r="5.7"/><circle cx="880.5" cy="1422.3" r="5.7"/><circle cx="885.6" cy="1419.3" r="5.7"/><circle cx="890.8" cy="1423.8" r="5.7"/><circle cx="896" cy="1432" r="5.7"/><circle cx="901.2" cy="1437.6" r="5.7"/><circle cx="906.3" cy="1437.4" r="5.7"/><circle cx="911.5" cy="1435.6" r="5.7"/><circle cx="916.7" cy="1436.1" r="5.7"/><circle cx="921.8" cy="1439.6" r="5.7"/><circle cx="927" cy="1442.8" r="5.7"/><circle cx="932.2" cy="1443.9" r="5.7"/><circle cx="937.4" cy="1443" r="5.7"/><circle cx="942.5" cy="1443.6" r="5.7"/><circle cx="947.7" cy="1445.3" r="5.7"/><circle cx="952.9" cy="1446.6" r="5.7"/><circle cx="958" cy="1446.8" r="5.7"/><circle cx="963.2" cy="1446.2" r="5.7"/><circle cx="968.4" cy="1445.9" r="5.7"/><circle cx="973.6" cy="1446.7" r="5.7"/><circle cx="978.7" cy="1447.4" r="5.7"/><circle cx="983.9" cy="1448" r="5.7"/><circle cx="989.1" cy="1448.7" r="5.7"/><circle cx="994.2" cy="1449.2" r="5.7"/><circle cx="999.4" cy="1449.7" r="5.7"/><circle cx="1004.6" cy="1450.1" r="5.7"/><circle cx="1009.7" cy="1450.4" r="5.7"/><circle cx="1014.9" cy="1450.8" r="5.7"/><circle cx="1020.1" cy="1451.1" r="5.7"/><circle cx="1025.3" cy="1451.3" r="5.7"/><circle cx="1030.4" cy="1451.6" r="5.7"/><circle cx="1035.6" cy="1451.7" r="5.7"/><circle cx="1040.8" cy="1451.9" r="5.7"/><circle cx="1045.9" cy="1452" r="5.7"/><circle cx="1051.1" cy="1452.1" r="5.7"/><circle cx="1056.3" cy="1452.3" r="5.7"/><circle cx="1061.5" cy="1452.5" r="5.7"/><circle cx="1066.6" cy="1452.7" r="5.7"/><circle cx="1071.8" cy="1452.9" r="5.7"/><circle cx="1077" cy="1453.1" r="5.7"/><circle cx="1082.1" cy="1453.3" r="5.7"/><circle cx="1087.3" cy="1453.5" r="5.7"/><circle cx="1092.5" cy="1453.6" r="5.7"/><circle cx="1097.7" cy="1453.7" r="5.7"/><circle cx="1102.8" cy="1453.9" r="5.7"/><circle cx="1108" cy="1454" r="5.7"/><circle cx="1113.2" cy="1454.1" r="5.7"/><circle cx="1118.3" cy="1454.2" r="5.7"/><circle cx="1123.5" cy="1454.3" r="5.7"/><circle cx="1128.7" cy="1454.4" r="5.7"/><circle cx="1133.9" cy="1454.5" r="5.7"/><circle cx="1139" cy="1454.6" r="5.7"/><circle cx="1144.2" cy="1454.7" r="5.7"/></g>
</g>
<rect x="642.6" y="620.2" width="505.3" height="868.8" fill="none" stroke="#000" stroke-width="3.3"/>
<path d="M642.6 909 H1147.9 M642.6 1198.9 H1147.9" stroke="#000" stroke-width="3.1" fill="none"/>
<path d="M642.6 1489 V1495.6" stroke="#000" stroke-width="3.1"/>
<text x="642.6" y="1521.2" font-size="27.2" font-weight="bold" text-anchor="middle" fill="#000" >0</text>
<path d="M684.7 1489 V1492.8" stroke="#000" stroke-width="2.6"/>
<path d="M726.8 1489 V1495.6" stroke="#000" stroke-width="3.1"/>
<text x="726.8" y="1521.2" font-size="27.2" font-weight="bold" text-anchor="middle" fill="#000" >1</text>
<path d="M768.9 1489 V1492.8" stroke="#000" stroke-width="2.6"/>
<path d="M811 1489 V1495.6" stroke="#000" stroke-width="3.1"/>
<text x="811" y="1521.2" font-size="27.2" font-weight="bold" text-anchor="middle" fill="#000" >2</text>
<path d="M853.1 1489 V1492.8" stroke="#000" stroke-width="2.6"/>
<path d="M895.3 1489 V1495.6" stroke="#000" stroke-width="3.1"/>
<text x="895.3" y="1521.2" font-size="27.2" font-weight="bold" text-anchor="middle" fill="#000" >3</text>
<path d="M937.4 1489 V1492.8" stroke="#000" stroke-width="2.6"/>
<path d="M979.5 1489 V1495.6" stroke="#000" stroke-width="3.1"/>
<text x="979.5" y="1521.2" font-size="27.2" font-weight="bold" text-anchor="middle" fill="#000" >4</text>
<path d="M1021.6 1489 V1492.8" stroke="#000" stroke-width="2.6"/>
<path d="M1063.7 1489 V1495.6" stroke="#000" stroke-width="3.1"/>
<text x="1063.7" y="1521.2" font-size="27.2" font-weight="bold" text-anchor="middle" fill="#000" >5</text>
<path d="M1105.8 1489 V1492.8" stroke="#000" stroke-width="2.6"/>
<path d="M1147.9 1489 V1495.6" stroke="#000" stroke-width="3.1"/>
<text x="1147.9" y="1521.2" font-size="27.2" font-weight="bold" text-anchor="middle" fill="#000" >6</text>
<text x="907.4" y="1553.7" font-size="34.6" font-weight="bold" text-anchor="middle" fill="#000" >R (Å)</text>
<text transform="translate(603.2 1057) rotate(-90)" font-size="34" font-weight="bold" text-anchor="middle" textLength="259.5" lengthAdjust="spacingAndGlyphs">|FT(k<tspan font-size="22" dy="-12.5">3</tspan><tspan dy="12.5" font-weight="normal" font-size="40" class="ser">χ</tspan>(k))| (Å<tspan font-size="22" dy="-13.5">-4</tspan><tspan dy="13.5">)</tspan></text>
<path d="M927 635.7 H970.3" stroke="#8a8a8a" stroke-width="2.6" fill="none"/>
<path d="M927 669.9 H970.3" stroke="#c9211d" stroke-width="2.3" fill="none"/>
<circle cx="948.8" cy="669.9" r="5.7" fill="#fff" fill-opacity="0.8" stroke="#c9211d" stroke-width="1.8"/>
<text x="977" y="643.9" font-size="22.6" font-weight="bold" text-anchor="start" fill="#000" textLength="167.4" lengthAdjust="spacingAndGlyphs">Fe<tspan font-size="14.5" dy="5.6">SA</tspan><tspan dy="-5.6">Ru</tspan><tspan font-size="14.5" dy="5.6">AC</tspan><tspan dy="-5.6">@NCB</tspan></text>
<text x="977" y="677" font-size="22.6" font-weight="bold" text-anchor="start" fill="#000" textLength="68.5" lengthAdjust="spacingAndGlyphs">Fitting</text>
<path d="M931.9 928.5 H966.5" stroke="#8a8a8a" stroke-width="2.6" fill="none"/>
<path d="M931.9 961.8 H966.5" stroke="#e3b83f" stroke-width="2.3" fill="none"/>
<circle cx="949" cy="961.8" r="5.7" fill="#fff" fill-opacity="0.8" stroke="#e3b83f" stroke-width="1.8"/>
<text x="973.2" y="933.9" font-size="22.6" font-weight="bold" text-anchor="start" fill="#000" textLength="171.2" lengthAdjust="spacingAndGlyphs">Co<tspan font-size="14.5" dy="5.6">SA</tspan><tspan dy="-5.6">Ru</tspan><tspan font-size="14.5" dy="5.6">AC</tspan><tspan dy="-5.6">@NCB</tspan></text>
<text x="973.2" y="967.5" font-size="22.6" font-weight="bold" text-anchor="start" fill="#000" textLength="68.5" lengthAdjust="spacingAndGlyphs">Fitting</text>
<path d="M938.9 1216.3 H974.1" stroke="#8a8a8a" stroke-width="2.6" fill="none"/>
<path d="M938.9 1250.5 H974.1" stroke="#4a86b0" stroke-width="2.3" fill="none"/>
<circle cx="956.6" cy="1250.5" r="5.7" fill="#fff" fill-opacity="0.8" stroke="#4a86b0" stroke-width="1.8"/>
<text x="980.2" y="1223.9" font-size="22.6" font-weight="bold" text-anchor="start" fill="#000" textLength="163.6" lengthAdjust="spacingAndGlyphs">Ni<tspan font-size="14.5" dy="5.6">SA</tspan><tspan dy="-5.6">Ru</tspan><tspan font-size="14.5" dy="5.6">AC</tspan><tspan dy="-5.6">@NCB</tspan></text>
<text x="980.2" y="1256.6" font-size="22.6" font-weight="bold" text-anchor="start" fill="#000" textLength="68.5" lengthAdjust="spacingAndGlyphs">Fitting</text>
<text x="888.5" y="733.3" font-size="20.3" font-weight="bold" text-anchor="start" fill="#c9211d" textLength="60.9" lengthAdjust="spacingAndGlyphs">Ru-Ru</text>
<text x="728.9" y="788.8" font-size="20.2" font-weight="bold" text-anchor="start" fill="#c9211d" textLength="48" lengthAdjust="spacingAndGlyphs">Ru-N</text>
<path d="M900.3 741.3 L888.5 771.5" stroke="#c9211d" stroke-width="1.6" fill="none"/>
<path d="M883.2 785 L884.6 770 L892.4 773 Z" fill="#c9211d"/>
<text x="866.8" y="988.5" font-size="20.3" font-weight="bold" text-anchor="start" fill="#e3b83f" textLength="60.9" lengthAdjust="spacingAndGlyphs">Ru-Ru</text>
<text x="728" y="1081.7" font-size="20.2" font-weight="bold" text-anchor="start" fill="#e3b83f" textLength="48" lengthAdjust="spacingAndGlyphs">Ru-N</text>
<path d="M893.5 1008.4 L880.8 1039.7" stroke="#e3b83f" stroke-width="1.6" fill="none"/>
<path d="M875.4 1053.1 L876.9 1038.1 L884.7 1041.2 Z" fill="#e3b83f"/>
<text x="874.4" y="1288.9" font-size="20.3" font-weight="bold" text-anchor="start" fill="#4a86b0" textLength="60.9" lengthAdjust="spacingAndGlyphs">Ru-Ru</text>
<text x="728" y="1342.2" font-size="20.2" font-weight="bold" text-anchor="start" fill="#4a86b0" textLength="48" lengthAdjust="spacingAndGlyphs">Ru-N</text>
<path d="M893.1 1301.9 L880.8 1332.5" stroke="#4a86b0" stroke-width="1.6" fill="none"/>
<path d="M875.4 1346 L876.9 1331 L884.7 1334.1 Z" fill="#4a86b0"/>
<g fill="none">
<path d="M933.8 784.2 L939.2 789.2" stroke="#9a9a9a" stroke-width="3" stroke-linecap="round"/>
<path d="M955.4 776 L960.2 781.8" stroke="#9a9a9a" stroke-width="3" stroke-linecap="round"/>
<path d="M976.4 767.6 L982.4 774.8" stroke="#9a9a9a" stroke-width="3" stroke-linecap="round"/>
<path d="M968.6 788.6 L974.6 795.8" stroke="#9a9a9a" stroke-width="3" stroke-linecap="round"/>
<path d="M1013 776 L1018.4 780.8" stroke="#9a9a9a" stroke-width="3" stroke-linecap="round"/>
<path d="M1030.4 766.4 L1037 773" stroke="#9a9a9a" stroke-width="3" stroke-linecap="round"/>
<path d="M1067.6 773.6 L1076 779.6" stroke="#9a9a9a" stroke-width="3" stroke-linecap="round"/>
<path d="M1089.2 785.6 L1094.6 793.4" stroke="#9a9a9a" stroke-width="3" stroke-linecap="round"/>
<path d="M1107.2 779.6 L1113.8 785" stroke="#9a9a9a" stroke-width="3" stroke-linecap="round"/>
<path d="M1046 804.8 L1051.4 811.4" stroke="#9a9a9a" stroke-width="3" stroke-linecap="round"/>
<path d="M933.8 784.2 L955.4 776" stroke="#9a9a9a" stroke-width="3" stroke-linecap="round"/>
<path d="M955.4 776 L976.4 767.6" stroke="#9a9a9a" stroke-width="3" stroke-linecap="round"/>
<path d="M976.4 767.6 L992.6 758.6" stroke="#9a9a9a" stroke-width="3" stroke-linecap="round"/>
<path d="M939.2 789.2 L968.6 788.6" stroke="#9a9a9a" stroke-width="3" stroke-linecap="round"/>
<path d="M960.2 781.8 L968.6 788.6" stroke="#9a9a9a" stroke-width="3" stroke-linecap="round"/>
<path d="M960.2 781.8 L988.4 782.6" stroke="#9a9a9a" stroke-width="3" stroke-linecap="round"/>
<path d="M982.4 774.8 L988.4 782.6" stroke="#9a9a9a" stroke-width="3" stroke-linecap="round"/>
<path d="M982.4 774.8 L1013 776" stroke="#9a9a9a" stroke-width="3" stroke-linecap="round"/>
<path d="M992.6 758.6 L1030.4 766.4" stroke="#9a9a9a" stroke-width="3" stroke-linecap="round"/>
<path d="M1013 776 L1037 773" stroke="#9a9a9a" stroke-width="3" stroke-linecap="round"/>
<path d="M1018.4 780.8 L1050.2 781.4" stroke="#9a9a9a" stroke-width="3" stroke-linecap="round"/>
<path d="M1037 773 L1067.6 773.6" stroke="#9a9a9a" stroke-width="3" stroke-linecap="round"/>
<path d="M1050.2 781.4 L1076 779.6" stroke="#9a9a9a" stroke-width="3" stroke-linecap="round"/>
<path d="M1076 779.6 L1089.2 785.6" stroke="#9a9a9a" stroke-width="3" stroke-linecap="round"/>
<path d="M1067.6 773.6 L1062.8 764" stroke="#9a9a9a" stroke-width="3" stroke-linecap="round"/>
<path d="M1030.4 766.4 L1062.8 764" stroke="#9a9a9a" stroke-width="3" stroke-linecap="round"/>
<path d="M1089.2 785.6 L1107.2 779.6" stroke="#9a9a9a" stroke-width="3" stroke-linecap="round"/>
<path d="M1094.6 793.4 L1113.8 785" stroke="#9a9a9a" stroke-width="3" stroke-linecap="round"/>
<path d="M1094.6 793.4 L1072.4 802.4" stroke="#9a9a9a" stroke-width="3" stroke-linecap="round"/>
<path d="M1072.4 802.4 L1046 804.8" stroke="#9a9a9a" stroke-width="3" stroke-linecap="round"/>
<path d="M1002.8 769.4 L1013 776" stroke="#9a9a9a" stroke-width="3" stroke-linecap="round"/>
<path d="M1002.8 769.4 L982.4 774.8" stroke="#9a9a9a" stroke-width="3" stroke-linecap="round"/>
<path d="M974.6 795.8 L1013 803.6" stroke="#9a9a9a" stroke-width="3" stroke-linecap="round"/>
<path d="M933.8 784.2 L939.2 789.2" stroke="#d2d2d2" stroke-width="1.9" stroke-linecap="round"/>
<path d="M955.4 776 L960.2 781.8" stroke="#d2d2d2" stroke-width="1.9" stroke-linecap="round"/>
<path d="M976.4 767.6 L982.4 774.8" stroke="#d2d2d2" stroke-width="1.9" stroke-linecap="round"/>
<path d="M968.6 788.6 L974.6 795.8" stroke="#d2d2d2" stroke-width="1.9" stroke-linecap="round"/>
<path d="M1013 776 L1018.4 780.8" stroke="#d2d2d2" stroke-width="1.9" stroke-linecap="round"/>
<path d="M1030.4 766.4 L1037 773" stroke="#d2d2d2" stroke-width="1.9" stroke-linecap="round"/>
<path d="M1067.6 773.6 L1076 779.6" stroke="#d2d2d2" stroke-width="1.9" stroke-linecap="round"/>
<path d="M1089.2 785.6 L1094.6 793.4" stroke="#d2d2d2" stroke-width="1.9" stroke-linecap="round"/>
<path d="M1107.2 779.6 L1113.8 785" stroke="#d2d2d2" stroke-width="1.9" stroke-linecap="round"/>
<path d="M1046 804.8 L1051.4 811.4" stroke="#d2d2d2" stroke-width="1.9" stroke-linecap="round"/>
<path d="M933.8 784.2 L955.4 776" stroke="#d2d2d2" stroke-width="1.9" stroke-linecap="round"/>
<path d="M955.4 776 L976.4 767.6" stroke="#d2d2d2" stroke-width="1.9" stroke-linecap="round"/>
<path d="M976.4 767.6 L992.6 758.6" stroke="#d2d2d2" stroke-width="1.9" stroke-linecap="round"/>
<path d="M939.2 789.2 L968.6 788.6" stroke="#d2d2d2" stroke-width="1.9" stroke-linecap="round"/>
<path d="M960.2 781.8 L968.6 788.6" stroke="#d2d2d2" stroke-width="1.9" stroke-linecap="round"/>
<path d="M960.2 781.8 L988.4 782.6" stroke="#d2d2d2" stroke-width="1.9" stroke-linecap="round"/>
<path d="M982.4 774.8 L988.4 782.6" stroke="#d2d2d2" stroke-width="1.9" stroke-linecap="round"/>
<path d="M982.4 774.8 L1013 776" stroke="#d2d2d2" stroke-width="1.9" stroke-linecap="round"/>
<path d="M992.6 758.6 L1030.4 766.4" stroke="#d2d2d2" stroke-width="1.9" stroke-linecap="round"/>
<path d="M1013 776 L1037 773" stroke="#d2d2d2" stroke-width="1.9" stroke-linecap="round"/>
<path d="M1018.4 780.8 L1050.2 781.4" stroke="#d2d2d2" stroke-width="1.9" stroke-linecap="round"/>
<path d="M1037 773 L1067.6 773.6" stroke="#d2d2d2" stroke-width="1.9" stroke-linecap="round"/>
<path d="M1050.2 781.4 L1076 779.6" stroke="#d2d2d2" stroke-width="1.9" stroke-linecap="round"/>
<path d="M1076 779.6 L1089.2 785.6" stroke="#d2d2d2" stroke-width="1.9" stroke-linecap="round"/>
<path d="M1067.6 773.6 L1062.8 764" stroke="#d2d2d2" stroke-width="1.9" stroke-linecap="round"/>
<path d="M1030.4 766.4 L1062.8 764" stroke="#d2d2d2" stroke-width="1.9" stroke-linecap="round"/>
<path d="M1089.2 785.6 L1107.2 779.6" stroke="#d2d2d2" stroke-width="1.9" stroke-linecap="round"/>
<path d="M1094.6 793.4 L1113.8 785" stroke="#d2d2d2" stroke-width="1.9" stroke-linecap="round"/>
<path d="M1094.6 793.4 L1072.4 802.4" stroke="#d2d2d2" stroke-width="1.9" stroke-linecap="round"/>
<path d="M1072.4 802.4 L1046 804.8" stroke="#d2d2d2" stroke-width="1.9" stroke-linecap="round"/>
<path d="M1002.8 769.4 L1013 776" stroke="#d2d2d2" stroke-width="1.9" stroke-linecap="round"/>
<path d="M1002.8 769.4 L982.4 774.8" stroke="#d2d2d2" stroke-width="1.9" stroke-linecap="round"/>
<path d="M974.6 795.8 L1013 803.6" stroke="#d2d2d2" stroke-width="1.9" stroke-linecap="round"/>
</g>
<circle cx="992.6" cy="758.6" r="5" fill="url(#gC)"/>
<circle cx="1062.8" cy="764" r="5" fill="url(#gC)"/>
<circle cx="1030.4" cy="766.4" r="5" fill="url(#gC)"/>
<circle cx="976.4" cy="767.6" r="5" fill="url(#gC)"/>
<circle cx="1002.8" cy="769.4" r="5" fill="url(#gC)"/>
<circle cx="1037" cy="773" r="5" fill="url(#gC)"/>
<circle cx="1067.6" cy="773.6" r="5" fill="url(#gC)"/>
<circle cx="982.4" cy="774.8" r="5" fill="url(#gC)"/>
<circle cx="955.4" cy="776" r="5" fill="url(#gC)"/>
<circle cx="1013" cy="776" r="5" fill="url(#gC)"/>
<circle cx="1076" cy="779.6" r="5" fill="url(#gC)"/>
<circle cx="1107.2" cy="779.6" r="5" fill="url(#gC)"/>
<circle cx="1018.4" cy="780.8" r="5" fill="url(#gC)"/>
<circle cx="1050.2" cy="781.4" r="5" fill="url(#gC)"/>
<circle cx="960.2" cy="781.8" r="5" fill="url(#gC)"/>
<circle cx="988.4" cy="782.6" r="5" fill="url(#gC)"/>
<g fill="none">
<path d="M994.4 788.6 L995.1 772.7" stroke="#2222c4" stroke-width="2.6" stroke-linecap="round"/>
<path d="M995.1 772.7 L995.8 756.8" stroke="#bb9088" stroke-width="2.6" stroke-linecap="round"/>
<path d="M1058 787.2 L1055 772" stroke="#2222c4" stroke-width="2.6" stroke-linecap="round"/>
<path d="M1055 772 L1052 756.8" stroke="#bb9088" stroke-width="2.6" stroke-linecap="round"/>
</g>
<circle cx="998.6" cy="743" r="10.6" fill="url(#gRu)"/>
<circle cx="1050.2" cy="741.2" r="10.6" fill="url(#gRu)"/>
<g fill="none">
<path d="M1002.8 701.6 L1056.2 700.4" stroke="#bb9088" stroke-width="2.6" stroke-linecap="round"/>
<path d="M1002.8 701.6 L998.6 743" stroke="#bb9088" stroke-width="2.6" stroke-linecap="round"/>
<path d="M1056.2 700.4 L1050.2 741.2" stroke="#bb9088" stroke-width="2.6" stroke-linecap="round"/>
<path d="M1056.2 700.4 L1088.6 743.6" stroke="#bb9088" stroke-width="2.6" stroke-linecap="round"/>
<path d="M1002.8 701.6 L976.4 746" stroke="#bb9088" stroke-width="2.6" stroke-linecap="round"/>
<path d="M998.6 743 L976.4 746" stroke="#bb9088" stroke-width="2.6" stroke-linecap="round"/>
<path d="M1050.2 741.2 L1088.6 743.6" stroke="#bb9088" stroke-width="2.6" stroke-linecap="round"/>
<path d="M998.6 743 L1050.2 741.2" stroke="#bb9088" stroke-width="2.6" stroke-linecap="round"/>
<path d="M1056.2 700.4 L1032.2 748.4" stroke="#bb9088" stroke-width="2.6" stroke-linecap="round"/>
<path d="M1038.2 713 L1050.2 741.2" stroke="#bb9088" stroke-width="2.6" stroke-linecap="round"/>
</g>
<circle cx="1002.8" cy="701.6" r="10.8" fill="url(#gRu)"/>
<circle cx="1056.2" cy="700.4" r="10.8" fill="url(#gRu)"/>
<g fill="none">
<path d="M1002.8 701.6 L1032.2 748.4" stroke="#bb9088" stroke-width="2.6" stroke-linecap="round"/>
<path d="M1002.8 701.6 L1009 758.6" stroke="#bb9088" stroke-width="2.6" stroke-linecap="round"/>
<path d="M1038.2 713 L1032.2 748.4" stroke="#bb9088" stroke-width="2.6" stroke-linecap="round"/>
<path d="M1038.2 713 L1009 758.6" stroke="#bb9088" stroke-width="2.6" stroke-linecap="round"/>
<path d="M1038.2 713 L1071 756.8" stroke="#bb9088" stroke-width="2.6" stroke-linecap="round"/>
<path d="M976.4 746 L1009 758.6" stroke="#bb9088" stroke-width="2.6" stroke-linecap="round"/>
<path d="M976.4 746 L1032.2 748.4" stroke="#bb9088" stroke-width="2.6" stroke-linecap="round"/>
<path d="M1032.2 748.4 L1088.6 743.6" stroke="#bb9088" stroke-width="2.6" stroke-linecap="round"/>
<path d="M998.6 743 L1009 758.6" stroke="#bb9088" stroke-width="2.6" stroke-linecap="round"/>
<path d="M1050.2 741.2 L1071 756.8" stroke="#bb9088" stroke-width="2.6" stroke-linecap="round"/>
<path d="M1032.2 748.4 L1009 758.6" stroke="#bb9088" stroke-width="2.6" stroke-linecap="round"/>
<path d="M1032.2 748.4 L1071 756.8" stroke="#bb9088" stroke-width="2.6" stroke-linecap="round"/>
<path d="M1071 756.8 L1088.6 743.6" stroke="#bb9088" stroke-width="2.6" stroke-linecap="round"/>
<path d="M1038.2 713 L1056.2 700.4" stroke="#bb9088" stroke-width="2.6" stroke-linecap="round"/>
</g>
<circle cx="976.4" cy="746" r="10.8" fill="url(#gRu)"/>
<circle cx="1088.6" cy="743.6" r="10.8" fill="url(#gRu)"/>
<circle cx="1032.2" cy="748.4" r="10.8" fill="url(#gRu)"/>
<circle cx="1038.2" cy="713" r="10.8" fill="url(#gRu)"/>
<g fill="none">
<path d="M1005.2 799.4 L1006.7 781.7" stroke="#2222c4" stroke-width="2.6" stroke-linecap="round"/>
<path d="M1006.7 781.7 L1008.2 764" stroke="#bb9088" stroke-width="2.6" stroke-linecap="round"/>
<path d="M1068.8 798.2 L1069.4 781.1" stroke="#2222c4" stroke-width="2.6" stroke-linecap="round"/>
<path d="M1069.4 781.1 L1070 764" stroke="#bb9088" stroke-width="2.6" stroke-linecap="round"/>
<path d="M994.4 788.6 L1013.3 791.9" stroke="#2222c4" stroke-width="2.6" stroke-linecap="round"/>
<path d="M1013.3 791.9 L1032.2 795.2" stroke="#a01c24" stroke-width="2.6" stroke-linecap="round"/>
<path d="M1005.2 799.4 L1018.7 797.3" stroke="#2222c4" stroke-width="2.6" stroke-linecap="round"/>
<path d="M1018.7 797.3 L1032.2 795.2" stroke="#a01c24" stroke-width="2.6" stroke-linecap="round"/>
<path d="M1058 787.2 L1045.1 791.2" stroke="#2222c4" stroke-width="2.6" stroke-linecap="round"/>
<path d="M1045.1 791.2 L1032.2 795.2" stroke="#a01c24" stroke-width="2.6" stroke-linecap="round"/>
<path d="M1068.8 798.2 L1050.5 796.7" stroke="#2222c4" stroke-width="2.6" stroke-linecap="round"/>
<path d="M1050.5 796.7 L1032.2 795.2" stroke="#a01c24" stroke-width="2.6" stroke-linecap="round"/>
<path d="M994.4 788.6 L983.6 788.6" stroke="#2222c4" stroke-width="2.6" stroke-linecap="round"/>
<path d="M994.4 788.6 L1005.2 799.4" stroke="#2222c4" stroke-width="2.6" stroke-linecap="round"/>
<path d="M1005.2 799.4 L990.2 798.8" stroke="#2222c4" stroke-width="2.6" stroke-linecap="round"/>
<path d="M1005.2 799.4 L1013 803.6" stroke="#2222c4" stroke-width="2.2" stroke-linecap="round"/>
<path d="M1058 787.2 L1068.8 798.2" stroke="#2222c4" stroke-width="2.6" stroke-linecap="round"/>
<path d="M1058 787.2 L1050.2 783.2" stroke="#2222c4" stroke-width="2.2" stroke-linecap="round"/>
<path d="M1068.8 798.2 L1082 795.8" stroke="#2222c4" stroke-width="2.6" stroke-linecap="round"/>
<path d="M1068.8 798.2 L1072.4 802.4" stroke="#2222c4" stroke-width="2.2" stroke-linecap="round"/>
</g>
<circle cx="1009" cy="758.6" r="10.8" fill="url(#gRu)"/>
<circle cx="1071" cy="756.8" r="10.8" fill="url(#gRu)"/>
<circle cx="994.4" cy="788.6" r="4.6" fill="url(#gN)"/>
<circle cx="1058" cy="787.2" r="4.6" fill="url(#gN)"/>
<circle cx="1032.2" cy="795.2" r="9.6" fill="url(#gFe)"/>
<circle cx="1005.2" cy="799.4" r="4.6" fill="url(#gN)"/>
<circle cx="1068.8" cy="798.2" r="4.6" fill="url(#gN)"/>
<circle cx="933.8" cy="784.2" r="5" fill="url(#gC)"/>
<circle cx="1113.8" cy="785" r="5" fill="url(#gC)"/>
<circle cx="1089.2" cy="785.6" r="5" fill="url(#gC)"/>
<circle cx="968.6" cy="788.6" r="5" fill="url(#gC)"/>
<circle cx="939.2" cy="789.2" r="5" fill="url(#gC)"/>
<circle cx="1094.6" cy="793.4" r="5" fill="url(#gC)"/>
<circle cx="974.6" cy="795.8" r="5" fill="url(#gC)"/>
<circle cx="1072.4" cy="802.4" r="5" fill="url(#gC)"/>
<circle cx="1013" cy="803.6" r="5" fill="url(#gC)"/>
<circle cx="1046" cy="804.8" r="5" fill="url(#gC)"/>
<circle cx="1051.4" cy="811.4" r="5" fill="url(#gC)"/>
<g fill="none">
<path d="M933.3 1074.2 L938.7 1079.2" stroke="#9a9a9a" stroke-width="3" stroke-linecap="round"/>
<path d="M954.9 1066 L959.7 1071.8" stroke="#9a9a9a" stroke-width="3" stroke-linecap="round"/>
<path d="M975.9 1057.6 L981.9 1064.8" stroke="#9a9a9a" stroke-width="3" stroke-linecap="round"/>
<path d="M968.1 1078.6 L974.1 1085.8" stroke="#9a9a9a" stroke-width="3" stroke-linecap="round"/>
<path d="M1012.5 1066 L1017.9 1070.8" stroke="#9a9a9a" stroke-width="3" stroke-linecap="round"/>
<path d="M1029.9 1056.4 L1036.5 1063" stroke="#9a9a9a" stroke-width="3" stroke-linecap="round"/>
<path d="M1067.1 1063.6 L1075.5 1069.6" stroke="#9a9a9a" stroke-width="3" stroke-linecap="round"/>
<path d="M1088.7 1075.6 L1094.1 1083.4" stroke="#9a9a9a" stroke-width="3" stroke-linecap="round"/>
<path d="M1106.7 1069.6 L1113.3 1075" stroke="#9a9a9a" stroke-width="3" stroke-linecap="round"/>
<path d="M1045.5 1094.8 L1050.9 1101.4" stroke="#9a9a9a" stroke-width="3" stroke-linecap="round"/>
<path d="M933.3 1074.2 L954.9 1066" stroke="#9a9a9a" stroke-width="3" stroke-linecap="round"/>
<path d="M954.9 1066 L975.9 1057.6" stroke="#9a9a9a" stroke-width="3" stroke-linecap="round"/>
<path d="M975.9 1057.6 L992.1 1048.6" stroke="#9a9a9a" stroke-width="3" stroke-linecap="round"/>
<path d="M938.7 1079.2 L968.1 1078.6" stroke="#9a9a9a" stroke-width="3" stroke-linecap="round"/>
<path d="M959.7 1071.8 L968.1 1078.6" stroke="#9a9a9a" stroke-width="3" stroke-linecap="round"/>
<path d="M959.7 1071.8 L987.9 1072.6" stroke="#9a9a9a" stroke-width="3" stroke-linecap="round"/>
<path d="M981.9 1064.8 L987.9 1072.6" stroke="#9a9a9a" stroke-width="3" stroke-linecap="round"/>
<path d="M981.9 1064.8 L1012.5 1066" stroke="#9a9a9a" stroke-width="3" stroke-linecap="round"/>
<path d="M992.1 1048.6 L1029.9 1056.4" stroke="#9a9a9a" stroke-width="3" stroke-linecap="round"/>
<path d="M1012.5 1066 L1036.5 1063" stroke="#9a9a9a" stroke-width="3" stroke-linecap="round"/>
<path d="M1017.9 1070.8 L1049.7 1071.4" stroke="#9a9a9a" stroke-width="3" stroke-linecap="round"/>
<path d="M1036.5 1063 L1067.1 1063.6" stroke="#9a9a9a" stroke-width="3" stroke-linecap="round"/>
<path d="M1049.7 1071.4 L1075.5 1069.6" stroke="#9a9a9a" stroke-width="3" stroke-linecap="round"/>
<path d="M1075.5 1069.6 L1088.7 1075.6" stroke="#9a9a9a" stroke-width="3" stroke-linecap="round"/>
<path d="M1067.1 1063.6 L1062.3 1054" stroke="#9a9a9a" stroke-width="3" stroke-linecap="round"/>
<path d="M1029.9 1056.4 L1062.3 1054" stroke="#9a9a9a" stroke-width="3" stroke-linecap="round"/>
<path d="M1088.7 1075.6 L1106.7 1069.6" stroke="#9a9a9a" stroke-width="3" stroke-linecap="round"/>
<path d="M1094.1 1083.4 L1113.3 1075" stroke="#9a9a9a" stroke-width="3" stroke-linecap="round"/>
<path d="M1094.1 1083.4 L1071.9 1092.4" stroke="#9a9a9a" stroke-width="3" stroke-linecap="round"/>
<path d="M1071.9 1092.4 L1045.5 1094.8" stroke="#9a9a9a" stroke-width="3" stroke-linecap="round"/>
<path d="M1002.3 1059.4 L1012.5 1066" stroke="#9a9a9a" stroke-width="3" stroke-linecap="round"/>
<path d="M1002.3 1059.4 L981.9 1064.8" stroke="#9a9a9a" stroke-width="3" stroke-linecap="round"/>
<path d="M974.1 1085.8 L1012.5 1093.6" stroke="#9a9a9a" stroke-width="3" stroke-linecap="round"/>
<path d="M933.3 1074.2 L938.7 1079.2" stroke="#d2d2d2" stroke-width="1.9" stroke-linecap="round"/>
<path d="M954.9 1066 L959.7 1071.8" stroke="#d2d2d2" stroke-width="1.9" stroke-linecap="round"/>
<path d="M975.9 1057.6 L981.9 1064.8" stroke="#d2d2d2" stroke-width="1.9" stroke-linecap="round"/>
<path d="M968.1 1078.6 L974.1 1085.8" stroke="#d2d2d2" stroke-width="1.9" stroke-linecap="round"/>
<path d="M1012.5 1066 L1017.9 1070.8" stroke="#d2d2d2" stroke-width="1.9" stroke-linecap="round"/>
<path d="M1029.9 1056.4 L1036.5 1063" stroke="#d2d2d2" stroke-width="1.9" stroke-linecap="round"/>
<path d="M1067.1 1063.6 L1075.5 1069.6" stroke="#d2d2d2" stroke-width="1.9" stroke-linecap="round"/>
<path d="M1088.7 1075.6 L1094.1 1083.4" stroke="#d2d2d2" stroke-width="1.9" stroke-linecap="round"/>
<path d="M1106.7 1069.6 L1113.3 1075" stroke="#d2d2d2" stroke-width="1.9" stroke-linecap="round"/>
<path d="M1045.5 1094.8 L1050.9 1101.4" stroke="#d2d2d2" stroke-width="1.9" stroke-linecap="round"/>
<path d="M933.3 1074.2 L954.9 1066" stroke="#d2d2d2" stroke-width="1.9" stroke-linecap="round"/>
<path d="M954.9 1066 L975.9 1057.6" stroke="#d2d2d2" stroke-width="1.9" stroke-linecap="round"/>
<path d="M975.9 1057.6 L992.1 1048.6" stroke="#d2d2d2" stroke-width="1.9" stroke-linecap="round"/>
<path d="M938.7 1079.2 L968.1 1078.6" stroke="#d2d2d2" stroke-width="1.9" stroke-linecap="round"/>
<path d="M959.7 1071.8 L968.1 1078.6" stroke="#d2d2d2" stroke-width="1.9" stroke-linecap="round"/>
<path d="M959.7 1071.8 L987.9 1072.6" stroke="#d2d2d2" stroke-width="1.9" stroke-linecap="round"/>
<path d="M981.9 1064.8 L987.9 1072.6" stroke="#d2d2d2" stroke-width="1.9" stroke-linecap="round"/>
<path d="M981.9 1064.8 L1012.5 1066" stroke="#d2d2d2" stroke-width="1.9" stroke-linecap="round"/>
<path d="M992.1 1048.6 L1029.9 1056.4" stroke="#d2d2d2" stroke-width="1.9" stroke-linecap="round"/>
<path d="M1012.5 1066 L1036.5 1063" stroke="#d2d2d2" stroke-width="1.9" stroke-linecap="round"/>
<path d="M1017.9 1070.8 L1049.7 1071.4" stroke="#d2d2d2" stroke-width="1.9" stroke-linecap="round"/>
<path d="M1036.5 1063 L1067.1 1063.6" stroke="#d2d2d2" stroke-width="1.9" stroke-linecap="round"/>
<path d="M1049.7 1071.4 L1075.5 1069.6" stroke="#d2d2d2" stroke-width="1.9" stroke-linecap="round"/>
<path d="M1075.5 1069.6 L1088.7 1075.6" stroke="#d2d2d2" stroke-width="1.9" stroke-linecap="round"/>
<path d="M1067.1 1063.6 L1062.3 1054" stroke="#d2d2d2" stroke-width="1.9" stroke-linecap="round"/>
<path d="M1029.9 1056.4 L1062.3 1054" stroke="#d2d2d2" stroke-width="1.9" stroke-linecap="round"/>
<path d="M1088.7 1075.6 L1106.7 1069.6" stroke="#d2d2d2" stroke-width="1.9" stroke-linecap="round"/>
<path d="M1094.1 1083.4 L1113.3 1075" stroke="#d2d2d2" stroke-width="1.9" stroke-linecap="round"/>
<path d="M1094.1 1083.4 L1071.9 1092.4" stroke="#d2d2d2" stroke-width="1.9" stroke-linecap="round"/>
<path d="M1071.9 1092.4 L1045.5 1094.8" stroke="#d2d2d2" stroke-width="1.9" stroke-linecap="round"/>
<path d="M1002.3 1059.4 L1012.5 1066" stroke="#d2d2d2" stroke-width="1.9" stroke-linecap="round"/>
<path d="M1002.3 1059.4 L981.9 1064.8" stroke="#d2d2d2" stroke-width="1.9" stroke-linecap="round"/>
<path d="M974.1 1085.8 L1012.5 1093.6" stroke="#d2d2d2" stroke-width="1.9" stroke-linecap="round"/>
</g>
<circle cx="992.1" cy="1048.6" r="5" fill="url(#gC)"/>
<circle cx="1062.3" cy="1054" r="5" fill="url(#gC)"/>
<circle cx="1029.9" cy="1056.4" r="5" fill="url(#gC)"/>
<circle cx="975.9" cy="1057.6" r="5" fill="url(#gC)"/>
<circle cx="1002.3" cy="1059.4" r="5" fill="url(#gC)"/>
<circle cx="1036.5" cy="1063" r="5" fill="url(#gC)"/>
<circle cx="1067.1" cy="1063.6" r="5" fill="url(#gC)"/>
<circle cx="981.9" cy="1064.8" r="5" fill="url(#gC)"/>
<circle cx="954.9" cy="1066" r="5" fill="url(#gC)"/>
<circle cx="1012.5" cy="1066" r="5" fill="url(#gC)"/>
<circle cx="1075.5" cy="1069.6" r="5" fill="url(#gC)"/>
<circle cx="1106.7" cy="1069.6" r="5" fill="url(#gC)"/>
<circle cx="1017.9" cy="1070.8" r="5" fill="url(#gC)"/>
<circle cx="1049.7" cy="1071.4" r="5" fill="url(#gC)"/>
<circle cx="959.7" cy="1071.8" r="5" fill="url(#gC)"/>
<circle cx="987.9" cy="1072.6" r="5" fill="url(#gC)"/>
<g fill="none">
<path d="M993.9 1078.6 L994.6 1062.7" stroke="#2222c4" stroke-width="2.6" stroke-linecap="round"/>
<path d="M994.6 1062.7 L995.3 1046.8" stroke="#bb9088" stroke-width="2.6" stroke-linecap="round"/>
<path d="M1057.5 1077.2 L1054.5 1062" stroke="#2222c4" stroke-width="2.6" stroke-linecap="round"/>
<path d="M1054.5 1062 L1051.5 1046.8" stroke="#bb9088" stroke-width="2.6" stroke-linecap="round"/>
</g>
<circle cx="998.1" cy="1033" r="10.6" fill="url(#gRu)"/>
<circle cx="1049.7" cy="1031.2" r="10.6" fill="url(#gRu)"/>
<g fill="none">
<path d="M1002.3 991.6 L1055.7 990.4" stroke="#bb9088" stroke-width="2.6" stroke-linecap="round"/>
<path d="M1002.3 991.6 L998.1 1033" stroke="#bb9088" stroke-width="2.6" stroke-linecap="round"/>
<path d="M1055.7 990.4 L1049.7 1031.2" stroke="#bb9088" stroke-width="2.6" stroke-linecap="round"/>
<path d="M1055.7 990.4 L1088.1 1033.6" stroke="#bb9088" stroke-width="2.6" stroke-linecap="round"/>
<path d="M1002.3 991.6 L975.9 1036" stroke="#bb9088" stroke-width="2.6" stroke-linecap="round"/>
<path d="M998.1 1033 L975.9 1036" stroke="#bb9088" stroke-width="2.6" stroke-linecap="round"/>
<path d="M1049.7 1031.2 L1088.1 1033.6" stroke="#bb9088" stroke-width="2.6" stroke-linecap="round"/>
<path d="M998.1 1033 L1049.7 1031.2" stroke="#bb9088" stroke-width="2.6" stroke-linecap="round"/>
<path d="M1055.7 990.4 L1031.7 1038.4" stroke="#bb9088" stroke-width="2.6" stroke-linecap="round"/>
<path d="M1037.7 1003 L1049.7 1031.2" stroke="#bb9088" stroke-width="2.6" stroke-linecap="round"/>
</g>
<circle cx="1002.3" cy="991.6" r="10.8" fill="url(#gRu)"/>
<circle cx="1055.7" cy="990.4" r="10.8" fill="url(#gRu)"/>
<g fill="none">
<path d="M1002.3 991.6 L1031.7 1038.4" stroke="#bb9088" stroke-width="2.6" stroke-linecap="round"/>
<path d="M1002.3 991.6 L1008.5 1048.6" stroke="#bb9088" stroke-width="2.6" stroke-linecap="round"/>
<path d="M1037.7 1003 L1031.7 1038.4" stroke="#bb9088" stroke-width="2.6" stroke-linecap="round"/>
<path d="M1037.7 1003 L1008.5 1048.6" stroke="#bb9088" stroke-width="2.6" stroke-linecap="round"/>
<path d="M1037.7 1003 L1070.5 1046.8" stroke="#bb9088" stroke-width="2.6" stroke-linecap="round"/>
<path d="M975.9 1036 L1008.5 1048.6" stroke="#bb9088" stroke-width="2.6" stroke-linecap="round"/>
<path d="M975.9 1036 L1031.7 1038.4" stroke="#bb9088" stroke-width="2.6" stroke-linecap="round"/>
<path d="M1031.7 1038.4 L1088.1 1033.6" stroke="#bb9088" stroke-width="2.6" stroke-linecap="round"/>
<path d="M998.1 1033 L1008.5 1048.6" stroke="#bb9088" stroke-width="2.6" stroke-linecap="round"/>
<path d="M1049.7 1031.2 L1070.5 1046.8" stroke="#bb9088" stroke-width="2.6" stroke-linecap="round"/>
<path d="M1031.7 1038.4 L1008.5 1048.6" stroke="#bb9088" stroke-width="2.6" stroke-linecap="round"/>
<path d="M1031.7 1038.4 L1070.5 1046.8" stroke="#bb9088" stroke-width="2.6" stroke-linecap="round"/>
<path d="M1070.5 1046.8 L1088.1 1033.6" stroke="#bb9088" stroke-width="2.6" stroke-linecap="round"/>
<path d="M1037.7 1003 L1055.7 990.4" stroke="#bb9088" stroke-width="2.6" stroke-linecap="round"/>
</g>
<circle cx="975.9" cy="1036" r="10.8" fill="url(#gRu)"/>
<circle cx="1088.1" cy="1033.6" r="10.8" fill="url(#gRu)"/>
<circle cx="1031.7" cy="1038.4" r="10.8" fill="url(#gRu)"/>
<circle cx="1037.7" cy="1003" r="10.8" fill="url(#gRu)"/>
<g fill="none">
<path d="M1004.7 1089.4 L1006.2 1071.7" stroke="#2222c4" stroke-width="2.6" stroke-linecap="round"/>
<path d="M1006.2 1071.7 L1007.7 1054" stroke="#bb9088" stroke-width="2.6" stroke-linecap="round"/>
<path d="M1068.3 1088.2 L1068.9 1071.1" stroke="#2222c4" stroke-width="2.6" stroke-linecap="round"/>
<path d="M1068.9 1071.1 L1069.5 1054" stroke="#bb9088" stroke-width="2.6" stroke-linecap="round"/>
<path d="M993.9 1078.6 L1012.8 1081.9" stroke="#2222c4" stroke-width="2.6" stroke-linecap="round"/>
<path d="M1012.8 1081.9 L1031.7 1085.2" stroke="#e6ec30" stroke-width="2.6" stroke-linecap="round"/>
<path d="M1004.7 1089.4 L1018.2 1087.3" stroke="#2222c4" stroke-width="2.6" stroke-linecap="round"/>
<path d="M1018.2 1087.3 L1031.7 1085.2" stroke="#e6ec30" stroke-width="2.6" stroke-linecap="round"/>
<path d="M1057.5 1077.2 L1044.6 1081.2" stroke="#2222c4" stroke-width="2.6" stroke-linecap="round"/>
<path d="M1044.6 1081.2 L1031.7 1085.2" stroke="#e6ec30" stroke-width="2.6" stroke-linecap="round"/>
<path d="M1068.3 1088.2 L1050 1086.7" stroke="#2222c4" stroke-width="2.6" stroke-linecap="round"/>
<path d="M1050 1086.7 L1031.7 1085.2" stroke="#e6ec30" stroke-width="2.6" stroke-linecap="round"/>
<path d="M993.9 1078.6 L983.1 1078.6" stroke="#2222c4" stroke-width="2.6" stroke-linecap="round"/>
<path d="M993.9 1078.6 L1004.7 1089.4" stroke="#2222c4" stroke-width="2.6" stroke-linecap="round"/>
<path d="M1004.7 1089.4 L989.7 1088.8" stroke="#2222c4" stroke-width="2.6" stroke-linecap="round"/>
<path d="M1004.7 1089.4 L1012.5 1093.6" stroke="#2222c4" stroke-width="2.2" stroke-linecap="round"/>
<path d="M1057.5 1077.2 L1068.3 1088.2" stroke="#2222c4" stroke-width="2.6" stroke-linecap="round"/>
<path d="M1057.5 1077.2 L1049.7 1073.2" stroke="#2222c4" stroke-width="2.2" stroke-linecap="round"/>
<path d="M1068.3 1088.2 L1081.5 1085.8" stroke="#2222c4" stroke-width="2.6" stroke-linecap="round"/>
<path d="M1068.3 1088.2 L1071.9 1092.4" stroke="#2222c4" stroke-width="2.2" stroke-linecap="round"/>
</g>
<circle cx="1008.5" cy="1048.6" r="10.8" fill="url(#gRu)"/>
<circle cx="1070.5" cy="1046.8" r="10.8" fill="url(#gRu)"/>
<circle cx="993.9" cy="1078.6" r="4.6" fill="url(#gN)"/>
<circle cx="1057.5" cy="1077.2" r="4.6" fill="url(#gN)"/>
<circle cx="1031.7" cy="1085.2" r="9.6" fill="url(#gCo)"/>
<circle cx="1004.7" cy="1089.4" r="4.6" fill="url(#gN)"/>
<circle cx="1068.3" cy="1088.2" r="4.6" fill="url(#gN)"/>
<circle cx="933.3" cy="1074.2" r="5" fill="url(#gC)"/>
<circle cx="1113.3" cy="1075" r="5" fill="url(#gC)"/>
<circle cx="1088.7" cy="1075.6" r="5" fill="url(#gC)"/>
<circle cx="968.1" cy="1078.6" r="5" fill="url(#gC)"/>
<circle cx="938.7" cy="1079.2" r="5" fill="url(#gC)"/>
<circle cx="1094.1" cy="1083.4" r="5" fill="url(#gC)"/>
<circle cx="974.1" cy="1085.8" r="5" fill="url(#gC)"/>
<circle cx="1071.9" cy="1092.4" r="5" fill="url(#gC)"/>
<circle cx="1012.5" cy="1093.6" r="5" fill="url(#gC)"/>
<circle cx="1045.5" cy="1094.8" r="5" fill="url(#gC)"/>
<circle cx="1050.9" cy="1101.4" r="5" fill="url(#gC)"/>
<g fill="none">
<path d="M934.8 1357.9 L940.2 1362.9" stroke="#9a9a9a" stroke-width="3" stroke-linecap="round"/>
<path d="M956.4 1349.7 L961.2 1355.5" stroke="#9a9a9a" stroke-width="3" stroke-linecap="round"/>
<path d="M977.4 1341.3 L983.4 1348.5" stroke="#9a9a9a" stroke-width="3" stroke-linecap="round"/>
<path d="M969.6 1362.3 L975.6 1369.5" stroke="#9a9a9a" stroke-width="3" stroke-linecap="round"/>
<path d="M1014 1349.7 L1019.4 1354.5" stroke="#9a9a9a" stroke-width="3" stroke-linecap="round"/>
<path d="M1031.4 1340.1 L1038 1346.7" stroke="#9a9a9a" stroke-width="3" stroke-linecap="round"/>
<path d="M1068.6 1347.3 L1077 1353.3" stroke="#9a9a9a" stroke-width="3" stroke-linecap="round"/>
<path d="M1090.2 1359.3 L1095.6 1367.1" stroke="#9a9a9a" stroke-width="3" stroke-linecap="round"/>
<path d="M1108.2 1353.3 L1114.8 1358.7" stroke="#9a9a9a" stroke-width="3" stroke-linecap="round"/>
<path d="M1047 1378.5 L1052.4 1385.1" stroke="#9a9a9a" stroke-width="3" stroke-linecap="round"/>
<path d="M934.8 1357.9 L956.4 1349.7" stroke="#9a9a9a" stroke-width="3" stroke-linecap="round"/>
<path d="M956.4 1349.7 L977.4 1341.3" stroke="#9a9a9a" stroke-width="3" stroke-linecap="round"/>
<path d="M977.4 1341.3 L993.6 1332.3" stroke="#9a9a9a" stroke-width="3" stroke-linecap="round"/>
<path d="M940.2 1362.9 L969.6 1362.3" stroke="#9a9a9a" stroke-width="3" stroke-linecap="round"/>
<path d="M961.2 1355.5 L969.6 1362.3" stroke="#9a9a9a" stroke-width="3" stroke-linecap="round"/>
<path d="M961.2 1355.5 L989.4 1356.3" stroke="#9a9a9a" stroke-width="3" stroke-linecap="round"/>
<path d="M983.4 1348.5 L989.4 1356.3" stroke="#9a9a9a" stroke-width="3" stroke-linecap="round"/>
<path d="M983.4 1348.5 L1014 1349.7" stroke="#9a9a9a" stroke-width="3" stroke-linecap="round"/>
<path d="M993.6 1332.3 L1031.4 1340.1" stroke="#9a9a9a" stroke-width="3" stroke-linecap="round"/>
<path d="M1014 1349.7 L1038 1346.7" stroke="#9a9a9a" stroke-width="3" stroke-linecap="round"/>
<path d="M1019.4 1354.5 L1051.2 1355.1" stroke="#9a9a9a" stroke-width="3" stroke-linecap="round"/>
<path d="M1038 1346.7 L1068.6 1347.3" stroke="#9a9a9a" stroke-width="3" stroke-linecap="round"/>
<path d="M1051.2 1355.1 L1077 1353.3" stroke="#9a9a9a" stroke-width="3" stroke-linecap="round"/>
<path d="M1077 1353.3 L1090.2 1359.3" stroke="#9a9a9a" stroke-width="3" stroke-linecap="round"/>
<path d="M1068.6 1347.3 L1063.8 1337.7" stroke="#9a9a9a" stroke-width="3" stroke-linecap="round"/>
<path d="M1031.4 1340.1 L1063.8 1337.7" stroke="#9a9a9a" stroke-width="3" stroke-linecap="round"/>
<path d="M1090.2 1359.3 L1108.2 1353.3" stroke="#9a9a9a" stroke-width="3" stroke-linecap="round"/>
<path d="M1095.6 1367.1 L1114.8 1358.7" stroke="#9a9a9a" stroke-width="3" stroke-linecap="round"/>
<path d="M1095.6 1367.1 L1073.4 1376.1" stroke="#9a9a9a" stroke-width="3" stroke-linecap="round"/>
<path d="M1073.4 1376.1 L1047 1378.5" stroke="#9a9a9a" stroke-width="3" stroke-linecap="round"/>
<path d="M1003.8 1343.1 L1014 1349.7" stroke="#9a9a9a" stroke-width="3" stroke-linecap="round"/>
<path d="M1003.8 1343.1 L983.4 1348.5" stroke="#9a9a9a" stroke-width="3" stroke-linecap="round"/>
<path d="M975.6 1369.5 L1014 1377.3" stroke="#9a9a9a" stroke-width="3" stroke-linecap="round"/>
<path d="M934.8 1357.9 L940.2 1362.9" stroke="#d2d2d2" stroke-width="1.9" stroke-linecap="round"/>
<path d="M956.4 1349.7 L961.2 1355.5" stroke="#d2d2d2" stroke-width="1.9" stroke-linecap="round"/>
<path d="M977.4 1341.3 L983.4 1348.5" stroke="#d2d2d2" stroke-width="1.9" stroke-linecap="round"/>
<path d="M969.6 1362.3 L975.6 1369.5" stroke="#d2d2d2" stroke-width="1.9" stroke-linecap="round"/>
<path d="M1014 1349.7 L1019.4 1354.5" stroke="#d2d2d2" stroke-width="1.9" stroke-linecap="round"/>
<path d="M1031.4 1340.1 L1038 1346.7" stroke="#d2d2d2" stroke-width="1.9" stroke-linecap="round"/>
<path d="M1068.6 1347.3 L1077 1353.3" stroke="#d2d2d2" stroke-width="1.9" stroke-linecap="round"/>
<path d="M1090.2 1359.3 L1095.6 1367.1" stroke="#d2d2d2" stroke-width="1.9" stroke-linecap="round"/>
<path d="M1108.2 1353.3 L1114.8 1358.7" stroke="#d2d2d2" stroke-width="1.9" stroke-linecap="round"/>
<path d="M1047 1378.5 L1052.4 1385.1" stroke="#d2d2d2" stroke-width="1.9" stroke-linecap="round"/>
<path d="M934.8 1357.9 L956.4 1349.7" stroke="#d2d2d2" stroke-width="1.9" stroke-linecap="round"/>
<path d="M956.4 1349.7 L977.4 1341.3" stroke="#d2d2d2" stroke-width="1.9" stroke-linecap="round"/>
<path d="M977.4 1341.3 L993.6 1332.3" stroke="#d2d2d2" stroke-width="1.9" stroke-linecap="round"/>
<path d="M940.2 1362.9 L969.6 1362.3" stroke="#d2d2d2" stroke-width="1.9" stroke-linecap="round"/>
<path d="M961.2 1355.5 L969.6 1362.3" stroke="#d2d2d2" stroke-width="1.9" stroke-linecap="round"/>
<path d="M961.2 1355.5 L989.4 1356.3" stroke="#d2d2d2" stroke-width="1.9" stroke-linecap="round"/>
<path d="M983.4 1348.5 L989.4 1356.3" stroke="#d2d2d2" stroke-width="1.9" stroke-linecap="round"/>
<path d="M983.4 1348.5 L1014 1349.7" stroke="#d2d2d2" stroke-width="1.9" stroke-linecap="round"/>
<path d="M993.6 1332.3 L1031.4 1340.1" stroke="#d2d2d2" stroke-width="1.9" stroke-linecap="round"/>
<path d="M1014 1349.7 L1038 1346.7" stroke="#d2d2d2" stroke-width="1.9" stroke-linecap="round"/>
<path d="M1019.4 1354.5 L1051.2 1355.1" stroke="#d2d2d2" stroke-width="1.9" stroke-linecap="round"/>
<path d="M1038 1346.7 L1068.6 1347.3" stroke="#d2d2d2" stroke-width="1.9" stroke-linecap="round"/>
<path d="M1051.2 1355.1 L1077 1353.3" stroke="#d2d2d2" stroke-width="1.9" stroke-linecap="round"/>
<path d="M1077 1353.3 L1090.2 1359.3" stroke="#d2d2d2" stroke-width="1.9" stroke-linecap="round"/>
<path d="M1068.6 1347.3 L1063.8 1337.7" stroke="#d2d2d2" stroke-width="1.9" stroke-linecap="round"/>
<path d="M1031.4 1340.1 L1063.8 1337.7" stroke="#d2d2d2" stroke-width="1.9" stroke-linecap="round"/>
<path d="M1090.2 1359.3 L1108.2 1353.3" stroke="#d2d2d2" stroke-width="1.9" stroke-linecap="round"/>
<path d="M1095.6 1367.1 L1114.8 1358.7" stroke="#d2d2d2" stroke-width="1.9" stroke-linecap="round"/>
<path d="M1095.6 1367.1 L1073.4 1376.1" stroke="#d2d2d2" stroke-width="1.9" stroke-linecap="round"/>
<path d="M1073.4 1376.1 L1047 1378.5" stroke="#d2d2d2" stroke-width="1.9" stroke-linecap="round"/>
<path d="M1003.8 1343.1 L1014 1349.7" stroke="#d2d2d2" stroke-width="1.9" stroke-linecap="round"/>
<path d="M1003.8 1343.1 L983.4 1348.5" stroke="#d2d2d2" stroke-width="1.9" stroke-linecap="round"/>
<path d="M975.6 1369.5 L1014 1377.3" stroke="#d2d2d2" stroke-width="1.9" stroke-linecap="round"/>
</g>
<circle cx="993.6" cy="1332.3" r="5" fill="url(#gC)"/>
<circle cx="1063.8" cy="1337.7" r="5" fill="url(#gC)"/>
<circle cx="1031.4" cy="1340.1" r="5" fill="url(#gC)"/>
<circle cx="977.4" cy="1341.3" r="5" fill="url(#gC)"/>
<circle cx="1003.8" cy="1343.1" r="5" fill="url(#gC)"/>
<circle cx="1038" cy="1346.7" r="5" fill="url(#gC)"/>
<circle cx="1068.6" cy="1347.3" r="5" fill="url(#gC)"/>
<circle cx="983.4" cy="1348.5" r="5" fill="url(#gC)"/>
<circle cx="956.4" cy="1349.7" r="5" fill="url(#gC)"/>
<circle cx="1014" cy="1349.7" r="5" fill="url(#gC)"/>
<circle cx="1077" cy="1353.3" r="5" fill="url(#gC)"/>
<circle cx="1108.2" cy="1353.3" r="5" fill="url(#gC)"/>
<circle cx="1019.4" cy="1354.5" r="5" fill="url(#gC)"/>
<circle cx="1051.2" cy="1355.1" r="5" fill="url(#gC)"/>
<circle cx="961.2" cy="1355.5" r="5" fill="url(#gC)"/>
<circle cx="989.4" cy="1356.3" r="5" fill="url(#gC)"/>
<g fill="none">
<path d="M995.4 1362.3 L996.1 1346.4" stroke="#2222c4" stroke-width="2.6" stroke-linecap="round"/>
<path d="M996.1 1346.4 L996.8 1330.5" stroke="#bb9088" stroke-width="2.6" stroke-linecap="round"/>
<path d="M1059 1360.9 L1056 1345.7" stroke="#2222c4" stroke-width="2.6" stroke-linecap="round"/>
<path d="M1056 1345.7 L1053 1330.5" stroke="#bb9088" stroke-width="2.6" stroke-linecap="round"/>
</g>
<circle cx="999.6" cy="1316.7" r="10.6" fill="url(#gRu)"/>
<circle cx="1051.2" cy="1314.9" r="10.6" fill="url(#gRu)"/>
<g fill="none">
<path d="M1003.8 1275.3 L1057.2 1274.1" stroke="#bb9088" stroke-width="2.6" stroke-linecap="round"/>
<path d="M1003.8 1275.3 L999.6 1316.7" stroke="#bb9088" stroke-width="2.6" stroke-linecap="round"/>
<path d="M1057.2 1274.1 L1051.2 1314.9" stroke="#bb9088" stroke-width="2.6" stroke-linecap="round"/>
<path d="M1057.2 1274.1 L1089.6 1317.3" stroke="#bb9088" stroke-width="2.6" stroke-linecap="round"/>
<path d="M1003.8 1275.3 L977.4 1319.7" stroke="#bb9088" stroke-width="2.6" stroke-linecap="round"/>
<path d="M999.6 1316.7 L977.4 1319.7" stroke="#bb9088" stroke-width="2.6" stroke-linecap="round"/>
<path d="M1051.2 1314.9 L1089.6 1317.3" stroke="#bb9088" stroke-width="2.6" stroke-linecap="round"/>
<path d="M999.6 1316.7 L1051.2 1314.9" stroke="#bb9088" stroke-width="2.6" stroke-linecap="round"/>
<path d="M1057.2 1274.1 L1033.2 1322.1" stroke="#bb9088" stroke-width="2.6" stroke-linecap="round"/>
<path d="M1039.2 1286.7 L1051.2 1314.9" stroke="#bb9088" stroke-width="2.6" stroke-linecap="round"/>
</g>
<circle cx="1003.8" cy="1275.3" r="10.8" fill="url(#gRu)"/>
<circle cx="1057.2" cy="1274.1" r="10.8" fill="url(#gRu)"/>
<g fill="none">
<path d="M1003.8 1275.3 L1033.2 1322.1" stroke="#bb9088" stroke-width="2.6" stroke-linecap="round"/>
<path d="M1003.8 1275.3 L1010 1332.3" stroke="#bb9088" stroke-width="2.6" stroke-linecap="round"/>
<path d="M1039.2 1286.7 L1033.2 1322.1" stroke="#bb9088" stroke-width="2.6" stroke-linecap="round"/>
<path d="M1039.2 1286.7 L1010 1332.3" stroke="#bb9088" stroke-width="2.6" stroke-linecap="round"/>
<path d="M1039.2 1286.7 L1072 1330.5" stroke="#bb9088" stroke-width="2.6" stroke-linecap="round"/>
<path d="M977.4 1319.7 L1010 1332.3" stroke="#bb9088" stroke-width="2.6" stroke-linecap="round"/>
<path d="M977.4 1319.7 L1033.2 1322.1" stroke="#bb9088" stroke-width="2.6" stroke-linecap="round"/>
<path d="M1033.2 1322.1 L1089.6 1317.3" stroke="#bb9088" stroke-width="2.6" stroke-linecap="round"/>
<path d="M999.6 1316.7 L1010 1332.3" stroke="#bb9088" stroke-width="2.6" stroke-linecap="round"/>
<path d="M1051.2 1314.9 L1072 1330.5" stroke="#bb9088" stroke-width="2.6" stroke-linecap="round"/>
<path d="M1033.2 1322.1 L1010 1332.3" stroke="#bb9088" stroke-width="2.6" stroke-linecap="round"/>
<path d="M1033.2 1322.1 L1072 1330.5" stroke="#bb9088" stroke-width="2.6" stroke-linecap="round"/>
<path d="M1072 1330.5 L1089.6 1317.3" stroke="#bb9088" stroke-width="2.6" stroke-linecap="round"/>
<path d="M1039.2 1286.7 L1057.2 1274.1" stroke="#bb9088" stroke-width="2.6" stroke-linecap="round"/>
</g>
<circle cx="977.4" cy="1319.7" r="10.8" fill="url(#gRu)"/>
<circle cx="1089.6" cy="1317.3" r="10.8" fill="url(#gRu)"/>
<circle cx="1033.2" cy="1322.1" r="10.8" fill="url(#gRu)"/>
<circle cx="1039.2" cy="1286.7" r="10.8" fill="url(#gRu)"/>
<g fill="none">
<path d="M1006.2 1373.1 L1007.7 1355.4" stroke="#2222c4" stroke-width="2.6" stroke-linecap="round"/>
<path d="M1007.7 1355.4 L1009.2 1337.7" stroke="#bb9088" stroke-width="2.6" stroke-linecap="round"/>
<path d="M1069.8 1371.9 L1070.4 1354.8" stroke="#2222c4" stroke-width="2.6" stroke-linecap="round"/>
<path d="M1070.4 1354.8 L1071 1337.7" stroke="#bb9088" stroke-width="2.6" stroke-linecap="round"/>
<path d="M995.4 1362.3 L1014.3 1365.6" stroke="#2222c4" stroke-width="2.6" stroke-linecap="round"/>
<path d="M1014.3 1365.6 L1033.2 1368.9" stroke="#3c9cca" stroke-width="2.6" stroke-linecap="round"/>
<path d="M1006.2 1373.1 L1019.7 1371" stroke="#2222c4" stroke-width="2.6" stroke-linecap="round"/>
<path d="M1019.7 1371 L1033.2 1368.9" stroke="#3c9cca" stroke-width="2.6" stroke-linecap="round"/>
<path d="M1059 1360.9 L1046.1 1364.9" stroke="#2222c4" stroke-width="2.6" stroke-linecap="round"/>
<path d="M1046.1 1364.9 L1033.2 1368.9" stroke="#3c9cca" stroke-width="2.6" stroke-linecap="round"/>
<path d="M1069.8 1371.9 L1051.5 1370.4" stroke="#2222c4" stroke-width="2.6" stroke-linecap="round"/>
<path d="M1051.5 1370.4 L1033.2 1368.9" stroke="#3c9cca" stroke-width="2.6" stroke-linecap="round"/>
<path d="M995.4 1362.3 L984.6 1362.3" stroke="#2222c4" stroke-width="2.6" stroke-linecap="round"/>
<path d="M995.4 1362.3 L1006.2 1373.1" stroke="#2222c4" stroke-width="2.6" stroke-linecap="round"/>
<path d="M1006.2 1373.1 L991.2 1372.5" stroke="#2222c4" stroke-width="2.6" stroke-linecap="round"/>
<path d="M1006.2 1373.1 L1014 1377.3" stroke="#2222c4" stroke-width="2.2" stroke-linecap="round"/>
<path d="M1059 1360.9 L1069.8 1371.9" stroke="#2222c4" stroke-width="2.6" stroke-linecap="round"/>
<path d="M1059 1360.9 L1051.2 1356.9" stroke="#2222c4" stroke-width="2.2" stroke-linecap="round"/>
<path d="M1069.8 1371.9 L1083 1369.5" stroke="#2222c4" stroke-width="2.6" stroke-linecap="round"/>
<path d="M1069.8 1371.9 L1073.4 1376.1" stroke="#2222c4" stroke-width="2.2" stroke-linecap="round"/>
</g>
<circle cx="1010" cy="1332.3" r="10.8" fill="url(#gRu)"/>
<circle cx="1072" cy="1330.5" r="10.8" fill="url(#gRu)"/>
<circle cx="995.4" cy="1362.3" r="4.6" fill="url(#gN)"/>
<circle cx="1059" cy="1360.9" r="4.6" fill="url(#gN)"/>
<circle cx="1033.2" cy="1368.9" r="9.6" fill="url(#gNi)"/>
<circle cx="1006.2" cy="1373.1" r="4.6" fill="url(#gN)"/>
<circle cx="1069.8" cy="1371.9" r="4.6" fill="url(#gN)"/>
<circle cx="934.8" cy="1357.9" r="5" fill="url(#gC)"/>
<circle cx="1114.8" cy="1358.7" r="5" fill="url(#gC)"/>
<circle cx="1090.2" cy="1359.3" r="5" fill="url(#gC)"/>
<circle cx="969.6" cy="1362.3" r="5" fill="url(#gC)"/>
<circle cx="940.2" cy="1362.9" r="5" fill="url(#gC)"/>
<circle cx="1095.6" cy="1367.1" r="5" fill="url(#gC)"/>
<circle cx="975.6" cy="1369.5" r="5" fill="url(#gC)"/>
<circle cx="1073.4" cy="1376.1" r="5" fill="url(#gC)"/>
<circle cx="1014" cy="1377.3" r="5" fill="url(#gC)"/>
<circle cx="1047" cy="1378.5" r="5" fill="url(#gC)"/>
<circle cx="1052.4" cy="1385.1" r="5" fill="url(#gC)"/>
<circle cx="949" cy="832.2" r="7.3" fill="url(#gC)"/>
<text x="962.4" y="838.4" font-size="16.9" font-weight="normal" text-anchor="start" fill="#000" >C</text>
<circle cx="989.9" cy="832.2" r="7.3" fill="url(#gN)"/>
<text x="1001.4" y="838.4" font-size="16.9" font-weight="normal" text-anchor="start" fill="#000" >N</text>
<circle cx="1029.7" cy="832.2" r="7.3" fill="url(#gRu)"/>
<text x="1041.7" y="838.4" font-size="16.9" font-weight="normal" text-anchor="start" fill="#000" >Ru</text>
<circle cx="1075.3" cy="832.2" r="7.3" fill="url(#gFe)"/>
<text x="1087.4" y="838.4" font-size="16.9" font-weight="normal" text-anchor="start" fill="#000" >Fe</text>
<circle cx="949" cy="1123.5" r="7.3" fill="url(#gC)"/>
<text x="962.4" y="1130" font-size="16.9" font-weight="normal" text-anchor="start" fill="#000" >C</text>
<circle cx="989.9" cy="1123.5" r="7.3" fill="url(#gN)"/>
<text x="1001.4" y="1130" font-size="16.9" font-weight="normal" text-anchor="start" fill="#000" >N</text>
<circle cx="1029.7" cy="1123.5" r="7.3" fill="url(#gRu)"/>
<text x="1041.7" y="1130" font-size="16.9" font-weight="normal" text-anchor="start" fill="#000" >Ru</text>
<circle cx="1075.3" cy="1123.5" r="7.3" fill="url(#gCo)"/>
<text x="1085.5" y="1130" font-size="16.9" font-weight="normal" text-anchor="start" fill="#000" >Co</text>
<circle cx="947.9" cy="1405.3" r="7.3" fill="url(#gC)"/>
<text x="961.5" y="1411.8" font-size="16.9" font-weight="normal" text-anchor="start" fill="#000" >C</text>
<circle cx="989.9" cy="1405.3" r="7.3" fill="url(#gN)"/>
<text x="1002.7" y="1411.8" font-size="16.9" font-weight="normal" text-anchor="start" fill="#000" >N</text>
<circle cx="1032.2" cy="1405.3" r="7.3" fill="url(#gRu)"/>
<text x="1044.2" y="1411.8" font-size="16.9" font-weight="normal" text-anchor="start" fill="#000" >Ru</text>
<circle cx="1081" cy="1405.3" r="7.3" fill="url(#gNi)"/>
<text x="1092.2" y="1411.8" font-size="16.9" font-weight="normal" text-anchor="start" fill="#000" >Ni</text>
<text x="593.8" y="661" font-size="58" font-weight="normal" text-anchor="start" fill="#000" >e</text>
<defs><clipPath id="cf"><rect x="1236.2" y="621.8" width="500.7" height="866"/></clipPath></defs>
<g clip-path="url(#cf)" fill="none" stroke-width="3.4" stroke-linejoin="round" stroke-linecap="round">
<path d="M1236.2 888.7 C1238.2 888.2 1245.2 886.6 1248.5 885.8 C1251.8 885 1253.5 883.7 1256.1 883.9 C1258.6 884.1 1261.2 886.8 1263.8 886.8 C1266.3 886.8 1268.9 885.3 1271.4 883.9 C1273.9 882.5 1276.5 879.7 1279 878.2 C1281.5 876.7 1284.4 875.4 1286.6 874.8 C1288.8 874.2 1290.4 874 1292.3 874.4 C1294.2 874.8 1296.1 877.1 1298 877.3 C1299.9 877.5 1301.8 877.8 1303.7 875.4 C1305.6 873 1307.5 868.2 1309.4 863 C1311.3 857.8 1313.2 850 1315.1 844 C1317 838 1318.9 831.2 1320.8 826.8 C1322.7 822.3 1324.6 819.7 1326.5 817.3 C1328.4 814.9 1330.3 813.6 1332.2 812.6 C1334.1 811.6 1336 811.8 1337.9 811.3 C1339.8 810.8 1341.7 810.9 1343.6 809.7 C1345.5 808.5 1347.5 806.4 1349.4 804 C1351.3 801.6 1353.2 798 1355.1 795.5 C1357 793 1359.1 790.2 1360.8 788.8 C1362.5 787.4 1363.9 786.7 1365.5 786.9 C1367.1 787.1 1368.5 787.3 1370.3 789.8 C1372 792.3 1374.1 796.9 1376 802.1 C1377.9 807.3 1380 814.1 1381.7 821.1 C1383.4 828.1 1385 836.7 1386.4 844 C1387.8 851.3 1388.9 859.7 1390.2 864.9 C1391.5 870.1 1392.8 874.1 1394.1 875.4 C1395.4 876.7 1396.6 874.1 1397.9 872.5 C1399.2 870.9 1400.4 866.8 1401.7 865.8 C1403 864.8 1404.2 865 1405.5 866.8 C1406.8 868.5 1408 873.9 1409.3 876.3 C1410.6 878.7 1412 881.1 1413.1 881.1 C1414.2 881.1 1414.8 880.9 1415.9 876.3 C1417 871.7 1418.3 863 1419.7 853.5 C1421.1 844 1422.9 831.2 1424.5 819.2 C1426.1 807.2 1427.5 793.9 1429.2 781.2 C1430.9 768.5 1433 753.7 1434.9 743.2 C1436.8 732.7 1438.8 724.8 1440.7 718.4 C1442.6 712 1444.7 707.8 1446.4 705.1 C1448.1 702.4 1449.5 702.1 1451.1 702.3 C1452.7 702.4 1454.2 703.5 1455.9 706 C1457.6 708.5 1459.6 713.1 1461.5 717.5 C1463.4 721.9 1465.3 727.9 1467.2 732.6 C1469.1 737.3 1471 741.9 1472.9 745.5 C1474.8 749.1 1476.7 752 1478.6 754 C1480.5 756 1481.8 757 1484.3 757.7 C1486.8 758.4 1491.3 758 1493.8 758.4 C1496.3 758.8 1497.6 758.7 1499.5 760.3 C1501.4 761.9 1503.3 764.4 1505.2 767.9 C1507.1 771.4 1509 776.1 1510.9 781.2 C1512.8 786.3 1514.7 792.9 1516.6 798.3 C1518.5 803.7 1520.4 809 1522.3 813.5 C1524.2 818 1526.1 821.8 1528 825 C1529.9 828.2 1531.8 830.1 1533.7 832.6 C1535.6 835.1 1537.5 837 1539.4 840.2 C1541.3 843.4 1543.2 847.2 1545.1 851.6 C1547 856 1548.9 862.2 1550.8 866.8 C1552.7 871.4 1554.8 876.5 1556.5 879.2 C1558.2 881.9 1559.7 883.2 1561.3 883 C1562.9 882.8 1564.3 880.3 1566 878.2 C1567.7 876.1 1569.5 873 1571.7 870.6 C1573.9 868.2 1576.5 866.1 1579.4 864 C1582.3 861.9 1585.7 859.8 1588.9 858.2 C1592.1 856.6 1595.2 855.5 1598.4 854.4 C1601.6 853.3 1605.1 852.9 1607.9 851.6 C1610.8 850.3 1613 848.7 1615.5 846.8 C1618 844.9 1620.9 841.6 1623.1 840.2 C1625.3 838.8 1626.9 838.1 1628.8 838.3 C1630.7 838.4 1632.6 839.2 1634.5 841.1 C1636.4 843 1638.3 846.1 1640.2 849.7 C1642.1 853.4 1644 858.6 1645.9 863 C1647.8 867.4 1649.8 872.8 1651.6 876.3 C1653.3 879.8 1655.1 882.5 1656.4 883.9 C1657.7 885.3 1658.1 885.5 1659.2 884.9 C1660.3 884.3 1661.4 882 1663 880.1 C1664.6 878.2 1666.9 875.1 1668.8 873.5 C1670.7 871.9 1672.6 870.6 1674.5 870.2 C1676.4 869.8 1678 870.6 1680.2 871 C1682.4 871.4 1685.3 872.7 1687.8 872.5 C1690.3 872.3 1692.9 870.7 1695.4 869.7 C1697.9 868.8 1700.8 867.3 1703 866.8 C1705.2 866.2 1706.5 865.9 1708.7 866.4 C1710.9 866.9 1713.8 868.1 1716.3 869.7 C1718.8 871.4 1721.4 874.2 1723.9 876.3 C1726.4 878.3 1729.3 880.7 1731.5 882 C1733.7 883.3 1736 883.6 1736.9 883.9" stroke="#bababa"/>
<path d="M1236.2 886.8 C1238.2 886.9 1244.9 887.7 1248.5 887.7 C1252.1 887.7 1254.8 886.9 1258 886.8 C1261.2 886.6 1264.4 887.1 1267.6 886.8 C1270.8 886.5 1274.2 884.9 1277.1 884.9 C1279.9 884.9 1282.7 886.2 1284.7 886.8 C1286.8 887.4 1287.5 888.9 1289.4 888.7 C1291.3 888.5 1293.7 886.9 1296.1 885.8 C1298.5 884.7 1301.2 882.7 1303.7 882 C1306.2 881.3 1308.8 881.1 1311.3 881.6 C1313.8 882.1 1316.5 884.8 1318.9 884.9 C1321.3 885 1323.4 883 1325.6 882 C1327.8 881 1329.8 879.5 1332.2 879.2 C1334.6 878.9 1337.2 879 1339.8 880.1 C1342.3 881.2 1345.3 885.8 1347.5 885.8 C1349.7 885.8 1351.2 882.6 1353.2 880.1 C1355.2 877.6 1357.6 873.1 1359.8 870.6 C1362 868.1 1364.4 865.4 1366.5 864.9 C1368.6 864.4 1370.5 867 1372.2 867.8 C1373.9 868.6 1375.5 870.5 1376.9 869.7 C1378.3 868.9 1379.4 867.3 1380.7 863 C1382 858.7 1383.2 851.3 1384.5 844 C1385.8 836.7 1386.9 829 1388.3 819.2 C1389.7 809.4 1391.3 797 1393.1 785 C1394.8 773 1396.9 758.7 1398.8 747 C1400.7 735.3 1402.6 723.8 1404.5 714.6 C1406.4 705.4 1408.3 697.5 1410.2 691.8 C1412.1 686.1 1414.3 682.8 1415.9 680.4 C1417.5 678 1418.3 677.6 1419.7 677.5 C1421.1 677.4 1422.9 677.9 1424.5 680 C1426.1 682.1 1427.5 684.8 1429.2 689.9 C1430.9 695 1433 702.9 1434.9 710.8 C1436.8 718.7 1438.8 728.2 1440.7 737.4 C1442.6 746.6 1444.5 756.5 1446.4 766 C1448.3 775.5 1450.2 785.3 1452.1 794.5 C1454 803.7 1455.9 812.5 1457.8 821.1 C1459.7 829.7 1461.6 838.3 1463.5 845.9 C1465.4 853.5 1467.3 860.8 1469.2 866.8 C1471.1 872.8 1473.3 878.4 1474.9 882 C1476.5 885.6 1477.4 888.4 1478.8 888.7 C1480.2 889 1481.4 886.1 1483.3 883.9 C1485.2 881.7 1487.5 877.4 1489.9 875.4 C1492.3 873.4 1495 872.2 1497.6 871.6 C1500.1 871 1503 871.8 1505.2 871.6 C1507.4 871.4 1509 871.6 1510.9 870.2 C1512.8 868.8 1514.7 865.8 1516.6 863 C1518.5 860.2 1520.4 856.5 1522.3 853.5 C1524.2 850.5 1526.1 847.1 1528 844.9 C1529.9 842.7 1532.1 841.1 1533.7 840.2 C1535.3 839.4 1536.1 839.3 1537.5 839.8 C1538.9 840.3 1540.7 841 1542.3 843 C1543.9 845 1545.3 848.3 1547 851.6 C1548.7 854.9 1550.8 859.2 1552.7 863 C1554.6 866.8 1556.5 871.2 1558.4 874.4 C1560.3 877.6 1562.5 880.6 1564.1 882 C1565.7 883.4 1566.6 884 1567.9 883 C1569.2 882 1570.1 880.3 1571.7 876.3 C1573.3 872.3 1575.5 866.2 1577.4 859.2 C1579.3 852.2 1581.3 843.1 1583.2 834.5 C1585.1 825.9 1587 816 1588.9 807.8 C1590.8 799.5 1592.7 791.3 1594.6 785 C1596.5 778.7 1598.4 773.4 1600.3 769.8 C1602.2 766.1 1604.1 764.4 1606 763.1 C1607.9 761.8 1609.8 761.5 1611.7 761.8 C1613.6 762.1 1615.5 762.4 1617.4 765 C1619.3 767.6 1621.2 771.9 1623.1 777.4 C1625 782.9 1626.9 790.4 1628.8 798.3 C1630.7 806.2 1632.6 816.1 1634.5 825 C1636.4 833.9 1638.3 843.7 1640.2 851.6 C1642.1 859.5 1644.3 867.3 1645.9 872.5 C1647.5 877.7 1648.6 880.8 1649.7 883 C1650.8 885.2 1651.5 886 1652.6 885.8 C1653.7 885.6 1655.3 882.8 1656.4 882 C1657.5 881.2 1658.1 880.8 1659.2 881.1 C1660.3 881.4 1661.7 883.3 1663 883.9 C1664.3 884.5 1665.3 886.2 1666.9 884.9 C1668.5 883.6 1670.7 879.3 1672.6 876.3 C1674.5 873.3 1676.4 869.6 1678.3 866.8 C1680.2 863.9 1682.1 861 1684 859.2 C1685.9 857.4 1687.8 856.4 1689.7 855.8 C1691.6 855.2 1693.5 855 1695.4 855.4 C1697.3 855.8 1699.2 856.6 1701.1 858.2 C1703 859.8 1704.9 862.4 1706.8 864.9 C1708.7 867.4 1710.6 870.8 1712.5 873.5 C1714.4 876.2 1716.5 879.2 1718.2 881.1 C1720 883 1721.4 884.6 1723 884.9 C1724.6 885.2 1726 884 1727.7 883 C1729.4 882 1731.9 879.8 1733.4 879.2 C1734.9 878.6 1736.3 879.2 1736.9 879.2" stroke="#5b5b5b"/>
<path d="M1236.2 884.9 C1237.9 884.7 1243.6 883.8 1246.6 883.9 C1249.6 884 1251.9 884.9 1254.2 885.8 C1256.5 886.7 1258.1 889.7 1260.3 889.2 C1262.5 888.7 1265.1 885 1267.6 883 C1270.1 881 1272.8 878.6 1275.2 877.3 C1277.6 876 1279.6 875.6 1281.8 875.4 C1284 875.2 1286.1 875.7 1288.5 876.3 C1290.9 876.9 1293.9 879.5 1296.1 879.2 C1298.3 878.9 1299.6 877.4 1301.8 874.4 C1304 871.4 1306.9 865.2 1309.4 861.1 C1311.9 857 1314.5 852.9 1317 849.7 C1319.5 846.5 1322.1 844.3 1324.6 842.1 C1327.1 839.9 1329.7 839.2 1332.2 836.4 C1334.7 833.5 1337.2 829.6 1339.8 825 C1342.3 820.4 1345 813.7 1347.5 808.8 C1350 803.9 1352.9 798.7 1355.1 795.5 C1357.3 792.3 1359.1 791 1360.8 789.8 C1362.5 788.6 1363.9 788.2 1365.5 788.4 C1367.1 788.5 1368.5 788.7 1370.3 790.7 C1372 792.7 1374.1 796.1 1376 800.2 C1377.9 804.3 1379.8 809.7 1381.7 815.4 C1383.6 821.1 1385.5 828.1 1387.4 834.5 C1389.3 840.9 1391.2 847.5 1393.1 853.5 C1395 859.5 1397 866 1398.8 870.6 C1400.5 875.2 1402 878.4 1403.6 881.1 C1405.2 883.8 1406.7 886.3 1408.3 886.8 C1409.9 887.3 1411.2 885.1 1413.1 883.9 C1415 882.7 1417 881 1419.7 879.7 C1422.4 878.4 1426 877.5 1429.2 876.3 C1432.4 875.1 1435.9 873.8 1438.8 872.5 C1441.7 871.2 1444.2 869.5 1446.4 868.7 C1448.6 867.9 1450.2 867.5 1452.1 867.8 C1454 868.1 1455.6 868.9 1457.8 870.6 C1460 872.3 1462.6 876 1465.4 878.2 C1468.2 880.4 1471.9 883.6 1474.7 883.9 C1477.5 884.2 1479.8 881 1482.3 880.1 C1484.8 879.2 1486.7 878.2 1489.9 878.2 C1493.1 878.2 1498.2 880 1501.4 880.1 C1504.6 880.2 1506.2 879.1 1509 878.6 C1511.8 878.1 1515 877.3 1518.5 877.3 C1522 877.3 1526.1 878.4 1529.9 878.6 C1533.7 878.8 1538.1 878.5 1541.3 878.6 C1544.5 878.7 1546.4 878.6 1548.9 879.2 C1551.4 879.8 1554.3 880.9 1556.5 882 C1558.7 883.1 1560.5 884.8 1562.2 885.8 C1564 886.8 1565.1 888.2 1567 888.1 C1568.9 888 1571.2 885.7 1573.6 884.9 C1576 884.1 1578.8 883.5 1581.3 883.5 C1583.8 883.5 1586.4 884.4 1588.9 884.9 C1591.4 885.4 1594 886.8 1596.5 886.8 C1599 886.8 1601.6 885.5 1604.1 884.9 C1606.6 884.3 1608.8 883.4 1611.7 883 C1614.6 882.6 1616.5 882.4 1621.2 882.4 C1626 882.4 1634.5 883 1640.2 883 C1645.9 883 1650.6 882.3 1655.4 882.4 C1660.2 882.5 1665 883.1 1668.8 883.5 C1672.6 883.9 1675.1 884.4 1678.3 884.9 C1681.5 885.4 1684.6 886.1 1687.8 886.2 C1691 886.3 1692.5 885.7 1697.3 885.4 C1702 885.1 1709.7 884.4 1716.3 884.5 C1722.9 884.6 1733.5 885.6 1736.9 885.8" stroke="#df3f5a"/>
<path d="M1236.2 1174.9 C1237.6 1175.4 1241.7 1178.1 1244.7 1178.1 C1247.7 1178.1 1251 1176 1254.2 1174.9 C1257.4 1173.8 1260.9 1171.9 1263.8 1171.6 C1266.7 1171.3 1268.9 1172.9 1271.4 1173 C1273.9 1173.1 1276.5 1173 1279 1172 C1281.5 1171 1284.1 1168.7 1286.6 1167.3 C1289.1 1165.9 1292 1165.1 1294.2 1163.5 C1296.4 1161.9 1298 1160.8 1299.9 1157.8 C1301.8 1154.8 1303.7 1150 1305.6 1145.4 C1307.5 1140.8 1309.5 1134.1 1311.3 1130.2 C1313 1126.3 1314.7 1123.8 1316.1 1122.2 C1317.5 1120.6 1318.5 1120.2 1319.9 1120.7 C1321.3 1121.2 1323 1124 1324.6 1125.4 C1326.2 1126.8 1328 1129.4 1329.4 1129.2 C1330.8 1129 1331.9 1128.2 1333.2 1124.5 C1334.5 1120.8 1335.6 1115.2 1337 1107.3 C1338.4 1099.4 1340.1 1087.4 1341.7 1076.9 C1343.3 1066.5 1344.9 1053.8 1346.5 1044.6 C1348.1 1035.4 1349.9 1027.2 1351.3 1021.7 C1352.7 1016.2 1354 1013.5 1355.1 1011.3 C1356.2 1009.1 1356.8 1008.2 1357.9 1008.4 C1359 1008.5 1360.3 1008.7 1361.7 1012.2 C1363.1 1015.7 1364.8 1021.8 1366.5 1029.4 C1368.2 1037 1370.3 1048.1 1372.2 1057.9 C1374.1 1067.7 1376 1078.8 1377.9 1088.3 C1379.8 1097.8 1381.8 1108 1383.6 1115 C1385.3 1122 1386.8 1126.1 1388.4 1130.2 C1390 1134.3 1391.5 1136.5 1393.1 1139.7 C1394.7 1142.9 1396.5 1145.4 1397.9 1149.2 C1399.3 1153 1400.4 1158.4 1401.7 1162.5 C1403 1166.6 1404.5 1171.6 1405.5 1173.9 C1406.5 1176.2 1406.6 1176.8 1407.4 1176.2 C1408.2 1175.6 1409.1 1175.5 1410.2 1170.1 C1411.3 1164.6 1412.6 1155.2 1414 1143.5 C1415.4 1131.8 1417.2 1114.9 1418.8 1099.7 C1420.4 1084.5 1421.9 1067.7 1423.5 1052.2 C1425.1 1036.7 1426.7 1020.1 1428.3 1006.5 C1429.9 992.9 1431.6 979.4 1433 970.4 C1434.4 961.4 1435.7 956.1 1436.9 952.3 C1438.1 948.5 1439.2 947.6 1440.3 947.6 C1441.4 947.6 1442.3 948.5 1443.5 952.3 C1444.7 956.1 1445.9 960.1 1447.3 970.4 C1448.7 980.7 1450.5 998.9 1452.1 1014.1 C1453.7 1029.3 1455.4 1047.8 1456.8 1061.7 C1458.2 1075.7 1459.5 1089.3 1460.6 1097.8 C1461.7 1106.3 1462.5 1109.5 1463.2 1112.5 C1463.9 1115.5 1464.2 1116.2 1464.8 1115.9 C1465.4 1115.7 1465.9 1115.7 1466.8 1111 C1467.7 1106.3 1469 1096.2 1470.1 1088 C1471.2 1079.8 1472.3 1069.2 1473.4 1062 C1474.5 1054.8 1475.3 1050.4 1476.6 1044.6 C1477.9 1038.8 1480 1031.1 1481.4 1027.4 C1482.8 1023.8 1483.9 1022.9 1485.2 1022.7 C1486.5 1022.6 1487.6 1023.2 1489 1026.5 C1490.4 1029.8 1492.2 1035.9 1493.8 1042.7 C1495.4 1049.5 1496.9 1058.2 1498.5 1067.4 C1500.1 1076.6 1501.7 1087.7 1503.3 1097.8 C1504.9 1107.9 1506.4 1119.7 1508 1128.3 C1509.6 1136.9 1511.4 1144.1 1512.8 1149.2 C1514.2 1154.3 1515.3 1156.8 1516.6 1158.7 C1517.9 1160.6 1519 1161.2 1520.4 1160.6 C1521.8 1160 1523.5 1156.3 1525.1 1154.9 C1526.7 1153.5 1528.3 1152.2 1529.9 1152 C1531.5 1151.8 1533 1152.2 1534.6 1153.9 C1536.2 1155.7 1537.8 1159.2 1539.4 1162.5 C1541 1165.8 1542.7 1171.1 1544.2 1173.9 C1545.7 1176.7 1547.1 1179.8 1548.5 1179.2 C1549.9 1178.6 1551 1173.8 1552.7 1170.1 C1554.4 1166.4 1556.5 1159.7 1558.4 1156.8 C1560.3 1153.9 1562.2 1152.9 1564.1 1152.6 C1566 1152.3 1567.9 1152.9 1569.8 1154.9 C1571.7 1156.9 1573.6 1161.9 1575.5 1164.4 C1577.4 1166.9 1579.5 1169.1 1581.3 1170.1 C1583 1171 1584.4 1172 1586 1170.1 C1587.6 1168.2 1589 1164.1 1590.8 1158.7 C1592.5 1153.3 1594.6 1145.1 1596.5 1137.8 C1598.4 1130.5 1600.3 1122 1602.2 1115 C1604.1 1108 1606 1101.3 1607.9 1095.9 C1609.8 1090.5 1611.7 1086.2 1613.6 1082.6 C1615.5 1079 1617.4 1076.2 1619.3 1074.1 C1621.2 1072 1623.2 1070.8 1625 1070.2 C1626.8 1069.6 1628 1069.1 1629.8 1070.2 C1631.5 1071.3 1633.6 1073.2 1635.5 1076.9 C1637.4 1080.6 1639.3 1086.4 1641.2 1092.1 C1643.1 1097.8 1645 1104.5 1646.9 1111.2 C1648.8 1117.9 1650.9 1126.7 1652.6 1132.1 C1654.3 1137.5 1656 1141.3 1657.3 1143.5 C1658.6 1145.7 1658.9 1145.9 1660.2 1145.4 C1661.5 1144.9 1663.2 1142.4 1665 1140.6 C1666.8 1138.8 1669 1135.7 1670.7 1134.4 C1672.4 1133.1 1673.8 1132.6 1675.4 1133 C1677 1133.4 1678.5 1134.4 1680.2 1136.8 C1682 1139.2 1684 1143.6 1685.9 1147.3 C1687.8 1151 1689.9 1155.8 1691.6 1158.7 C1693.3 1161.6 1694.7 1163.5 1696.3 1164.4 C1697.9 1165.4 1699.3 1165 1701.1 1164.4 C1702.8 1163.8 1704.9 1161.4 1706.8 1160.6 C1708.7 1159.8 1710.6 1159.2 1712.5 1159.7 C1714.4 1160.2 1716.3 1162.2 1718.2 1163.5 C1720.1 1164.8 1722.3 1166.6 1723.9 1167.3 C1725.5 1168 1726.3 1168.6 1727.7 1167.8 C1729.1 1167 1731 1164.7 1732.5 1162.5 C1734 1160.3 1736.2 1156.2 1736.9 1154.9" stroke="#bababa"/>
<path d="M1236.2 1176.8 C1238.2 1177 1244.2 1178.1 1248.5 1178.1 C1252.8 1178.1 1257.3 1176.9 1261.8 1176.8 C1266.2 1176.7 1271.4 1177.5 1275.2 1177.3 C1279 1177.1 1281.5 1176 1284.7 1175.8 C1287.9 1175.6 1291.4 1175.8 1294.2 1176.2 C1297 1176.6 1299.3 1178.1 1301.8 1178.1 C1304.3 1178.1 1306.6 1176.9 1309.4 1176.2 C1312.2 1175.5 1315.7 1174.5 1318.9 1173.9 C1322.1 1173.3 1325.6 1172.9 1328.4 1172.4 C1331.2 1171.9 1333.5 1171 1336 1171.1 C1338.5 1171.2 1341.2 1171.8 1343.6 1173 C1346 1174.2 1348.4 1178.1 1350.3 1178.1 C1352.2 1178.1 1353.3 1175.3 1355.1 1173 C1356.8 1170.7 1358.9 1166.8 1360.8 1164.4 C1362.7 1162 1364.9 1160 1366.5 1158.7 C1368.1 1157.4 1368.9 1156.8 1370.3 1156.8 C1371.7 1156.8 1373.6 1158.3 1375 1158.7 C1376.4 1159.1 1377.5 1159.7 1378.8 1159.1 C1380.1 1158.5 1381.3 1157.8 1382.6 1154.9 C1383.9 1152 1385.1 1147.6 1386.4 1141.6 C1387.7 1135.6 1388.9 1127.4 1390.2 1118.8 C1391.5 1110.2 1392.7 1100.3 1394.1 1090.2 C1395.5 1080.1 1397.2 1068 1398.8 1057.9 C1400.4 1047.8 1402 1038 1403.6 1029.4 C1405.2 1020.8 1406.9 1012.9 1408.3 1006.5 C1409.7 1000.1 1410.8 994.9 1412.1 991.3 C1413.4 987.6 1414.8 985.9 1415.9 984.6 C1417 983.3 1417.7 983.3 1418.8 983.7 C1419.9 984.1 1421.3 984.9 1422.6 987.1 C1423.9 989.3 1425 991.9 1426.4 997 C1427.8 1002.1 1429.5 1010 1431.1 1017.9 C1432.7 1025.8 1434.3 1035.1 1435.9 1044.6 C1437.5 1054.1 1439.1 1064.9 1440.7 1075 C1442.3 1085.1 1443.8 1095.2 1445.4 1105.4 C1447 1115.6 1448.7 1126.4 1450.2 1135.9 C1451.7 1145.4 1453.2 1155.7 1454.4 1162.5 C1455.6 1169.3 1456.7 1173.9 1457.6 1176.5 C1458.5 1179.1 1458.6 1178.8 1459.6 1178 C1460.5 1177.2 1461.7 1173.6 1463.3 1172 C1464.9 1170.4 1467.1 1169.1 1469 1168.6 C1470.9 1168.1 1472.6 1168.5 1474.7 1169.2 C1476.8 1169.9 1479.3 1172 1481.4 1173 C1483.5 1174 1485.4 1175.4 1487.1 1174.9 C1488.8 1174.4 1489.7 1172.8 1491.8 1170.1 C1493.9 1167.4 1497.1 1162 1499.5 1158.7 C1501.9 1155.4 1504 1152.1 1506.1 1150.1 C1508.1 1148.1 1509.9 1147.2 1511.8 1146.9 C1513.7 1146.6 1515.4 1146.9 1517.5 1148.2 C1519.6 1149.5 1522 1152.5 1524.2 1154.9 C1526.4 1157.3 1528.7 1160.7 1530.8 1162.5 C1532.9 1164.3 1534.8 1165.7 1536.6 1165.9 C1538.3 1166.1 1539.6 1165.7 1541.3 1163.5 C1543 1161.3 1544.9 1157 1547 1153 C1549.1 1149 1551.5 1143.5 1553.7 1139.7 C1555.9 1135.9 1558.1 1132.7 1560.3 1130.2 C1562.5 1127.7 1565.1 1125.8 1567 1124.8 C1568.9 1123.8 1570 1123.7 1571.7 1124.1 C1573.4 1124.5 1575.5 1125.3 1577.4 1127.3 C1579.3 1129.3 1581.3 1132.9 1583.2 1135.9 C1585.1 1138.9 1587 1142.9 1588.9 1145.4 C1590.8 1147.9 1592.9 1150.1 1594.6 1151.1 C1596.3 1152 1597.4 1152 1599.3 1151.1 C1601.2 1150.1 1603.6 1147.4 1606 1145.4 C1608.4 1143.4 1611.2 1140.6 1613.6 1139.3 C1616 1138 1618.1 1137.4 1620.3 1137.4 C1622.5 1137.4 1624.5 1138 1626.9 1139.3 C1629.3 1140.6 1632 1142.8 1634.5 1145.4 C1637 1148 1639.6 1151.7 1642.1 1154.9 C1644.6 1158.1 1647.3 1161.9 1649.7 1164.4 C1652.1 1166.9 1654.2 1168.8 1656.4 1170.1 C1658.6 1171.4 1660.6 1172.2 1663 1172.4 C1665.4 1172.6 1668 1171.5 1670.7 1171.1 C1673.4 1170.7 1676.4 1169.9 1679.2 1170.1 C1682 1170.2 1684.8 1171 1687.8 1172 C1690.8 1173 1694.4 1174.8 1697.3 1175.8 C1700.2 1176.8 1702.7 1177.7 1704.9 1178.1 C1707.1 1178.5 1708.4 1178.5 1710.6 1178.1 C1712.8 1177.6 1715.7 1176.1 1718.2 1175.4 C1720.7 1174.7 1722.7 1174 1725.8 1173.9 C1728.9 1173.8 1735.1 1174.7 1736.9 1174.9" stroke="#5b5b5b"/>
<path d="M1236.2 1178.1 C1237.3 1177.6 1240.4 1176.1 1242.8 1175.4 C1245.2 1174.7 1247.9 1173.8 1250.4 1173.9 C1252.9 1174 1255.5 1175 1258 1175.8 C1260.5 1176.6 1263.5 1178.8 1265.7 1178.7 C1267.9 1178.6 1269.5 1176.2 1271.4 1174.9 C1273.3 1173.6 1275.5 1172 1277.1 1171.1 C1278.7 1170.1 1279.8 1168.4 1280.9 1169.2 C1282 1170 1282.4 1175 1283.7 1175.8 C1285 1176.6 1286.4 1175.5 1288.5 1173.9 C1290.6 1172.3 1293.6 1169 1296.1 1166.3 C1298.6 1163.6 1301.2 1160.3 1303.7 1157.8 C1306.2 1155.3 1308.8 1153.1 1311.3 1151.1 C1313.8 1149.1 1316.4 1147.4 1318.9 1145.8 C1321.4 1144.2 1324 1143.2 1326.5 1141.6 C1329 1139.9 1331.6 1138.3 1334.1 1135.9 C1336.6 1133.5 1339.2 1130.2 1341.7 1127.3 C1344.2 1124.4 1347.2 1121 1349.4 1118.8 C1351.6 1116.6 1353.2 1115 1355.1 1114 C1357 1113 1358.9 1112.7 1360.8 1112.7 C1362.7 1112.7 1364.6 1113 1366.5 1114 C1368.4 1115 1370.3 1116.7 1372.2 1118.8 C1374.1 1120.9 1376 1123.6 1377.9 1126.4 C1379.8 1129.2 1381.7 1132.4 1383.6 1135.9 C1385.5 1139.4 1387.4 1143.3 1389.3 1147.3 C1391.2 1151.3 1393.2 1156 1395 1159.7 C1396.8 1163.4 1398.4 1166.8 1399.8 1169.2 C1401.2 1171.6 1402.3 1173.8 1403.6 1173.9 C1404.9 1174 1406 1170.7 1407.4 1169.7 C1408.8 1168.7 1410 1168.3 1412.1 1167.8 C1414.1 1167.3 1416.8 1167 1419.7 1166.7 C1422.6 1166.4 1426.3 1166.1 1429.2 1165.9 C1432.1 1165.7 1434.4 1165.3 1436.9 1165.4 C1439.5 1165.5 1442 1165.8 1444.5 1166.7 C1447 1167.7 1449.6 1169.6 1452.1 1171.1 C1454.6 1172.6 1457 1174.4 1459.7 1175.8 C1462.4 1177.2 1465.3 1178.9 1468.1 1179.2 C1470.9 1179.5 1473.3 1177.9 1476.6 1177.7 C1479.9 1177.5 1484.5 1178.4 1488 1178.1 C1491.5 1177.8 1494.4 1176.5 1497.6 1175.8 C1500.8 1175.1 1503.9 1174.2 1507.1 1173.9 C1510.3 1173.6 1513.4 1174 1516.6 1173.9 C1519.8 1173.8 1522.9 1173.8 1526.1 1173.5 C1529.3 1173.2 1532.4 1172.3 1535.6 1172 C1538.8 1171.7 1541.9 1171.3 1545.1 1171.6 C1548.3 1171.9 1551.4 1173 1554.6 1173.9 C1557.8 1174.8 1560.9 1176.1 1564.1 1176.8 C1567.3 1177.5 1569.8 1177.9 1573.6 1178.1 C1577.4 1178.3 1582.2 1178.1 1587 1178.1 C1591.8 1178.1 1598.1 1178.5 1602.2 1178.1 C1606.3 1177.6 1607.9 1176.1 1611.7 1175.4 C1615.5 1174.7 1620.2 1174.1 1625 1173.9 C1629.8 1173.7 1635.1 1174 1640.2 1174.3 C1645.3 1174.6 1651.3 1175.4 1655.4 1175.8 C1659.5 1176.2 1661.8 1176.8 1665 1176.8 C1668.2 1176.8 1671.3 1175.8 1674.5 1175.8 C1677.7 1175.8 1680.8 1176.3 1684 1176.8 C1687.2 1177.3 1690 1178.8 1693.5 1178.7 C1697 1178.6 1701.1 1176.5 1704.9 1176.2 C1708.7 1175.9 1712.8 1176.5 1716.3 1176.8 C1719.8 1177.1 1722.4 1178 1725.8 1178.1 C1729.2 1178.2 1735.1 1177.4 1736.9 1177.3" stroke="#e3b83f"/>
<path d="M1236.2 1469.3 C1237.6 1468.9 1241.7 1467.4 1244.7 1466.8 C1247.7 1466.2 1251.2 1465.3 1254.2 1465.8 C1257.2 1466.3 1259.9 1469.6 1262.8 1469.6 C1265.7 1469.6 1268.7 1466.6 1271.4 1465.8 C1274.1 1465 1276.8 1464.6 1279 1464.9 C1281.2 1465.2 1283 1466.7 1284.7 1467.7 C1286.4 1468.7 1287.5 1471.4 1288.9 1471.1 C1290.3 1470.8 1291.5 1467.9 1293.2 1465.8 C1294.9 1463.7 1296.8 1460.2 1298.9 1458.2 C1301 1456.2 1303.2 1454.5 1305.6 1453.5 C1308 1452.5 1310.7 1452.5 1313.2 1452.5 C1315.7 1452.5 1318.6 1453.8 1320.8 1453.5 C1323 1453.2 1324.3 1452.2 1326.5 1450.6 C1328.7 1449 1331.6 1445.7 1334.1 1443.9 C1336.6 1442.1 1339.2 1440.7 1341.7 1439.6 C1344.2 1438.5 1347.2 1438.6 1349.4 1437.3 C1351.6 1436 1353.2 1434.8 1355.1 1431.6 C1357 1428.4 1358.9 1422.9 1360.8 1418.3 C1362.7 1413.7 1364.8 1407.5 1366.5 1404 C1368.2 1400.5 1369.9 1398.4 1371.2 1397 C1372.5 1395.6 1373.4 1395.4 1374.5 1395.4 C1375.6 1395.5 1376.6 1395.4 1377.9 1397.3 C1379.2 1399.2 1381 1403.4 1382.6 1406.9 C1384.2 1410.4 1385.8 1414.5 1387.4 1418.3 C1389 1422.1 1390.7 1426.2 1392.1 1429.7 C1393.5 1433.2 1394.7 1436.7 1396 1439.2 C1397.3 1441.7 1398.4 1443.9 1399.8 1444.9 C1401.2 1445.9 1403.1 1444.7 1404.5 1445.3 C1405.9 1445.9 1407 1447.2 1408.3 1448.7 C1409.6 1450.2 1411.1 1453.3 1412.1 1454.4 C1413.1 1455.5 1413.5 1456.4 1414.4 1455.4 C1415.3 1454.5 1416.3 1454.2 1417.5 1448.7 C1418.7 1443.2 1420 1432.6 1421.3 1422.1 C1422.6 1411.6 1423.9 1398.6 1425.4 1385.9 C1426.9 1373.2 1428.6 1358.4 1430.2 1346 C1431.8 1333.6 1433.3 1321.9 1434.9 1311.7 C1436.5 1301.5 1438.1 1291.9 1439.7 1285.1 C1441.3 1278.3 1443.1 1273.8 1444.5 1270.8 C1445.9 1267.8 1447.2 1267.7 1448.3 1267 C1449.4 1266.3 1450.1 1266 1451.1 1266.5 C1452.1 1267 1453.1 1267 1454.4 1269.9 C1455.7 1272.8 1457.4 1277.4 1458.9 1284 C1460.4 1290.6 1462 1299.7 1463.6 1309.5 C1465.2 1319.3 1466.8 1331.7 1468.4 1343 C1470 1354.3 1471.6 1366.9 1473.2 1377.5 C1474.8 1388.1 1476.4 1398 1478 1406.5 C1479.6 1415 1481.2 1422.5 1482.8 1428.7 C1484.4 1434.9 1485.8 1439.4 1487.6 1443.4 C1489.3 1447.5 1491.3 1450.8 1493.3 1453 C1495.3 1455.2 1497.5 1456 1499.5 1456.7 C1501.5 1457.4 1503.3 1457.7 1505.2 1457.3 C1507.1 1456.9 1509 1456.2 1510.9 1454.4 C1512.8 1452.7 1514.7 1449.7 1516.6 1446.8 C1518.5 1443.9 1520.4 1440.6 1522.3 1437.3 C1524.2 1434 1526.1 1430.3 1528 1426.8 C1529.9 1423.3 1531.8 1419.4 1533.7 1416.4 C1535.6 1413.4 1537.5 1411 1539.4 1408.8 C1541.3 1406.6 1543.2 1404.6 1545.1 1403 C1547 1401.4 1548.9 1400.2 1550.8 1399.2 C1552.7 1398.2 1554.4 1397.8 1556.5 1397.3 C1558.6 1396.8 1561 1396.4 1563.2 1396.4 C1565.4 1396.4 1567.8 1396.5 1569.8 1397.3 C1571.8 1398.1 1573.6 1399.2 1575.5 1401.1 C1577.4 1403 1579.4 1405.9 1581.3 1408.8 C1583.2 1411.7 1585.1 1415.1 1587 1418.3 C1588.9 1421.5 1591.1 1425.5 1592.7 1427.8 C1594.3 1430.1 1595.4 1431.3 1596.5 1432 C1597.6 1432.7 1598.2 1433 1599.3 1432 C1600.4 1431 1601.7 1429.1 1603.1 1425.9 C1604.5 1422.7 1606.2 1417.7 1607.9 1412.6 C1609.7 1407.5 1611.7 1400 1613.6 1395.4 C1615.5 1390.8 1617.5 1387.5 1619.3 1385 C1621 1382.5 1622.5 1381.4 1624.1 1380.6 C1625.7 1379.8 1627.2 1379.6 1628.8 1380.2 C1630.4 1380.8 1632 1381.8 1633.6 1384 C1635.2 1386.2 1636.7 1389.4 1638.3 1393.5 C1639.9 1397.6 1641.5 1403.1 1643.1 1408.8 C1644.7 1414.5 1646.2 1421.5 1647.8 1427.8 C1649.4 1434.1 1651.2 1441.6 1652.6 1446.8 C1654 1452 1655.3 1456.5 1656.4 1459.2 C1657.5 1461.9 1658.2 1462.8 1659.2 1463 C1660.2 1463.2 1661 1462.5 1662.1 1460.1 C1663.2 1457.7 1664.5 1453.1 1665.9 1448.7 C1667.3 1444.3 1669 1438.2 1670.7 1433.5 C1672.5 1428.8 1674.5 1423.9 1676.4 1420.2 C1678.3 1416.5 1680.2 1413.4 1682.1 1411.6 C1684 1409.8 1686.1 1409.2 1687.8 1409.1 C1689.5 1408.9 1690.9 1409.3 1692.5 1410.7 C1694.1 1412.1 1695.5 1414.1 1697.3 1417.3 C1699 1420.5 1701.1 1425.4 1703 1429.7 C1704.9 1434 1706.8 1439 1708.7 1443 C1710.6 1447 1712.5 1450.7 1714.4 1453.5 C1716.3 1456.3 1718.3 1458.4 1720.1 1459.7 C1721.8 1461 1723.2 1461.3 1724.9 1461.1 C1726.7 1460.8 1728.6 1459.3 1730.6 1458.2 C1732.6 1457.1 1735.9 1455 1736.9 1454.4" stroke="#bababa"/>
<path d="M1236.2 1468.7 C1238.6 1468.5 1245.8 1467.3 1250.4 1467.3 C1255 1467.3 1259.3 1468.6 1263.8 1468.7 C1268.2 1468.8 1272.7 1467.9 1277.1 1467.7 C1281.5 1467.5 1286 1467.9 1290.4 1467.7 C1294.8 1467.5 1299.9 1466.8 1303.7 1466.8 C1307.5 1466.8 1310.7 1467.7 1313.2 1467.7 C1315.7 1467.7 1317 1467.4 1318.9 1466.8 C1320.8 1466.2 1322.5 1464.9 1324.6 1463.9 C1326.7 1463 1329.4 1461.5 1331.3 1461.1 C1333.2 1460.7 1334.3 1460.6 1336 1461.6 C1337.7 1462.5 1340.1 1465.4 1341.7 1466.8 C1343.3 1468.2 1344.1 1470.5 1345.5 1470 C1346.9 1469.5 1348.5 1466.7 1350.3 1463.9 C1352 1461.2 1354.1 1456.7 1356 1453.5 C1357.9 1450.3 1360 1446.7 1361.7 1444.9 C1363.4 1443.1 1364.7 1442.8 1366.1 1442.6 C1367.5 1442.4 1369 1443.7 1370.3 1443.9 C1371.6 1444.1 1372.8 1444.7 1374.1 1443.9 C1375.4 1443.1 1376.6 1442.5 1377.9 1439.2 C1379.2 1435.9 1380.4 1431 1381.7 1424 C1383 1417 1384.2 1407.1 1385.5 1397.3 C1386.8 1387.5 1388 1375.8 1389.3 1365 C1390.6 1354.2 1391.7 1343.2 1393.1 1332.7 C1394.5 1322.2 1396.3 1311.1 1397.9 1302.2 C1399.5 1293.3 1401 1285.1 1402.6 1279.4 C1404.2 1273.7 1406 1270.4 1407.4 1268 C1408.8 1265.6 1410.1 1265.7 1411.2 1265.1 C1412.3 1264.5 1412.9 1264.3 1414 1264.6 C1415.1 1264.9 1416.5 1265.2 1417.8 1267 C1419.1 1268.8 1420.2 1270.7 1421.6 1275.6 C1423 1280.5 1424.8 1288.2 1426.4 1296.5 C1428 1304.8 1429.5 1314.9 1431.1 1325.1 C1432.7 1335.2 1434.3 1346.6 1435.9 1357.4 C1437.5 1368.2 1439.1 1378.9 1440.7 1389.7 C1442.3 1400.5 1444 1412.9 1445.4 1422.1 C1446.8 1431.3 1448 1438.7 1449.2 1444.9 C1450.4 1451.1 1451.5 1456.3 1452.6 1459.5 C1453.7 1462.7 1454.5 1464.1 1455.7 1463.9 C1456.9 1463.7 1458.1 1459.9 1459.5 1458.2 C1460.9 1456.5 1462.9 1454.4 1464.3 1453.5 C1465.7 1452.6 1466.7 1452.4 1468.1 1452.9 C1469.5 1453.4 1471.1 1454.6 1472.8 1456.3 C1474.5 1458 1476.9 1461.6 1478.5 1463 C1480.1 1464.4 1481 1465.2 1482.3 1464.9 C1483.6 1464.6 1484.5 1463.5 1486.1 1461.1 C1487.7 1458.7 1489.9 1453.9 1491.8 1450.6 C1493.7 1447.3 1495.7 1443.8 1497.6 1441.1 C1499.5 1438.4 1501.4 1436 1503.3 1434.4 C1505.2 1432.8 1507.3 1431.9 1509 1431.6 C1510.7 1431.3 1512 1431.5 1513.7 1432.5 C1515.4 1433.5 1517.5 1435.5 1519.4 1437.3 C1521.3 1439 1523.3 1441.6 1525.1 1443 C1526.8 1444.4 1528.3 1445.6 1529.9 1445.8 C1531.5 1446 1533 1445.6 1534.6 1443.9 C1536.2 1442.2 1537.8 1439.4 1539.4 1435.4 C1541 1431.5 1542.6 1425.3 1544.2 1420.2 C1545.8 1415.1 1547.3 1409.1 1548.9 1405 C1550.5 1400.9 1552.1 1397.7 1553.7 1395.4 C1555.3 1393.1 1557 1392.1 1558.4 1391.3 C1559.8 1390.5 1560.8 1390.3 1562.2 1390.7 C1563.6 1391.1 1565.4 1391.5 1567 1393.5 C1568.6 1395.5 1570.1 1399.2 1571.7 1403 C1573.3 1406.8 1574.9 1412.3 1576.5 1416.4 C1578.1 1420.5 1579.7 1424.6 1581.3 1427.8 C1582.9 1431 1584.6 1433.9 1586 1435.4 C1587.4 1436.9 1588.5 1437.2 1589.8 1436.9 C1591.1 1436.6 1592.2 1436 1593.6 1433.5 C1595 1431 1596.7 1426.2 1598.4 1422.1 C1600.2 1418 1602.2 1412.3 1604.1 1408.8 C1606 1405.3 1608.1 1402.8 1609.8 1401.1 C1611.5 1399.3 1612.9 1398.7 1614.5 1398.3 C1616.1 1397.9 1617.7 1398.1 1619.3 1398.9 C1620.9 1399.7 1622.3 1400.4 1624.1 1403 C1625.8 1405.6 1627.9 1410.4 1629.8 1414.5 C1631.7 1418.6 1633.6 1423.4 1635.5 1427.8 C1637.4 1432.2 1639.3 1437.3 1641.2 1441.1 C1643.1 1444.9 1645 1448.2 1646.9 1450.6 C1648.8 1453 1650.7 1454.4 1652.6 1455.4 C1654.5 1456.4 1656.2 1456.6 1658.3 1456.7 C1660.4 1456.8 1662.6 1456 1665 1455.9 C1667.4 1455.8 1670.1 1455.9 1672.6 1456.3 C1675.1 1456.7 1677.3 1457.6 1680.2 1458.2 C1683.1 1458.8 1686.2 1459.8 1689.7 1460.1 C1693.2 1460.4 1697.9 1459.9 1701.1 1460.1 C1704.3 1460.3 1706.2 1460.5 1708.7 1461.1 C1711.2 1461.7 1713.8 1463 1716.3 1463.9 C1718.8 1464.9 1721.5 1466.2 1723.9 1466.8 C1726.3 1467.4 1728.4 1467.5 1730.6 1467.3 C1732.8 1467.1 1735.9 1466 1736.9 1465.8" stroke="#5b5b5b"/>
<path d="M1236.2 1468.1 C1237.3 1467.2 1240.8 1464.2 1242.8 1463 C1244.8 1461.8 1246.4 1461.1 1248.5 1461.1 C1250.6 1461.1 1252.8 1462 1255.2 1463 C1257.6 1464 1260.4 1466.8 1262.8 1466.8 C1265.2 1466.8 1267.4 1464.1 1269.5 1463 C1271.6 1461.9 1273.3 1460.5 1275.2 1460.1 C1277.1 1459.7 1279.4 1459.9 1280.9 1460.5 C1282.4 1461.1 1282.7 1464.6 1284.3 1463.9 C1285.9 1463.2 1288.1 1459.3 1290.4 1456.3 C1292.7 1453.3 1295.5 1448.8 1298 1445.8 C1300.5 1442.8 1303.1 1440.3 1305.6 1438.2 C1308.1 1436.1 1310.7 1434.6 1313.2 1433.1 C1315.7 1431.6 1318.3 1430.5 1320.8 1429.3 C1323.3 1428.1 1325.9 1427.3 1328.4 1425.9 C1330.9 1424.5 1333.5 1423 1336 1421.1 C1338.5 1419.2 1341 1416.6 1343.6 1414.5 C1346.1 1412.4 1348.9 1410.1 1351.3 1408.4 C1353.7 1406.8 1355.7 1405.5 1357.9 1404.6 C1360.1 1403.7 1362.5 1403 1364.6 1403 C1366.7 1403 1368.4 1403.6 1370.3 1404.6 C1372.2 1405.6 1374.1 1406.8 1376 1408.8 C1377.9 1410.8 1379.8 1413.4 1381.7 1416.4 C1383.6 1419.4 1385.5 1423 1387.4 1426.8 C1389.3 1430.6 1391.2 1435.1 1393.1 1439.2 C1395 1443.3 1397 1447.9 1398.8 1451.6 C1400.5 1455.2 1402.2 1458.8 1403.6 1461.1 C1405 1463.4 1406 1464.7 1407.4 1465.4 C1408.8 1466.1 1410.4 1465.9 1412.1 1465.4 C1413.8 1464.9 1415.6 1463.4 1417.8 1462.4 C1420 1461.4 1422.5 1460 1425.4 1459.2 C1428.3 1458.4 1431.8 1457.8 1435 1457.8 C1438.2 1457.8 1441.3 1458.3 1444.5 1459.2 C1447.7 1460.1 1450.8 1461.8 1454 1463 C1457.2 1464.2 1460.4 1465.4 1463.5 1466.2 C1466.6 1467 1469.3 1468 1472.8 1468.1 C1476.2 1468.2 1480.1 1467.3 1484.2 1466.8 C1488.3 1466.3 1492.2 1465.3 1497.6 1464.9 C1503 1464.5 1510.3 1464.6 1516.6 1464.3 C1522.9 1464 1530.2 1463.4 1535.6 1463.3 C1541 1463.2 1544.2 1463.2 1548.9 1463.9 C1553.7 1464.6 1559.3 1466.3 1564.1 1467.3 C1568.8 1468.3 1573.3 1469.8 1577.4 1470 C1581.5 1470.2 1584.8 1469.1 1588.9 1468.7 C1593 1468.3 1597.5 1467.7 1602.2 1467.7 C1607 1467.7 1612.3 1468.1 1617.4 1468.7 C1622.5 1469.3 1628.2 1470.9 1632.6 1471.1 C1637 1471.3 1639.6 1470.4 1644 1470 C1648.4 1469.6 1653.5 1469 1659.2 1468.9 C1664.9 1468.8 1672 1469.2 1678.3 1469.2 C1684.6 1469.2 1691 1469.2 1697.3 1469.2 C1703.6 1469.2 1709.7 1469.1 1716.3 1469.2 C1722.9 1469.3 1733.5 1469.5 1736.9 1469.6" stroke="#4a86b0"/>
</g>
<rect x="1234.6" y="620.2" width="503.9" height="869" fill="none" stroke="#000" stroke-width="3.3"/>
<path d="M1234.6 910.2 H1738.5 M1234.6 1199.6 H1738.5" stroke="#000" stroke-width="3.1" fill="none"/>
<path d="M1234.6 1489 V1495.6" stroke="#000" stroke-width="3.1"/>
<text x="1234.6" y="1521.2" font-size="27.2" font-weight="bold" text-anchor="middle" fill="#000" >0</text>
<path d="M1276.6 1489 V1492.8" stroke="#000" stroke-width="2.6"/>
<path d="M1318.6 1489 V1495.6" stroke="#000" stroke-width="3.1"/>
<text x="1318.6" y="1521.2" font-size="27.2" font-weight="bold" text-anchor="middle" fill="#000" >1</text>
<path d="M1360.6 1489 V1492.8" stroke="#000" stroke-width="2.6"/>
<path d="M1402.6 1489 V1495.6" stroke="#000" stroke-width="3.1"/>
<text x="1402.6" y="1521.2" font-size="27.2" font-weight="bold" text-anchor="middle" fill="#000" >2</text>
<path d="M1444.6 1489 V1492.8" stroke="#000" stroke-width="2.6"/>
<path d="M1486.5 1489 V1495.6" stroke="#000" stroke-width="3.1"/>
<text x="1486.5" y="1521.2" font-size="27.2" font-weight="bold" text-anchor="middle" fill="#000" >3</text>
<path d="M1528.5 1489 V1492.8" stroke="#000" stroke-width="2.6"/>
<path d="M1570.5 1489 V1495.6" stroke="#000" stroke-width="3.1"/>
<text x="1570.5" y="1521.2" font-size="27.2" font-weight="bold" text-anchor="middle" fill="#000" >4</text>
<path d="M1612.5 1489 V1492.8" stroke="#000" stroke-width="2.6"/>
<path d="M1654.5 1489 V1495.6" stroke="#000" stroke-width="3.1"/>
<text x="1654.5" y="1521.2" font-size="27.2" font-weight="bold" text-anchor="middle" fill="#000" >5</text>
<path d="M1696.5 1489 V1492.8" stroke="#000" stroke-width="2.6"/>
<path d="M1738.5 1489 V1495.6" stroke="#000" stroke-width="3.1"/>
<text x="1738.5" y="1521.2" font-size="27.2" font-weight="bold" text-anchor="middle" fill="#000" >6</text>
<text x="1493" y="1553.7" font-size="34.6" font-weight="bold" text-anchor="middle" fill="#000" >R (Å)</text>
<text transform="translate(1197 1054.8) rotate(-90)" font-size="34.5" font-weight="bold" text-anchor="middle" textLength="263.7" lengthAdjust="spacingAndGlyphs">|FT(k<tspan font-size="22" dy="-12.5">3</tspan><tspan dy="12.5" font-weight="normal" font-size="40" class="ser">χ</tspan>(k))| (Å<tspan font-size="22" dy="-13.5">-4</tspan><tspan dy="13.5">)</tspan></text>
<path d="M1240.5 634.3 H1285.5" stroke="#df3f5a" stroke-width="3.1" stroke-linecap="round" fill="none"/>
<text x="1293.2" y="641.4" font-size="21.4" font-weight="bold" text-anchor="start" fill="#000" textLength="158.5" lengthAdjust="spacingAndGlyphs">Fe<tspan font-size="13.8" dy="5.2">SA</tspan><tspan dy="-5.2">Ru</tspan><tspan font-size="13.8" dy="5.2">AC</tspan><tspan dy="-5.2">@NCB</tspan></text>
<path d="M1240.5 667.1 H1285.5" stroke="#5b5b5b" stroke-width="3.1" stroke-linecap="round" fill="none"/>
<text x="1293.2" y="673.7" font-size="21.4" font-weight="bold" text-anchor="start" fill="#000" textLength="64.1" lengthAdjust="spacingAndGlyphs">Fe foil</text>
<path d="M1240.5 695.6 H1285.5" stroke="#bababa" stroke-width="3.1" stroke-linecap="round" fill="none"/>
<text x="1293.2" y="702.3" font-size="21.4" font-weight="bold" text-anchor="start" fill="#000" textLength="59" lengthAdjust="spacingAndGlyphs">Fe<tspan font-size="13.8" dy="5.2">2</tspan><tspan dy="-5.2">O</tspan><tspan font-size="13.8" dy="5.2">3</tspan></text>
<path d="M1240.5 927.2 H1285.5" stroke="#e3b83f" stroke-width="3.1" stroke-linecap="round" fill="none"/>
<text x="1293.2" y="933.9" font-size="21.4" font-weight="bold" text-anchor="start" fill="#000" textLength="162.1" lengthAdjust="spacingAndGlyphs">Co<tspan font-size="13.8" dy="5.2">SA</tspan><tspan dy="-5.2">Ru</tspan><tspan font-size="13.8" dy="5.2">AC</tspan><tspan dy="-5.2">@NCB</tspan></text>
<path d="M1240.5 959.9 H1285.5" stroke="#5b5b5b" stroke-width="3.1" stroke-linecap="round" fill="none"/>
<text x="1293.2" y="966.2" font-size="21.4" font-weight="bold" text-anchor="start" fill="#000" textLength="67.5" lengthAdjust="spacingAndGlyphs">Co foil</text>
<path d="M1240.5 988.5 H1285.5" stroke="#bababa" stroke-width="3.1" stroke-linecap="round" fill="none"/>
<text x="1293.2" y="994.7" font-size="21.4" font-weight="bold" text-anchor="start" fill="#000" textLength="62.8" lengthAdjust="spacingAndGlyphs">Co<tspan font-size="13.8" dy="5.2">3</tspan><tspan dy="-5.2">O</tspan><tspan font-size="13.8" dy="5.2">4</tspan></text>
<path d="M1240.5 1215.7 H1285.5" stroke="#4a86b0" stroke-width="3.1" stroke-linecap="round" fill="none"/>
<text x="1293.6" y="1222.3" font-size="21.4" font-weight="bold" text-anchor="start" fill="#000" textLength="154.7" lengthAdjust="spacingAndGlyphs">Ni<tspan font-size="13.8" dy="5.2">SA</tspan><tspan dy="-5.2">Ru</tspan><tspan font-size="13.8" dy="5.2">AC</tspan><tspan dy="-5.2">@NCB</tspan></text>
<path d="M1240.5 1248 H1285.5" stroke="#5b5b5b" stroke-width="3.1" stroke-linecap="round" fill="none"/>
<text x="1293.6" y="1254.7" font-size="21.4" font-weight="bold" text-anchor="start" fill="#000" textLength="60.5" lengthAdjust="spacingAndGlyphs">Ni foil</text>
<path d="M1240.5 1277.1 H1285.5" stroke="#bababa" stroke-width="3.1" stroke-linecap="round" fill="none"/>
<text x="1293.6" y="1283.2" font-size="21.4" font-weight="bold" text-anchor="start" fill="#000" textLength="37.7" lengthAdjust="spacingAndGlyphs">NiO</text>
<text x="1316.6" y="766.9" font-size="15.8" font-weight="bold" text-anchor="start" fill="#c9211d" textLength="34.6" lengthAdjust="spacingAndGlyphs">Fe-N</text>
<path d="M1335.1 775.9 L1341.8 784.6" stroke="#c9211d" stroke-width="1.6" fill="none"/>
<path d="M1349.7 794.9 L1338.4 787.2 L1345.1 782 Z" fill="#c9211d"/>
<text x="1432.7" y="667.4" font-size="15.8" font-weight="bold" text-anchor="start" fill="#777" textLength="42.2" lengthAdjust="spacingAndGlyphs">Fe-Fe</text>
<path d="M1446 671.3 L1440.1 676.2" stroke="#6a6a6a" stroke-width="1.6" fill="none"/>
<path d="M1430.2 684.6 L1437.4 673 L1442.9 679.4 Z" fill="#6a6a6a"/>
<text x="1454" y="777" font-size="15.8" font-weight="bold" text-anchor="start" fill="#555" textLength="35.8" lengthAdjust="spacingAndGlyphs">× 1/3</text>
<text x="1361.7" y="981.4" font-size="15.8" font-weight="bold" text-anchor="start" fill="#6e6e6e" textLength="48.1" lengthAdjust="spacingAndGlyphs">Co-Co</text>
<path d="M1390.8 990.4 L1395.3 1002.9" stroke="#6a6a6a" stroke-width="1.6" fill="none"/>
<path d="M1399.8 1015.1 L1391.4 1004.3 L1399.3 1001.4 Z" fill="#6a6a6a"/>
<text x="1297" y="1071.8" font-size="15.8" font-weight="bold" text-anchor="start" fill="#e3b83f" textLength="38" lengthAdjust="spacingAndGlyphs">Co-N</text>
<path d="M1333.2 1079.8 L1345.2 1100.8" stroke="#e3b83f" stroke-width="1.6" fill="none"/>
<path d="M1351.6 1112.1 L1341.5 1102.9 L1348.8 1098.7 Z" fill="#e3b83f"/>
<text x="1451.1" y="1133" font-size="15.8" font-weight="bold" text-anchor="start" fill="#555" textLength="35.8" lengthAdjust="spacingAndGlyphs">× 1/3</text>
<text x="1365.5" y="1262.3" font-size="15.8" font-weight="bold" text-anchor="start" fill="#6e6e6e" textLength="37.5" lengthAdjust="spacingAndGlyphs">Ni-Ni</text>
<path d="M1389.9 1269.9 L1394.1 1280.6" stroke="#6a6a6a" stroke-width="1.6" fill="none"/>
<path d="M1398.8 1292.7 L1390.2 1282.1 L1398 1279.1 Z" fill="#6a6a6a"/>
<text x="1304.6" y="1361.2" font-size="15.8" font-weight="bold" text-anchor="start" fill="#4a86b0" textLength="32.4" lengthAdjust="spacingAndGlyphs">Ni-N</text>
<path d="M1331.9 1367.9 L1343.6 1385.1" stroke="#4a86b0" stroke-width="1.6" fill="none"/>
<path d="M1350.9 1395.8 L1340.1 1387.4 L1347.1 1382.7 Z" fill="#4a86b0"/>
<text x="1475.3" y="1349.8" font-size="15.8" font-weight="bold" text-anchor="start" fill="#b4b4b4" textLength="35.8" lengthAdjust="spacingAndGlyphs">× 1/2</text>
<text x="1541.7" y="1443" font-size="15.8" font-weight="bold" text-anchor="start" fill="#444" textLength="35.8" lengthAdjust="spacingAndGlyphs">× 1/3</text>
<text x="1180.6" y="667" font-size="57" font-weight="normal" text-anchor="start" fill="#000" textLength="17.5" lengthAdjust="spacingAndGlyphs">f</text>
</svg>
</body></html>
